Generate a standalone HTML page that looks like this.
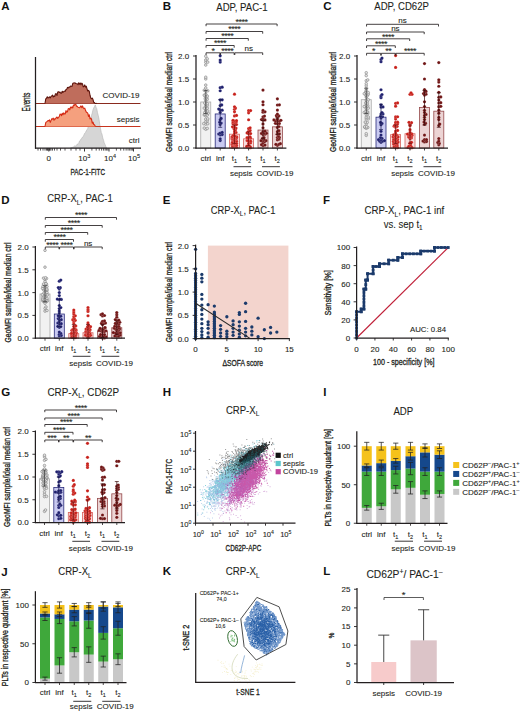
<!DOCTYPE html>
<html><head><meta charset="utf-8"><title>Figure</title>
<style>html,body{margin:0;padding:0;background:#fff;width:520px;height:712px;overflow:hidden;font-family:"Liberation Sans",sans-serif}svg{display:block}svg text:not([font-weight]){stroke:#231f20;stroke-width:0.1px;paint-order:stroke}svg text.c{stroke-width:0.32px}</style>
</head><body>
<svg width="520" height="712" viewBox="0 0 520 712" font-family='"Liberation Sans", sans-serif'>
<rect width="520" height="712" fill="#fff"/>
<text x="1.2" y="10.2" font-size="11.5" text-anchor="start" font-weight="bold" fill="#111" >A</text>
<text x="162.8" y="10.2" font-size="11.5" text-anchor="start" font-weight="bold" fill="#111" >B</text>
<text x="323.2" y="10.3" font-size="11.5" text-anchor="start" font-weight="bold" fill="#111" >C</text>
<text x="1.2" y="204" font-size="11.5" text-anchor="start" font-weight="bold" fill="#111" >D</text>
<text x="162.8" y="204" font-size="11.5" text-anchor="start" font-weight="bold" fill="#111" >E</text>
<text x="323" y="203.8" font-size="11.5" text-anchor="start" font-weight="bold" fill="#111" >F</text>
<text x="1.2" y="396" font-size="11.5" text-anchor="start" font-weight="bold" fill="#111" >G</text>
<text x="162.8" y="396" font-size="11.5" text-anchor="start" font-weight="bold" fill="#111" >H</text>
<text x="323.2" y="395.8" font-size="11.5" text-anchor="start" font-weight="bold" fill="#111" >I</text>
<text x="1.2" y="575.5" font-size="11.5" text-anchor="start" font-weight="bold" fill="#111" >J</text>
<text x="162.8" y="575.3" font-size="11.5" text-anchor="start" font-weight="bold" fill="#111" >K</text>
<text x="323.2" y="575" font-size="11.5" text-anchor="start" font-weight="bold" fill="#111" >L</text>
<text x="241.95" y="10.5" font-size="10" text-anchor="middle" fill="#231f20" textLength="51.3" lengthAdjust="spacingAndGlyphs">ADP, PAC-1</text>
<text x="401.6" y="10.1" font-size="10" text-anchor="middle" fill="#231f20" textLength="54.6" lengthAdjust="spacingAndGlyphs">ADP, CD62P</text>
<text x="80" y="202.3" font-size="10" text-anchor="middle" fill="#231f20" textLength="65.4" lengthAdjust="spacingAndGlyphs">CRP-X<tspan font-size="6.8" dy="2.5">L</tspan><tspan dy="-2.5">, PAC-1</tspan></text>
<text x="243.1" y="213.8" font-size="10" text-anchor="middle" fill="#231f20" textLength="64.6" lengthAdjust="spacingAndGlyphs">CRP-X<tspan font-size="6.8" dy="2.5">L</tspan><tspan dy="-2.5">, PAC-1</tspan></text>
<text x="404.35" y="214.2" font-size="10" text-anchor="middle" fill="#231f20" textLength="79.9" lengthAdjust="spacingAndGlyphs">CRP-X<tspan font-size="6.8" dy="2.5">L</tspan><tspan dy="-2.5">, PAC-1 inf</tspan></text>
<text x="403.25" y="227.7" font-size="10" text-anchor="middle" fill="#231f20" textLength="38.9" lengthAdjust="spacingAndGlyphs">vs. sep t<tspan font-size="6.8" dy="2.3">1</tspan></text>
<text x="83.3" y="395.9" font-size="10" text-anchor="middle" fill="#231f20" textLength="71.8" lengthAdjust="spacingAndGlyphs">CRP-X<tspan font-size="6.8" dy="2.5">L</tspan><tspan dy="-2.5">, CD62P</tspan></text>
<text x="242.6" y="413.5" font-size="10" text-anchor="middle" fill="#231f20" textLength="33.4" lengthAdjust="spacingAndGlyphs">CRP-X<tspan font-size="6.8" dy="2.5">L</tspan><tspan dy="-2.5"></tspan></text>
<text x="403.3" y="414.8" font-size="10" text-anchor="middle" fill="#231f20" textLength="19.8" lengthAdjust="spacingAndGlyphs">ADP</text>
<text x="75" y="575.2" font-size="10" text-anchor="middle" fill="#231f20" textLength="33.4" lengthAdjust="spacingAndGlyphs">CRP-X<tspan font-size="6.8" dy="2.5">L</tspan><tspan dy="-2.5"></tspan></text>
<text x="242.8" y="575" font-size="10" text-anchor="middle" fill="#231f20" textLength="33.9" lengthAdjust="spacingAndGlyphs">CRP-X<tspan font-size="6.8" dy="2.5">L</tspan><tspan dy="-2.5"></tspan></text>
<text x="404.5" y="577.6" font-size="10" text-anchor="middle" fill="#231f20" textLength="76.1" lengthAdjust="spacingAndGlyphs">CD62P<tspan font-size="6.8" dy="-3.6">+</tspan><tspan dy="3.6">/ PAC-1</tspan><tspan font-size="6.8" dy="-3.6">&#8211;</tspan></text>
<path d="M70.5 148 L70.5 148 L71.25 147.68 L72 147.78 L72.75 146.96 L73.5 146.92 L74.25 146.18 L75 145.67 L75.75 146.1 L76.5 145.72 L77.25 143.93 L78 144.39 L78.75 143.3 L79.5 140.96 L80.25 140.67 L81 138.96 L81.75 138.41 L82.5 137.03 L83.25 136.68 L84 134.78 L84.75 133.16 L85.5 132.46 L86.25 130.86 L87 129.73 L87.75 128.45 L88.5 125.09 L89.25 123.1 L90 121.32 L90.75 119.5 L91.5 115.42 L92.25 113.04 L93 109.65 L93.75 107.86 L94.5 106.59 L95.25 104.92 L96 107.21 L96.75 108.69 L97.5 112.76 L98.25 115.47 L99 119.06 L99.75 124.14 L100.5 128.58 L101.25 132.45 L102 134.26 L102.75 137.94 L103.5 140.13 L104.25 142.92 L105 144.39 L105.75 146.38 L106.5 148 Z" fill="#d6d6d6" stroke="#b4b4b4" stroke-width="0.6" />
<line x1="35.5" y1="126.5" x2="140.5" y2="126.5" stroke="#c8341e" stroke-width="1" />
<path d="M45 126.5 L45 126.5 L45.75 122.64 L46.5 121.9 L47.25 121.37 L48 120.54 L48.75 120.83 L49.5 119.89 L50.25 122.38 L51 120.61 L51.75 118.71 L52.5 119.27 L53.25 118.09 L54 120.24 L54.75 118.72 L55.5 119.01 L56.25 117.61 L57 117.06 L57.75 118.41 L58.5 117.31 L59.25 116.66 L60 114.17 L60.75 114.2 L61.5 115.69 L62.25 113.2 L63 114.86 L63.75 112.87 L64.5 113.99 L65.25 113.92 L66 110.61 L66.75 112.2 L67.5 111.66 L68.25 108.68 L69 108.51 L69.75 109.85 L70.5 107.15 L71.25 107.94 L72 106.93 L72.75 107.88 L73.5 104.96 L74.25 105.33 L75 104.26 L75.75 104.3 L76.5 106.31 L77.25 106.36 L78 107.24 L78.75 107.55 L79.5 107.81 L80.25 106.93 L81 105.84 L81.75 107.63 L82.5 105.93 L83.25 107.77 L84 108.61 L84.75 108.11 L85.5 110.31 L86.25 111.96 L87 112.56 L87.75 113.1 L88.5 116.42 L89.25 114.73 L90 119.03 L90.75 118.08 L91.5 119.15 L92.25 123.17 L93 122.08 L93.75 124.48 L94.5 124.85 L95.25 126.15 L95.25 126.5 Z" fill="#f5a07e" stroke="none" stroke-width="1" />
<path d="M45 126.5 L45 126.5 L45.75 122.64 L46.5 121.9 L47.25 121.37 L48 120.54 L48.75 120.83 L49.5 119.89 L50.25 122.38 L51 120.61 L51.75 118.71 L52.5 119.27 L53.25 118.09 L54 120.24 L54.75 118.72 L55.5 119.01 L56.25 117.61 L57 117.06 L57.75 118.41 L58.5 117.31 L59.25 116.66 L60 114.17 L60.75 114.2 L61.5 115.69 L62.25 113.2 L63 114.86 L63.75 112.87 L64.5 113.99 L65.25 113.92 L66 110.61 L66.75 112.2 L67.5 111.66 L68.25 108.68 L69 108.51 L69.75 109.85 L70.5 107.15 L71.25 107.94 L72 106.93 L72.75 107.88 L73.5 104.96 L74.25 105.33 L75 104.26 L75.75 104.3 L76.5 106.31 L77.25 106.36 L78 107.24 L78.75 107.55 L79.5 107.81 L80.25 106.93 L81 105.84 L81.75 107.63 L82.5 105.93 L83.25 107.77 L84 108.61 L84.75 108.11 L85.5 110.31 L86.25 111.96 L87 112.56 L87.75 113.1 L88.5 116.42 L89.25 114.73 L90 119.03 L90.75 118.08 L91.5 119.15 L92.25 123.17 L93 122.08 L93.75 124.48 L94.5 124.85 L95.25 126.15" fill="none" stroke="#d42a14" stroke-width="1.1" stroke-linejoin="round"/>
<line x1="35.5" y1="103.5" x2="140.5" y2="103.5" stroke="#8a2a1e" stroke-width="1" />
<path d="M45 103.5 L45 103.5 L45.75 98.92 L46.5 98.27 L47.25 96.79 L48 97.94 L48.75 97.5 L49.5 96.93 L50.25 97.91 L51 96.56 L51.75 95.88 L52.5 95.06 L53.25 97 L54 96.03 L54.75 96.41 L55.5 93.76 L56.25 93.76 L57 95.47 L57.75 92.08 L58.5 91.76 L59.25 92.38 L60 92.13 L60.75 93.22 L61.5 93.3 L62.25 91.28 L63 92.41 L63.75 91.62 L64.5 91.08 L65.25 91.35 L66 89.52 L66.75 89.14 L67.5 87.4 L68.25 87.99 L69 87.15 L69.75 87.15 L70.5 86.15 L71.25 86.3 L72 86.38 L72.75 83.57 L73.5 83.03 L74.25 82.95 L75 82.8 L75.75 83.48 L76.5 83.73 L77.25 83.78 L78 84.73 L78.75 82.74 L79.5 84.16 L80.25 82.98 L81 84.74 L81.75 83.19 L82.5 83.83 L83.25 86.82 L84 86.43 L84.75 84.94 L85.5 87.1 L86.25 86.21 L87 88.83 L87.75 90.99 L88.5 90.34 L89.25 91.36 L90 95.24 L90.75 97.87 L91.5 98.74 L92.25 98.09 L93 99.57 L93.75 102.45 L94.5 102.64 L95.25 103.5 L96 103.5 L96.75 103.33 L96.75 103.5 Z" fill="#bf6d5c" stroke="none" stroke-width="1" />
<path d="M45 103.5 L45 103.5 L45.75 98.92 L46.5 98.27 L47.25 96.79 L48 97.94 L48.75 97.5 L49.5 96.93 L50.25 97.91 L51 96.56 L51.75 95.88 L52.5 95.06 L53.25 97 L54 96.03 L54.75 96.41 L55.5 93.76 L56.25 93.76 L57 95.47 L57.75 92.08 L58.5 91.76 L59.25 92.38 L60 92.13 L60.75 93.22 L61.5 93.3 L62.25 91.28 L63 92.41 L63.75 91.62 L64.5 91.08 L65.25 91.35 L66 89.52 L66.75 89.14 L67.5 87.4 L68.25 87.99 L69 87.15 L69.75 87.15 L70.5 86.15 L71.25 86.3 L72 86.38 L72.75 83.57 L73.5 83.03 L74.25 82.95 L75 82.8 L75.75 83.48 L76.5 83.73 L77.25 83.78 L78 84.73 L78.75 82.74 L79.5 84.16 L80.25 82.98 L81 84.74 L81.75 83.19 L82.5 83.83 L83.25 86.82 L84 86.43 L84.75 84.94 L85.5 87.1 L86.25 86.21 L87 88.83 L87.75 90.99 L88.5 90.34 L89.25 91.36 L90 95.24 L90.75 97.87 L91.5 98.74 L92.25 98.09 L93 99.57 L93.75 102.45 L94.5 102.64 L95.25 103.5 L96 103.5 L96.75 103.33" fill="none" stroke="#5e140c" stroke-width="1.1" stroke-linejoin="round"/>
<line x1="35.5" y1="57" x2="35.5" y2="148.8" stroke="#231f20" stroke-width="1.25" />
<line x1="35" y1="148.2" x2="141" y2="148.2" stroke="#231f20" stroke-width="1.25" />
<line x1="48.8" y1="148.2" x2="48.8" y2="151.5" stroke="#231f20" stroke-width="0.9" />
<line x1="84.5" y1="148.2" x2="84.5" y2="151.5" stroke="#231f20" stroke-width="0.9" />
<line x1="109" y1="148.2" x2="109" y2="151.5" stroke="#231f20" stroke-width="0.9" />
<line x1="133.5" y1="148.2" x2="133.5" y2="151.5" stroke="#231f20" stroke-width="0.9" />
<line x1="91.88" y1="148.2" x2="91.88" y2="150.6" stroke="#231f20" stroke-width="0.75" />
<line x1="96.19" y1="148.2" x2="96.19" y2="150.6" stroke="#231f20" stroke-width="0.75" />
<line x1="99.25" y1="148.2" x2="99.25" y2="150.6" stroke="#231f20" stroke-width="0.75" />
<line x1="101.62" y1="148.2" x2="101.62" y2="150.6" stroke="#231f20" stroke-width="0.75" />
<line x1="103.56" y1="148.2" x2="103.56" y2="150.6" stroke="#231f20" stroke-width="0.75" />
<line x1="105.2" y1="148.2" x2="105.2" y2="150.6" stroke="#231f20" stroke-width="0.75" />
<line x1="106.63" y1="148.2" x2="106.63" y2="150.6" stroke="#231f20" stroke-width="0.75" />
<line x1="107.88" y1="148.2" x2="107.88" y2="150.6" stroke="#231f20" stroke-width="0.75" />
<line x1="116.38" y1="148.2" x2="116.38" y2="150.6" stroke="#231f20" stroke-width="0.75" />
<line x1="120.69" y1="148.2" x2="120.69" y2="150.6" stroke="#231f20" stroke-width="0.75" />
<line x1="123.75" y1="148.2" x2="123.75" y2="150.6" stroke="#231f20" stroke-width="0.75" />
<line x1="126.12" y1="148.2" x2="126.12" y2="150.6" stroke="#231f20" stroke-width="0.75" />
<line x1="128.06" y1="148.2" x2="128.06" y2="150.6" stroke="#231f20" stroke-width="0.75" />
<line x1="129.7" y1="148.2" x2="129.7" y2="150.6" stroke="#231f20" stroke-width="0.75" />
<line x1="131.13" y1="148.2" x2="131.13" y2="150.6" stroke="#231f20" stroke-width="0.75" />
<line x1="132.38" y1="148.2" x2="132.38" y2="150.6" stroke="#231f20" stroke-width="0.75" />
<line x1="38" y1="148.2" x2="38" y2="150.6" stroke="#231f20" stroke-width="0.75" />
<line x1="40.5" y1="148.2" x2="40.5" y2="150.6" stroke="#231f20" stroke-width="0.75" />
<line x1="43" y1="148.2" x2="43" y2="150.6" stroke="#231f20" stroke-width="0.75" />
<line x1="45" y1="148.2" x2="45" y2="150.6" stroke="#231f20" stroke-width="0.75" />
<line x1="46.5" y1="148.2" x2="46.5" y2="150.6" stroke="#231f20" stroke-width="0.75" />
<line x1="47.5" y1="148.2" x2="47.5" y2="150.6" stroke="#231f20" stroke-width="0.75" />
<line x1="48" y1="148.2" x2="48" y2="150.6" stroke="#231f20" stroke-width="0.75" />
<line x1="49.5" y1="148.2" x2="49.5" y2="150.6" stroke="#231f20" stroke-width="0.75" />
<line x1="50" y1="148.2" x2="50" y2="150.6" stroke="#231f20" stroke-width="0.75" />
<line x1="51" y1="148.2" x2="51" y2="150.6" stroke="#231f20" stroke-width="0.75" />
<line x1="52.5" y1="148.2" x2="52.5" y2="150.6" stroke="#231f20" stroke-width="0.75" />
<line x1="54.5" y1="148.2" x2="54.5" y2="150.6" stroke="#231f20" stroke-width="0.75" />
<line x1="57" y1="148.2" x2="57" y2="150.6" stroke="#231f20" stroke-width="0.75" />
<line x1="60.5" y1="148.2" x2="60.5" y2="150.6" stroke="#231f20" stroke-width="0.75" />
<line x1="65" y1="148.2" x2="65" y2="150.6" stroke="#231f20" stroke-width="0.75" />
<line x1="71" y1="148.2" x2="71" y2="150.6" stroke="#231f20" stroke-width="0.75" />
<line x1="76" y1="148.2" x2="76" y2="150.6" stroke="#231f20" stroke-width="0.75" />
<line x1="80" y1="148.2" x2="80" y2="150.6" stroke="#231f20" stroke-width="0.75" />
<text x="48.8" y="161" font-size="8" text-anchor="middle" fill="#231f20" >0</text>
<text x="84.3" y="161" font-size="8" text-anchor="middle" fill="#231f20">10<tspan font-size="5.5" dy="-3">3</tspan></text>
<text x="110" y="161" font-size="8" text-anchor="middle" fill="#231f20">10<tspan font-size="5.5" dy="-3">4</tspan></text>
<text x="134" y="161" font-size="8" text-anchor="middle" fill="#231f20">10<tspan font-size="5.5" dy="-3">5</tspan></text>
<text class="c" x="87.8" y="174.8" font-size="9.6" text-anchor="middle" textLength="34.4" lengthAdjust="spacingAndGlyphs" fill="#231f20">PAC-1-FITC</text>
<text class="c" x="29.9" y="102.1" font-size="10" text-anchor="middle" textLength="19" lengthAdjust="spacingAndGlyphs" fill="#231f20" transform="rotate(-90 29.9 102.1)">Events</text>
<text x="139.5" y="97.5" font-size="8" text-anchor="end" fill="#231f20" >COVID-19</text>
<text x="139.5" y="121.5" font-size="8" text-anchor="end" fill="#231f20" >sepsis</text>
<text x="139.5" y="142.5" font-size="8" text-anchor="end" fill="#231f20" >ctrl</text>
<rect x="200.75" y="102" width="10" height="46" fill="#f1f1f1" stroke="#a9a9a9" stroke-width="0.8" />
<rect x="215.2" y="113.96" width="10" height="34.04" fill="#c9caf1" stroke="#2a2b7a" stroke-width="0.8" />
<rect x="229.5" y="134.2" width="10" height="13.8" fill="#f8dede" stroke="#d8625c" stroke-width="0.8" />
<rect x="243.6" y="138.8" width="10" height="9.2" fill="#f8dede" stroke="#d8625c" stroke-width="0.8" />
<rect x="258" y="130.06" width="10" height="17.94" fill="#ecd4d4" stroke="#94494a" stroke-width="0.8" />
<rect x="272.4" y="126.84" width="10" height="21.16" fill="#ecd4d4" stroke="#94494a" stroke-width="0.8" />
<g fill="#e2e2e2" stroke="#808080" stroke-width="0.6"><circle cx="205.75" cy="129.24" r="1.3"/><circle cx="207.25" cy="128.42" r="1.3"/><circle cx="204.25" cy="128.1" r="1.3"/><circle cx="205.75" cy="124.19" r="1.3"/><circle cx="207.75" cy="123.77" r="1.3"/><circle cx="203.75" cy="123.65" r="1.3"/><circle cx="205.75" cy="121.68" r="1.3"/><circle cx="207.25" cy="120.79" r="1.3"/><circle cx="205.75" cy="119.14" r="1.3"/><circle cx="207.75" cy="118.89" r="1.3"/><circle cx="205.75" cy="115.73" r="1.3"/><circle cx="207.25" cy="115.09" r="1.3"/><circle cx="204.25" cy="114.92" r="1.3"/><circle cx="204.86" cy="114.37" r="1.3"/><circle cx="206.25" cy="113.4" r="1.3"/><circle cx="208.25" cy="113.22" r="1.3"/><circle cx="204.75" cy="112.6" r="1.3"/><circle cx="205.75" cy="110.99" r="1.3"/><circle cx="207.75" cy="110.98" r="1.3"/><circle cx="205.75" cy="108.99" r="1.3"/><circle cx="207.25" cy="108.17" r="1.3"/><circle cx="204.25" cy="108.12" r="1.3"/><circle cx="205.75" cy="106.42" r="1.3"/><circle cx="207.25" cy="105.5" r="1.3"/><circle cx="205.75" cy="104.37" r="1.3"/><circle cx="207.25" cy="103.68" r="1.3"/><circle cx="204.75" cy="103.05" r="1.3"/><circle cx="205.75" cy="100.51" r="1.3"/><circle cx="207.25" cy="99.37" r="1.3"/><circle cx="205.25" cy="98.88" r="1.3"/><circle cx="206.75" cy="97.69" r="1.3"/><circle cx="205.25" cy="96.59" r="1.3"/><circle cx="207.25" cy="96.09" r="1.3"/><circle cx="204.25" cy="95.15" r="1.3"/><circle cx="205.75" cy="94.33" r="1.3"/><circle cx="205.75" cy="91.23" r="1.3"/><circle cx="207.75" cy="90.78" r="1.3"/><circle cx="204.25" cy="90.24" r="1.3"/><circle cx="205.75" cy="88" r="1.3"/><circle cx="205.75" cy="85.07" r="1.3"/><circle cx="205.75" cy="78.95" r="1.3"/><circle cx="205.75" cy="77.18" r="1.3"/><circle cx="205.75" cy="65.05" r="1.3"/><circle cx="205.75" cy="62.25" r="1.3"/><circle cx="207.75" cy="62.12" r="1.3"/><circle cx="205.75" cy="60.01" r="1.3"/><circle cx="207.25" cy="58.8" r="1.3"/><circle cx="205.75" cy="56.25" r="1.3"/></g>
<g fill="#1e1f6e" stroke="#fff" stroke-width="0.15"><circle cx="220.2" cy="140.58" r="1.6"/><circle cx="220.2" cy="138.78" r="1.6"/><circle cx="220.2" cy="135" r="1.6"/><circle cx="222.2" cy="134.53" r="1.6"/><circle cx="218.7" cy="133.98" r="1.6"/><circle cx="220.2" cy="133.02" r="1.6"/><circle cx="222.2" cy="132.44" r="1.6"/><circle cx="220.2" cy="124.38" r="1.6"/><circle cx="221.2" cy="122.99" r="1.6"/><circle cx="219.7" cy="122.17" r="1.6"/><circle cx="220.2" cy="119.84" r="1.6"/><circle cx="221.2" cy="118.47" r="1.6"/><circle cx="220.2" cy="112.4" r="1.6"/><circle cx="220.2" cy="110.23" r="1.6"/><circle cx="222.2" cy="110.13" r="1.6"/><circle cx="218.7" cy="109.01" r="1.6"/><circle cx="220.2" cy="105.54" r="1.6"/><circle cx="221.7" cy="104.91" r="1.6"/><circle cx="220.2" cy="99.85" r="1.6"/><circle cx="222.2" cy="99.81" r="1.6"/><circle cx="220.2" cy="90.76" r="1.6"/><circle cx="220.2" cy="87.68" r="1.6"/><circle cx="222.2" cy="87.2" r="1.6"/><circle cx="220.2" cy="62.07" r="1.6"/><circle cx="220.2" cy="60.04" r="1.6"/><circle cx="220.2" cy="55.84" r="1.6"/></g>
<g fill="#c8201a" stroke="#fff" stroke-width="0.15"><circle cx="234.5" cy="147.4" r="1.6"/><circle cx="236.5" cy="147.25" r="1.6"/><circle cx="232.5" cy="147.2" r="1.6"/><circle cx="232.87" cy="146.81" r="1.6"/><circle cx="235.21" cy="146.13" r="1.6"/><circle cx="232.5" cy="146.04" r="1.6"/><circle cx="236.5" cy="145.16" r="1.6"/><circle cx="234" cy="145.03" r="1.6"/><circle cx="234.67" cy="144.67" r="1.6"/><circle cx="232" cy="144.47" r="1.6"/><circle cx="233.87" cy="144.01" r="1.6"/><circle cx="232.43" cy="144" r="1.6"/><circle cx="234.53" cy="143.69" r="1.6"/><circle cx="232.34" cy="143.68" r="1.6"/><circle cx="236.5" cy="143.32" r="1.6"/><circle cx="234.19" cy="143.18" r="1.6"/><circle cx="232.49" cy="142.44" r="1.6"/><circle cx="232.58" cy="142.35" r="1.6"/><circle cx="234.5" cy="141.21" r="1.6"/><circle cx="236.5" cy="141.13" r="1.6"/><circle cx="233" cy="140.23" r="1.6"/><circle cx="234.15" cy="140.14" r="1.6"/><circle cx="235.5" cy="139.1" r="1.6"/><circle cx="236.03" cy="139.06" r="1.6"/><circle cx="232" cy="138.74" r="1.6"/><circle cx="232.74" cy="138.64" r="1.6"/><circle cx="233.2" cy="138.37" r="1.6"/><circle cx="235.1" cy="137.92" r="1.6"/><circle cx="236.6" cy="137.84" r="1.6"/><circle cx="234.86" cy="137.66" r="1.6"/><circle cx="234.02" cy="137.34" r="1.6"/><circle cx="232" cy="136.98" r="1.6"/><circle cx="236.73" cy="136.94" r="1.6"/><circle cx="232.38" cy="136.63" r="1.6"/><circle cx="235" cy="136.04" r="1.6"/><circle cx="233.5" cy="135.38" r="1.6"/><circle cx="234.5" cy="133.09" r="1.6"/><circle cx="236" cy="132.44" r="1.6"/><circle cx="234.5" cy="131.06" r="1.6"/><circle cx="235.5" cy="129.64" r="1.6"/><circle cx="234" cy="128.79" r="1.6"/><circle cx="236" cy="128.04" r="1.6"/><circle cx="234.5" cy="127.14" r="1.6"/><circle cx="232.5" cy="126.82" r="1.6"/><circle cx="234.5" cy="124.77" r="1.6"/><circle cx="236.5" cy="124.49" r="1.6"/><circle cx="233" cy="123.7" r="1.6"/><circle cx="234.5" cy="123" r="1.6"/><circle cx="236" cy="122.31" r="1.6"/><circle cx="233" cy="122.02" r="1.6"/><circle cx="234.5" cy="121.06" r="1.6"/><circle cx="236.5" cy="120.67" r="1.6"/><circle cx="233" cy="120.24" r="1.6"/><circle cx="234.5" cy="115.96" r="1.6"/><circle cx="236.5" cy="115.44" r="1.6"/><circle cx="234.5" cy="111.8" r="1.6"/><circle cx="234.5" cy="109.37" r="1.6"/><circle cx="235.5" cy="108.03" r="1.6"/><circle cx="234.5" cy="106.73" r="1.6"/><circle cx="234.5" cy="94.22" r="1.6"/></g>
<g fill="#c8201a" stroke="#fff" stroke-width="0.15"><circle cx="248.6" cy="147.73" r="1.6"/><circle cx="250.6" cy="147.71" r="1.6"/><circle cx="247.1" cy="146.92" r="1.6"/><circle cx="250.28" cy="146.91" r="1.6"/><circle cx="247.62" cy="146.54" r="1.6"/><circle cx="246.94" cy="146.46" r="1.6"/><circle cx="246.81" cy="146.38" r="1.6"/><circle cx="248.6" cy="145.04" r="1.6"/><circle cx="248.6" cy="143.34" r="1.6"/><circle cx="250.6" cy="142.86" r="1.6"/><circle cx="248.6" cy="141.28" r="1.6"/><circle cx="250.6" cy="141.17" r="1.6"/><circle cx="247.1" cy="140.6" r="1.6"/><circle cx="247.7" cy="140.46" r="1.6"/><circle cx="248.6" cy="138.21" r="1.6"/><circle cx="250.6" cy="138.03" r="1.6"/><circle cx="247.1" cy="137.59" r="1.6"/><circle cx="250.08" cy="136.97" r="1.6"/><circle cx="248.6" cy="133.83" r="1.6"/><circle cx="250.6" cy="133.54" r="1.6"/><circle cx="247.1" cy="132.96" r="1.6"/><circle cx="248.6" cy="131.28" r="1.6"/><circle cx="250.1" cy="130.42" r="1.6"/><circle cx="248.6" cy="128.55" r="1.6"/><circle cx="250.1" cy="127.83" r="1.6"/><circle cx="248.6" cy="119.76" r="1.6"/><circle cx="248.6" cy="112.81" r="1.6"/><circle cx="248.6" cy="110.6" r="1.6"/><circle cx="250.6" cy="110.59" r="1.6"/></g>
<g fill="#701515" stroke="#fff" stroke-width="0.15"><circle cx="263" cy="145.57" r="1.6"/><circle cx="265" cy="145.03" r="1.6"/><circle cx="261.5" cy="144.68" r="1.6"/><circle cx="263" cy="142.88" r="1.6"/><circle cx="264.5" cy="141.63" r="1.6"/><circle cx="263" cy="140.95" r="1.6"/><circle cx="261" cy="140.72" r="1.6"/><circle cx="266" cy="140.65" r="1.6"/><circle cx="264" cy="139.44" r="1.6"/><circle cx="262.5" cy="138.23" r="1.6"/><circle cx="264" cy="137.6" r="1.6"/><circle cx="263" cy="134.48" r="1.6"/><circle cx="265" cy="134.25" r="1.6"/><circle cx="261.5" cy="133.4" r="1.6"/><circle cx="266.5" cy="133.23" r="1.6"/><circle cx="264" cy="132.97" r="1.6"/><circle cx="263" cy="131.63" r="1.6"/><circle cx="265" cy="131.2" r="1.6"/><circle cx="263" cy="127.79" r="1.6"/><circle cx="263" cy="123.89" r="1.6"/><circle cx="263" cy="120.25" r="1.6"/><circle cx="265" cy="119.93" r="1.6"/><circle cx="261.5" cy="119.49" r="1.6"/><circle cx="263" cy="118.54" r="1.6"/><circle cx="263" cy="116.73" r="1.6"/><circle cx="264.5" cy="116.08" r="1.6"/><circle cx="263" cy="112.15" r="1.6"/><circle cx="265" cy="111.81" r="1.6"/><circle cx="263" cy="110.47" r="1.6"/><circle cx="263" cy="104.75" r="1.6"/><circle cx="263" cy="101.83" r="1.6"/><circle cx="263" cy="90.06" r="1.6"/></g>
<g fill="#701515" stroke="#fff" stroke-width="0.15"><circle cx="277.4" cy="145.34" r="1.6"/><circle cx="278.9" cy="144.35" r="1.6"/><circle cx="275.9" cy="144.3" r="1.6"/><circle cx="280.4" cy="143.72" r="1.6"/><circle cx="277.4" cy="139.85" r="1.6"/><circle cx="278.9" cy="139.16" r="1.6"/><circle cx="277.4" cy="137.56" r="1.6"/><circle cx="279.4" cy="137.46" r="1.6"/><circle cx="278.4" cy="136.18" r="1.6"/><circle cx="277.4" cy="134.27" r="1.6"/><circle cx="279.4" cy="133.84" r="1.6"/><circle cx="277.4" cy="131.72" r="1.6"/><circle cx="278.9" cy="130.72" r="1.6"/><circle cx="277.4" cy="127.42" r="1.6"/><circle cx="278.9" cy="126.51" r="1.6"/><circle cx="277.4" cy="123.67" r="1.6"/><circle cx="279.4" cy="123.49" r="1.6"/><circle cx="275.4" cy="123.32" r="1.6"/><circle cx="277.4" cy="121.09" r="1.6"/><circle cx="279.4" cy="121.03" r="1.6"/><circle cx="275.4" cy="120.84" r="1.6"/><circle cx="280.9" cy="120.31" r="1.6"/><circle cx="273.9" cy="119.96" r="1.6"/><circle cx="277.4" cy="119.46" r="1.6"/><circle cx="277.4" cy="117.13" r="1.6"/><circle cx="278.9" cy="115.96" r="1.6"/><circle cx="276.4" cy="115.65" r="1.6"/><circle cx="277.4" cy="114.14" r="1.6"/><circle cx="277.4" cy="110.1" r="1.6"/><circle cx="277.4" cy="105.02" r="1.6"/><circle cx="279.4" cy="104.86" r="1.6"/><circle cx="277.4" cy="98.79" r="1.6"/></g>
<line x1="205.75" y1="113.5" x2="205.75" y2="90.5" stroke="#3a3a3a" stroke-width="0.7" />
<line x1="203.75" y1="113.5" x2="207.75" y2="113.5" stroke="#3a3a3a" stroke-width="0.7" />
<line x1="203.75" y1="90.5" x2="207.75" y2="90.5" stroke="#3a3a3a" stroke-width="0.7" />
<line x1="220.2" y1="127.3" x2="220.2" y2="99.7" stroke="#15154a" stroke-width="0.7" />
<line x1="218.2" y1="127.3" x2="222.2" y2="127.3" stroke="#15154a" stroke-width="0.7" />
<line x1="218.2" y1="99.7" x2="222.2" y2="99.7" stroke="#15154a" stroke-width="0.7" />
<line x1="234.5" y1="143.4" x2="234.5" y2="125" stroke="#6a0c0c" stroke-width="0.7" />
<line x1="232.5" y1="143.4" x2="236.5" y2="143.4" stroke="#6a0c0c" stroke-width="0.7" />
<line x1="232.5" y1="125" x2="236.5" y2="125" stroke="#6a0c0c" stroke-width="0.7" />
<line x1="248.6" y1="145.7" x2="248.6" y2="131.9" stroke="#6a0c0c" stroke-width="0.7" />
<line x1="246.6" y1="145.7" x2="250.6" y2="145.7" stroke="#6a0c0c" stroke-width="0.7" />
<line x1="246.6" y1="131.9" x2="250.6" y2="131.9" stroke="#6a0c0c" stroke-width="0.7" />
<line x1="263" y1="138.8" x2="263" y2="120.4" stroke="#3a0808" stroke-width="0.7" />
<line x1="261" y1="138.8" x2="265" y2="138.8" stroke="#3a0808" stroke-width="0.7" />
<line x1="261" y1="120.4" x2="265" y2="120.4" stroke="#3a0808" stroke-width="0.7" />
<line x1="277.4" y1="134.2" x2="277.4" y2="118.1" stroke="#3a0808" stroke-width="0.7" />
<line x1="275.4" y1="134.2" x2="279.4" y2="134.2" stroke="#3a0808" stroke-width="0.7" />
<line x1="275.4" y1="118.1" x2="279.4" y2="118.1" stroke="#3a0808" stroke-width="0.7" />
<line x1="196" y1="55" x2="196" y2="148.6" stroke="#231f20" stroke-width="1.25" />
<line x1="195.4" y1="148" x2="286.4" y2="148" stroke="#231f20" stroke-width="1.25" />
<line x1="193" y1="148" x2="196" y2="148" stroke="#231f20" stroke-width="0.9" />
<text x="189.2" y="150.9" font-size="8" text-anchor="end" fill="#231f20" >0.0</text>
<line x1="193" y1="125" x2="196" y2="125" stroke="#231f20" stroke-width="0.9" />
<text x="189.2" y="127.9" font-size="8" text-anchor="end" fill="#231f20" >0.5</text>
<line x1="193" y1="102" x2="196" y2="102" stroke="#231f20" stroke-width="0.9" />
<text x="189.2" y="104.9" font-size="8" text-anchor="end" fill="#231f20" >1.0</text>
<line x1="193" y1="79" x2="196" y2="79" stroke="#231f20" stroke-width="0.9" />
<text x="189.2" y="81.9" font-size="8" text-anchor="end" fill="#231f20" >1.5</text>
<line x1="193" y1="56" x2="196" y2="56" stroke="#231f20" stroke-width="0.9" />
<text x="189.2" y="58.9" font-size="8" text-anchor="end" fill="#231f20" >2.0</text>
<line x1="205.75" y1="148" x2="205.75" y2="150.5" stroke="#231f20" stroke-width="0.8" />
<line x1="220.2" y1="148" x2="220.2" y2="150.5" stroke="#231f20" stroke-width="0.8" />
<line x1="234.5" y1="148" x2="234.5" y2="150.5" stroke="#231f20" stroke-width="0.8" />
<line x1="248.6" y1="148" x2="248.6" y2="150.5" stroke="#231f20" stroke-width="0.8" />
<line x1="263" y1="148" x2="263" y2="150.5" stroke="#231f20" stroke-width="0.8" />
<line x1="277.4" y1="148" x2="277.4" y2="150.5" stroke="#231f20" stroke-width="0.8" />
<text x="205.75" y="161.3" font-size="8" text-anchor="middle" fill="#231f20" >ctrl</text>
<text x="220.2" y="161.3" font-size="8" text-anchor="middle" fill="#231f20" >inf</text>
<text x="234.3" y="161.3" font-size="8" text-anchor="middle" fill="#231f20">t<tspan font-size="5.5" dy="2">1</tspan></text>
<text x="248.4" y="161.3" font-size="8" text-anchor="middle" fill="#231f20">t<tspan font-size="5.5" dy="2">2</tspan></text>
<text x="262.8" y="161.3" font-size="8" text-anchor="middle" fill="#231f20">t<tspan font-size="5.5" dy="2">1</tspan></text>
<text x="277.2" y="161.3" font-size="8" text-anchor="middle" fill="#231f20">t<tspan font-size="5.5" dy="2">2</tspan></text>
<line x1="233.5" y1="166.7" x2="251.1" y2="166.7" stroke="#231f20" stroke-width="0.9" />
<line x1="262" y1="166.7" x2="279.9" y2="166.7" stroke="#231f20" stroke-width="0.9" />
<text x="241.25" y="175.6" font-size="8" text-anchor="middle" fill="#231f20" >sepsis</text>
<text x="256.6" y="175.6" font-size="8" text-anchor="start" fill="#231f20" >COVID-19</text>
<text class="c" x="172.3" y="102" font-size="9.6" text-anchor="middle" textLength="100" lengthAdjust="spacingAndGlyphs" fill="#231f20" transform="rotate(-90 172.3 102)">GeoMFI sample/ideal median ctrl</text>
<path d="M206.05 26.2 V24 H277.1 V26.2" fill="none" stroke="#231f20" stroke-width="0.85" />
<text x="241.57" y="24.9" font-size="9" text-anchor="middle" fill="#231f20" letter-spacing="-0.5">****</text>
<path d="M206.05 33.7 V31.5 H262.7 V33.7" fill="none" stroke="#231f20" stroke-width="0.85" />
<text x="234.38" y="32.4" font-size="9" text-anchor="middle" fill="#231f20" letter-spacing="-0.5">****</text>
<path d="M206.05 40.7 V38.5 H248.3 V40.7" fill="none" stroke="#231f20" stroke-width="0.85" />
<text x="227.18" y="39.4" font-size="9" text-anchor="middle" fill="#231f20" letter-spacing="-0.5">****</text>
<path d="M206.05 47.7 V45.5 H234.2 V47.7" fill="none" stroke="#231f20" stroke-width="0.85" />
<text x="220.12" y="46.4" font-size="9" text-anchor="middle" fill="#231f20" letter-spacing="-0.5">****</text>
<path d="M206.05 55 V52.8 H219.9 V55" fill="none" stroke="#231f20" stroke-width="0.85" />
<text x="212.97" y="53.7" font-size="9" text-anchor="middle" fill="#231f20" letter-spacing="-0.5">*</text>
<path d="M220.5 55 V52.8 H234.2 V55" fill="none" stroke="#231f20" stroke-width="0.85" />
<text x="227.35" y="53.7" font-size="9" text-anchor="middle" fill="#231f20" letter-spacing="-0.5">****</text>
<path d="M234.8 55 V52.8 H262.7 V55" fill="none" stroke="#231f20" stroke-width="0.85" />
<text x="248.75" y="51.4" font-size="8" text-anchor="middle" fill="#231f20" >ns</text>
<rect x="361.25" y="99.7" width="10" height="48.3" fill="#f1f1f1" stroke="#a9a9a9" stroke-width="0.8" />
<rect x="376" y="117.18" width="10" height="30.82" fill="#c9caf1" stroke="#2a2b7a" stroke-width="0.8" />
<rect x="390.6" y="134.66" width="10" height="13.34" fill="#f8dede" stroke="#d8625c" stroke-width="0.8" />
<rect x="405" y="133.74" width="10" height="14.26" fill="#f8dede" stroke="#d8625c" stroke-width="0.8" />
<rect x="419.5" y="107.52" width="10" height="40.48" fill="#ecd4d4" stroke="#94494a" stroke-width="0.8" />
<rect x="433.8" y="111.2" width="10" height="36.8" fill="#ecd4d4" stroke="#94494a" stroke-width="0.8" />
<g fill="#e2e2e2" stroke="#808080" stroke-width="0.6"><circle cx="366.25" cy="135.37" r="1.3"/><circle cx="366.25" cy="133.7" r="1.3"/><circle cx="366.25" cy="128.31" r="1.3"/><circle cx="367.75" cy="127.45" r="1.3"/><circle cx="364.75" cy="127.17" r="1.3"/><circle cx="364.64" cy="126.81" r="1.3"/><circle cx="366.66" cy="126.81" r="1.3"/><circle cx="366.25" cy="123.77" r="1.3"/><circle cx="367.25" cy="122.41" r="1.3"/><circle cx="365.25" cy="122.08" r="1.3"/><circle cx="366.25" cy="118.95" r="1.3"/><circle cx="368.25" cy="118.85" r="1.3"/><circle cx="366.25" cy="117.16" r="1.3"/><circle cx="368.25" cy="117" r="1.3"/><circle cx="366.25" cy="114.51" r="1.3"/><circle cx="367.75" cy="113.7" r="1.3"/><circle cx="366.25" cy="112.87" r="1.3"/><circle cx="364.25" cy="112.55" r="1.3"/><circle cx="367.75" cy="112.08" r="1.3"/><circle cx="366.95" cy="111.86" r="1.3"/><circle cx="365.61" cy="111.52" r="1.3"/><circle cx="366.25" cy="108.64" r="1.3"/><circle cx="368.25" cy="108.11" r="1.3"/><circle cx="366.25" cy="106.71" r="1.3"/><circle cx="364.25" cy="106.51" r="1.3"/><circle cx="367.75" cy="105.82" r="1.3"/><circle cx="366.25" cy="105.07" r="1.3"/><circle cx="367.25" cy="103.63" r="1.3"/><circle cx="365.75" cy="102.86" r="1.3"/><circle cx="367.25" cy="101.59" r="1.3"/><circle cx="366.25" cy="100.09" r="1.3"/><circle cx="368.25" cy="99.7" r="1.3"/><circle cx="366.25" cy="97.03" r="1.3"/><circle cx="367.25" cy="95.65" r="1.3"/><circle cx="365.75" cy="94.79" r="1.3"/><circle cx="368.25" cy="94.36" r="1.3"/><circle cx="364.25" cy="93.73" r="1.3"/><circle cx="366.75" cy="93.35" r="1.3"/><circle cx="368.25" cy="92.65" r="1.3"/><circle cx="365.75" cy="92.04" r="1.3"/><circle cx="366.25" cy="90.27" r="1.3"/><circle cx="366.25" cy="88.53" r="1.3"/><circle cx="366.25" cy="85.8" r="1.3"/><circle cx="366.25" cy="83.73" r="1.3"/><circle cx="366.25" cy="80.73" r="1.3"/><circle cx="367.75" cy="79.93" r="1.3"/><circle cx="366.25" cy="75.61" r="1.3"/><circle cx="366.25" cy="72.73" r="1.3"/></g>
<g fill="#1e1f6e" stroke="#fff" stroke-width="0.15"><circle cx="381" cy="142.34" r="1.6"/><circle cx="382.5" cy="141.2" r="1.6"/><circle cx="379.5" cy="141.12" r="1.6"/><circle cx="384.5" cy="140.66" r="1.6"/><circle cx="381" cy="139.85" r="1.6"/><circle cx="378.5" cy="139.67" r="1.6"/><circle cx="382" cy="138.33" r="1.6"/><circle cx="380.5" cy="137.58" r="1.6"/><circle cx="381" cy="134.98" r="1.6"/><circle cx="381" cy="131.37" r="1.6"/><circle cx="381" cy="124.66" r="1.6"/><circle cx="382" cy="123.38" r="1.6"/><circle cx="380.5" cy="122.45" r="1.6"/><circle cx="381" cy="117.92" r="1.6"/><circle cx="382.5" cy="116.76" r="1.6"/><circle cx="380.5" cy="116.28" r="1.6"/><circle cx="381" cy="114.11" r="1.6"/><circle cx="383" cy="113.93" r="1.6"/><circle cx="382" cy="112.6" r="1.6"/><circle cx="381" cy="107.05" r="1.6"/><circle cx="383" cy="106.94" r="1.6"/><circle cx="381" cy="104.93" r="1.6"/><circle cx="381" cy="97.65" r="1.6"/><circle cx="381" cy="95.88" r="1.6"/><circle cx="382" cy="94.52" r="1.6"/><circle cx="381" cy="89.73" r="1.6"/><circle cx="381" cy="61.77" r="1.6"/><circle cx="381" cy="59.48" r="1.6"/><circle cx="382" cy="58.06" r="1.6"/></g>
<g fill="#c8201a" stroke="#fff" stroke-width="0.15"><circle cx="395.6" cy="147.72" r="1.6"/><circle cx="397.6" cy="147.54" r="1.6"/><circle cx="394.1" cy="146.79" r="1.6"/><circle cx="395.82" cy="146.54" r="1.6"/><circle cx="397.1" cy="145.44" r="1.6"/><circle cx="395.6" cy="144.4" r="1.6"/><circle cx="393.6" cy="144.05" r="1.6"/><circle cx="397.1" cy="143.52" r="1.6"/><circle cx="395.6" cy="142.52" r="1.6"/><circle cx="393.6" cy="142.18" r="1.6"/><circle cx="398.1" cy="142.01" r="1.6"/><circle cx="393.55" cy="141.61" r="1.6"/><circle cx="393.54" cy="141.35" r="1.6"/><circle cx="396.6" cy="141" r="1.6"/><circle cx="395.6" cy="139.7" r="1.6"/><circle cx="397.6" cy="139.55" r="1.6"/><circle cx="393.6" cy="139.42" r="1.6"/><circle cx="394.22" cy="139.39" r="1.6"/><circle cx="396.6" cy="138.18" r="1.6"/><circle cx="396.44" cy="137.93" r="1.6"/><circle cx="394.6" cy="137.5" r="1.6"/><circle cx="398.1" cy="136.92" r="1.6"/><circle cx="393.1" cy="136.83" r="1.6"/><circle cx="395.26" cy="136.53" r="1.6"/><circle cx="394.73" cy="135.9" r="1.6"/><circle cx="396.6" cy="135.23" r="1.6"/><circle cx="393.6" cy="134.73" r="1.6"/><circle cx="396" cy="134.67" r="1.6"/><circle cx="395.6" cy="132.93" r="1.6"/><circle cx="395.6" cy="131.05" r="1.6"/><circle cx="397.6" cy="130.47" r="1.6"/><circle cx="395.6" cy="127.14" r="1.6"/><circle cx="397.1" cy="126.29" r="1.6"/><circle cx="394.1" cy="126.15" r="1.6"/><circle cx="395.38" cy="126.1" r="1.6"/><circle cx="394.66" cy="125.57" r="1.6"/><circle cx="395.6" cy="124.25" r="1.6"/><circle cx="397.6" cy="123.84" r="1.6"/><circle cx="395.6" cy="122.47" r="1.6"/><circle cx="397.6" cy="122.21" r="1.6"/><circle cx="395.6" cy="119.08" r="1.6"/><circle cx="395.6" cy="116.93" r="1.6"/><circle cx="397.6" cy="116.75" r="1.6"/><circle cx="395.6" cy="106.19" r="1.6"/><circle cx="395.6" cy="103.35" r="1.6"/><circle cx="397.6" cy="102.92" r="1.6"/><circle cx="395.6" cy="67.43" r="1.6"/><circle cx="395.6" cy="55.54" r="1.6"/></g>
<g fill="#c8201a" stroke="#fff" stroke-width="0.15"><circle cx="410" cy="147.91" r="1.6"/><circle cx="412" cy="147.71" r="1.6"/><circle cx="408" cy="147.45" r="1.6"/><circle cx="411" cy="146.44" r="1.6"/><circle cx="409" cy="146.09" r="1.6"/><circle cx="410.5" cy="144.85" r="1.6"/><circle cx="410" cy="142.94" r="1.6"/><circle cx="411.5" cy="142.29" r="1.6"/><circle cx="410" cy="138.62" r="1.6"/><circle cx="411.5" cy="137.78" r="1.6"/><circle cx="409" cy="137.23" r="1.6"/><circle cx="411.38" cy="137.08" r="1.6"/><circle cx="410.93" cy="136.97" r="1.6"/><circle cx="408.8" cy="136.77" r="1.6"/><circle cx="410.35" cy="136.03" r="1.6"/><circle cx="412" cy="135.35" r="1.6"/><circle cx="409" cy="135.04" r="1.6"/><circle cx="410.12" cy="134.64" r="1.6"/><circle cx="407.5" cy="134.11" r="1.6"/><circle cx="411.76" cy="133.97" r="1.6"/><circle cx="410" cy="132.43" r="1.6"/><circle cx="410" cy="129.69" r="1.6"/><circle cx="410" cy="125.66" r="1.6"/><circle cx="410" cy="123.79" r="1.6"/><circle cx="411.5" cy="122.67" r="1.6"/><circle cx="409" cy="122.3" r="1.6"/><circle cx="410" cy="94.34" r="1.6"/><circle cx="412" cy="94.28" r="1.6"/><circle cx="411" cy="92.84" r="1.6"/></g>
<g fill="#701515" stroke="#fff" stroke-width="0.15"><circle cx="424.5" cy="141.89" r="1.6"/><circle cx="426.5" cy="141.56" r="1.6"/><circle cx="423" cy="141.04" r="1.6"/><circle cx="424.5" cy="139.68" r="1.6"/><circle cx="426.5" cy="139.66" r="1.6"/><circle cx="424.5" cy="135.12" r="1.6"/><circle cx="424.5" cy="124.46" r="1.6"/><circle cx="425.5" cy="123.19" r="1.6"/><circle cx="424" cy="122.01" r="1.6"/><circle cx="424.5" cy="119.6" r="1.6"/><circle cx="424.5" cy="117.24" r="1.6"/><circle cx="424.5" cy="115.47" r="1.6"/><circle cx="426" cy="114.42" r="1.6"/><circle cx="424.5" cy="112.47" r="1.6"/><circle cx="424.5" cy="110.3" r="1.6"/><circle cx="424.5" cy="106.6" r="1.6"/><circle cx="424.5" cy="101.76" r="1.6"/><circle cx="424.5" cy="95.03" r="1.6"/><circle cx="426" cy="94.22" r="1.6"/><circle cx="423.5" cy="93.54" r="1.6"/><circle cx="424.5" cy="92.03" r="1.6"/><circle cx="426" cy="91.43" r="1.6"/><circle cx="424.5" cy="89.61" r="1.6"/><circle cx="424.5" cy="78.99" r="1.6"/><circle cx="424.5" cy="63.53" r="1.6"/></g>
<g fill="#701515" stroke="#fff" stroke-width="0.15"><circle cx="438.8" cy="144.82" r="1.6"/><circle cx="439.3" cy="143.28" r="1.6"/><circle cx="437.8" cy="142.4" r="1.6"/><circle cx="438.8" cy="141.05" r="1.6"/><circle cx="438.8" cy="138.54" r="1.6"/><circle cx="438.8" cy="125.45" r="1.6"/><circle cx="439.8" cy="124.05" r="1.6"/><circle cx="438.8" cy="119.54" r="1.6"/><circle cx="438.8" cy="117.38" r="1.6"/><circle cx="438.8" cy="113.13" r="1.6"/><circle cx="438.8" cy="110.16" r="1.6"/><circle cx="438.8" cy="106.72" r="1.6"/><circle cx="440.8" cy="106.37" r="1.6"/><circle cx="438.8" cy="103" r="1.6"/><circle cx="440.8" cy="102.67" r="1.6"/><circle cx="438.8" cy="100.04" r="1.6"/><circle cx="438.8" cy="97.23" r="1.6"/><circle cx="440.8" cy="96.95" r="1.6"/><circle cx="438.8" cy="92.24" r="1.6"/><circle cx="438.8" cy="86.23" r="1.6"/><circle cx="438.8" cy="82.03" r="1.6"/><circle cx="438.8" cy="79.83" r="1.6"/><circle cx="438.8" cy="62.55" r="1.6"/></g>
<line x1="366.25" y1="113.5" x2="366.25" y2="88.2" stroke="#3a3a3a" stroke-width="0.7" />
<line x1="364.25" y1="113.5" x2="368.25" y2="113.5" stroke="#3a3a3a" stroke-width="0.7" />
<line x1="364.25" y1="88.2" x2="368.25" y2="88.2" stroke="#3a3a3a" stroke-width="0.7" />
<line x1="381" y1="129.6" x2="381" y2="104.3" stroke="#15154a" stroke-width="0.7" />
<line x1="379" y1="129.6" x2="383" y2="129.6" stroke="#15154a" stroke-width="0.7" />
<line x1="379" y1="104.3" x2="383" y2="104.3" stroke="#15154a" stroke-width="0.7" />
<line x1="395.6" y1="143.4" x2="395.6" y2="125" stroke="#6a0c0c" stroke-width="0.7" />
<line x1="393.6" y1="143.4" x2="397.6" y2="143.4" stroke="#6a0c0c" stroke-width="0.7" />
<line x1="393.6" y1="125" x2="397.6" y2="125" stroke="#6a0c0c" stroke-width="0.7" />
<line x1="410" y1="143.4" x2="410" y2="125" stroke="#6a0c0c" stroke-width="0.7" />
<line x1="408" y1="143.4" x2="412" y2="143.4" stroke="#6a0c0c" stroke-width="0.7" />
<line x1="408" y1="125" x2="412" y2="125" stroke="#6a0c0c" stroke-width="0.7" />
<line x1="424.5" y1="125" x2="424.5" y2="90.5" stroke="#3a0808" stroke-width="0.7" />
<line x1="422.5" y1="125" x2="426.5" y2="125" stroke="#3a0808" stroke-width="0.7" />
<line x1="422.5" y1="90.5" x2="426.5" y2="90.5" stroke="#3a0808" stroke-width="0.7" />
<line x1="438.8" y1="127.3" x2="438.8" y2="92.8" stroke="#3a0808" stroke-width="0.7" />
<line x1="436.8" y1="127.3" x2="440.8" y2="127.3" stroke="#3a0808" stroke-width="0.7" />
<line x1="436.8" y1="92.8" x2="440.8" y2="92.8" stroke="#3a0808" stroke-width="0.7" />
<line x1="357" y1="55" x2="357" y2="148.6" stroke="#231f20" stroke-width="1.25" />
<line x1="356.4" y1="148" x2="448" y2="148" stroke="#231f20" stroke-width="1.25" />
<line x1="354" y1="148" x2="357" y2="148" stroke="#231f20" stroke-width="0.9" />
<text x="350.2" y="150.9" font-size="8" text-anchor="end" fill="#231f20" >0.0</text>
<line x1="354" y1="125" x2="357" y2="125" stroke="#231f20" stroke-width="0.9" />
<text x="350.2" y="127.9" font-size="8" text-anchor="end" fill="#231f20" >0.5</text>
<line x1="354" y1="102" x2="357" y2="102" stroke="#231f20" stroke-width="0.9" />
<text x="350.2" y="104.9" font-size="8" text-anchor="end" fill="#231f20" >1.0</text>
<line x1="354" y1="79" x2="357" y2="79" stroke="#231f20" stroke-width="0.9" />
<text x="350.2" y="81.9" font-size="8" text-anchor="end" fill="#231f20" >1.5</text>
<line x1="354" y1="56" x2="357" y2="56" stroke="#231f20" stroke-width="0.9" />
<text x="350.2" y="58.9" font-size="8" text-anchor="end" fill="#231f20" >2.0</text>
<line x1="366.25" y1="148" x2="366.25" y2="150.5" stroke="#231f20" stroke-width="0.8" />
<line x1="381" y1="148" x2="381" y2="150.5" stroke="#231f20" stroke-width="0.8" />
<line x1="395.6" y1="148" x2="395.6" y2="150.5" stroke="#231f20" stroke-width="0.8" />
<line x1="410" y1="148" x2="410" y2="150.5" stroke="#231f20" stroke-width="0.8" />
<line x1="424.5" y1="148" x2="424.5" y2="150.5" stroke="#231f20" stroke-width="0.8" />
<line x1="438.8" y1="148" x2="438.8" y2="150.5" stroke="#231f20" stroke-width="0.8" />
<text x="366.25" y="161.3" font-size="8" text-anchor="middle" fill="#231f20" >ctrl</text>
<text x="381" y="161.3" font-size="8" text-anchor="middle" fill="#231f20" >inf</text>
<text x="395.4" y="161.3" font-size="8" text-anchor="middle" fill="#231f20">t<tspan font-size="5.5" dy="2">1</tspan></text>
<text x="409.8" y="161.3" font-size="8" text-anchor="middle" fill="#231f20">t<tspan font-size="5.5" dy="2">2</tspan></text>
<text x="424.3" y="161.3" font-size="8" text-anchor="middle" fill="#231f20">t<tspan font-size="5.5" dy="2">1</tspan></text>
<text x="438.6" y="161.3" font-size="8" text-anchor="middle" fill="#231f20">t<tspan font-size="5.5" dy="2">2</tspan></text>
<line x1="394.6" y1="166.7" x2="412.5" y2="166.7" stroke="#231f20" stroke-width="0.9" />
<line x1="423.5" y1="166.7" x2="441.3" y2="166.7" stroke="#231f20" stroke-width="0.9" />
<text x="402.5" y="175.6" font-size="8" text-anchor="middle" fill="#231f20" >sepsis</text>
<text x="418.1" y="175.6" font-size="8" text-anchor="start" fill="#231f20" >COVID-19</text>
<text class="c" x="336.2" y="102" font-size="9.6" text-anchor="middle" textLength="100" lengthAdjust="spacingAndGlyphs" fill="#231f20" transform="rotate(-90 336.2 102)">GeoMFI sample/ideal median ctrl</text>
<path d="M366.55 26.5 V24.3 H438.5 V26.5" fill="none" stroke="#231f20" stroke-width="0.85" />
<text x="402.52" y="22.9" font-size="8" text-anchor="middle" fill="#231f20" >ns</text>
<path d="M366.55 34.2 V32 H424.2 V34.2" fill="none" stroke="#231f20" stroke-width="0.85" />
<text x="395.38" y="30.6" font-size="8" text-anchor="middle" fill="#231f20" >ns</text>
<path d="M366.55 41 V38.8 H409.7 V41" fill="none" stroke="#231f20" stroke-width="0.85" />
<text x="388.12" y="39.7" font-size="9" text-anchor="middle" fill="#231f20" letter-spacing="-0.5">****</text>
<path d="M366.55 48 V45.8 H395.3 V48" fill="none" stroke="#231f20" stroke-width="0.85" />
<text x="380.93" y="46.7" font-size="9" text-anchor="middle" fill="#231f20" letter-spacing="-0.5">****</text>
<path d="M366.55 55.5 V53.3 H380.7 V55.5" fill="none" stroke="#231f20" stroke-width="0.85" />
<text x="373.62" y="54.2" font-size="9" text-anchor="middle" fill="#231f20" letter-spacing="-0.5">*</text>
<path d="M381.3 55.5 V53.3 H395.3 V55.5" fill="none" stroke="#231f20" stroke-width="0.85" />
<text x="388.3" y="54.2" font-size="9" text-anchor="middle" fill="#231f20" letter-spacing="-0.5">**</text>
<path d="M395.9 55.5 V53.3 H424.2 V55.5" fill="none" stroke="#231f20" stroke-width="0.85" />
<text x="410.05" y="54.2" font-size="9" text-anchor="middle" fill="#231f20" letter-spacing="-0.5">****</text>
<rect x="40" y="293.97" width="10" height="44.23" fill="#f1f1f1" stroke="#a9a9a9" stroke-width="0.8" />
<rect x="54.3" y="314.03" width="10" height="24.17" fill="#c9caf1" stroke="#2a2b7a" stroke-width="0.8" />
<rect x="68.8" y="333.64" width="10" height="4.56" fill="#f8dede" stroke="#d8625c" stroke-width="0.8" />
<rect x="83" y="332.73" width="10" height="5.47" fill="#f8dede" stroke="#d8625c" stroke-width="0.8" />
<rect x="97.5" y="331.36" width="10" height="6.84" fill="#ecd4d4" stroke="#94494a" stroke-width="0.8" />
<rect x="111.8" y="327.71" width="10" height="10.49" fill="#ecd4d4" stroke="#94494a" stroke-width="0.8" />
<g fill="#e2e2e2" stroke="#808080" stroke-width="0.6"><circle cx="45" cy="311.11" r="1.3"/><circle cx="47" cy="310.55" r="1.3"/><circle cx="45" cy="308.46" r="1.3"/><circle cx="46" cy="306.94" r="1.3"/><circle cx="45" cy="303.29" r="1.3"/><circle cx="45" cy="301.56" r="1.3"/><circle cx="47" cy="301.19" r="1.3"/><circle cx="43" cy="301.08" r="1.3"/><circle cx="46.16" cy="301.03" r="1.3"/><circle cx="43.93" cy="300.82" r="1.3"/><circle cx="47.42" cy="300.44" r="1.3"/><circle cx="43.08" cy="300.38" r="1.3"/><circle cx="44.59" cy="299.99" r="1.3"/><circle cx="46.3" cy="299.76" r="1.3"/><circle cx="43.25" cy="299.68" r="1.3"/><circle cx="44.94" cy="299.59" r="1.3"/><circle cx="42.68" cy="298.86" r="1.3"/><circle cx="47" cy="298.28" r="1.3"/><circle cx="45" cy="297.2" r="1.3"/><circle cx="43" cy="297.01" r="1.3"/><circle cx="46" cy="295.77" r="1.3"/><circle cx="44" cy="295.73" r="1.3"/><circle cx="47.5" cy="294.82" r="1.3"/><circle cx="42.5" cy="294.68" r="1.3"/><circle cx="45" cy="294.33" r="1.3"/><circle cx="45.85" cy="293.76" r="1.3"/><circle cx="44" cy="293.01" r="1.3"/><circle cx="47" cy="292.35" r="1.3"/><circle cx="45" cy="290.46" r="1.3"/><circle cx="47" cy="290.31" r="1.3"/><circle cx="43.5" cy="289.8" r="1.3"/><circle cx="46.33" cy="289.43" r="1.3"/><circle cx="45.37" cy="289.11" r="1.3"/><circle cx="46.89" cy="289.07" r="1.3"/><circle cx="44.06" cy="288.7" r="1.3"/><circle cx="42.5" cy="288.28" r="1.3"/><circle cx="45" cy="286.82" r="1.3"/><circle cx="47" cy="286.57" r="1.3"/><circle cx="43" cy="286.37" r="1.3"/><circle cx="45" cy="285" r="1.3"/><circle cx="46.5" cy="284.23" r="1.3"/><circle cx="43.5" cy="284.04" r="1.3"/><circle cx="45.98" cy="283.67" r="1.3"/><circle cx="45" cy="281.35" r="1.3"/><circle cx="45" cy="279.33" r="1.3"/><circle cx="46.5" cy="278.55" r="1.3"/><circle cx="43.5" cy="278.1" r="1.3"/><circle cx="45.48" cy="277.73" r="1.3"/><circle cx="45" cy="267.16" r="1.3"/><circle cx="45" cy="250.34" r="1.3"/></g>
<g fill="#1e1f6e" stroke="#fff" stroke-width="0.15"><circle cx="59.3" cy="335.75" r="1.6"/><circle cx="61.3" cy="335.42" r="1.6"/><circle cx="59.3" cy="334.13" r="1.6"/><circle cx="60.8" cy="333.38" r="1.6"/><circle cx="59.3" cy="331.98" r="1.6"/><circle cx="59.3" cy="327.33" r="1.6"/><circle cx="60.8" cy="326.58" r="1.6"/><circle cx="57.8" cy="326.35" r="1.6"/><circle cx="59.3" cy="323.86" r="1.6"/><circle cx="61.3" cy="323.71" r="1.6"/><circle cx="57.8" cy="322.99" r="1.6"/><circle cx="59.3" cy="321.8" r="1.6"/><circle cx="59.3" cy="319.87" r="1.6"/><circle cx="61.3" cy="319.64" r="1.6"/><circle cx="58.3" cy="318.59" r="1.6"/><circle cx="59.3" cy="317.09" r="1.6"/><circle cx="60.8" cy="316.22" r="1.6"/><circle cx="58.3" cy="315.67" r="1.6"/><circle cx="59.3" cy="313.06" r="1.6"/><circle cx="59.3" cy="310.91" r="1.6"/><circle cx="59.3" cy="308.61" r="1.6"/><circle cx="60.8" cy="307.57" r="1.6"/><circle cx="59.3" cy="305.48" r="1.6"/><circle cx="59.3" cy="299.54" r="1.6"/><circle cx="61.3" cy="299.47" r="1.6"/><circle cx="57.3" cy="299.12" r="1.6"/><circle cx="59.82" cy="299.07" r="1.6"/><circle cx="59.3" cy="295.6" r="1.6"/><circle cx="59.3" cy="292.48" r="1.6"/><circle cx="59.3" cy="289.09" r="1.6"/><circle cx="60.3" cy="287.64" r="1.6"/><circle cx="58.3" cy="287.6" r="1.6"/><circle cx="59.3" cy="281.17" r="1.6"/><circle cx="60.8" cy="280.05" r="1.6"/></g>
<g fill="#c8201a" stroke="#fff" stroke-width="0.15"><circle cx="73.8" cy="337.61" r="1.6"/><circle cx="75.8" cy="337.54" r="1.6"/><circle cx="71.8" cy="337.52" r="1.6"/><circle cx="73.8" cy="335.9" r="1.6"/><circle cx="75.8" cy="335.81" r="1.6"/><circle cx="71.8" cy="335.65" r="1.6"/><circle cx="73.6" cy="335.61" r="1.6"/><circle cx="75.39" cy="335.47" r="1.6"/><circle cx="75.88" cy="334.52" r="1.6"/><circle cx="72.8" cy="334.17" r="1.6"/><circle cx="73.68" cy="333.75" r="1.6"/><circle cx="71.3" cy="333.53" r="1.6"/><circle cx="74.57" cy="333.22" r="1.6"/><circle cx="71.74" cy="333.21" r="1.6"/><circle cx="76.3" cy="332.73" r="1.6"/><circle cx="74.74" cy="332.26" r="1.6"/><circle cx="74.49" cy="332.21" r="1.6"/><circle cx="73.8" cy="330.62" r="1.6"/><circle cx="75.8" cy="330.53" r="1.6"/><circle cx="71.8" cy="330.31" r="1.6"/><circle cx="76.11" cy="329.88" r="1.6"/><circle cx="75.31" cy="329.6" r="1.6"/><circle cx="72.79" cy="329.6" r="1.6"/><circle cx="73.27" cy="329.44" r="1.6"/><circle cx="74.3" cy="328.12" r="1.6"/><circle cx="73.8" cy="326.31" r="1.6"/><circle cx="75.8" cy="325.9" r="1.6"/><circle cx="73.8" cy="323" r="1.6"/><circle cx="73.8" cy="321.08" r="1.6"/><circle cx="75.3" cy="320.29" r="1.6"/><circle cx="72.8" cy="319.67" r="1.6"/><circle cx="74.3" cy="318.79" r="1.6"/><circle cx="73.8" cy="316.68" r="1.6"/><circle cx="75.3" cy="315.77" r="1.6"/><circle cx="73.8" cy="313.96" r="1.6"/><circle cx="73.8" cy="312.04" r="1.6"/><circle cx="73.8" cy="310.02" r="1.6"/></g>
<g fill="#c8201a" stroke="#fff" stroke-width="0.15"><circle cx="88" cy="337.48" r="1.6"/><circle cx="89" cy="336.19" r="1.6"/><circle cx="87" cy="336.09" r="1.6"/><circle cx="88.79" cy="335.92" r="1.6"/><circle cx="90.5" cy="335.29" r="1.6"/><circle cx="85.5" cy="335.23" r="1.6"/><circle cx="85.77" cy="334.72" r="1.6"/><circle cx="88" cy="334.11" r="1.6"/><circle cx="90" cy="333.67" r="1.6"/><circle cx="87.82" cy="333.39" r="1.6"/><circle cx="86" cy="332.75" r="1.6"/><circle cx="89" cy="331.97" r="1.6"/><circle cx="86.45" cy="331.94" r="1.6"/><circle cx="86.21" cy="331.89" r="1.6"/><circle cx="85.94" cy="331.49" r="1.6"/><circle cx="89.26" cy="331.43" r="1.6"/><circle cx="86.27" cy="330.88" r="1.6"/><circle cx="88" cy="329.91" r="1.6"/><circle cx="90" cy="329.88" r="1.6"/><circle cx="86.82" cy="329.65" r="1.6"/><circle cx="87.49" cy="329.59" r="1.6"/><circle cx="89.74" cy="329.42" r="1.6"/><circle cx="86.04" cy="329.02" r="1.6"/><circle cx="87.76" cy="328.9" r="1.6"/><circle cx="89" cy="327.61" r="1.6"/><circle cx="87.5" cy="326.94" r="1.6"/><circle cx="90.5" cy="326.66" r="1.6"/><circle cx="88.5" cy="325.53" r="1.6"/><circle cx="88" cy="322.97" r="1.6"/><circle cx="88" cy="315.75" r="1.6"/><circle cx="88" cy="311.43" r="1.6"/><circle cx="88" cy="309.68" r="1.6"/><circle cx="88" cy="307.49" r="1.6"/></g>
<g fill="#701515" stroke="#fff" stroke-width="0.15"><circle cx="102.5" cy="338.02" r="1.6"/><circle cx="104.5" cy="338.01" r="1.6"/><circle cx="101" cy="337.34" r="1.6"/><circle cx="106" cy="336.86" r="1.6"/><circle cx="103.5" cy="336.74" r="1.6"/><circle cx="99.5" cy="336.4" r="1.6"/><circle cx="102.5" cy="334.69" r="1.6"/><circle cx="104.5" cy="334.57" r="1.6"/><circle cx="100.5" cy="334.53" r="1.6"/><circle cx="102.5" cy="331.79" r="1.6"/><circle cx="104.5" cy="331.43" r="1.6"/><circle cx="101" cy="331" r="1.6"/><circle cx="106" cy="330.76" r="1.6"/><circle cx="99" cy="330.46" r="1.6"/><circle cx="102.82" cy="330.34" r="1.6"/><circle cx="101.5" cy="329.13" r="1.6"/><circle cx="103.5" cy="328.88" r="1.6"/><circle cx="100" cy="328.42" r="1.6"/><circle cx="105" cy="327.71" r="1.6"/><circle cx="104.98" cy="327.65" r="1.6"/><circle cx="102.5" cy="324.76" r="1.6"/><circle cx="103.5" cy="323.4" r="1.6"/><circle cx="101.5" cy="323.2" r="1.6"/><circle cx="105.5" cy="323.04" r="1.6"/><circle cx="102.5" cy="321.27" r="1.6"/><circle cx="104.5" cy="320.93" r="1.6"/><circle cx="102.5" cy="315.9" r="1.6"/><circle cx="104.5" cy="315.5" r="1.6"/><circle cx="101" cy="314.66" r="1.6"/><circle cx="102.5" cy="313.91" r="1.6"/></g>
<g fill="#701515" stroke="#fff" stroke-width="0.15"><circle cx="116.8" cy="336.24" r="1.6"/><circle cx="118.8" cy="336.16" r="1.6"/><circle cx="114.8" cy="336" r="1.6"/><circle cx="120.3" cy="335.02" r="1.6"/><circle cx="116.8" cy="333.89" r="1.6"/><circle cx="118.3" cy="333.06" r="1.6"/><circle cx="115.3" cy="332.98" r="1.6"/><circle cx="120.3" cy="332.82" r="1.6"/><circle cx="113.3" cy="332.54" r="1.6"/><circle cx="116.8" cy="330.68" r="1.6"/><circle cx="118.8" cy="330.35" r="1.6"/><circle cx="115.8" cy="329.21" r="1.6"/><circle cx="117.8" cy="329.06" r="1.6"/><circle cx="119.8" cy="328.66" r="1.6"/><circle cx="114.3" cy="328.19" r="1.6"/><circle cx="118.87" cy="328.05" r="1.6"/><circle cx="116.8" cy="326.73" r="1.6"/><circle cx="118.8" cy="326.3" r="1.6"/><circle cx="114.8" cy="326.18" r="1.6"/><circle cx="116.8" cy="324.2" r="1.6"/><circle cx="118.8" cy="324.18" r="1.6"/><circle cx="115.3" cy="323.41" r="1.6"/><circle cx="117.8" cy="322.69" r="1.6"/><circle cx="119.8" cy="322.26" r="1.6"/><circle cx="116.8" cy="320.34" r="1.6"/><circle cx="118.8" cy="320.22" r="1.6"/><circle cx="115.3" cy="319.57" r="1.6"/><circle cx="116.8" cy="317.15" r="1.6"/><circle cx="116.8" cy="314.72" r="1.6"/><circle cx="116.8" cy="312.61" r="1.6"/></g>
<line x1="45" y1="301.72" x2="45" y2="285.76" stroke="#3a3a3a" stroke-width="0.7" />
<line x1="43" y1="301.72" x2="47" y2="301.72" stroke="#3a3a3a" stroke-width="0.7" />
<line x1="43" y1="285.76" x2="47" y2="285.76" stroke="#3a3a3a" stroke-width="0.7" />
<line x1="59.3" y1="326.8" x2="59.3" y2="299.44" stroke="#15154a" stroke-width="0.7" />
<line x1="57.3" y1="326.8" x2="61.3" y2="326.8" stroke="#15154a" stroke-width="0.7" />
<line x1="57.3" y1="299.44" x2="61.3" y2="299.44" stroke="#15154a" stroke-width="0.7" />
<line x1="73.8" y1="338.2" x2="73.8" y2="324.52" stroke="#6a0c0c" stroke-width="0.7" />
<line x1="71.8" y1="338.2" x2="75.8" y2="338.2" stroke="#6a0c0c" stroke-width="0.7" />
<line x1="71.8" y1="324.52" x2="75.8" y2="324.52" stroke="#6a0c0c" stroke-width="0.7" />
<line x1="88" y1="338.2" x2="88" y2="324.52" stroke="#6a0c0c" stroke-width="0.7" />
<line x1="86" y1="338.2" x2="90" y2="338.2" stroke="#6a0c0c" stroke-width="0.7" />
<line x1="86" y1="324.52" x2="90" y2="324.52" stroke="#6a0c0c" stroke-width="0.7" />
<line x1="102.5" y1="337.29" x2="102.5" y2="324.52" stroke="#3a0808" stroke-width="0.7" />
<line x1="100.5" y1="337.29" x2="104.5" y2="337.29" stroke="#3a0808" stroke-width="0.7" />
<line x1="100.5" y1="324.52" x2="104.5" y2="324.52" stroke="#3a0808" stroke-width="0.7" />
<line x1="116.8" y1="334.55" x2="116.8" y2="320.87" stroke="#3a0808" stroke-width="0.7" />
<line x1="114.8" y1="334.55" x2="118.8" y2="334.55" stroke="#3a0808" stroke-width="0.7" />
<line x1="114.8" y1="320.87" x2="118.8" y2="320.87" stroke="#3a0808" stroke-width="0.7" />
<line x1="35.4" y1="246" x2="35.4" y2="338.8" stroke="#231f20" stroke-width="1.25" />
<line x1="34.8" y1="338.2" x2="125" y2="338.2" stroke="#231f20" stroke-width="1.25" />
<line x1="32.4" y1="338.2" x2="35.4" y2="338.2" stroke="#231f20" stroke-width="0.9" />
<text x="28.6" y="341.1" font-size="8" text-anchor="end" fill="#231f20" >0.0</text>
<line x1="32.4" y1="315.4" x2="35.4" y2="315.4" stroke="#231f20" stroke-width="0.9" />
<text x="28.6" y="318.3" font-size="8" text-anchor="end" fill="#231f20" >0.5</text>
<line x1="32.4" y1="292.6" x2="35.4" y2="292.6" stroke="#231f20" stroke-width="0.9" />
<text x="28.6" y="295.5" font-size="8" text-anchor="end" fill="#231f20" >1.0</text>
<line x1="32.4" y1="269.8" x2="35.4" y2="269.8" stroke="#231f20" stroke-width="0.9" />
<text x="28.6" y="272.7" font-size="8" text-anchor="end" fill="#231f20" >1.5</text>
<line x1="32.4" y1="247" x2="35.4" y2="247" stroke="#231f20" stroke-width="0.9" />
<text x="28.6" y="249.9" font-size="8" text-anchor="end" fill="#231f20" >2.0</text>
<line x1="45" y1="338.2" x2="45" y2="340.7" stroke="#231f20" stroke-width="0.8" />
<line x1="59.3" y1="338.2" x2="59.3" y2="340.7" stroke="#231f20" stroke-width="0.8" />
<line x1="73.8" y1="338.2" x2="73.8" y2="340.7" stroke="#231f20" stroke-width="0.8" />
<line x1="88" y1="338.2" x2="88" y2="340.7" stroke="#231f20" stroke-width="0.8" />
<line x1="102.5" y1="338.2" x2="102.5" y2="340.7" stroke="#231f20" stroke-width="0.8" />
<line x1="116.8" y1="338.2" x2="116.8" y2="340.7" stroke="#231f20" stroke-width="0.8" />
<text x="45" y="351.4" font-size="8" text-anchor="middle" fill="#231f20" >ctrl</text>
<text x="59.3" y="351.4" font-size="8" text-anchor="middle" fill="#231f20" >inf</text>
<text x="73.6" y="351.4" font-size="8" text-anchor="middle" fill="#231f20">t<tspan font-size="5.5" dy="2">1</tspan></text>
<text x="87.8" y="351.4" font-size="8" text-anchor="middle" fill="#231f20">t<tspan font-size="5.5" dy="2">2</tspan></text>
<text x="102.3" y="351.4" font-size="8" text-anchor="middle" fill="#231f20">t<tspan font-size="5.5" dy="2">1</tspan></text>
<text x="116.6" y="351.4" font-size="8" text-anchor="middle" fill="#231f20">t<tspan font-size="5.5" dy="2">2</tspan></text>
<line x1="72.8" y1="356.3" x2="90.5" y2="356.3" stroke="#231f20" stroke-width="0.9" />
<line x1="101.5" y1="356.3" x2="119.3" y2="356.3" stroke="#231f20" stroke-width="0.9" />
<text x="80.6" y="365.8" font-size="8" text-anchor="middle" fill="#231f20" >sepsis</text>
<text x="96.1" y="365.8" font-size="8" text-anchor="start" fill="#231f20" >COVID-19</text>
<text class="c" x="11.2" y="292.6" font-size="9.6" text-anchor="middle" textLength="100" lengthAdjust="spacingAndGlyphs" fill="#231f20" transform="rotate(-90 11.2 292.6)">GeoMFI sample/ideal median ctrl</text>
<path d="M45.3 219.7 V217.5 H116.5 V219.7" fill="none" stroke="#231f20" stroke-width="0.85" />
<text x="80.9" y="218.4" font-size="9" text-anchor="middle" fill="#231f20" letter-spacing="-0.5">****</text>
<path d="M45.3 227.7 V225.5 H102.2 V227.7" fill="none" stroke="#231f20" stroke-width="0.85" />
<text x="73.75" y="226.4" font-size="9" text-anchor="middle" fill="#231f20" letter-spacing="-0.5">****</text>
<path d="M45.3 234.7 V232.5 H87.7 V234.7" fill="none" stroke="#231f20" stroke-width="0.85" />
<text x="66.5" y="233.4" font-size="9" text-anchor="middle" fill="#231f20" letter-spacing="-0.5">****</text>
<path d="M45.3 241.7 V239.5 H73.5 V241.7" fill="none" stroke="#231f20" stroke-width="0.85" />
<text x="59.4" y="240.4" font-size="9" text-anchor="middle" fill="#231f20" letter-spacing="-0.5">****</text>
<path d="M45.3 249.2 V247 H59 V249.2" fill="none" stroke="#231f20" stroke-width="0.85" />
<text x="52.15" y="247.9" font-size="9" text-anchor="middle" fill="#231f20" letter-spacing="-0.5">****</text>
<path d="M59.6 249.2 V247 H73.5 V249.2" fill="none" stroke="#231f20" stroke-width="0.85" />
<text x="66.55" y="247.9" font-size="9" text-anchor="middle" fill="#231f20" letter-spacing="-0.5">****</text>
<path d="M74.1 249.2 V247 H102.2 V249.2" fill="none" stroke="#231f20" stroke-width="0.85" />
<text x="88.15" y="245.6" font-size="8" text-anchor="middle" fill="#231f20" >ns</text>
<rect x="39.5" y="478.82" width="10" height="43.68" fill="#f1f1f1" stroke="#a9a9a9" stroke-width="0.8" />
<rect x="53.8" y="487.46" width="10" height="35.04" fill="#c9caf1" stroke="#2a2b7a" stroke-width="0.8" />
<rect x="68.3" y="512.49" width="10" height="10.01" fill="#f8dede" stroke="#d8625c" stroke-width="0.8" />
<rect x="82.5" y="512.49" width="10" height="10.01" fill="#f8dede" stroke="#d8625c" stroke-width="0.8" />
<rect x="97.5" y="498.38" width="10" height="24.12" fill="#ecd4d4" stroke="#94494a" stroke-width="0.8" />
<rect x="111.8" y="493.83" width="10" height="28.67" fill="#ecd4d4" stroke="#94494a" stroke-width="0.8" />
<g fill="#e2e2e2" stroke="#808080" stroke-width="0.6"><circle cx="44.5" cy="511.34" r="1.3"/><circle cx="45.5" cy="509.99" r="1.3"/><circle cx="44.5" cy="496.58" r="1.3"/><circle cx="46.5" cy="496.4" r="1.3"/><circle cx="44.5" cy="494.26" r="1.3"/><circle cx="44.5" cy="491.77" r="1.3"/><circle cx="44.5" cy="488.59" r="1.3"/><circle cx="46.5" cy="488.25" r="1.3"/><circle cx="44.5" cy="486.96" r="1.3"/><circle cx="46" cy="486.13" r="1.3"/><circle cx="43" cy="485.72" r="1.3"/><circle cx="44.5" cy="484.06" r="1.3"/><circle cx="46" cy="483.17" r="1.3"/><circle cx="43" cy="482.99" r="1.3"/><circle cx="44.5" cy="482.12" r="1.3"/><circle cx="45.5" cy="480.72" r="1.3"/><circle cx="43.5" cy="480.59" r="1.3"/><circle cx="46.33" cy="480.3" r="1.3"/><circle cx="43.38" cy="480.15" r="1.3"/><circle cx="44.07" cy="480.13" r="1.3"/><circle cx="42" cy="479.02" r="1.3"/><circle cx="43.79" cy="478.96" r="1.3"/><circle cx="45.5" cy="478.88" r="1.3"/><circle cx="47" cy="478.06" r="1.3"/><circle cx="46.44" cy="477.65" r="1.3"/><circle cx="44.5" cy="477.36" r="1.3"/><circle cx="42.5" cy="477.29" r="1.3"/><circle cx="46.81" cy="476.99" r="1.3"/><circle cx="42.74" cy="476.81" r="1.3"/><circle cx="42.87" cy="476.37" r="1.3"/><circle cx="45.5" cy="475.83" r="1.3"/><circle cx="43.15" cy="475.32" r="1.3"/><circle cx="47" cy="475" r="1.3"/><circle cx="43.16" cy="474.74" r="1.3"/><circle cx="44.5" cy="473.78" r="1.3"/><circle cx="44.42" cy="473.75" r="1.3"/><circle cx="46" cy="472.59" r="1.3"/><circle cx="43.5" cy="472.37" r="1.3"/><circle cx="44.95" cy="471.93" r="1.3"/><circle cx="42" cy="471.65" r="1.3"/><circle cx="44" cy="470.62" r="1.3"/><circle cx="46" cy="470.48" r="1.3"/><circle cx="43.3" cy="470.41" r="1.3"/><circle cx="44.5" cy="468.95" r="1.3"/><circle cx="44.5" cy="465.53" r="1.3"/><circle cx="44.5" cy="460.34" r="1.3"/><circle cx="46" cy="459.35" r="1.3"/><circle cx="44.5" cy="456.93" r="1.3"/><circle cx="44.5" cy="455.2" r="1.3"/></g>
<g fill="#1e1f6e" stroke="#fff" stroke-width="0.15"><circle cx="58.8" cy="518.7" r="1.6"/><circle cx="60.8" cy="518.28" r="1.6"/><circle cx="58.8" cy="515.6" r="1.6"/><circle cx="60.8" cy="515.31" r="1.6"/><circle cx="57.3" cy="514.8" r="1.6"/><circle cx="58.8" cy="512.69" r="1.6"/><circle cx="58.8" cy="507.51" r="1.6"/><circle cx="58.8" cy="505.37" r="1.6"/><circle cx="60.8" cy="505.34" r="1.6"/><circle cx="59.8" cy="504.01" r="1.6"/><circle cx="58.8" cy="499.47" r="1.6"/><circle cx="60.3" cy="498.45" r="1.6"/><circle cx="58.8" cy="497.43" r="1.6"/><circle cx="60.3" cy="496.36" r="1.6"/><circle cx="58.8" cy="492.79" r="1.6"/><circle cx="60.8" cy="492.35" r="1.6"/><circle cx="57.3" cy="492.17" r="1.6"/><circle cx="55.3" cy="492.06" r="1.6"/><circle cx="58.8" cy="490.79" r="1.6"/><circle cx="60.8" cy="490.58" r="1.6"/><circle cx="58.8" cy="485.67" r="1.6"/><circle cx="58.8" cy="481.98" r="1.6"/><circle cx="60.3" cy="481.06" r="1.6"/><circle cx="58.8" cy="476.7" r="1.6"/><circle cx="60.3" cy="475.84" r="1.6"/><circle cx="58.8" cy="473.88" r="1.6"/><circle cx="60.3" cy="472.81" r="1.6"/><circle cx="58.8" cy="471.93" r="1.6"/><circle cx="56.8" cy="471.82" r="1.6"/><circle cx="61.8" cy="471.63" r="1.6"/></g>
<g fill="#c8201a" stroke="#fff" stroke-width="0.15"><circle cx="73.3" cy="522.36" r="1.6"/><circle cx="74.3" cy="520.84" r="1.6"/><circle cx="72.8" cy="519.82" r="1.6"/><circle cx="75.8" cy="519.77" r="1.6"/><circle cx="70.8" cy="519.69" r="1.6"/><circle cx="70.98" cy="519.65" r="1.6"/><circle cx="74.3" cy="519.12" r="1.6"/><circle cx="72.92" cy="519.03" r="1.6"/><circle cx="71.3" cy="518.03" r="1.6"/><circle cx="73.3" cy="516.96" r="1.6"/><circle cx="75.3" cy="516.87" r="1.6"/><circle cx="70.8" cy="516.42" r="1.6"/><circle cx="72.69" cy="515.95" r="1.6"/><circle cx="74.3" cy="515.48" r="1.6"/><circle cx="73.61" cy="515.25" r="1.6"/><circle cx="75.42" cy="515.12" r="1.6"/><circle cx="71.3" cy="514.88" r="1.6"/><circle cx="74.19" cy="514.38" r="1.6"/><circle cx="73.37" cy="513.73" r="1.6"/><circle cx="73.85" cy="513.68" r="1.6"/><circle cx="74.12" cy="513.67" r="1.6"/><circle cx="71.8" cy="513.21" r="1.6"/><circle cx="75.8" cy="512.96" r="1.6"/><circle cx="71.21" cy="512.79" r="1.6"/><circle cx="73.3" cy="510.57" r="1.6"/><circle cx="74.8" cy="509.68" r="1.6"/><circle cx="71.8" cy="509.54" r="1.6"/><circle cx="75.17" cy="509.05" r="1.6"/><circle cx="73.3" cy="505.12" r="1.6"/><circle cx="75.3" cy="504.82" r="1.6"/><circle cx="71.8" cy="503.88" r="1.6"/><circle cx="73.3" cy="502.25" r="1.6"/><circle cx="75.3" cy="501.67" r="1.6"/><circle cx="71.8" cy="501.11" r="1.6"/><circle cx="74.61" cy="501.09" r="1.6"/><circle cx="75.05" cy="501.08" r="1.6"/><circle cx="74.69" cy="500.19" r="1.6"/><circle cx="73.3" cy="494.15" r="1.6"/><circle cx="74.8" cy="493.05" r="1.6"/><circle cx="73.3" cy="491.61" r="1.6"/><circle cx="73.3" cy="489.88" r="1.6"/><circle cx="73.3" cy="486.21" r="1.6"/><circle cx="74.3" cy="484.72" r="1.6"/><circle cx="73.3" cy="480.41" r="1.6"/></g>
<g fill="#c8201a" stroke="#fff" stroke-width="0.15"><circle cx="87.5" cy="522.31" r="1.6"/><circle cx="89.5" cy="522.16" r="1.6"/><circle cx="86" cy="521.39" r="1.6"/><circle cx="87.5" cy="520.65" r="1.6"/><circle cx="87.5" cy="518.95" r="1.6"/><circle cx="89.5" cy="518.82" r="1.6"/><circle cx="85.5" cy="518.59" r="1.6"/><circle cx="87" cy="517.64" r="1.6"/><circle cx="87.03" cy="517.53" r="1.6"/><circle cx="89" cy="516.92" r="1.6"/><circle cx="85.5" cy="516.74" r="1.6"/><circle cx="87.5" cy="515.6" r="1.6"/><circle cx="90" cy="515.46" r="1.6"/><circle cx="86" cy="514.93" r="1.6"/><circle cx="85.64" cy="514.7" r="1.6"/><circle cx="88.5" cy="514.1" r="1.6"/><circle cx="88.13" cy="513.56" r="1.6"/><circle cx="86.5" cy="513.21" r="1.6"/><circle cx="90" cy="512.74" r="1.6"/><circle cx="85.45" cy="512.68" r="1.6"/><circle cx="85.48" cy="512.59" r="1.6"/><circle cx="86.14" cy="512.47" r="1.6"/><circle cx="85.92" cy="512.2" r="1.6"/><circle cx="87.5" cy="511.31" r="1.6"/><circle cx="89.5" cy="511.03" r="1.6"/><circle cx="85" cy="510.77" r="1.6"/><circle cx="86.5" cy="509.99" r="1.6"/><circle cx="88" cy="508.87" r="1.6"/><circle cx="86" cy="508.44" r="1.6"/><circle cx="89.5" cy="507.71" r="1.6"/><circle cx="87.5" cy="500.22" r="1.6"/><circle cx="89" cy="498.98" r="1.6"/><circle cx="87.5" cy="497.02" r="1.6"/><circle cx="87.5" cy="490.8" r="1.6"/><circle cx="87.5" cy="467.51" r="1.6"/><circle cx="87.5" cy="465.6" r="1.6"/><circle cx="87.5" cy="463.79" r="1.6"/><circle cx="87.5" cy="457.35" r="1.6"/><circle cx="87.5" cy="443.29" r="1.6"/></g>
<g fill="#701515" stroke="#fff" stroke-width="0.15"><circle cx="102.5" cy="518.75" r="1.6"/><circle cx="104.5" cy="518.6" r="1.6"/><circle cx="100.5" cy="518.33" r="1.6"/><circle cx="102.5" cy="515.02" r="1.6"/><circle cx="102.5" cy="506.37" r="1.6"/><circle cx="104.5" cy="505.92" r="1.6"/><circle cx="102.5" cy="504.27" r="1.6"/><circle cx="104" cy="503.41" r="1.6"/><circle cx="102.5" cy="502.49" r="1.6"/><circle cx="104" cy="501.5" r="1.6"/><circle cx="101" cy="501.48" r="1.6"/><circle cx="102.5" cy="499.95" r="1.6"/><circle cx="103.5" cy="498.62" r="1.6"/><circle cx="101.5" cy="498.61" r="1.6"/><circle cx="105" cy="497.67" r="1.6"/><circle cx="102.5" cy="493.7" r="1.6"/><circle cx="104" cy="492.53" r="1.6"/><circle cx="102" cy="492.16" r="1.6"/><circle cx="102.5" cy="489.78" r="1.6"/><circle cx="104.5" cy="489.48" r="1.6"/><circle cx="102.5" cy="485.09" r="1.6"/><circle cx="104.5" cy="484.85" r="1.6"/><circle cx="102.5" cy="480.03" r="1.6"/><circle cx="102.5" cy="477.3" r="1.6"/><circle cx="104.5" cy="477.14" r="1.6"/><circle cx="102.5" cy="470.37" r="1.6"/><circle cx="104" cy="469.65" r="1.6"/><circle cx="101.5" cy="469.04" r="1.6"/><circle cx="103" cy="467.85" r="1.6"/><circle cx="101.5" cy="467.11" r="1.6"/></g>
<g fill="#701515" stroke="#fff" stroke-width="0.15"><circle cx="116.8" cy="517.34" r="1.6"/><circle cx="116.8" cy="513.33" r="1.6"/><circle cx="116.8" cy="510.44" r="1.6"/><circle cx="116.8" cy="507.44" r="1.6"/><circle cx="116.8" cy="505.4" r="1.6"/><circle cx="118.8" cy="505.31" r="1.6"/><circle cx="114.8" cy="505.2" r="1.6"/><circle cx="120.3" cy="504.47" r="1.6"/><circle cx="116.8" cy="502.67" r="1.6"/><circle cx="116.8" cy="500.27" r="1.6"/><circle cx="117.8" cy="498.99" r="1.6"/><circle cx="116.3" cy="498.18" r="1.6"/><circle cx="116.8" cy="495.5" r="1.6"/><circle cx="116.8" cy="492.48" r="1.6"/><circle cx="116.8" cy="490.36" r="1.6"/><circle cx="118.3" cy="489.26" r="1.6"/><circle cx="116.8" cy="488.23" r="1.6"/><circle cx="118.3" cy="487.14" r="1.6"/><circle cx="116.8" cy="486.17" r="1.6"/><circle cx="118.3" cy="484.99" r="1.6"/><circle cx="116.8" cy="465.77" r="1.6"/><circle cx="116.8" cy="461.33" r="1.6"/><circle cx="118.8" cy="461.3" r="1.6"/></g>
<line x1="44.5" y1="486.1" x2="44.5" y2="470.18" stroke="#3a3a3a" stroke-width="0.7" />
<line x1="42.5" y1="486.1" x2="46.5" y2="486.1" stroke="#3a3a3a" stroke-width="0.7" />
<line x1="42.5" y1="470.18" x2="46.5" y2="470.18" stroke="#3a3a3a" stroke-width="0.7" />
<line x1="58.8" y1="502.02" x2="58.8" y2="477" stroke="#15154a" stroke-width="0.7" />
<line x1="56.8" y1="502.02" x2="60.8" y2="502.02" stroke="#15154a" stroke-width="0.7" />
<line x1="56.8" y1="477" x2="60.8" y2="477" stroke="#15154a" stroke-width="0.7" />
<line x1="73.3" y1="520.23" x2="73.3" y2="502.02" stroke="#6a0c0c" stroke-width="0.7" />
<line x1="71.3" y1="520.23" x2="75.3" y2="520.23" stroke="#6a0c0c" stroke-width="0.7" />
<line x1="71.3" y1="502.02" x2="75.3" y2="502.02" stroke="#6a0c0c" stroke-width="0.7" />
<line x1="87.5" y1="520.23" x2="87.5" y2="499.75" stroke="#6a0c0c" stroke-width="0.7" />
<line x1="85.5" y1="520.23" x2="89.5" y2="520.23" stroke="#6a0c0c" stroke-width="0.7" />
<line x1="85.5" y1="499.75" x2="89.5" y2="499.75" stroke="#6a0c0c" stroke-width="0.7" />
<line x1="102.5" y1="508.85" x2="102.5" y2="483.82" stroke="#3a0808" stroke-width="0.7" />
<line x1="100.5" y1="508.85" x2="104.5" y2="508.85" stroke="#3a0808" stroke-width="0.7" />
<line x1="100.5" y1="483.82" x2="104.5" y2="483.82" stroke="#3a0808" stroke-width="0.7" />
<line x1="116.8" y1="508.85" x2="116.8" y2="481.55" stroke="#3a0808" stroke-width="0.7" />
<line x1="114.8" y1="508.85" x2="118.8" y2="508.85" stroke="#3a0808" stroke-width="0.7" />
<line x1="114.8" y1="481.55" x2="118.8" y2="481.55" stroke="#3a0808" stroke-width="0.7" />
<line x1="35.4" y1="430.5" x2="35.4" y2="523.1" stroke="#231f20" stroke-width="1.25" />
<line x1="34.8" y1="522.5" x2="125" y2="522.5" stroke="#231f20" stroke-width="1.25" />
<line x1="32.4" y1="522.5" x2="35.4" y2="522.5" stroke="#231f20" stroke-width="0.9" />
<text x="28.6" y="525.4" font-size="8" text-anchor="end" fill="#231f20" >0.0</text>
<line x1="32.4" y1="499.75" x2="35.4" y2="499.75" stroke="#231f20" stroke-width="0.9" />
<text x="28.6" y="502.65" font-size="8" text-anchor="end" fill="#231f20" >0.5</text>
<line x1="32.4" y1="477" x2="35.4" y2="477" stroke="#231f20" stroke-width="0.9" />
<text x="28.6" y="479.9" font-size="8" text-anchor="end" fill="#231f20" >1.0</text>
<line x1="32.4" y1="454.25" x2="35.4" y2="454.25" stroke="#231f20" stroke-width="0.9" />
<text x="28.6" y="457.15" font-size="8" text-anchor="end" fill="#231f20" >1.5</text>
<line x1="32.4" y1="431.5" x2="35.4" y2="431.5" stroke="#231f20" stroke-width="0.9" />
<text x="28.6" y="434.4" font-size="8" text-anchor="end" fill="#231f20" >2.0</text>
<line x1="44.5" y1="522.5" x2="44.5" y2="525" stroke="#231f20" stroke-width="0.8" />
<line x1="58.8" y1="522.5" x2="58.8" y2="525" stroke="#231f20" stroke-width="0.8" />
<line x1="73.3" y1="522.5" x2="73.3" y2="525" stroke="#231f20" stroke-width="0.8" />
<line x1="87.5" y1="522.5" x2="87.5" y2="525" stroke="#231f20" stroke-width="0.8" />
<line x1="102.5" y1="522.5" x2="102.5" y2="525" stroke="#231f20" stroke-width="0.8" />
<line x1="116.8" y1="522.5" x2="116.8" y2="525" stroke="#231f20" stroke-width="0.8" />
<text x="44.5" y="536" font-size="8" text-anchor="middle" fill="#231f20" >ctrl</text>
<text x="58.8" y="536" font-size="8" text-anchor="middle" fill="#231f20" >inf</text>
<text x="73.1" y="536" font-size="8" text-anchor="middle" fill="#231f20">t<tspan font-size="5.5" dy="2">1</tspan></text>
<text x="87.3" y="536" font-size="8" text-anchor="middle" fill="#231f20">t<tspan font-size="5.5" dy="2">2</tspan></text>
<text x="102.3" y="536" font-size="8" text-anchor="middle" fill="#231f20">t<tspan font-size="5.5" dy="2">1</tspan></text>
<text x="116.6" y="536" font-size="8" text-anchor="middle" fill="#231f20">t<tspan font-size="5.5" dy="2">2</tspan></text>
<line x1="72.3" y1="541.3" x2="90" y2="541.3" stroke="#231f20" stroke-width="0.9" />
<line x1="101.5" y1="541.3" x2="119.3" y2="541.3" stroke="#231f20" stroke-width="0.9" />
<text x="80.1" y="550.6" font-size="8" text-anchor="middle" fill="#231f20" >sepsis</text>
<text x="96.1" y="550.6" font-size="8" text-anchor="start" fill="#231f20" >COVID-19</text>
<text class="c" x="10.3" y="477" font-size="9.6" text-anchor="middle" textLength="100" lengthAdjust="spacingAndGlyphs" fill="#231f20" transform="rotate(-90 10.3 477)">GeoMFI sample/ideal median ctrl</text>
<path d="M44.8 412.2 V410 H116.5 V412.2" fill="none" stroke="#231f20" stroke-width="0.85" />
<text x="80.65" y="410.9" font-size="9" text-anchor="middle" fill="#231f20" letter-spacing="-0.5">****</text>
<path d="M44.8 420.2 V418 H102.2 V420.2" fill="none" stroke="#231f20" stroke-width="0.85" />
<text x="73.5" y="418.9" font-size="9" text-anchor="middle" fill="#231f20" letter-spacing="-0.5">****</text>
<path d="M44.8 426.7 V424.5 H87.2 V426.7" fill="none" stroke="#231f20" stroke-width="0.85" />
<text x="66" y="425.4" font-size="9" text-anchor="middle" fill="#231f20" letter-spacing="-0.5">****</text>
<path d="M44.8 434.5 V432.3 H73 V434.5" fill="none" stroke="#231f20" stroke-width="0.85" />
<text x="58.9" y="433.2" font-size="9" text-anchor="middle" fill="#231f20" letter-spacing="-0.5">****</text>
<path d="M44.8 442.2 V440 H58.5 V442.2" fill="none" stroke="#231f20" stroke-width="0.85" />
<text x="51.65" y="440.9" font-size="9" text-anchor="middle" fill="#231f20" letter-spacing="-0.5">***</text>
<path d="M59.1 442.2 V440 H73 V442.2" fill="none" stroke="#231f20" stroke-width="0.85" />
<text x="66.05" y="440.9" font-size="9" text-anchor="middle" fill="#231f20" letter-spacing="-0.5">**</text>
<path d="M73.6 442.2 V440 H102.2 V442.2" fill="none" stroke="#231f20" stroke-width="0.85" />
<text x="87.9" y="440.9" font-size="9" text-anchor="middle" fill="#231f20" letter-spacing="-0.5">**</text>
<rect x="207.9" y="245.6" width="80.5" height="93" fill="#f3d4cd" stroke="none" stroke-width="0.8" />
<g fill="#1b3a6b"><circle cx="195.6" cy="249.32" r="1.65"/><circle cx="195.6" cy="268.85" r="1.65"/><circle cx="195.6" cy="273.5" r="1.65"/><circle cx="195.6" cy="275.82" r="1.65"/><circle cx="195.6" cy="278.15" r="1.65"/><circle cx="195.6" cy="280.48" r="1.65"/><circle cx="195.6" cy="282.8" r="1.65"/><circle cx="195.6" cy="285.12" r="1.65"/><circle cx="195.6" cy="287.45" r="1.65"/><circle cx="195.6" cy="289.77" r="1.65"/><circle cx="195.6" cy="292.1" r="1.65"/><circle cx="195.6" cy="294.43" r="1.65"/><circle cx="195.6" cy="296.75" r="1.65"/><circle cx="195.6" cy="299.07" r="1.65"/><circle cx="195.6" cy="301.4" r="1.65"/><circle cx="195.6" cy="303.73" r="1.65"/><circle cx="195.6" cy="306.05" r="1.65"/><circle cx="195.6" cy="308.38" r="1.65"/><circle cx="195.6" cy="310.7" r="1.65"/><circle cx="195.6" cy="313.03" r="1.65"/><circle cx="195.6" cy="315.35" r="1.65"/><circle cx="195.6" cy="317.68" r="1.65"/><circle cx="195.6" cy="320" r="1.65"/><circle cx="195.6" cy="322.33" r="1.65"/><circle cx="195.6" cy="324.65" r="1.65"/><circle cx="195.6" cy="326.98" r="1.65"/><circle cx="195.6" cy="329.3" r="1.65"/><circle cx="195.6" cy="331.62" r="1.65"/><circle cx="195.6" cy="333.95" r="1.65"/><circle cx="195.6" cy="336.28" r="1.65"/><circle cx="195.6" cy="338.6" r="1.65"/><circle cx="201.85" cy="274.43" r="1.65"/><circle cx="201.85" cy="278.15" r="1.65"/><circle cx="201.85" cy="281.87" r="1.65"/><circle cx="201.85" cy="294.43" r="1.65"/><circle cx="201.85" cy="299.07" r="1.65"/><circle cx="201.85" cy="305.12" r="1.65"/><circle cx="201.85" cy="309.77" r="1.65"/><circle cx="201.85" cy="314.42" r="1.65"/><circle cx="201.85" cy="319.07" r="1.65"/><circle cx="201.85" cy="323.72" r="1.65"/><circle cx="201.85" cy="328.37" r="1.65"/><circle cx="201.85" cy="331.62" r="1.65"/><circle cx="201.85" cy="334.88" r="1.65"/><circle cx="201.85" cy="337.67" r="1.65"/><circle cx="208.1" cy="304.66" r="1.65"/><circle cx="208.1" cy="321.86" r="1.65"/><circle cx="208.1" cy="324.65" r="1.65"/><circle cx="208.1" cy="328.37" r="1.65"/><circle cx="208.1" cy="333.02" r="1.65"/><circle cx="208.1" cy="337.21" r="1.65"/><circle cx="214.35" cy="306.05" r="1.65"/><circle cx="214.35" cy="312.1" r="1.65"/><circle cx="214.35" cy="314.42" r="1.65"/><circle cx="214.35" cy="316.75" r="1.65"/><circle cx="214.35" cy="319.07" r="1.65"/><circle cx="214.35" cy="321.4" r="1.65"/><circle cx="214.35" cy="323.72" r="1.65"/><circle cx="214.35" cy="326.05" r="1.65"/><circle cx="214.35" cy="328.37" r="1.65"/><circle cx="214.35" cy="330.69" r="1.65"/><circle cx="214.35" cy="333.02" r="1.65"/><circle cx="214.35" cy="335.35" r="1.65"/><circle cx="214.35" cy="337.67" r="1.65"/><circle cx="220.6" cy="325.58" r="1.65"/><circle cx="220.6" cy="329.3" r="1.65"/><circle cx="220.6" cy="333.02" r="1.65"/><circle cx="220.6" cy="336.28" r="1.65"/><circle cx="226.85" cy="316.75" r="1.65"/><circle cx="226.85" cy="331.16" r="1.65"/><circle cx="226.85" cy="333.95" r="1.65"/><circle cx="226.85" cy="336.74" r="1.65"/><circle cx="233.1" cy="320.93" r="1.65"/><circle cx="233.1" cy="324.65" r="1.65"/><circle cx="233.1" cy="328.37" r="1.65"/><circle cx="233.1" cy="332.09" r="1.65"/><circle cx="233.1" cy="335.35" r="1.65"/><circle cx="239.35" cy="312.56" r="1.65"/><circle cx="239.35" cy="314.42" r="1.65"/><circle cx="239.35" cy="321.86" r="1.65"/><circle cx="239.35" cy="326.05" r="1.65"/><circle cx="239.35" cy="330.23" r="1.65"/><circle cx="239.35" cy="333.95" r="1.65"/><circle cx="239.35" cy="337.21" r="1.65"/><circle cx="245.6" cy="303.26" r="1.65"/><circle cx="245.6" cy="311.63" r="1.65"/><circle cx="245.6" cy="321.4" r="1.65"/><circle cx="245.6" cy="328.37" r="1.65"/><circle cx="245.6" cy="332.09" r="1.65"/><circle cx="245.6" cy="335.81" r="1.65"/><circle cx="251.85" cy="326.98" r="1.65"/><circle cx="251.85" cy="331.16" r="1.65"/><circle cx="251.85" cy="334.88" r="1.65"/><circle cx="258.1" cy="318.14" r="1.65"/><circle cx="258.1" cy="336.74" r="1.65"/><circle cx="264.35" cy="329.77" r="1.65"/><circle cx="264.35" cy="338.6" r="1.65"/><circle cx="270.6" cy="327.44" r="1.65"/><circle cx="270.6" cy="333.02" r="1.65"/><circle cx="276.85" cy="332.09" r="1.65"/></g>
<line x1="195.6" y1="338.6" x2="195.6" y2="273.5" stroke="#1b3a6b" stroke-width="2.8" />
<line x1="214.35" y1="338.6" x2="214.35" y2="312.1" stroke="#1b3a6b" stroke-width="2.8" />
<line x1="195.6" y1="303.26" x2="250.29" y2="338.6" stroke="#2a2a2a" stroke-width="1.05" />
<line x1="195.6" y1="244.6" x2="195.6" y2="339.1" stroke="#231f20" stroke-width="1.25" />
<line x1="195.1" y1="338.6" x2="289.85" y2="338.6" stroke="#231f20" stroke-width="1.25" />
<line x1="192.6" y1="338.6" x2="195.6" y2="338.6" stroke="#231f20" stroke-width="0.9" />
<text x="188.8" y="341.5" font-size="8" text-anchor="end" fill="#231f20" >0.0</text>
<line x1="192.6" y1="315.35" x2="195.6" y2="315.35" stroke="#231f20" stroke-width="0.9" />
<text x="188.8" y="318.25" font-size="8" text-anchor="end" fill="#231f20" >0.5</text>
<line x1="192.6" y1="292.1" x2="195.6" y2="292.1" stroke="#231f20" stroke-width="0.9" />
<text x="188.8" y="295" font-size="8" text-anchor="end" fill="#231f20" >1.0</text>
<line x1="192.6" y1="268.85" x2="195.6" y2="268.85" stroke="#231f20" stroke-width="0.9" />
<text x="188.8" y="271.75" font-size="8" text-anchor="end" fill="#231f20" >1.5</text>
<line x1="192.6" y1="245.6" x2="195.6" y2="245.6" stroke="#231f20" stroke-width="0.9" />
<text x="188.8" y="248.5" font-size="8" text-anchor="end" fill="#231f20" >2.0</text>
<line x1="195.6" y1="338.6" x2="195.6" y2="341.1" stroke="#231f20" stroke-width="0.9" />
<text x="195.6" y="351.5" font-size="8" text-anchor="middle" fill="#231f20" >0</text>
<line x1="226.85" y1="338.6" x2="226.85" y2="341.1" stroke="#231f20" stroke-width="0.9" />
<text x="226.85" y="351.5" font-size="8" text-anchor="middle" fill="#231f20" >5</text>
<line x1="258.1" y1="338.6" x2="258.1" y2="341.1" stroke="#231f20" stroke-width="0.9" />
<text x="258.1" y="351.5" font-size="8" text-anchor="middle" fill="#231f20" >10</text>
<line x1="289.35" y1="338.6" x2="289.35" y2="341.1" stroke="#231f20" stroke-width="0.9" />
<text x="289.35" y="351.5" font-size="8" text-anchor="middle" fill="#231f20" >15</text>
<text class="c" x="171.6" y="292.1" font-size="9.6" text-anchor="middle" textLength="100.5" lengthAdjust="spacingAndGlyphs" fill="#231f20" transform="rotate(-90 171.6 292.1)">GeoMFI sample/ideal median ctrl</text>
<text class="c" x="242.8" y="366" font-size="9.6" text-anchor="middle" textLength="40.5" lengthAdjust="spacingAndGlyphs" fill="#231f20">&#916;SOFA score</text>
<line x1="356.6" y1="338" x2="448.25" y2="247.5" stroke="#c01f38" stroke-width="1.1" />
<path d="M356.6 338 L356.6 311.75 L361.18 311.75 L361.18 309.04 L363.93 309.04 L363.93 289.13 L365.77 289.13 L365.77 280.08 L367.6 280.08 L367.6 273.75 L373.1 273.75 L373.1 266.5 L379.51 266.5 L379.51 263.79 L388.68 263.79 L388.68 260.17 L397.84 260.17 L397.84 257.45 L402.43 257.45 L402.43 253.83 L420.75 253.83 L420.75 251.12 L434.5 251.12 L434.5 247.5 L448.25 247.5" fill="none" stroke="#1b3a6b" stroke-width="2" stroke-linejoin="miter"/>
<g fill="#1b3a6b"><rect x="355.2" y="336.6" width="2.8" height="2.8"/><rect x="355.2" y="333.32" width="2.8" height="2.8"/><rect x="355.2" y="330.04" width="2.8" height="2.8"/><rect x="355.2" y="326.76" width="2.8" height="2.8"/><rect x="355.2" y="323.48" width="2.8" height="2.8"/><rect x="355.2" y="320.2" width="2.8" height="2.8"/><rect x="355.2" y="316.92" width="2.8" height="2.8"/><rect x="355.2" y="313.64" width="2.8" height="2.8"/><rect x="355.2" y="310.36" width="2.8" height="2.8"/><rect x="355.2" y="310.36" width="2.8" height="2.8"/><rect x="359.78" y="310.36" width="2.8" height="2.8"/><rect x="359.78" y="310.36" width="2.8" height="2.8"/><rect x="359.78" y="307.64" width="2.8" height="2.8"/><rect x="359.78" y="307.64" width="2.8" height="2.8"/><rect x="362.53" y="307.64" width="2.8" height="2.8"/><rect x="362.53" y="307.64" width="2.8" height="2.8"/><rect x="362.53" y="304.32" width="2.8" height="2.8"/><rect x="362.53" y="301" width="2.8" height="2.8"/><rect x="362.53" y="297.69" width="2.8" height="2.8"/><rect x="362.53" y="294.37" width="2.8" height="2.8"/><rect x="362.53" y="291.05" width="2.8" height="2.8"/><rect x="362.53" y="287.73" width="2.8" height="2.8"/><rect x="362.53" y="287.73" width="2.8" height="2.8"/><rect x="364.37" y="287.73" width="2.8" height="2.8"/><rect x="364.37" y="287.73" width="2.8" height="2.8"/><rect x="364.37" y="283.21" width="2.8" height="2.8"/><rect x="364.37" y="278.68" width="2.8" height="2.8"/><rect x="364.37" y="278.68" width="2.8" height="2.8"/><rect x="366.2" y="278.68" width="2.8" height="2.8"/><rect x="366.2" y="278.68" width="2.8" height="2.8"/><rect x="366.2" y="272.35" width="2.8" height="2.8"/><rect x="366.2" y="272.35" width="2.8" height="2.8"/><rect x="371.7" y="272.35" width="2.8" height="2.8"/><rect x="371.7" y="272.35" width="2.8" height="2.8"/><rect x="371.7" y="268.73" width="2.8" height="2.8"/><rect x="371.7" y="265.11" width="2.8" height="2.8"/><rect x="371.7" y="265.11" width="2.8" height="2.8"/><rect x="374.9" y="265.11" width="2.8" height="2.8"/><rect x="378.11" y="265.11" width="2.8" height="2.8"/><rect x="378.11" y="265.11" width="2.8" height="2.8"/><rect x="378.11" y="262.39" width="2.8" height="2.8"/><rect x="378.11" y="262.39" width="2.8" height="2.8"/><rect x="382.7" y="262.39" width="2.8" height="2.8"/><rect x="387.28" y="262.39" width="2.8" height="2.8"/><rect x="387.28" y="262.39" width="2.8" height="2.8"/><rect x="387.28" y="258.77" width="2.8" height="2.8"/><rect x="387.28" y="258.77" width="2.8" height="2.8"/><rect x="391.86" y="258.77" width="2.8" height="2.8"/><rect x="396.44" y="258.77" width="2.8" height="2.8"/><rect x="396.44" y="258.77" width="2.8" height="2.8"/><rect x="396.44" y="256.06" width="2.8" height="2.8"/><rect x="396.44" y="256.06" width="2.8" height="2.8"/><rect x="401.03" y="256.06" width="2.8" height="2.8"/><rect x="401.03" y="256.06" width="2.8" height="2.8"/><rect x="401.03" y="252.43" width="2.8" height="2.8"/><rect x="401.03" y="252.43" width="2.8" height="2.8"/><rect x="404.69" y="252.43" width="2.8" height="2.8"/><rect x="408.36" y="252.43" width="2.8" height="2.8"/><rect x="412.02" y="252.43" width="2.8" height="2.8"/><rect x="415.69" y="252.43" width="2.8" height="2.8"/><rect x="419.36" y="252.43" width="2.8" height="2.8"/><rect x="419.36" y="252.43" width="2.8" height="2.8"/><rect x="419.36" y="249.72" width="2.8" height="2.8"/><rect x="419.36" y="249.72" width="2.8" height="2.8"/><rect x="422.79" y="249.72" width="2.8" height="2.8"/><rect x="426.23" y="249.72" width="2.8" height="2.8"/><rect x="429.67" y="249.72" width="2.8" height="2.8"/><rect x="433.1" y="249.72" width="2.8" height="2.8"/><rect x="433.1" y="249.72" width="2.8" height="2.8"/><rect x="433.1" y="246.1" width="2.8" height="2.8"/><rect x="433.1" y="246.1" width="2.8" height="2.8"/><rect x="436.54" y="246.1" width="2.8" height="2.8"/><rect x="439.98" y="246.1" width="2.8" height="2.8"/><rect x="443.41" y="246.1" width="2.8" height="2.8"/><rect x="446.85" y="246.1" width="2.8" height="2.8"/></g>
<line x1="356.6" y1="246.5" x2="356.6" y2="338.5" stroke="#231f20" stroke-width="1.25" />
<line x1="356.1" y1="338" x2="448.75" y2="338" stroke="#231f20" stroke-width="1.25" />
<line x1="353.6" y1="338" x2="356.6" y2="338" stroke="#231f20" stroke-width="0.9" />
<text x="350.1" y="340.9" font-size="8" text-anchor="end" fill="#231f20" >0</text>
<line x1="356.6" y1="338" x2="356.6" y2="340.5" stroke="#231f20" stroke-width="0.9" />
<text x="356.6" y="351.5" font-size="8" text-anchor="middle" fill="#231f20" >0</text>
<line x1="353.6" y1="319.9" x2="356.6" y2="319.9" stroke="#231f20" stroke-width="0.9" />
<text x="350.1" y="322.8" font-size="8" text-anchor="end" fill="#231f20" >20</text>
<line x1="374.93" y1="338" x2="374.93" y2="340.5" stroke="#231f20" stroke-width="0.9" />
<text x="374.93" y="351.5" font-size="8" text-anchor="middle" fill="#231f20" >20</text>
<line x1="353.6" y1="301.8" x2="356.6" y2="301.8" stroke="#231f20" stroke-width="0.9" />
<text x="350.1" y="304.7" font-size="8" text-anchor="end" fill="#231f20" >40</text>
<line x1="393.26" y1="338" x2="393.26" y2="340.5" stroke="#231f20" stroke-width="0.9" />
<text x="393.26" y="351.5" font-size="8" text-anchor="middle" fill="#231f20" >40</text>
<line x1="353.6" y1="283.7" x2="356.6" y2="283.7" stroke="#231f20" stroke-width="0.9" />
<text x="350.1" y="286.6" font-size="8" text-anchor="end" fill="#231f20" >60</text>
<line x1="411.59" y1="338" x2="411.59" y2="340.5" stroke="#231f20" stroke-width="0.9" />
<text x="411.59" y="351.5" font-size="8" text-anchor="middle" fill="#231f20" >60</text>
<line x1="353.6" y1="265.6" x2="356.6" y2="265.6" stroke="#231f20" stroke-width="0.9" />
<text x="350.1" y="268.5" font-size="8" text-anchor="end" fill="#231f20" >80</text>
<line x1="429.92" y1="338" x2="429.92" y2="340.5" stroke="#231f20" stroke-width="0.9" />
<text x="429.92" y="351.5" font-size="8" text-anchor="middle" fill="#231f20" >80</text>
<line x1="353.6" y1="247.5" x2="356.6" y2="247.5" stroke="#231f20" stroke-width="0.9" />
<text x="350.1" y="250.4" font-size="8" text-anchor="end" fill="#231f20" >100</text>
<line x1="448.25" y1="338" x2="448.25" y2="340.5" stroke="#231f20" stroke-width="0.9" />
<text x="448.25" y="351.5" font-size="8" text-anchor="middle" fill="#231f20" >100</text>
<text x="446" y="331.5" font-size="7.8" text-anchor="end" fill="#231f20" >AUC: 0.84</text>
<text class="c" x="403.75" y="365.3" font-size="9.6" text-anchor="middle" textLength="61.5" lengthAdjust="spacingAndGlyphs" fill="#231f20">100 - specificity [%]</text>
<text class="c" x="330.8" y="292.9" font-size="9.6" text-anchor="middle" textLength="45.3" lengthAdjust="spacingAndGlyphs" fill="#231f20" transform="rotate(-90 330.8 292.9)">Sensitivity [%]</text>
<path d="M226.3 476.7h1v1h-1zM235.8 466.6h1v1h-1zM232.8 477.7h1v1h-1zM220.0 478.4h1v1h-1zM207.4 498.8h1v1h-1zM220.9 483.2h1v1h-1zM226.5 481.4h1v1h-1zM240.8 469.5h1v1h-1zM219.7 478.9h1v1h-1zM241.4 458.6h1v1h-1zM238.0 473.0h1v1h-1zM244.8 465.1h1v1h-1zM234.1 478.6h1v1h-1zM225.2 477.2h1v1h-1zM239.6 467.1h1v1h-1zM245.6 462.5h1v1h-1zM209.6 490.5h1v1h-1zM208.8 504.1h1v1h-1zM227.5 474.6h1v1h-1zM237.9 470.4h1v1h-1zM236.0 478.0h1v1h-1zM258.1 452.6h1v1h-1zM230.7 476.5h1v1h-1zM244.4 462.1h1v1h-1zM234.1 474.2h1v1h-1zM228.1 476.2h1v1h-1zM231.8 473.5h1v1h-1zM225.9 473.0h1v1h-1zM238.1 458.8h1v1h-1zM239.3 466.2h1v1h-1zM231.7 468.2h1v1h-1zM233.1 478.4h1v1h-1zM223.9 493.5h1v1h-1zM247.0 452.2h1v1h-1zM217.7 492.2h1v1h-1zM223.6 485.0h1v1h-1zM237.2 467.5h1v1h-1zM235.4 467.7h1v1h-1zM236.8 466.6h1v1h-1zM215.0 492.6h1v1h-1zM238.5 479.1h1v1h-1zM247.2 453.3h1v1h-1zM233.9 470.2h1v1h-1zM228.9 469.1h1v1h-1zM239.5 466.2h1v1h-1zM216.0 481.4h1v1h-1zM223.2 478.0h1v1h-1zM229.0 474.7h1v1h-1zM250.1 467.2h1v1h-1zM230.3 481.2h1v1h-1zM223.5 479.6h1v1h-1zM223.3 488.6h1v1h-1zM224.0 469.8h1v1h-1zM230.9 479.0h1v1h-1zM238.2 476.7h1v1h-1zM232.3 468.8h1v1h-1zM232.3 476.1h1v1h-1zM206.4 490.5h1v1h-1zM231.7 467.2h1v1h-1zM250.7 464.2h1v1h-1zM235.4 478.0h1v1h-1zM239.8 469.0h1v1h-1zM240.4 470.6h1v1h-1zM224.1 487.6h1v1h-1zM229.0 467.9h1v1h-1zM206.8 506.5h1v1h-1zM226.4 484.3h1v1h-1zM215.7 479.7h1v1h-1zM223.2 474.4h1v1h-1zM222.6 496.4h1v1h-1zM237.8 460.7h1v1h-1zM239.6 459.9h1v1h-1zM222.4 490.4h1v1h-1zM237.5 472.3h1v1h-1zM238.6 472.3h1v1h-1zM228.0 475.8h1v1h-1zM231.7 474.2h1v1h-1zM226.2 470.8h1v1h-1zM232.1 477.3h1v1h-1zM234.8 477.7h1v1h-1zM237.2 459.9h1v1h-1zM231.4 481.0h1v1h-1zM217.4 488.2h1v1h-1zM219.8 492.0h1v1h-1zM233.1 476.8h1v1h-1zM237.3 468.9h1v1h-1zM227.2 470.9h1v1h-1zM243.2 465.6h1v1h-1zM222.8 476.5h1v1h-1zM245.9 464.2h1v1h-1zM227.1 468.7h1v1h-1zM251.5 457.4h1v1h-1zM226.9 476.2h1v1h-1zM226.7 477.8h1v1h-1zM240.3 462.0h1v1h-1zM242.2 472.4h1v1h-1zM208.8 487.0h1v1h-1zM235.8 466.6h1v1h-1zM230.2 467.9h1v1h-1zM240.5 470.2h1v1h-1zM244.1 475.6h1v1h-1zM209.5 492.0h1v1h-1zM241.7 469.7h1v1h-1zM234.3 469.9h1v1h-1zM233.0 466.5h1v1h-1zM241.9 464.7h1v1h-1zM222.4 482.1h1v1h-1zM230.8 482.6h1v1h-1zM217.2 488.6h1v1h-1zM222.5 485.2h1v1h-1zM239.5 460.6h1v1h-1zM235.1 470.8h1v1h-1zM227.9 473.9h1v1h-1zM232.5 477.0h1v1h-1zM216.7 483.9h1v1h-1zM215.2 483.4h1v1h-1zM237.2 467.0h1v1h-1zM230.6 469.6h1v1h-1zM225.5 481.0h1v1h-1zM216.5 490.8h1v1h-1zM220.8 492.6h1v1h-1zM246.5 456.9h1v1h-1zM229.0 487.3h1v1h-1zM235.0 469.3h1v1h-1zM233.2 481.4h1v1h-1zM243.2 453.8h1v1h-1zM229.2 484.4h1v1h-1zM233.2 480.9h1v1h-1zM230.3 473.7h1v1h-1zM223.9 474.1h1v1h-1zM234.8 468.0h1v1h-1zM242.0 460.8h1v1h-1zM249.4 460.7h1v1h-1zM242.8 464.1h1v1h-1zM230.2 477.9h1v1h-1zM234.5 475.9h1v1h-1zM214.2 485.9h1v1h-1zM235.4 472.7h1v1h-1zM241.3 476.7h1v1h-1zM242.1 473.7h1v1h-1zM225.7 475.8h1v1h-1zM242.7 462.9h1v1h-1zM230.3 472.2h1v1h-1zM253.2 459.5h1v1h-1zM235.6 475.4h1v1h-1zM240.4 462.2h1v1h-1zM241.4 463.3h1v1h-1zM224.8 483.4h1v1h-1zM227.4 473.5h1v1h-1zM233.6 473.9h1v1h-1zM238.1 476.0h1v1h-1zM216.3 490.3h1v1h-1zM253.7 453.5h1v1h-1zM229.6 470.2h1v1h-1zM209.0 495.0h1v1h-1zM234.1 465.0h1v1h-1zM239.7 467.4h1v1h-1zM228.4 479.9h1v1h-1zM221.7 485.5h1v1h-1zM229.8 476.4h1v1h-1zM239.2 455.6h1v1h-1zM236.2 465.8h1v1h-1zM240.5 466.8h1v1h-1zM222.2 485.5h1v1h-1zM247.8 459.9h1v1h-1zM206.7 496.3h1v1h-1zM236.5 470.4h1v1h-1zM223.8 483.9h1v1h-1zM248.6 449.7h1v1h-1zM243.0 460.5h1v1h-1zM233.8 464.7h1v1h-1zM237.8 457.7h1v1h-1zM225.5 478.0h1v1h-1zM234.1 475.1h1v1h-1zM231.6 478.7h1v1h-1zM236.8 473.6h1v1h-1zM222.8 489.1h1v1h-1zM210.3 493.2h1v1h-1zM224.6 481.5h1v1h-1zM215.9 489.4h1v1h-1zM220.6 480.5h1v1h-1zM239.6 465.3h1v1h-1zM233.3 478.1h1v1h-1zM239.4 457.7h1v1h-1zM235.2 470.8h1v1h-1zM238.8 466.6h1v1h-1zM240.8 464.7h1v1h-1zM229.4 462.9h1v1h-1zM231.8 466.4h1v1h-1zM227.3 468.9h1v1h-1zM239.8 463.6h1v1h-1zM238.0 464.7h1v1h-1zM231.5 467.9h1v1h-1zM234.6 472.1h1v1h-1zM234.0 464.2h1v1h-1zM237.6 473.9h1v1h-1zM226.3 475.0h1v1h-1zM222.7 476.9h1v1h-1zM232.7 474.5h1v1h-1zM235.7 467.0h1v1h-1zM218.9 492.2h1v1h-1zM232.6 473.3h1v1h-1zM241.0 461.9h1v1h-1zM221.9 497.5h1v1h-1zM224.5 476.0h1v1h-1zM245.4 469.2h1v1h-1zM239.2 470.2h1v1h-1zM227.6 488.2h1v1h-1zM231.1 470.4h1v1h-1zM239.2 469.4h1v1h-1zM229.9 473.3h1v1h-1zM243.0 470.0h1v1h-1zM232.8 466.9h1v1h-1zM230.4 475.0h1v1h-1zM232.1 476.2h1v1h-1zM219.1 478.8h1v1h-1zM228.5 467.2h1v1h-1zM246.1 466.9h1v1h-1zM209.9 487.1h1v1h-1zM216.6 469.6h1v1h-1zM221.6 487.4h1v1h-1zM235.8 472.6h1v1h-1zM228.0 467.5h1v1h-1zM254.7 448.5h1v1h-1zM220.2 482.3h1v1h-1zM236.8 469.8h1v1h-1zM246.1 460.6h1v1h-1zM217.9 495.0h1v1h-1zM240.2 455.3h1v1h-1zM224.4 487.0h1v1h-1zM251.5 455.5h1v1h-1zM235.5 462.3h1v1h-1zM234.0 472.2h1v1h-1zM209.1 488.0h1v1h-1zM227.5 466.9h1v1h-1zM239.2 475.8h1v1h-1zM249.2 459.0h1v1h-1zM248.7 452.4h1v1h-1zM232.4 479.4h1v1h-1zM239.3 464.9h1v1h-1zM224.1 481.5h1v1h-1zM238.6 468.4h1v1h-1zM231.4 471.5h1v1h-1zM232.1 484.9h1v1h-1zM232.2 467.9h1v1h-1zM243.4 469.0h1v1h-1zM239.7 447.7h1v1h-1zM233.4 477.7h1v1h-1zM220.2 482.0h1v1h-1zM224.3 485.6h1v1h-1zM238.0 464.4h1v1h-1zM241.1 460.9h1v1h-1zM221.1 488.7h1v1h-1zM244.7 459.6h1v1h-1zM235.0 478.8h1v1h-1zM222.3 473.6h1v1h-1zM216.7 481.1h1v1h-1zM236.9 469.5h1v1h-1zM227.9 476.9h1v1h-1zM240.8 453.4h1v1h-1zM233.8 477.2h1v1h-1zM245.5 455.9h1v1h-1zM230.5 478.7h1v1h-1zM217.6 489.3h1v1h-1zM236.7 468.3h1v1h-1zM252.7 454.1h1v1h-1zM229.4 471.2h1v1h-1zM247.4 458.2h1v1h-1zM232.2 466.4h1v1h-1zM226.4 474.4h1v1h-1zM241.5 464.2h1v1h-1zM254.4 461.7h1v1h-1zM250.4 463.7h1v1h-1zM238.0 476.4h1v1h-1zM218.6 491.4h1v1h-1zM246.6 463.2h1v1h-1zM215.9 491.4h1v1h-1zM239.8 473.1h1v1h-1zM246.9 459.8h1v1h-1zM229.1 473.9h1v1h-1zM245.1 460.4h1v1h-1zM245.6 464.2h1v1h-1zM235.6 473.9h1v1h-1zM219.4 472.1h1v1h-1zM225.7 488.2h1v1h-1zM227.7 469.3h1v1h-1zM228.3 473.9h1v1h-1zM235.9 467.4h1v1h-1zM241.3 462.6h1v1h-1zM241.4 471.1h1v1h-1zM221.4 477.1h1v1h-1zM239.7 469.4h1v1h-1zM259.0 458.5h1v1h-1zM229.9 474.0h1v1h-1zM222.0 494.6h1v1h-1zM225.9 475.5h1v1h-1zM232.7 470.3h1v1h-1zM227.6 481.9h1v1h-1zM242.4 467.3h1v1h-1zM243.3 457.7h1v1h-1zM237.9 469.1h1v1h-1zM247.9 461.6h1v1h-1zM235.2 485.2h1v1h-1zM219.4 487.1h1v1h-1zM239.2 462.9h1v1h-1zM224.2 482.2h1v1h-1zM222.5 479.9h1v1h-1zM237.5 473.7h1v1h-1zM238.5 470.8h1v1h-1zM224.8 485.8h1v1h-1zM226.2 469.3h1v1h-1zM237.9 469.0h1v1h-1zM233.8 474.4h1v1h-1zM215.6 476.6h1v1h-1zM256.5 455.4h1v1h-1zM221.3 475.7h1v1h-1zM236.2 470.6h1v1h-1zM240.5 474.8h1v1h-1zM243.1 466.9h1v1h-1zM220.8 491.5h1v1h-1zM215.0 488.6h1v1h-1zM232.9 471.4h1v1h-1zM238.1 451.8h1v1h-1zM211.6 486.6h1v1h-1zM256.0 455.3h1v1h-1zM223.7 482.6h1v1h-1zM217.8 492.7h1v1h-1zM231.8 475.6h1v1h-1zM234.9 470.9h1v1h-1zM232.3 467.8h1v1h-1zM219.6 477.6h1v1h-1zM233.0 477.8h1v1h-1zM219.0 475.2h1v1h-1zM231.3 476.0h1v1h-1zM222.6 472.6h1v1h-1zM225.2 480.8h1v1h-1zM218.2 481.5h1v1h-1zM235.9 466.5h1v1h-1zM238.1 473.5h1v1h-1zM204.3 488.9h1v1h-1zM241.2 467.2h1v1h-1zM238.9 467.9h1v1h-1zM248.9 460.5h1v1h-1zM234.9 458.7h1v1h-1zM244.5 469.5h1v1h-1zM245.5 461.3h1v1h-1zM233.7 468.0h1v1h-1zM223.6 477.5h1v1h-1zM240.1 470.6h1v1h-1zM235.4 468.0h1v1h-1zM223.7 480.1h1v1h-1zM240.4 473.6h1v1h-1zM231.5 478.0h1v1h-1zM217.1 490.6h1v1h-1zM242.7 462.8h1v1h-1zM229.2 479.3h1v1h-1zM239.5 468.5h1v1h-1zM244.5 457.0h1v1h-1zM250.9 458.4h1v1h-1zM222.8 483.0h1v1h-1zM233.1 470.9h1v1h-1zM234.7 463.4h1v1h-1zM232.8 455.7h1v1h-1zM236.7 466.1h1v1h-1zM209.8 485.4h1v1h-1zM228.5 473.8h1v1h-1zM231.5 476.8h1v1h-1zM224.8 479.4h1v1h-1zM243.8 464.6h1v1h-1zM205.1 497.9h1v1h-1zM212.7 505.8h1v1h-1zM212.4 485.9h1v1h-1zM224.2 478.8h1v1h-1zM246.9 462.9h1v1h-1zM241.0 460.1h1v1h-1zM230.1 478.5h1v1h-1zM220.6 483.3h1v1h-1zM239.0 459.6h1v1h-1zM217.7 485.8h1v1h-1zM217.6 488.3h1v1h-1zM234.5 478.4h1v1h-1zM255.1 456.5h1v1h-1zM227.0 477.5h1v1h-1zM221.6 482.6h1v1h-1zM239.5 470.7h1v1h-1zM238.9 466.5h1v1h-1zM236.2 472.3h1v1h-1zM241.9 468.6h1v1h-1zM214.7 491.6h1v1h-1zM235.8 472.7h1v1h-1zM226.3 480.9h1v1h-1zM250.1 460.9h1v1h-1zM232.0 468.5h1v1h-1zM259.3 452.3h1v1h-1zM232.6 475.1h1v1h-1zM235.0 463.4h1v1h-1zM235.8 463.8h1v1h-1zM244.3 462.9h1v1h-1zM212.1 489.7h1v1h-1zM218.9 475.0h1v1h-1zM232.3 472.5h1v1h-1zM226.0 478.1h1v1h-1zM251.6 459.8h1v1h-1zM239.2 469.2h1v1h-1zM249.2 468.1h1v1h-1zM228.2 466.6h1v1h-1zM227.5 475.1h1v1h-1zM227.9 482.3h1v1h-1zM227.3 470.0h1v1h-1zM231.1 475.5h1v1h-1zM245.5 460.8h1v1h-1zM236.6 468.4h1v1h-1zM256.8 458.1h1v1h-1zM226.4 491.8h1v1h-1zM223.1 494.2h1v1h-1zM242.7 464.4h1v1h-1zM225.7 475.4h1v1h-1zM231.1 469.6h1v1h-1zM231.2 489.0h1v1h-1zM241.8 468.1h1v1h-1zM226.0 481.7h1v1h-1zM223.6 469.2h1v1h-1zM227.7 478.3h1v1h-1zM213.2 489.1h1v1h-1zM230.0 478.2h1v1h-1zM224.9 476.8h1v1h-1zM233.7 468.1h1v1h-1zM239.5 473.7h1v1h-1zM235.8 476.2h1v1h-1zM233.0 473.7h1v1h-1zM228.4 473.8h1v1h-1zM230.2 466.0h1v1h-1zM241.9 454.4h1v1h-1zM212.8 496.5h1v1h-1zM236.1 470.0h1v1h-1zM263.6 442.8h1v1h-1zM228.5 476.6h1v1h-1zM229.9 470.4h1v1h-1zM231.7 469.1h1v1h-1zM232.8 468.8h1v1h-1zM227.4 476.7h1v1h-1zM216.2 493.9h1v1h-1zM239.2 460.2h1v1h-1zM228.5 481.7h1v1h-1zM227.8 475.5h1v1h-1zM209.9 504.1h1v1h-1zM233.5 476.6h1v1h-1zM220.6 480.8h1v1h-1zM226.9 463.6h1v1h-1zM240.8 470.7h1v1h-1zM234.9 461.7h1v1h-1zM215.2 489.7h1v1h-1zM252.7 467.0h1v1h-1zM233.8 476.2h1v1h-1zM216.0 491.0h1v1h-1zM247.1 445.0h1v1h-1zM229.3 464.9h1v1h-1zM236.9 469.4h1v1h-1zM236.9 469.4h1v1h-1zM236.2 469.2h1v1h-1zM228.2 490.3h1v1h-1zM238.1 479.0h1v1h-1zM233.5 476.2h1v1h-1zM229.7 474.7h1v1h-1zM235.3 467.5h1v1h-1zM208.3 491.6h1v1h-1zM222.1 475.4h1v1h-1zM227.2 482.3h1v1h-1zM239.6 466.2h1v1h-1zM236.2 463.5h1v1h-1zM225.9 471.5h1v1h-1zM228.2 479.0h1v1h-1zM239.4 472.1h1v1h-1zM232.9 471.6h1v1h-1zM226.8 478.1h1v1h-1zM232.4 477.5h1v1h-1zM237.7 463.5h1v1h-1zM253.3 449.3h1v1h-1zM235.0 473.2h1v1h-1zM233.3 461.7h1v1h-1zM233.8 479.6h1v1h-1zM227.1 483.9h1v1h-1zM220.5 489.1h1v1h-1zM231.2 490.3h1v1h-1zM226.6 479.0h1v1h-1zM236.0 486.2h1v1h-1zM207.7 498.4h1v1h-1zM232.5 483.3h1v1h-1zM236.2 478.0h1v1h-1zM236.8 467.7h1v1h-1zM242.8 470.7h1v1h-1zM236.0 466.6h1v1h-1zM236.2 472.4h1v1h-1zM216.5 492.6h1v1h-1zM231.7 473.1h1v1h-1zM220.1 478.5h1v1h-1zM242.8 470.0h1v1h-1zM238.7 466.3h1v1h-1zM224.0 481.2h1v1h-1zM236.5 467.5h1v1h-1zM234.2 477.4h1v1h-1zM248.5 471.4h1v1h-1zM223.3 474.2h1v1h-1zM234.4 467.2h1v1h-1zM234.5 464.8h1v1h-1zM248.0 453.5h1v1h-1zM230.5 478.1h1v1h-1zM230.8 470.5h1v1h-1zM254.1 458.9h1v1h-1zM235.5 462.8h1v1h-1zM232.4 480.7h1v1h-1zM228.2 466.0h1v1h-1zM257.6 450.3h1v1h-1zM232.6 481.6h1v1h-1zM231.6 471.7h1v1h-1zM222.3 477.9h1v1h-1zM226.1 480.7h1v1h-1zM227.9 475.1h1v1h-1zM245.1 461.4h1v1h-1zM217.5 485.7h1v1h-1zM217.6 483.0h1v1h-1zM242.5 466.8h1v1h-1zM220.9 487.2h1v1h-1zM231.4 474.4h1v1h-1zM244.6 459.0h1v1h-1zM223.4 484.4h1v1h-1zM229.4 473.9h1v1h-1zM225.4 487.3h1v1h-1zM237.0 467.2h1v1h-1zM232.6 468.6h1v1h-1zM214.4 493.4h1v1h-1zM214.7 493.2h1v1h-1zM228.4 471.7h1v1h-1zM222.2 492.3h1v1h-1zM247.1 465.5h1v1h-1zM238.7 461.0h1v1h-1zM238.2 466.6h1v1h-1zM218.3 482.8h1v1h-1zM235.1 465.2h1v1h-1zM230.7 472.4h1v1h-1zM248.0 467.0h1v1h-1zM233.6 475.8h1v1h-1zM243.9 475.5h1v1h-1zM239.7 465.4h1v1h-1zM230.3 471.6h1v1h-1zM215.9 491.5h1v1h-1zM212.5 497.5h1v1h-1zM218.3 491.7h1v1h-1zM215.3 485.5h1v1h-1zM239.9 461.9h1v1h-1zM232.1 468.2h1v1h-1zM229.1 474.8h1v1h-1zM224.8 480.6h1v1h-1zM218.9 486.2h1v1h-1zM211.5 487.6h1v1h-1zM216.3 489.4h1v1h-1zM243.0 466.8h1v1h-1zM239.5 471.9h1v1h-1zM239.9 466.5h1v1h-1zM232.4 465.0h1v1h-1zM239.7 459.7h1v1h-1zM226.2 471.2h1v1h-1zM245.5 466.9h1v1h-1zM227.5 485.2h1v1h-1zM221.1 486.4h1v1h-1zM232.6 479.5h1v1h-1zM216.0 481.8h1v1h-1zM232.2 474.6h1v1h-1zM228.4 472.3h1v1h-1zM231.6 471.3h1v1h-1zM220.4 483.0h1v1h-1zM224.6 484.5h1v1h-1zM236.3 479.6h1v1h-1zM234.6 472.2h1v1h-1zM245.0 476.4h1v1h-1zM219.1 485.8h1v1h-1zM240.2 469.6h1v1h-1zM237.4 475.1h1v1h-1zM242.9 472.0h1v1h-1zM226.0 478.6h1v1h-1zM228.6 468.8h1v1h-1zM228.9 473.3h1v1h-1zM230.8 468.3h1v1h-1zM216.9 491.7h1v1h-1zM246.6 459.5h1v1h-1zM243.6 460.0h1v1h-1zM235.8 461.5h1v1h-1zM226.9 477.9h1v1h-1zM220.4 484.1h1v1h-1zM226.8 490.7h1v1h-1zM260.9 448.7h1v1h-1zM244.7 460.3h1v1h-1zM216.7 480.5h1v1h-1zM231.6 461.1h1v1h-1zM236.2 467.8h1v1h-1zM231.8 468.7h1v1h-1zM236.1 475.8h1v1h-1zM212.8 495.4h1v1h-1zM242.8 460.6h1v1h-1zM221.0 490.7h1v1h-1zM242.1 463.2h1v1h-1zM228.8 479.2h1v1h-1zM251.5 456.2h1v1h-1zM241.0 460.8h1v1h-1zM225.9 474.0h1v1h-1zM242.8 473.0h1v1h-1zM228.2 488.4h1v1h-1zM244.9 469.9h1v1h-1zM245.2 459.2h1v1h-1zM244.3 452.3h1v1h-1zM233.8 483.0h1v1h-1zM221.7 484.6h1v1h-1zM220.4 471.8h1v1h-1zM236.9 471.8h1v1h-1zM246.2 457.4h1v1h-1zM229.2 469.3h1v1h-1zM223.5 485.5h1v1h-1zM242.4 460.5h1v1h-1zM242.2 468.8h1v1h-1zM235.5 468.2h1v1h-1zM248.4 461.5h1v1h-1zM226.3 472.7h1v1h-1zM240.8 470.4h1v1h-1zM237.0 458.8h1v1h-1zM221.6 486.7h1v1h-1zM238.3 460.7h1v1h-1zM224.0 482.2h1v1h-1zM244.8 462.8h1v1h-1zM222.1 488.3h1v1h-1zM233.9 470.9h1v1h-1zM239.3 471.3h1v1h-1zM225.1 478.6h1v1h-1zM217.1 492.2h1v1h-1zM223.5 477.1h1v1h-1zM237.0 462.0h1v1h-1zM225.4 470.1h1v1h-1zM232.6 473.6h1v1h-1zM223.9 483.9h1v1h-1zM232.1 469.5h1v1h-1zM230.7 472.7h1v1h-1zM234.7 470.2h1v1h-1zM220.8 471.8h1v1h-1zM221.1 473.8h1v1h-1zM239.4 459.0h1v1h-1zM239.4 468.6h1v1h-1zM217.2 491.7h1v1h-1zM234.9 471.3h1v1h-1zM224.6 478.5h1v1h-1zM223.0 476.5h1v1h-1zM233.7 476.8h1v1h-1zM236.9 473.6h1v1h-1zM220.9 494.3h1v1h-1zM253.0 446.6h1v1h-1zM236.7 469.7h1v1h-1zM220.8 488.8h1v1h-1zM246.1 465.9h1v1h-1zM237.8 462.1h1v1h-1zM252.0 458.7h1v1h-1zM230.4 479.6h1v1h-1zM218.9 482.6h1v1h-1zM240.0 462.7h1v1h-1zM222.1 480.7h1v1h-1zM233.5 477.2h1v1h-1zM206.1 495.7h1v1h-1zM221.7 487.2h1v1h-1zM230.3 484.5h1v1h-1zM222.3 484.2h1v1h-1zM210.5 499.1h1v1h-1zM218.3 481.6h1v1h-1zM231.1 467.6h1v1h-1zM229.4 471.5h1v1h-1zM234.2 468.5h1v1h-1zM235.1 470.1h1v1h-1zM247.9 462.5h1v1h-1zM236.4 464.1h1v1h-1zM235.3 473.6h1v1h-1zM234.4 469.4h1v1h-1zM220.5 482.4h1v1h-1zM245.4 459.7h1v1h-1zM218.0 490.6h1v1h-1zM230.0 476.6h1v1h-1zM244.0 460.9h1v1h-1zM233.3 467.8h1v1h-1zM225.6 487.9h1v1h-1zM222.3 472.9h1v1h-1zM236.3 468.2h1v1h-1zM242.9 453.5h1v1h-1zM217.3 489.7h1v1h-1zM246.0 461.4h1v1h-1zM240.6 471.8h1v1h-1zM229.9 481.0h1v1h-1zM226.5 468.2h1v1h-1zM232.5 474.8h1v1h-1zM229.4 473.7h1v1h-1zM235.8 465.3h1v1h-1zM225.7 466.9h1v1h-1zM243.9 468.8h1v1h-1zM227.4 472.7h1v1h-1zM235.7 472.3h1v1h-1zM228.3 475.7h1v1h-1zM222.8 486.6h1v1h-1zM227.5 478.9h1v1h-1zM228.0 474.4h1v1h-1zM243.5 466.4h1v1h-1zM238.6 466.6h1v1h-1zM222.8 481.0h1v1h-1zM213.0 499.1h1v1h-1zM218.9 482.3h1v1h-1zM230.8 463.4h1v1h-1zM204.1 507.2h1v1h-1zM208.0 494.3h1v1h-1zM243.5 452.9h1v1h-1zM227.0 479.0h1v1h-1zM224.6 483.3h1v1h-1zM236.3 470.2h1v1h-1zM243.7 463.5h1v1h-1zM239.0 474.8h1v1h-1zM229.2 478.9h1v1h-1zM224.4 485.2h1v1h-1zM240.7 461.8h1v1h-1zM240.6 473.9h1v1h-1zM232.4 473.8h1v1h-1zM229.7 454.5h1v1h-1zM238.7 467.0h1v1h-1zM229.0 475.2h1v1h-1zM236.8 457.4h1v1h-1zM222.2 489.2h1v1h-1zM231.9 485.9h1v1h-1zM238.3 465.3h1v1h-1zM242.0 464.6h1v1h-1zM227.3 482.9h1v1h-1zM202.2 512.6h1v1h-1zM218.6 483.1h1v1h-1zM220.8 485.6h1v1h-1zM240.5 462.7h1v1h-1zM238.3 477.5h1v1h-1zM248.8 467.9h1v1h-1zM238.6 472.9h1v1h-1zM242.3 465.5h1v1h-1zM229.2 473.2h1v1h-1zM232.4 464.5h1v1h-1zM233.0 475.0h1v1h-1zM238.8 481.0h1v1h-1zM227.2 479.1h1v1h-1zM223.0 482.7h1v1h-1zM231.0 475.3h1v1h-1zM242.4 463.4h1v1h-1zM228.1 467.6h1v1h-1zM237.5 467.7h1v1h-1zM222.9 489.6h1v1h-1zM247.8 463.0h1v1h-1zM235.1 466.7h1v1h-1zM231.6 481.2h1v1h-1zM246.1 461.0h1v1h-1zM217.7 481.7h1v1h-1zM245.9 460.5h1v1h-1zM243.9 467.2h1v1h-1zM226.7 476.2h1v1h-1zM240.0 462.3h1v1h-1zM220.2 480.2h1v1h-1zM240.6 463.3h1v1h-1zM235.0 473.7h1v1h-1zM235.1 460.1h1v1h-1zM233.0 467.1h1v1h-1zM213.3 498.8h1v1h-1zM241.7 468.9h1v1h-1zM219.0 485.5h1v1h-1zM226.3 470.3h1v1h-1zM247.5 458.2h1v1h-1zM241.5 464.5h1v1h-1zM224.7 471.2h1v1h-1zM235.3 465.3h1v1h-1zM228.7 476.2h1v1h-1zM228.1 480.3h1v1h-1zM255.5 444.9h1v1h-1zM243.5 466.9h1v1h-1zM232.7 467.1h1v1h-1zM213.0 490.6h1v1h-1zM232.7 469.9h1v1h-1zM250.5 464.4h1v1h-1zM236.5 478.7h1v1h-1zM213.4 489.5h1v1h-1zM247.9 468.3h1v1h-1zM238.9 465.4h1v1h-1zM231.0 466.3h1v1h-1zM252.2 454.8h1v1h-1zM237.9 471.8h1v1h-1zM232.7 462.5h1v1h-1zM225.2 478.8h1v1h-1zM227.1 477.6h1v1h-1zM229.2 483.4h1v1h-1zM209.3 488.9h1v1h-1zM236.4 473.4h1v1h-1zM224.0 476.3h1v1h-1zM237.9 466.9h1v1h-1zM224.3 472.0h1v1h-1zM224.8 478.8h1v1h-1zM223.8 491.8h1v1h-1zM222.3 480.2h1v1h-1zM230.1 468.4h1v1h-1zM234.9 469.7h1v1h-1zM229.4 479.1h1v1h-1zM227.8 485.3h1v1h-1zM232.7 478.7h1v1h-1zM235.7 471.6h1v1h-1zM243.9 460.3h1v1h-1zM232.5 471.8h1v1h-1zM209.6 492.0h1v1h-1zM222.6 478.9h1v1h-1zM240.1 477.8h1v1h-1zM238.4 459.9h1v1h-1zM227.5 482.0h1v1h-1zM249.9 453.5h1v1h-1zM235.0 465.1h1v1h-1zM215.7 485.0h1v1h-1zM216.6 491.7h1v1h-1zM247.4 462.7h1v1h-1zM263.3 444.8h1v1h-1zM224.2 476.9h1v1h-1zM225.4 468.8h1v1h-1zM230.0 474.4h1v1h-1zM225.5 477.8h1v1h-1zM230.6 474.7h1v1h-1zM239.8 479.0h1v1h-1zM224.2 484.8h1v1h-1zM237.0 466.6h1v1h-1zM229.6 477.6h1v1h-1zM211.1 487.2h1v1h-1zM252.7 456.9h1v1h-1zM222.5 483.5h1v1h-1zM215.2 486.8h1v1h-1zM246.8 450.4h1v1h-1zM232.1 479.1h1v1h-1zM237.3 472.6h1v1h-1zM239.5 464.1h1v1h-1zM229.8 474.0h1v1h-1zM244.5 473.6h1v1h-1zM240.8 466.2h1v1h-1zM223.8 485.7h1v1h-1zM218.1 483.5h1v1h-1zM233.2 476.9h1v1h-1zM211.0 495.4h1v1h-1zM223.9 494.7h1v1h-1zM241.8 463.7h1v1h-1zM236.5 466.2h1v1h-1zM219.3 484.2h1v1h-1zM208.8 502.1h1v1h-1zM223.7 486.9h1v1h-1zM253.4 451.2h1v1h-1zM226.8 471.6h1v1h-1zM240.6 458.3h1v1h-1zM235.6 462.0h1v1h-1zM235.3 478.7h1v1h-1zM230.6 464.1h1v1h-1zM234.8 472.0h1v1h-1zM238.7 477.7h1v1h-1zM236.5 476.8h1v1h-1zM238.4 463.9h1v1h-1zM226.1 487.2h1v1h-1zM234.4 471.0h1v1h-1zM246.4 454.5h1v1h-1zM236.7 469.4h1v1h-1zM235.1 470.2h1v1h-1zM247.8 453.6h1v1h-1zM252.0 457.6h1v1h-1zM234.1 466.8h1v1h-1zM245.2 452.2h1v1h-1zM230.1 471.6h1v1h-1zM239.8 458.9h1v1h-1zM213.6 501.6h1v1h-1zM239.8 472.3h1v1h-1zM230.9 476.0h1v1h-1zM234.4 474.5h1v1h-1zM238.1 475.4h1v1h-1zM246.4 467.6h1v1h-1zM225.7 474.2h1v1h-1zM230.7 478.8h1v1h-1zM259.3 449.7h1v1h-1zM249.3 452.9h1v1h-1zM238.0 462.2h1v1h-1zM226.7 483.3h1v1h-1zM227.8 470.2h1v1h-1zM231.7 474.8h1v1h-1zM235.1 462.8h1v1h-1zM218.6 490.4h1v1h-1zM234.6 458.0h1v1h-1zM228.2 478.8h1v1h-1zM239.6 456.2h1v1h-1zM219.5 483.8h1v1h-1zM225.9 473.3h1v1h-1zM230.4 457.6h1v1h-1zM216.6 489.9h1v1h-1zM232.0 469.8h1v1h-1zM238.1 471.7h1v1h-1zM223.4 485.4h1v1h-1zM221.3 482.9h1v1h-1zM233.6 472.6h1v1h-1zM237.8 465.8h1v1h-1zM216.8 490.2h1v1h-1zM223.9 481.2h1v1h-1zM249.6 466.3h1v1h-1zM256.1 456.5h1v1h-1zM243.6 470.8h1v1h-1zM239.0 469.0h1v1h-1zM244.7 454.1h1v1h-1zM245.0 464.9h1v1h-1zM217.8 488.8h1v1h-1zM227.9 483.5h1v1h-1zM237.2 466.9h1v1h-1zM227.4 477.0h1v1h-1zM245.9 458.8h1v1h-1zM242.7 466.6h1v1h-1zM236.0 477.6h1v1h-1zM219.2 482.2h1v1h-1zM237.7 469.0h1v1h-1zM224.3 482.5h1v1h-1zM217.0 492.4h1v1h-1zM228.4 473.1h1v1h-1zM230.9 473.8h1v1h-1zM227.9 480.8h1v1h-1zM237.2 465.8h1v1h-1zM212.3 496.9h1v1h-1zM239.5 471.2h1v1h-1zM220.7 470.4h1v1h-1zM237.6 471.5h1v1h-1zM240.2 462.5h1v1h-1zM235.2 476.9h1v1h-1zM232.1 473.5h1v1h-1zM230.4 473.5h1v1h-1zM231.4 473.4h1v1h-1zM237.8 462.6h1v1h-1zM216.4 478.4h1v1h-1zM225.4 479.7h1v1h-1zM236.7 464.5h1v1h-1zM235.0 474.7h1v1h-1zM243.8 466.3h1v1h-1zM240.1 461.1h1v1h-1zM229.9 460.8h1v1h-1zM227.8 466.0h1v1h-1zM212.5 493.2h1v1h-1zM243.5 465.2h1v1h-1zM239.0 469.2h1v1h-1zM243.3 456.2h1v1h-1zM227.4 479.1h1v1h-1zM224.3 480.9h1v1h-1zM224.3 466.8h1v1h-1zM249.3 460.5h1v1h-1zM236.0 466.7h1v1h-1zM232.3 480.8h1v1h-1zM222.9 480.8h1v1h-1zM239.8 468.7h1v1h-1zM228.1 475.8h1v1h-1zM246.0 466.3h1v1h-1zM242.4 456.1h1v1h-1zM243.7 465.8h1v1h-1zM227.1 485.1h1v1h-1zM239.2 480.2h1v1h-1zM239.5 466.5h1v1h-1zM237.3 467.5h1v1h-1zM243.1 458.9h1v1h-1zM250.4 447.6h1v1h-1zM227.3 470.3h1v1h-1zM245.4 459.8h1v1h-1zM218.9 471.8h1v1h-1zM223.2 488.6h1v1h-1zM236.3 467.2h1v1h-1zM235.8 477.9h1v1h-1zM232.5 476.0h1v1h-1zM224.6 487.6h1v1h-1zM236.1 478.9h1v1h-1zM233.0 468.2h1v1h-1zM207.6 497.3h1v1h-1zM224.6 481.8h1v1h-1zM235.4 471.6h1v1h-1zM225.7 488.8h1v1h-1zM240.3 465.8h1v1h-1zM242.2 474.7h1v1h-1zM237.8 474.5h1v1h-1zM238.8 456.7h1v1h-1zM203.2 493.6h1v1h-1zM237.0 468.5h1v1h-1zM212.8 486.9h1v1h-1zM223.9 482.2h1v1h-1zM223.0 481.4h1v1h-1zM242.5 466.7h1v1h-1zM231.8 466.0h1v1h-1zM212.2 487.2h1v1h-1zM253.9 450.1h1v1h-1zM229.9 469.9h1v1h-1zM234.8 473.7h1v1h-1zM218.2 484.5h1v1h-1zM226.6 479.5h1v1h-1zM229.1 483.6h1v1h-1zM230.8 477.1h1v1h-1zM248.8 460.8h1v1h-1zM218.5 487.2h1v1h-1zM227.4 473.1h1v1h-1zM214.3 487.9h1v1h-1zM233.3 472.2h1v1h-1zM241.0 475.8h1v1h-1zM245.5 458.5h1v1h-1zM224.7 476.3h1v1h-1zM228.7 483.8h1v1h-1zM223.7 461.5h1v1h-1zM228.6 480.3h1v1h-1zM230.7 476.6h1v1h-1zM226.6 476.4h1v1h-1zM246.1 458.0h1v1h-1zM235.7 473.9h1v1h-1zM232.5 479.6h1v1h-1zM229.2 478.1h1v1h-1zM218.7 480.0h1v1h-1zM238.5 465.6h1v1h-1zM229.0 487.1h1v1h-1zM226.8 487.1h1v1h-1zM217.0 479.8h1v1h-1zM225.8 475.1h1v1h-1zM236.3 463.5h1v1h-1zM226.1 474.6h1v1h-1zM227.9 489.3h1v1h-1zM230.3 471.9h1v1h-1zM238.6 468.5h1v1h-1zM228.1 479.6h1v1h-1zM200.6 494.0h1v1h-1zM222.8 490.4h1v1h-1zM229.7 485.2h1v1h-1zM218.5 495.2h1v1h-1zM233.3 474.4h1v1h-1zM228.4 473.4h1v1h-1zM232.2 471.9h1v1h-1zM241.3 461.5h1v1h-1zM243.8 464.0h1v1h-1zM253.2 452.7h1v1h-1zM219.6 487.8h1v1h-1zM231.2 474.4h1v1h-1zM241.8 463.2h1v1h-1zM233.7 472.8h1v1h-1zM229.7 474.9h1v1h-1zM229.6 479.4h1v1h-1zM232.8 470.6h1v1h-1zM242.6 464.4h1v1h-1zM228.5 479.4h1v1h-1zM255.5 456.1h1v1h-1zM241.4 469.3h1v1h-1zM225.8 471.3h1v1h-1zM238.1 458.7h1v1h-1zM237.8 470.9h1v1h-1zM215.7 486.7h1v1h-1zM230.4 477.1h1v1h-1zM241.1 464.7h1v1h-1zM245.2 448.7h1v1h-1zM203.8 505.9h1v1h-1zM231.6 468.4h1v1h-1zM241.9 471.8h1v1h-1zM225.3 481.3h1v1h-1zM256.4 439.9h1v1h-1zM233.8 463.4h1v1h-1zM226.8 484.1h1v1h-1zM220.1 494.8h1v1h-1zM248.3 455.3h1v1h-1zM225.4 482.6h1v1h-1zM214.6 486.1h1v1h-1zM256.7 454.2h1v1h-1zM230.4 470.7h1v1h-1zM247.5 459.3h1v1h-1zM213.9 491.2h1v1h-1zM233.0 476.4h1v1h-1zM221.1 481.6h1v1h-1zM227.6 470.4h1v1h-1zM239.8 458.2h1v1h-1zM260.7 443.6h1v1h-1zM222.8 489.8h1v1h-1zM233.3 478.9h1v1h-1zM215.7 488.4h1v1h-1zM250.9 464.2h1v1h-1zM220.3 482.1h1v1h-1zM239.3 458.3h1v1h-1zM222.2 480.4h1v1h-1zM235.8 462.2h1v1h-1zM226.7 477.9h1v1h-1zM232.7 467.7h1v1h-1zM203.2 509.3h1v1h-1zM219.8 481.7h1v1h-1zM236.0 470.4h1v1h-1zM240.7 467.1h1v1h-1zM202.6 504.6h1v1h-1zM227.9 480.3h1v1h-1zM243.9 466.4h1v1h-1zM251.9 464.8h1v1h-1zM211.2 494.8h1v1h-1zM231.1 477.3h1v1h-1zM240.2 464.3h1v1h-1zM234.8 473.6h1v1h-1zM239.4 470.8h1v1h-1zM224.9 488.7h1v1h-1zM221.7 474.5h1v1h-1zM220.5 484.7h1v1h-1zM242.1 472.9h1v1h-1zM236.7 474.1h1v1h-1zM242.3 462.5h1v1h-1zM227.1 484.8h1v1h-1zM247.7 451.6h1v1h-1zM240.5 479.3h1v1h-1zM228.7 477.7h1v1h-1zM245.5 460.7h1v1h-1zM214.6 480.8h1v1h-1zM246.0 458.6h1v1h-1zM208.4 489.0h1v1h-1zM226.6 482.7h1v1h-1zM248.0 460.2h1v1h-1zM263.3 453.0h1v1h-1zM233.7 473.2h1v1h-1zM217.8 481.0h1v1h-1zM232.6 471.0h1v1h-1zM258.5 460.7h1v1h-1zM233.5 471.6h1v1h-1zM238.8 473.9h1v1h-1zM237.4 480.5h1v1h-1zM238.7 471.0h1v1h-1zM249.6 463.4h1v1h-1zM226.0 480.4h1v1h-1zM242.4 473.8h1v1h-1zM248.0 462.4h1v1h-1zM222.8 482.3h1v1h-1zM221.5 485.6h1v1h-1zM240.1 469.9h1v1h-1zM214.9 490.5h1v1h-1zM243.3 466.6h1v1h-1zM256.3 441.6h1v1h-1zM229.1 476.8h1v1h-1zM215.2 488.3h1v1h-1zM227.9 483.0h1v1h-1zM246.0 459.7h1v1h-1zM238.2 465.4h1v1h-1zM247.7 468.2h1v1h-1zM239.5 471.1h1v1h-1zM238.3 473.3h1v1h-1zM217.3 488.6h1v1h-1zM229.3 472.2h1v1h-1zM238.3 478.2h1v1h-1zM228.6 472.5h1v1h-1zM244.0 463.9h1v1h-1zM237.0 474.6h1v1h-1zM228.9 473.5h1v1h-1zM249.6 462.3h1v1h-1zM221.4 478.0h1v1h-1zM242.6 463.1h1v1h-1zM224.1 478.1h1v1h-1zM245.4 468.6h1v1h-1zM224.7 482.6h1v1h-1zM229.3 478.8h1v1h-1zM238.3 465.4h1v1h-1zM234.8 479.2h1v1h-1zM216.8 481.8h1v1h-1zM221.3 480.7h1v1h-1zM223.2 476.6h1v1h-1zM224.3 480.4h1v1h-1zM225.3 492.2h1v1h-1zM264.8 445.2h1v1h-1zM247.0 474.4h1v1h-1zM226.6 476.6h1v1h-1zM208.1 495.5h1v1h-1zM238.4 457.6h1v1h-1zM233.9 479.8h1v1h-1zM217.8 499.5h1v1h-1zM212.9 496.1h1v1h-1zM245.8 466.6h1v1h-1zM210.1 498.5h1v1h-1zM237.2 460.8h1v1h-1zM214.8 485.0h1v1h-1zM234.5 467.5h1v1h-1zM228.0 476.2h1v1h-1zM236.4 470.6h1v1h-1zM226.0 486.7h1v1h-1zM205.4 490.1h1v1h-1zM246.0 464.6h1v1h-1zM226.0 475.9h1v1h-1zM229.9 465.1h1v1h-1zM242.6 472.1h1v1h-1zM223.1 473.8h1v1h-1zM225.6 480.6h1v1h-1zM228.6 466.8h1v1h-1zM217.1 481.6h1v1h-1zM214.0 498.7h1v1h-1zM219.7 487.6h1v1h-1zM218.7 491.8h1v1h-1zM240.5 452.9h1v1h-1zM221.5 487.2h1v1h-1zM233.0 468.2h1v1h-1zM231.2 475.6h1v1h-1zM220.8 482.4h1v1h-1zM242.6 464.8h1v1h-1zM242.9 464.8h1v1h-1zM238.8 461.0h1v1h-1zM232.9 467.9h1v1h-1zM224.1 488.7h1v1h-1zM225.6 482.8h1v1h-1zM235.2 468.1h1v1h-1zM253.5 445.9h1v1h-1zM226.3 474.0h1v1h-1zM244.8 453.3h1v1h-1zM243.1 458.6h1v1h-1zM244.6 455.4h1v1h-1zM247.2 462.6h1v1h-1zM238.1 464.9h1v1h-1zM240.3 468.3h1v1h-1zM245.2 457.7h1v1h-1zM231.7 460.2h1v1h-1zM220.0 496.8h1v1h-1zM206.3 491.6h1v1h-1zM229.5 471.6h1v1h-1zM207.6 496.1h1v1h-1zM239.4 470.2h1v1h-1zM237.4 471.0h1v1h-1zM224.9 474.0h1v1h-1zM252.3 455.0h1v1h-1zM234.9 481.4h1v1h-1zM236.8 479.8h1v1h-1zM206.6 502.4h1v1h-1zM236.5 474.2h1v1h-1zM230.0 473.5h1v1h-1zM235.9 472.8h1v1h-1zM242.5 458.7h1v1h-1zM224.1 486.2h1v1h-1zM228.6 473.9h1v1h-1zM239.4 460.5h1v1h-1zM222.6 485.5h1v1h-1zM242.7 460.2h1v1h-1zM220.3 488.5h1v1h-1zM243.1 469.3h1v1h-1zM222.2 477.1h1v1h-1zM230.0 481.4h1v1h-1zM240.4 474.9h1v1h-1zM232.9 475.2h1v1h-1zM225.8 483.7h1v1h-1zM229.5 477.1h1v1h-1zM220.9 480.1h1v1h-1zM224.3 483.4h1v1h-1zM234.9 471.1h1v1h-1zM230.5 486.2h1v1h-1zM236.7 475.6h1v1h-1zM218.9 476.2h1v1h-1zM218.5 481.2h1v1h-1zM216.7 496.8h1v1h-1zM248.2 466.8h1v1h-1zM222.0 483.6h1v1h-1zM226.9 476.7h1v1h-1zM234.9 473.9h1v1h-1zM230.0 476.6h1v1h-1zM243.3 466.4h1v1h-1zM226.4 470.1h1v1h-1zM229.9 474.4h1v1h-1zM233.3 468.4h1v1h-1zM260.3 446.1h1v1h-1zM239.2 479.4h1v1h-1zM240.2 471.3h1v1h-1zM225.2 478.4h1v1h-1zM237.7 474.3h1v1h-1zM231.4 467.8h1v1h-1zM234.7 475.5h1v1h-1zM243.2 465.1h1v1h-1zM213.1 491.9h1v1h-1zM245.3 457.4h1v1h-1zM223.1 479.5h1v1h-1zM231.8 470.1h1v1h-1zM222.4 490.1h1v1h-1zM234.3 462.8h1v1h-1zM230.0 474.9h1v1h-1zM229.7 475.0h1v1h-1zM234.6 467.6h1v1h-1zM218.9 478.7h1v1h-1zM214.2 484.9h1v1h-1zM250.3 465.0h1v1h-1zM237.0 475.8h1v1h-1zM216.9 480.8h1v1h-1zM249.4 455.9h1v1h-1zM234.0 473.3h1v1h-1zM252.5 443.6h1v1h-1zM215.1 493.1h1v1h-1zM221.5 472.2h1v1h-1zM242.4 462.9h1v1h-1zM237.7 455.8h1v1h-1zM213.3 495.0h1v1h-1zM240.8 464.5h1v1h-1zM232.4 470.8h1v1h-1zM239.0 463.5h1v1h-1zM231.9 467.1h1v1h-1zM231.7 471.7h1v1h-1zM226.1 485.3h1v1h-1zM237.6 469.2h1v1h-1zM232.3 474.8h1v1h-1zM228.7 482.3h1v1h-1zM234.0 469.3h1v1h-1zM244.0 460.2h1v1h-1zM229.5 477.9h1v1h-1zM224.4 482.6h1v1h-1zM236.5 473.9h1v1h-1zM220.9 487.4h1v1h-1zM220.0 488.0h1v1h-1zM232.9 473.8h1v1h-1zM230.7 473.3h1v1h-1zM244.2 461.6h1v1h-1zM225.7 483.5h1v1h-1zM235.5 481.0h1v1h-1zM243.9 458.2h1v1h-1zM220.1 487.4h1v1h-1zM229.8 469.0h1v1h-1zM243.1 461.7h1v1h-1zM226.9 480.7h1v1h-1zM241.0 458.8h1v1h-1zM226.8 485.2h1v1h-1zM223.3 475.8h1v1h-1zM237.0 466.0h1v1h-1zM241.3 461.9h1v1h-1zM220.0 480.6h1v1h-1zM227.3 483.0h1v1h-1zM248.0 456.4h1v1h-1zM227.2 492.5h1v1h-1zM243.3 465.2h1v1h-1zM208.4 493.9h1v1h-1zM234.1 469.0h1v1h-1zM217.7 486.1h1v1h-1zM231.7 470.4h1v1h-1zM229.5 463.7h1v1h-1zM234.8 473.4h1v1h-1zM219.9 479.5h1v1h-1zM227.1 485.2h1v1h-1zM242.7 459.6h1v1h-1zM233.4 466.8h1v1h-1zM249.0 461.5h1v1h-1zM234.1 470.4h1v1h-1zM226.1 475.2h1v1h-1zM231.4 479.1h1v1h-1zM241.6 471.9h1v1h-1zM240.9 466.2h1v1h-1zM225.2 476.2h1v1h-1zM223.3 484.9h1v1h-1zM237.0 469.5h1v1h-1zM239.2 468.2h1v1h-1zM232.1 475.8h1v1h-1zM219.7 486.7h1v1h-1zM229.7 488.3h1v1h-1zM231.8 460.6h1v1h-1zM227.7 474.3h1v1h-1zM234.0 476.6h1v1h-1zM224.7 484.2h1v1h-1zM225.1 481.7h1v1h-1zM231.8 469.0h1v1h-1zM246.1 471.8h1v1h-1zM218.7 474.7h1v1h-1zM224.6 480.1h1v1h-1zM227.9 471.8h1v1h-1zM227.2 482.1h1v1h-1zM242.8 461.2h1v1h-1zM221.2 480.5h1v1h-1zM225.0 475.1h1v1h-1zM224.1 478.5h1v1h-1zM218.1 485.2h1v1h-1zM236.5 463.7h1v1h-1zM238.7 474.2h1v1h-1zM230.3 473.8h1v1h-1zM220.8 478.4h1v1h-1zM212.4 479.4h1v1h-1zM237.2 471.2h1v1h-1zM229.4 479.4h1v1h-1zM257.7 449.7h1v1h-1zM215.8 486.9h1v1h-1zM246.9 454.1h1v1h-1zM216.7 484.6h1v1h-1zM220.5 484.6h1v1h-1zM227.5 465.4h1v1h-1zM247.1 462.7h1v1h-1zM245.4 466.0h1v1h-1zM244.7 456.7h1v1h-1zM228.2 482.6h1v1h-1zM231.3 467.3h1v1h-1zM222.0 480.5h1v1h-1zM209.4 490.3h1v1h-1zM230.4 474.4h1v1h-1zM242.6 464.4h1v1h-1zM240.8 456.9h1v1h-1zM241.8 468.8h1v1h-1zM243.1 469.0h1v1h-1zM244.0 465.6h1v1h-1zM247.2 470.1h1v1h-1zM241.9 460.3h1v1h-1zM238.6 458.2h1v1h-1zM226.5 482.5h1v1h-1zM216.7 500.6h1v1h-1zM230.7 461.6h1v1h-1zM234.3 475.4h1v1h-1zM235.0 474.3h1v1h-1zM231.3 475.4h1v1h-1zM221.7 487.6h1v1h-1zM222.8 472.9h1v1h-1zM231.0 479.7h1v1h-1zM230.8 467.8h1v1h-1zM237.9 467.2h1v1h-1zM205.0 485.0h1v1h-1zM235.4 471.4h1v1h-1zM230.5 483.8h1v1h-1zM211.6 501.6h1v1h-1zM245.5 463.2h1v1h-1zM221.4 493.0h1v1h-1zM240.1 461.6h1v1h-1zM232.7 473.5h1v1h-1zM226.2 475.0h1v1h-1zM237.7 463.5h1v1h-1zM226.5 475.8h1v1h-1zM254.4 458.0h1v1h-1zM236.5 461.6h1v1h-1zM231.5 479.6h1v1h-1zM222.5 482.3h1v1h-1zM238.6 476.5h1v1h-1zM242.7 468.3h1v1h-1zM223.1 480.6h1v1h-1zM227.4 466.1h1v1h-1zM216.3 478.6h1v1h-1zM246.0 472.8h1v1h-1zM215.6 492.3h1v1h-1zM244.1 463.7h1v1h-1zM203.6 496.8h1v1h-1zM239.2 462.5h1v1h-1zM233.5 487.9h1v1h-1zM238.1 464.5h1v1h-1zM228.9 475.6h1v1h-1zM239.8 466.5h1v1h-1zM224.7 484.4h1v1h-1zM229.0 468.8h1v1h-1zM220.1 482.9h1v1h-1zM237.8 477.0h1v1h-1zM226.7 493.7h1v1h-1zM245.6 461.1h1v1h-1zM218.0 480.7h1v1h-1zM242.9 457.5h1v1h-1zM223.7 483.7h1v1h-1zM243.8 469.8h1v1h-1zM243.0 469.9h1v1h-1zM239.9 461.3h1v1h-1zM231.4 463.9h1v1h-1zM235.4 475.6h1v1h-1zM237.1 471.1h1v1h-1zM216.4 490.6h1v1h-1zM233.4 473.4h1v1h-1zM252.4 461.1h1v1h-1zM217.8 481.5h1v1h-1zM241.7 464.6h1v1h-1zM228.0 491.6h1v1h-1zM230.0 472.0h1v1h-1zM218.3 491.0h1v1h-1zM219.8 483.4h1v1h-1zM226.9 466.1h1v1h-1zM224.3 475.3h1v1h-1zM235.9 469.4h1v1h-1zM231.1 474.5h1v1h-1zM217.3 493.5h1v1h-1zM242.0 467.9h1v1h-1zM232.5 469.7h1v1h-1zM244.5 463.0h1v1h-1zM232.6 475.8h1v1h-1zM228.0 477.5h1v1h-1zM217.0 482.6h1v1h-1zM246.9 465.0h1v1h-1zM239.8 470.9h1v1h-1zM228.4 469.9h1v1h-1zM223.2 483.8h1v1h-1zM222.2 478.7h1v1h-1zM254.1 451.8h1v1h-1zM228.8 484.8h1v1h-1zM239.5 463.4h1v1h-1zM222.7 476.8h1v1h-1zM211.2 495.0h1v1h-1zM225.3 479.1h1v1h-1zM228.2 490.2h1v1h-1zM247.8 462.8h1v1h-1zM234.1 470.7h1v1h-1zM230.8 465.9h1v1h-1zM229.9 477.4h1v1h-1zM223.5 479.6h1v1h-1zM217.3 481.0h1v1h-1zM215.9 492.3h1v1h-1zM212.1 494.1h1v1h-1zM246.7 461.2h1v1h-1zM230.8 474.1h1v1h-1zM246.9 456.4h1v1h-1zM236.3 476.7h1v1h-1zM220.2 482.9h1v1h-1zM238.7 453.6h1v1h-1zM241.3 472.7h1v1h-1zM240.8 458.5h1v1h-1zM225.1 487.1h1v1h-1zM230.5 472.3h1v1h-1zM220.0 491.8h1v1h-1zM197.3 514.5h1v1h-1zM240.1 470.9h1v1h-1zM214.1 491.5h1v1h-1zM232.3 472.9h1v1h-1zM230.3 463.8h1v1h-1zM231.8 478.4h1v1h-1zM238.9 463.3h1v1h-1zM244.8 474.0h1v1h-1zM218.9 477.4h1v1h-1zM219.3 483.2h1v1h-1zM239.2 464.9h1v1h-1zM233.4 471.8h1v1h-1zM230.2 475.0h1v1h-1zM244.0 467.2h1v1h-1zM226.7 475.3h1v1h-1zM234.3 465.7h1v1h-1zM233.8 470.6h1v1h-1zM247.5 449.2h1v1h-1zM214.2 496.3h1v1h-1zM238.8 466.0h1v1h-1zM231.1 478.2h1v1h-1zM238.7 463.9h1v1h-1zM235.8 463.9h1v1h-1zM222.3 481.2h1v1h-1zM224.4 481.4h1v1h-1zM225.3 491.6h1v1h-1zM221.2 487.2h1v1h-1zM226.4 466.7h1v1h-1zM242.8 469.1h1v1h-1zM233.9 468.0h1v1h-1zM223.1 474.5h1v1h-1zM245.3 464.7h1v1h-1zM227.6 469.5h1v1h-1zM228.5 470.4h1v1h-1zM219.3 479.5h1v1h-1zM216.4 481.5h1v1h-1zM201.9 496.9h1v1h-1zM223.2 486.2h1v1h-1zM225.1 488.2h1v1h-1zM226.9 477.0h1v1h-1zM231.1 471.3h1v1h-1zM231.2 483.1h1v1h-1zM240.4 468.3h1v1h-1zM229.4 469.5h1v1h-1zM221.8 488.6h1v1h-1zM220.0 483.7h1v1h-1zM262.3 449.8h1v1h-1zM242.3 460.5h1v1h-1zM233.8 468.7h1v1h-1zM224.5 480.6h1v1h-1zM208.4 492.9h1v1h-1zM224.0 486.1h1v1h-1zM218.4 496.4h1v1h-1zM225.2 483.9h1v1h-1zM232.1 465.8h1v1h-1zM231.5 461.8h1v1h-1zM217.5 481.6h1v1h-1zM225.8 468.1h1v1h-1zM236.6 470.8h1v1h-1zM243.9 465.2h1v1h-1zM242.3 467.4h1v1h-1zM259.5 446.9h1v1h-1zM236.4 463.8h1v1h-1zM214.3 496.9h1v1h-1zM225.0 475.3h1v1h-1zM240.7 452.1h1v1h-1zM247.4 463.8h1v1h-1zM244.5 462.1h1v1h-1zM231.9 483.5h1v1h-1zM246.9 458.4h1v1h-1zM236.5 465.6h1v1h-1zM226.1 473.7h1v1h-1zM223.6 482.9h1v1h-1zM236.0 472.1h1v1h-1zM239.8 476.4h1v1h-1zM242.7 471.0h1v1h-1zM228.8 481.6h1v1h-1zM221.0 481.5h1v1h-1zM243.3 461.7h1v1h-1zM223.7 481.1h1v1h-1zM240.6 470.9h1v1h-1zM219.8 484.2h1v1h-1zM258.5 451.2h1v1h-1zM222.5 490.1h1v1h-1zM236.6 473.5h1v1h-1zM243.9 465.4h1v1h-1zM229.4 472.1h1v1h-1zM245.6 464.8h1v1h-1zM230.5 470.6h1v1h-1zM242.7 464.3h1v1h-1zM239.2 464.8h1v1h-1zM236.4 462.6h1v1h-1zM224.4 480.8h1v1h-1zM232.5 488.0h1v1h-1zM232.8 470.9h1v1h-1zM219.4 478.4h1v1h-1zM223.1 475.5h1v1h-1zM214.4 491.3h1v1h-1zM238.5 470.1h1v1h-1zM224.3 477.0h1v1h-1zM236.5 465.6h1v1h-1zM231.6 468.0h1v1h-1zM246.2 463.0h1v1h-1zM220.6 483.6h1v1h-1zM240.1 459.1h1v1h-1zM247.8 462.1h1v1h-1zM213.1 486.3h1v1h-1zM234.2 466.6h1v1h-1zM229.0 464.6h1v1h-1zM232.1 469.5h1v1h-1zM216.0 493.4h1v1h-1zM233.9 478.1h1v1h-1zM246.0 448.4h1v1h-1zM230.6 475.7h1v1h-1zM231.1 469.3h1v1h-1zM232.3 464.0h1v1h-1zM216.7 499.7h1v1h-1zM235.4 466.1h1v1h-1zM244.5 456.0h1v1h-1zM233.2 479.1h1v1h-1zM220.3 475.5h1v1h-1zM232.5 472.6h1v1h-1zM235.8 464.9h1v1h-1zM240.0 459.1h1v1h-1zM226.8 481.0h1v1h-1zM230.4 470.6h1v1h-1zM240.6 472.3h1v1h-1zM221.7 476.4h1v1h-1zM248.2 463.0h1v1h-1zM235.1 466.3h1v1h-1zM222.5 478.9h1v1h-1zM231.9 476.3h1v1h-1zM215.7 479.6h1v1h-1zM253.3 458.8h1v1h-1zM238.8 476.2h1v1h-1zM228.2 480.0h1v1h-1zM239.3 474.2h1v1h-1zM227.6 482.5h1v1h-1zM241.1 463.0h1v1h-1zM231.8 470.0h1v1h-1zM242.4 466.1h1v1h-1zM249.3 465.6h1v1h-1zM248.3 449.3h1v1h-1zM249.1 447.3h1v1h-1zM236.1 456.0h1v1h-1zM235.6 475.2h1v1h-1zM227.1 481.0h1v1h-1zM226.6 481.3h1v1h-1zM237.0 465.8h1v1h-1zM237.6 477.0h1v1h-1zM224.2 482.5h1v1h-1zM225.7 495.1h1v1h-1zM220.9 481.7h1v1h-1zM217.8 491.6h1v1h-1zM226.0 487.9h1v1h-1zM235.5 472.8h1v1h-1zM237.8 469.7h1v1h-1zM248.6 452.9h1v1h-1zM221.8 482.7h1v1h-1zM244.9 454.6h1v1h-1zM226.0 479.7h1v1h-1zM234.9 469.6h1v1h-1zM239.3 457.9h1v1h-1zM238.4 465.3h1v1h-1zM236.2 465.4h1v1h-1zM232.8 470.4h1v1h-1zM222.6 467.0h1v1h-1zM237.8 468.5h1v1h-1zM224.7 484.9h1v1h-1zM231.2 469.0h1v1h-1zM229.9 474.0h1v1h-1zM231.0 473.1h1v1h-1zM245.6 450.5h1v1h-1zM229.4 475.2h1v1h-1zM233.6 469.5h1v1h-1zM224.3 480.5h1v1h-1zM241.5 467.3h1v1h-1zM233.6 465.0h1v1h-1zM238.8 474.2h1v1h-1zM226.0 471.4h1v1h-1zM245.9 462.4h1v1h-1zM237.9 476.4h1v1h-1zM224.1 482.8h1v1h-1zM221.8 485.9h1v1h-1zM223.4 476.1h1v1h-1zM230.0 481.5h1v1h-1zM232.5 473.9h1v1h-1zM241.7 470.9h1v1h-1zM222.8 477.9h1v1h-1zM242.4 476.7h1v1h-1zM233.6 472.2h1v1h-1zM239.1 462.0h1v1h-1zM231.3 477.4h1v1h-1zM234.3 470.8h1v1h-1zM224.2 476.0h1v1h-1zM231.0 482.0h1v1h-1zM235.5 478.0h1v1h-1zM232.5 468.7h1v1h-1zM226.1 480.6h1v1h-1zM222.9 487.3h1v1h-1zM231.7 480.5h1v1h-1zM256.2 457.8h1v1h-1zM230.4 478.8h1v1h-1zM246.5 462.4h1v1h-1zM238.1 465.1h1v1h-1zM234.5 475.4h1v1h-1zM240.4 465.0h1v1h-1zM221.3 485.7h1v1h-1zM236.2 474.7h1v1h-1zM232.8 483.9h1v1h-1zM229.5 478.6h1v1h-1zM226.2 487.4h1v1h-1zM245.8 459.2h1v1h-1zM229.7 480.9h1v1h-1zM239.7 475.5h1v1h-1zM232.4 472.3h1v1h-1zM233.4 479.0h1v1h-1zM225.3 481.1h1v1h-1zM227.8 478.3h1v1h-1zM220.2 478.5h1v1h-1zM241.1 478.0h1v1h-1zM257.2 454.8h1v1h-1zM249.6 453.8h1v1h-1zM231.2 471.9h1v1h-1zM219.6 490.9h1v1h-1zM241.7 462.7h1v1h-1zM226.7 476.8h1v1h-1zM249.0 462.7h1v1h-1zM263.9 453.7h1v1h-1zM232.3 477.2h1v1h-1zM226.5 483.5h1v1h-1zM215.8 495.2h1v1h-1zM246.3 461.9h1v1h-1zM228.2 484.5h1v1h-1zM215.8 480.9h1v1h-1zM232.1 471.7h1v1h-1zM226.8 466.7h1v1h-1zM223.3 484.2h1v1h-1zM231.3 470.6h1v1h-1zM225.4 480.7h1v1h-1zM248.9 465.9h1v1h-1zM235.5 476.7h1v1h-1zM230.9 475.9h1v1h-1zM236.4 475.2h1v1h-1zM228.4 475.2h1v1h-1zM247.8 464.8h1v1h-1zM257.0 449.4h1v1h-1zM225.0 464.5h1v1h-1zM228.2 480.5h1v1h-1zM241.5 465.6h1v1h-1zM232.9 483.7h1v1h-1zM238.6 473.4h1v1h-1zM235.1 475.8h1v1h-1zM215.2 491.0h1v1h-1zM240.9 465.7h1v1h-1zM215.3 482.0h1v1h-1zM236.9 466.7h1v1h-1zM229.7 470.3h1v1h-1zM263.0 450.8h1v1h-1zM235.5 464.8h1v1h-1zM219.5 482.4h1v1h-1zM231.8 476.3h1v1h-1zM230.0 471.0h1v1h-1zM210.2 494.6h1v1h-1zM209.8 497.2h1v1h-1zM250.7 462.0h1v1h-1zM230.4 474.2h1v1h-1zM240.5 474.0h1v1h-1zM229.2 473.4h1v1h-1zM237.4 468.4h1v1h-1zM239.8 480.7h1v1h-1zM239.8 480.2h1v1h-1zM240.3 480.8h1v1h-1zM238.1 457.7h1v1h-1zM227.0 495.2h1v1h-1zM232.4 480.3h1v1h-1zM234.8 472.6h1v1h-1zM215.7 489.6h1v1h-1zM239.4 465.1h1v1h-1zM199.7 489.3h1v1h-1zM239.8 467.9h1v1h-1zM237.8 467.0h1v1h-1zM227.7 471.9h1v1h-1zM230.5 470.1h1v1h-1zM239.6 462.3h1v1h-1zM253.2 459.7h1v1h-1zM225.2 481.0h1v1h-1zM244.1 463.9h1v1h-1zM234.2 486.1h1v1h-1zM230.8 485.6h1v1h-1zM226.7 482.6h1v1h-1zM220.1 487.3h1v1h-1zM235.8 462.1h1v1h-1zM230.7 474.7h1v1h-1zM226.6 475.5h1v1h-1zM219.1 491.9h1v1h-1zM212.3 496.4h1v1h-1zM229.3 472.4h1v1h-1zM229.0 479.8h1v1h-1zM224.4 478.5h1v1h-1zM244.5 461.7h1v1h-1zM249.4 458.8h1v1h-1zM236.0 457.5h1v1h-1zM222.0 490.1h1v1h-1zM227.2 478.5h1v1h-1zM234.3 477.2h1v1h-1zM243.3 466.7h1v1h-1zM241.4 461.9h1v1h-1zM230.4 474.6h1v1h-1zM229.7 459.2h1v1h-1zM241.7 464.3h1v1h-1zM246.9 450.9h1v1h-1zM229.4 468.2h1v1h-1zM220.8 476.5h1v1h-1zM233.8 471.7h1v1h-1zM241.1 463.0h1v1h-1zM227.9 472.7h1v1h-1zM249.1 455.9h1v1h-1zM237.3 463.1h1v1h-1zM220.2 491.0h1v1h-1zM223.7 485.7h1v1h-1zM232.2 481.0h1v1h-1zM234.7 475.3h1v1h-1zM229.4 472.5h1v1h-1zM226.3 476.3h1v1h-1zM239.2 467.2h1v1h-1zM232.4 473.9h1v1h-1zM231.9 466.4h1v1h-1zM257.2 453.1h1v1h-1zM224.9 470.2h1v1h-1zM223.4 483.0h1v1h-1zM219.2 485.4h1v1h-1zM244.0 458.2h1v1h-1zM232.1 481.4h1v1h-1zM227.6 474.1h1v1h-1zM214.3 481.7h1v1h-1zM219.5 489.1h1v1h-1zM212.5 492.7h1v1h-1zM228.2 484.9h1v1h-1zM224.1 475.7h1v1h-1zM220.8 485.4h1v1h-1zM236.2 478.2h1v1h-1zM231.9 479.8h1v1h-1zM232.3 476.0h1v1h-1zM229.4 480.5h1v1h-1zM241.3 452.7h1v1h-1zM237.3 458.3h1v1h-1zM225.1 486.0h1v1h-1zM236.7 461.6h1v1h-1zM253.0 454.4h1v1h-1zM230.4 469.9h1v1h-1zM234.6 461.9h1v1h-1zM235.2 473.4h1v1h-1zM218.7 486.3h1v1h-1zM219.1 474.6h1v1h-1zM243.9 467.8h1v1h-1zM231.1 468.4h1v1h-1zM220.1 487.3h1v1h-1zM230.8 469.7h1v1h-1zM239.4 459.4h1v1h-1zM233.4 477.7h1v1h-1zM237.1 471.3h1v1h-1zM238.3 474.1h1v1h-1zM235.3 467.4h1v1h-1zM233.4 464.0h1v1h-1zM249.6 463.0h1v1h-1zM221.7 480.2h1v1h-1zM236.4 468.5h1v1h-1zM239.6 465.8h1v1h-1zM224.3 478.5h1v1h-1zM229.2 471.8h1v1h-1zM220.0 479.2h1v1h-1zM233.0 470.1h1v1h-1zM229.6 474.1h1v1h-1zM229.4 478.6h1v1h-1zM241.4 463.2h1v1h-1zM225.7 479.5h1v1h-1zM236.0 472.2h1v1h-1zM213.9 499.8h1v1h-1zM246.3 455.9h1v1h-1zM239.3 467.8h1v1h-1zM230.2 482.3h1v1h-1zM222.6 478.3h1v1h-1zM240.4 474.6h1v1h-1zM223.4 484.9h1v1h-1zM238.6 470.4h1v1h-1zM236.8 470.9h1v1h-1zM228.5 472.2h1v1h-1zM235.1 464.7h1v1h-1zM232.7 467.2h1v1h-1zM243.9 459.7h1v1h-1zM251.4 462.7h1v1h-1zM240.5 468.4h1v1h-1zM239.6 472.1h1v1h-1zM239.0 471.3h1v1h-1zM228.8 474.1h1v1h-1zM223.9 479.8h1v1h-1zM223.4 489.3h1v1h-1zM238.8 462.4h1v1h-1zM216.8 499.8h1v1h-1zM240.4 471.3h1v1h-1zM234.1 472.7h1v1h-1zM250.7 448.9h1v1h-1zM232.6 477.7h1v1h-1zM224.0 487.5h1v1h-1zM228.9 469.2h1v1h-1zM213.0 495.1h1v1h-1zM235.3 465.1h1v1h-1zM251.6 463.1h1v1h-1zM226.3 482.8h1v1h-1zM215.4 498.6h1v1h-1zM227.5 477.2h1v1h-1zM235.8 471.5h1v1h-1zM223.8 475.8h1v1h-1zM205.3 490.8h1v1h-1zM239.1 464.8h1v1h-1zM228.0 472.9h1v1h-1zM224.1 481.3h1v1h-1zM245.5 459.9h1v1h-1zM227.0 482.1h1v1h-1zM237.7 479.0h1v1h-1zM243.7 447.0h1v1h-1zM243.5 470.7h1v1h-1zM223.2 489.7h1v1h-1zM240.6 459.9h1v1h-1zM209.3 499.0h1v1h-1zM230.2 468.5h1v1h-1zM234.9 481.4h1v1h-1zM241.6 464.0h1v1h-1zM248.9 458.2h1v1h-1zM220.1 475.3h1v1h-1zM220.7 474.6h1v1h-1zM216.1 498.3h1v1h-1zM230.3 472.5h1v1h-1zM234.3 470.5h1v1h-1zM240.8 468.5h1v1h-1zM218.0 495.2h1v1h-1zM241.1 465.2h1v1h-1zM228.1 481.5h1v1h-1zM239.3 475.0h1v1h-1zM228.8 483.1h1v1h-1zM222.6 481.2h1v1h-1zM240.7 453.6h1v1h-1zM228.9 460.0h1v1h-1zM208.2 508.3h1v1h-1zM203.4 491.9h1v1h-1zM222.2 477.2h1v1h-1zM231.9 472.8h1v1h-1zM235.2 473.2h1v1h-1zM216.7 482.5h1v1h-1zM240.6 464.8h1v1h-1zM226.7 469.8h1v1h-1zM247.5 455.3h1v1h-1zM236.7 464.1h1v1h-1zM226.0 474.6h1v1h-1zM228.8 481.1h1v1h-1zM226.6 483.8h1v1h-1zM231.1 476.8h1v1h-1zM217.5 484.1h1v1h-1zM222.9 476.9h1v1h-1zM251.6 450.7h1v1h-1zM242.9 476.7h1v1h-1zM237.7 472.4h1v1h-1zM232.1 471.1h1v1h-1zM247.8 455.8h1v1h-1zM231.8 475.5h1v1h-1zM238.2 462.4h1v1h-1zM216.1 487.5h1v1h-1zM231.4 462.0h1v1h-1zM233.4 467.3h1v1h-1zM244.8 464.7h1v1h-1zM247.5 459.6h1v1h-1zM240.3 462.1h1v1h-1zM224.9 478.2h1v1h-1zM235.0 466.4h1v1h-1zM235.9 475.2h1v1h-1zM235.5 473.3h1v1h-1zM233.5 476.8h1v1h-1zM244.7 454.2h1v1h-1zM236.3 478.7h1v1h-1zM231.7 472.6h1v1h-1zM235.1 475.6h1v1h-1zM228.4 471.3h1v1h-1zM237.4 464.4h1v1h-1zM220.5 491.1h1v1h-1zM254.4 451.2h1v1h-1zM226.9 484.3h1v1h-1zM220.6 488.6h1v1h-1zM228.2 479.8h1v1h-1zM249.7 453.5h1v1h-1zM237.0 477.1h1v1h-1zM247.4 460.3h1v1h-1zM212.0 487.3h1v1h-1zM225.2 484.0h1v1h-1zM233.4 468.6h1v1h-1zM227.5 479.9h1v1h-1zM236.0 460.3h1v1h-1zM217.1 482.9h1v1h-1zM218.5 491.7h1v1h-1zM227.0 483.1h1v1h-1zM230.8 477.9h1v1h-1zM241.5 458.8h1v1h-1zM236.2 467.1h1v1h-1zM230.8 467.1h1v1h-1zM237.4 458.9h1v1h-1zM221.6 482.1h1v1h-1zM236.3 479.4h1v1h-1zM254.7 451.3h1v1h-1zM242.8 457.2h1v1h-1zM238.5 480.2h1v1h-1zM229.5 473.1h1v1h-1zM236.4 463.7h1v1h-1zM232.1 471.8h1v1h-1zM244.1 466.1h1v1h-1zM237.4 472.3h1v1h-1zM240.1 465.6h1v1h-1zM258.7 440.1h1v1h-1zM246.0 459.0h1v1h-1zM230.1 469.0h1v1h-1zM229.9 482.1h1v1h-1zM228.1 470.5h1v1h-1zM214.3 487.2h1v1h-1zM228.9 470.6h1v1h-1zM226.6 482.5h1v1h-1zM229.7 480.4h1v1h-1zM242.5 460.4h1v1h-1zM224.7 472.9h1v1h-1zM237.7 473.2h1v1h-1zM239.0 467.1h1v1h-1zM239.0 464.8h1v1h-1zM237.9 465.6h1v1h-1zM217.1 485.8h1v1h-1zM231.1 478.1h1v1h-1zM237.4 474.3h1v1h-1zM261.1 446.5h1v1h-1zM242.8 464.5h1v1h-1zM234.8 472.7h1v1h-1zM218.7 468.8h1v1h-1zM223.8 485.4h1v1h-1zM242.6 475.7h1v1h-1zM245.7 457.3h1v1h-1zM233.6 472.7h1v1h-1zM225.0 477.0h1v1h-1zM222.1 479.6h1v1h-1zM200.0 499.9h1v1h-1zM242.3 469.4h1v1h-1zM241.8 478.7h1v1h-1zM250.2 457.5h1v1h-1zM245.5 461.3h1v1h-1zM226.6 475.2h1v1h-1zM220.0 490.5h1v1h-1zM228.5 483.2h1v1h-1zM235.3 485.0h1v1h-1zM239.2 479.2h1v1h-1zM235.3 481.0h1v1h-1zM236.5 468.9h1v1h-1zM216.3 480.0h1v1h-1zM241.6 457.7h1v1h-1zM234.1 463.5h1v1h-1zM241.9 463.1h1v1h-1zM225.8 471.8h1v1h-1zM245.6 457.8h1v1h-1zM236.3 465.3h1v1h-1zM218.8 482.8h1v1h-1zM240.0 457.4h1v1h-1zM226.8 476.4h1v1h-1zM242.6 467.9h1v1h-1zM208.8 496.6h1v1h-1zM212.5 491.5h1v1h-1zM235.4 461.2h1v1h-1zM241.7 469.2h1v1h-1zM220.7 480.3h1v1h-1zM234.7 472.5h1v1h-1zM243.5 469.9h1v1h-1zM227.9 475.9h1v1h-1zM243.3 470.7h1v1h-1zM212.7 495.9h1v1h-1zM226.7 481.1h1v1h-1zM248.9 461.8h1v1h-1zM247.0 452.8h1v1h-1zM229.2 483.3h1v1h-1zM239.1 472.4h1v1h-1zM233.5 468.1h1v1h-1zM232.0 474.8h1v1h-1zM231.7 472.9h1v1h-1zM248.5 460.2h1v1h-1zM231.6 479.1h1v1h-1zM227.0 477.3h1v1h-1zM245.3 461.3h1v1h-1zM235.3 473.3h1v1h-1zM220.4 495.3h1v1h-1zM222.9 487.8h1v1h-1zM233.3 476.5h1v1h-1zM239.6 475.3h1v1h-1zM218.0 479.7h1v1h-1zM220.8 479.0h1v1h-1zM222.7 484.5h1v1h-1zM231.2 471.5h1v1h-1zM246.2 454.9h1v1h-1zM241.6 464.8h1v1h-1zM216.3 489.5h1v1h-1zM224.1 475.8h1v1h-1zM252.4 462.3h1v1h-1zM219.1 491.5h1v1h-1zM234.6 482.0h1v1h-1zM217.4 488.7h1v1h-1zM239.9 470.2h1v1h-1zM248.0 466.8h1v1h-1zM246.5 467.1h1v1h-1zM228.5 480.2h1v1h-1zM244.1 465.2h1v1h-1zM230.3 476.1h1v1h-1zM251.1 452.8h1v1h-1zM227.7 467.7h1v1h-1zM228.4 469.2h1v1h-1zM241.1 468.0h1v1h-1zM230.1 473.0h1v1h-1zM233.5 480.6h1v1h-1zM225.9 486.6h1v1h-1zM211.2 491.0h1v1h-1zM234.2 460.5h1v1h-1zM229.9 465.2h1v1h-1zM249.5 468.5h1v1h-1zM246.6 465.0h1v1h-1zM225.1 486.9h1v1h-1zM245.7 453.1h1v1h-1zM237.0 469.3h1v1h-1zM243.3 455.2h1v1h-1zM234.6 472.8h1v1h-1zM216.7 494.3h1v1h-1zM242.7 454.8h1v1h-1zM213.5 487.0h1v1h-1zM225.3 477.0h1v1h-1zM221.8 483.0h1v1h-1zM234.4 465.7h1v1h-1zM234.8 466.5h1v1h-1zM261.2 455.7h1v1h-1zM232.3 476.1h1v1h-1zM216.3 478.0h1v1h-1zM241.0 462.9h1v1h-1zM217.7 479.7h1v1h-1zM220.7 495.8h1v1h-1zM226.0 477.8h1v1h-1zM241.4 461.1h1v1h-1zM215.3 488.3h1v1h-1zM223.0 468.1h1v1h-1zM241.5 465.5h1v1h-1zM224.7 486.9h1v1h-1zM230.0 472.6h1v1h-1zM242.9 458.2h1v1h-1zM241.5 462.1h1v1h-1zM235.4 474.8h1v1h-1zM222.2 476.8h1v1h-1zM229.2 472.2h1v1h-1zM230.0 470.2h1v1h-1zM227.1 474.8h1v1h-1zM235.1 472.5h1v1h-1zM236.7 465.9h1v1h-1zM222.6 483.8h1v1h-1zM236.5 472.6h1v1h-1zM221.6 484.2h1v1h-1zM224.8 483.6h1v1h-1zM218.6 491.8h1v1h-1zM242.3 465.3h1v1h-1zM242.1 471.5h1v1h-1zM223.9 478.3h1v1h-1zM225.9 475.3h1v1h-1zM220.7 490.3h1v1h-1zM217.1 495.6h1v1h-1zM236.0 476.0h1v1h-1zM233.7 481.5h1v1h-1zM237.4 472.6h1v1h-1zM232.4 474.9h1v1h-1zM230.1 468.5h1v1h-1zM210.4 498.1h1v1h-1zM241.3 473.7h1v1h-1zM230.9 469.8h1v1h-1zM232.9 467.7h1v1h-1zM240.1 462.2h1v1h-1zM243.9 454.5h1v1h-1zM209.1 503.1h1v1h-1zM233.1 461.5h1v1h-1zM215.8 482.9h1v1h-1zM263.4 444.3h1v1h-1zM232.0 470.8h1v1h-1zM216.1 480.1h1v1h-1zM234.4 471.0h1v1h-1zM243.4 468.3h1v1h-1zM220.0 490.3h1v1h-1zM226.9 476.4h1v1h-1zM222.7 482.0h1v1h-1zM233.8 472.0h1v1h-1zM250.0 451.9h1v1h-1zM221.1 481.7h1v1h-1zM224.6 480.1h1v1h-1zM219.4 475.2h1v1h-1zM216.2 489.2h1v1h-1zM224.6 475.3h1v1h-1zM238.2 469.1h1v1h-1zM238.7 455.0h1v1h-1zM262.7 445.8h1v1h-1zM229.0 481.0h1v1h-1zM237.9 473.3h1v1h-1zM252.6 454.3h1v1h-1zM228.7 474.0h1v1h-1zM238.5 467.8h1v1h-1zM235.4 474.4h1v1h-1zM222.2 480.1h1v1h-1zM230.4 468.7h1v1h-1zM223.0 486.4h1v1h-1zM220.7 481.9h1v1h-1zM230.3 464.5h1v1h-1zM226.0 483.9h1v1h-1zM224.2 487.8h1v1h-1zM229.3 472.6h1v1h-1zM228.9 480.4h1v1h-1zM229.9 473.0h1v1h-1zM228.1 479.5h1v1h-1zM235.3 469.9h1v1h-1zM228.5 464.2h1v1h-1zM217.6 487.3h1v1h-1zM231.7 471.6h1v1h-1zM223.1 490.3h1v1h-1zM223.8 479.8h1v1h-1zM220.2 488.4h1v1h-1zM242.4 465.5h1v1h-1zM230.5 484.0h1v1h-1zM234.4 476.6h1v1h-1zM236.4 479.3h1v1h-1zM232.1 474.3h1v1h-1zM231.6 471.8h1v1h-1zM231.8 468.8h1v1h-1zM218.2 485.9h1v1h-1zM239.9 467.6h1v1h-1zM222.0 490.8h1v1h-1zM213.6 488.8h1v1h-1zM240.1 464.9h1v1h-1zM214.3 491.3h1v1h-1zM237.3 457.8h1v1h-1zM247.0 456.7h1v1h-1zM213.5 502.8h1v1h-1zM244.1 464.0h1v1h-1zM218.1 483.8h1v1h-1zM215.0 483.0h1v1h-1zM220.6 486.0h1v1h-1zM247.9 461.9h1v1h-1zM230.0 467.2h1v1h-1zM229.0 462.6h1v1h-1zM230.6 479.8h1v1h-1zM239.4 465.7h1v1h-1zM243.4 465.8h1v1h-1zM225.9 486.9h1v1h-1zM227.5 475.9h1v1h-1zM216.8 489.8h1v1h-1zM230.2 478.7h1v1h-1zM228.3 476.7h1v1h-1zM211.0 487.9h1v1h-1zM225.4 488.1h1v1h-1zM236.5 471.0h1v1h-1zM234.9 469.8h1v1h-1zM229.8 468.4h1v1h-1zM235.7 471.7h1v1h-1zM225.7 481.3h1v1h-1zM224.0 480.4h1v1h-1zM219.3 484.9h1v1h-1zM232.2 485.0h1v1h-1zM220.8 477.4h1v1h-1zM249.8 457.9h1v1h-1zM221.6 480.7h1v1h-1zM220.0 485.2h1v1h-1zM236.0 472.2h1v1h-1zM241.7 451.8h1v1h-1zM234.8 463.2h1v1h-1zM227.5 481.0h1v1h-1zM240.1 459.0h1v1h-1zM236.4 473.8h1v1h-1zM239.0 478.5h1v1h-1zM230.5 483.3h1v1h-1zM231.6 476.9h1v1h-1zM219.1 491.6h1v1h-1zM229.2 478.3h1v1h-1zM240.8 471.6h1v1h-1zM248.3 463.0h1v1h-1zM239.0 464.7h1v1h-1zM237.7 460.8h1v1h-1zM239.7 466.8h1v1h-1zM224.2 486.5h1v1h-1zM238.6 477.6h1v1h-1zM237.2 471.3h1v1h-1zM254.7 463.3h1v1h-1zM235.2 481.3h1v1h-1zM222.7 482.8h1v1h-1zM241.1 471.1h1v1h-1zM236.8 463.7h1v1h-1zM240.1 470.1h1v1h-1zM235.6 472.9h1v1h-1zM246.5 464.8h1v1h-1zM229.1 477.2h1v1h-1zM232.1 470.5h1v1h-1zM231.5 474.5h1v1h-1zM222.5 483.6h1v1h-1zM202.7 498.5h1v1h-1zM219.2 490.1h1v1h-1zM235.6 474.0h1v1h-1zM226.8 487.3h1v1h-1z" fill="#3cb4c4" stroke="none" stroke-width="1" fill-opacity="0.6"/>
<path d="M221.8 475.0h1v1h-1zM240.0 487.0h1v1h-1zM218.2 496.8h1v1h-1zM222.8 484.8h1v1h-1zM232.6 469.2h1v1h-1zM215.0 491.2h1v1h-1zM215.7 482.7h1v1h-1zM226.6 464.3h1v1h-1zM217.5 503.2h1v1h-1zM215.7 500.6h1v1h-1zM208.9 499.0h1v1h-1zM236.6 481.3h1v1h-1zM215.6 484.4h1v1h-1zM209.9 490.0h1v1h-1zM206.6 486.7h1v1h-1zM237.0 490.8h1v1h-1zM212.2 497.5h1v1h-1zM225.6 493.3h1v1h-1zM212.5 496.7h1v1h-1zM218.5 496.5h1v1h-1zM218.1 493.0h1v1h-1zM232.0 483.2h1v1h-1zM214.7 503.0h1v1h-1zM227.0 485.8h1v1h-1zM225.7 484.3h1v1h-1zM210.7 493.3h1v1h-1zM237.0 486.9h1v1h-1zM215.7 498.2h1v1h-1zM219.4 480.6h1v1h-1zM243.8 476.8h1v1h-1zM217.9 486.5h1v1h-1zM226.4 484.0h1v1h-1zM229.8 482.0h1v1h-1zM226.4 472.1h1v1h-1zM202.3 495.2h1v1h-1zM225.4 487.6h1v1h-1zM229.1 492.8h1v1h-1zM214.9 486.2h1v1h-1zM230.6 461.3h1v1h-1zM224.5 488.2h1v1h-1zM217.7 502.6h1v1h-1zM222.8 492.2h1v1h-1zM228.2 494.9h1v1h-1zM215.8 501.8h1v1h-1zM227.0 483.6h1v1h-1zM220.2 489.0h1v1h-1zM218.6 487.7h1v1h-1zM222.8 473.3h1v1h-1zM215.3 497.8h1v1h-1zM234.9 476.2h1v1h-1zM233.5 486.5h1v1h-1zM217.0 497.8h1v1h-1zM212.0 487.8h1v1h-1zM238.1 483.9h1v1h-1zM204.9 505.0h1v1h-1zM214.1 499.5h1v1h-1zM237.1 475.6h1v1h-1zM216.7 489.7h1v1h-1zM238.3 467.9h1v1h-1zM232.6 489.8h1v1h-1zM227.8 496.4h1v1h-1zM212.2 490.6h1v1h-1zM217.5 476.3h1v1h-1zM220.2 485.6h1v1h-1zM212.0 493.0h1v1h-1zM227.1 486.7h1v1h-1zM215.4 505.7h1v1h-1zM227.2 493.2h1v1h-1zM217.8 483.7h1v1h-1zM220.9 486.6h1v1h-1zM218.4 483.5h1v1h-1zM231.2 487.1h1v1h-1zM214.6 480.6h1v1h-1zM222.0 474.1h1v1h-1zM217.7 488.7h1v1h-1zM213.5 491.6h1v1h-1zM234.4 475.1h1v1h-1zM227.5 485.3h1v1h-1zM221.8 487.1h1v1h-1zM218.3 502.4h1v1h-1zM215.5 488.7h1v1h-1zM215.9 480.6h1v1h-1zM221.3 479.1h1v1h-1zM230.2 470.9h1v1h-1zM210.3 496.8h1v1h-1zM216.0 490.5h1v1h-1zM228.9 473.1h1v1h-1zM220.6 498.8h1v1h-1zM230.9 500.1h1v1h-1zM223.7 470.6h1v1h-1zM209.5 498.1h1v1h-1zM224.9 490.4h1v1h-1zM212.7 496.5h1v1h-1zM233.0 471.2h1v1h-1zM227.6 494.3h1v1h-1zM241.8 455.2h1v1h-1zM240.2 487.2h1v1h-1zM209.6 497.4h1v1h-1zM214.6 491.0h1v1h-1zM225.9 487.6h1v1h-1zM232.9 494.4h1v1h-1zM206.4 511.8h1v1h-1zM215.3 507.9h1v1h-1zM215.0 497.7h1v1h-1zM214.0 495.1h1v1h-1zM221.8 488.0h1v1h-1zM223.0 483.8h1v1h-1zM217.9 476.6h1v1h-1zM204.1 500.7h1v1h-1zM201.6 512.8h1v1h-1zM230.1 480.6h1v1h-1zM224.0 498.2h1v1h-1zM218.5 485.7h1v1h-1zM208.9 495.6h1v1h-1zM220.1 489.4h1v1h-1zM218.0 491.6h1v1h-1zM224.1 490.3h1v1h-1zM219.8 485.1h1v1h-1zM217.2 480.9h1v1h-1zM221.7 499.9h1v1h-1zM225.2 475.8h1v1h-1zM200.6 500.1h1v1h-1zM229.3 483.1h1v1h-1zM211.4 478.8h1v1h-1zM223.6 491.1h1v1h-1zM208.3 492.1h1v1h-1zM215.8 486.1h1v1h-1zM218.6 485.1h1v1h-1zM207.5 493.0h1v1h-1zM207.4 486.2h1v1h-1zM217.4 503.7h1v1h-1zM210.4 501.0h1v1h-1zM234.0 490.0h1v1h-1zM229.8 486.0h1v1h-1zM237.4 481.1h1v1h-1zM210.8 489.5h1v1h-1zM233.5 475.0h1v1h-1zM242.5 482.0h1v1h-1zM225.2 488.0h1v1h-1zM223.5 489.1h1v1h-1zM224.5 490.3h1v1h-1zM209.8 503.8h1v1h-1zM222.3 458.8h1v1h-1zM230.8 492.4h1v1h-1zM234.6 472.5h1v1h-1zM219.2 496.4h1v1h-1zM221.0 484.3h1v1h-1zM205.0 491.2h1v1h-1zM225.7 477.1h1v1h-1zM197.2 512.4h1v1h-1zM208.5 494.3h1v1h-1zM230.8 490.6h1v1h-1zM219.4 487.8h1v1h-1zM259.4 476.0h1v1h-1zM221.8 494.0h1v1h-1zM219.5 483.0h1v1h-1zM206.0 476.4h1v1h-1zM213.4 513.2h1v1h-1zM227.0 490.3h1v1h-1zM240.2 469.0h1v1h-1zM214.4 506.3h1v1h-1zM218.3 505.1h1v1h-1zM235.1 481.0h1v1h-1zM214.9 497.0h1v1h-1zM206.5 496.9h1v1h-1zM223.1 464.4h1v1h-1zM209.6 483.6h1v1h-1zM221.1 499.4h1v1h-1zM219.5 487.4h1v1h-1zM237.6 473.5h1v1h-1zM227.1 494.4h1v1h-1zM211.1 506.7h1v1h-1zM224.4 477.2h1v1h-1zM207.4 517.7h1v1h-1zM225.1 488.2h1v1h-1zM217.3 500.0h1v1h-1zM229.9 489.5h1v1h-1zM209.4 491.8h1v1h-1zM220.3 487.1h1v1h-1zM224.7 489.0h1v1h-1zM215.3 504.6h1v1h-1zM232.8 476.9h1v1h-1zM230.3 477.9h1v1h-1zM213.5 494.3h1v1h-1zM209.0 483.1h1v1h-1zM215.6 503.8h1v1h-1zM219.0 485.3h1v1h-1zM226.9 501.8h1v1h-1zM213.7 485.9h1v1h-1zM228.9 494.2h1v1h-1zM214.0 489.5h1v1h-1zM220.7 472.4h1v1h-1zM229.3 495.8h1v1h-1zM219.1 481.9h1v1h-1zM234.8 471.6h1v1h-1zM223.7 494.5h1v1h-1zM209.6 498.6h1v1h-1zM242.6 470.2h1v1h-1zM219.9 496.2h1v1h-1zM221.5 488.5h1v1h-1zM226.1 476.7h1v1h-1zM201.6 508.4h1v1h-1zM217.8 491.0h1v1h-1zM228.6 491.6h1v1h-1zM235.5 472.7h1v1h-1zM217.6 492.9h1v1h-1zM224.4 497.9h1v1h-1zM216.1 494.4h1v1h-1zM222.3 487.2h1v1h-1zM229.5 502.2h1v1h-1zM227.6 485.2h1v1h-1zM219.3 485.2h1v1h-1zM212.6 502.0h1v1h-1zM241.1 488.3h1v1h-1zM214.5 509.4h1v1h-1zM208.1 487.5h1v1h-1zM223.7 478.9h1v1h-1zM220.8 498.9h1v1h-1zM227.1 509.4h1v1h-1zM215.3 483.9h1v1h-1zM227.2 478.7h1v1h-1zM213.5 488.8h1v1h-1zM230.1 478.5h1v1h-1zM230.5 485.9h1v1h-1zM220.5 490.5h1v1h-1zM210.4 489.9h1v1h-1zM209.6 498.0h1v1h-1zM230.0 493.6h1v1h-1zM200.6 491.7h1v1h-1zM208.4 487.7h1v1h-1zM210.6 480.2h1v1h-1zM234.5 472.8h1v1h-1zM228.7 499.8h1v1h-1zM219.6 477.8h1v1h-1zM214.4 490.0h1v1h-1zM231.4 479.2h1v1h-1zM219.0 471.4h1v1h-1zM219.8 494.9h1v1h-1zM221.3 503.1h1v1h-1zM219.5 493.6h1v1h-1zM214.3 493.2h1v1h-1zM220.9 490.9h1v1h-1zM220.2 496.5h1v1h-1zM214.1 501.8h1v1h-1zM217.0 481.2h1v1h-1zM209.8 483.2h1v1h-1zM222.3 497.3h1v1h-1zM207.4 491.3h1v1h-1zM220.0 490.7h1v1h-1zM226.5 482.3h1v1h-1zM226.0 486.9h1v1h-1zM213.1 492.9h1v1h-1zM214.6 493.9h1v1h-1zM232.2 478.0h1v1h-1zM202.1 489.4h1v1h-1zM211.7 488.1h1v1h-1zM238.4 484.2h1v1h-1zM225.4 483.5h1v1h-1zM223.1 490.6h1v1h-1zM224.8 484.2h1v1h-1zM219.4 486.1h1v1h-1zM211.6 466.6h1v1h-1zM224.1 470.0h1v1h-1zM221.1 495.0h1v1h-1zM222.8 470.7h1v1h-1zM217.7 501.3h1v1h-1zM222.5 477.7h1v1h-1zM236.7 492.1h1v1h-1zM215.6 492.8h1v1h-1zM216.6 477.8h1v1h-1zM209.6 504.6h1v1h-1zM222.7 485.2h1v1h-1zM212.9 483.8h1v1h-1zM242.9 478.0h1v1h-1zM222.2 478.2h1v1h-1zM217.0 485.6h1v1h-1zM221.9 490.5h1v1h-1zM225.0 489.7h1v1h-1zM237.5 477.6h1v1h-1zM219.8 487.2h1v1h-1zM228.1 469.3h1v1h-1zM215.3 493.5h1v1h-1zM207.5 501.7h1v1h-1zM211.9 511.1h1v1h-1zM222.4 510.9h1v1h-1zM226.2 484.9h1v1h-1zM229.6 480.7h1v1h-1zM223.5 495.7h1v1h-1zM224.8 487.5h1v1h-1zM209.2 480.1h1v1h-1zM238.9 471.6h1v1h-1zM221.8 488.5h1v1h-1zM216.7 493.3h1v1h-1zM236.5 475.6h1v1h-1zM214.4 481.3h1v1h-1zM225.2 493.2h1v1h-1zM216.5 495.9h1v1h-1zM220.0 497.3h1v1h-1zM214.9 493.3h1v1h-1zM218.9 478.4h1v1h-1zM232.1 490.5h1v1h-1zM222.1 488.4h1v1h-1zM210.7 500.3h1v1h-1zM214.6 479.7h1v1h-1zM246.8 463.8h1v1h-1zM222.3 480.5h1v1h-1zM213.9 508.6h1v1h-1zM229.6 488.3h1v1h-1zM225.2 482.9h1v1h-1zM225.9 478.2h1v1h-1zM210.9 505.2h1v1h-1zM222.0 488.5h1v1h-1zM231.9 469.3h1v1h-1zM220.7 472.4h1v1h-1zM200.9 513.9h1v1h-1zM223.5 490.3h1v1h-1zM228.6 488.8h1v1h-1zM218.6 499.0h1v1h-1zM234.1 480.7h1v1h-1zM206.2 497.3h1v1h-1zM224.6 459.0h1v1h-1zM216.1 480.1h1v1h-1zM224.9 490.1h1v1h-1zM230.7 498.7h1v1h-1zM207.2 505.7h1v1h-1zM238.4 486.6h1v1h-1zM231.5 476.0h1v1h-1zM231.3 475.0h1v1h-1zM209.8 488.6h1v1h-1zM209.5 504.6h1v1h-1zM217.9 491.5h1v1h-1zM227.7 484.1h1v1h-1zM218.4 481.0h1v1h-1zM217.8 497.7h1v1h-1zM222.4 483.9h1v1h-1zM221.5 487.1h1v1h-1zM234.0 480.6h1v1h-1zM213.8 494.6h1v1h-1zM225.0 488.3h1v1h-1zM215.8 499.3h1v1h-1zM229.3 485.8h1v1h-1zM210.6 482.2h1v1h-1zM238.3 479.0h1v1h-1zM209.7 502.2h1v1h-1zM242.4 487.7h1v1h-1zM232.3 477.5h1v1h-1zM226.4 477.0h1v1h-1zM233.9 499.7h1v1h-1zM219.0 484.3h1v1h-1zM243.1 471.4h1v1h-1zM221.8 493.8h1v1h-1zM220.5 475.6h1v1h-1zM216.5 503.1h1v1h-1zM216.3 489.0h1v1h-1zM217.1 490.2h1v1h-1zM197.1 501.0h1v1h-1zM222.3 471.7h1v1h-1zM230.3 490.0h1v1h-1zM228.1 470.7h1v1h-1zM218.3 483.6h1v1h-1zM233.6 492.3h1v1h-1zM231.3 475.7h1v1h-1zM216.0 499.0h1v1h-1zM229.1 468.1h1v1h-1zM217.2 492.2h1v1h-1zM228.1 504.3h1v1h-1zM220.7 492.5h1v1h-1zM218.9 479.4h1v1h-1zM223.7 480.7h1v1h-1zM218.6 486.2h1v1h-1zM221.5 492.0h1v1h-1zM215.1 487.4h1v1h-1zM216.3 476.1h1v1h-1zM230.6 486.6h1v1h-1zM226.7 476.3h1v1h-1zM220.2 493.1h1v1h-1zM214.9 491.4h1v1h-1zM201.1 502.9h1v1h-1zM217.9 488.9h1v1h-1zM221.1 500.1h1v1h-1zM223.2 481.6h1v1h-1zM223.9 498.2h1v1h-1zM242.9 475.9h1v1h-1zM217.9 493.9h1v1h-1zM223.4 492.1h1v1h-1zM226.0 478.6h1v1h-1zM221.9 483.2h1v1h-1zM222.5 496.1h1v1h-1zM212.6 499.7h1v1h-1zM242.3 476.8h1v1h-1zM224.1 485.4h1v1h-1zM226.0 485.0h1v1h-1zM229.3 478.3h1v1h-1zM218.6 486.2h1v1h-1zM228.2 479.8h1v1h-1zM233.7 474.2h1v1h-1zM216.5 498.5h1v1h-1zM225.6 482.5h1v1h-1zM217.4 499.4h1v1h-1zM216.5 490.5h1v1h-1zM226.3 491.7h1v1h-1zM223.8 476.6h1v1h-1zM212.2 495.4h1v1h-1zM222.5 500.0h1v1h-1zM218.6 487.9h1v1h-1zM219.1 493.9h1v1h-1zM221.2 487.4h1v1h-1zM209.8 500.1h1v1h-1zM228.6 500.7h1v1h-1zM231.3 457.3h1v1h-1zM239.3 494.1h1v1h-1zM216.8 480.2h1v1h-1zM226.8 481.1h1v1h-1zM215.3 501.5h1v1h-1zM228.3 484.7h1v1h-1zM221.8 483.3h1v1h-1zM216.8 493.1h1v1h-1zM209.1 493.5h1v1h-1zM235.5 497.5h1v1h-1zM218.3 490.0h1v1h-1zM234.1 473.7h1v1h-1zM209.4 504.0h1v1h-1zM219.1 492.6h1v1h-1zM214.8 495.1h1v1h-1zM212.2 481.0h1v1h-1zM240.2 464.6h1v1h-1zM220.2 492.5h1v1h-1zM201.9 493.6h1v1h-1zM228.4 480.9h1v1h-1zM207.9 498.4h1v1h-1zM218.9 480.7h1v1h-1zM225.6 486.1h1v1h-1zM214.6 502.0h1v1h-1zM230.6 488.9h1v1h-1zM240.4 490.6h1v1h-1zM226.2 492.3h1v1h-1zM209.9 520.0h1v1h-1zM205.6 493.3h1v1h-1zM216.0 486.5h1v1h-1zM231.8 477.6h1v1h-1zM210.5 489.6h1v1h-1zM216.5 484.8h1v1h-1zM213.6 504.7h1v1h-1zM227.1 480.5h1v1h-1zM220.6 498.0h1v1h-1zM221.9 493.0h1v1h-1zM224.1 492.8h1v1h-1zM217.5 490.7h1v1h-1zM220.8 492.6h1v1h-1zM241.1 468.6h1v1h-1zM217.1 469.3h1v1h-1zM203.1 486.2h1v1h-1zM224.3 492.2h1v1h-1zM209.1 518.6h1v1h-1zM220.9 492.1h1v1h-1zM215.3 496.0h1v1h-1zM236.7 484.0h1v1h-1zM224.3 504.7h1v1h-1zM228.3 466.3h1v1h-1zM222.3 479.9h1v1h-1zM216.2 503.0h1v1h-1zM221.6 504.6h1v1h-1zM226.4 483.1h1v1h-1zM217.1 507.6h1v1h-1zM221.9 483.9h1v1h-1zM210.5 500.0h1v1h-1zM230.5 500.9h1v1h-1zM220.8 501.0h1v1h-1zM221.2 482.4h1v1h-1zM227.0 491.7h1v1h-1zM220.8 475.8h1v1h-1zM217.3 492.1h1v1h-1zM226.2 484.6h1v1h-1zM212.4 482.6h1v1h-1zM230.2 484.9h1v1h-1zM221.8 485.4h1v1h-1zM226.5 465.2h1v1h-1zM203.8 516.1h1v1h-1zM223.2 488.3h1v1h-1zM227.3 510.6h1v1h-1zM222.7 499.9h1v1h-1zM221.2 491.2h1v1h-1zM213.9 486.9h1v1h-1zM215.3 486.1h1v1h-1zM234.1 464.1h1v1h-1zM211.1 498.3h1v1h-1zM227.7 493.2h1v1h-1zM225.6 493.4h1v1h-1zM228.8 502.0h1v1h-1zM206.2 477.2h1v1h-1zM228.9 499.8h1v1h-1zM207.9 491.3h1v1h-1zM223.1 488.8h1v1h-1zM226.4 488.4h1v1h-1zM237.0 466.3h1v1h-1zM219.6 477.9h1v1h-1zM220.3 479.1h1v1h-1zM210.0 507.9h1v1h-1zM229.3 476.3h1v1h-1zM229.3 488.3h1v1h-1zM230.8 473.6h1v1h-1zM214.9 485.7h1v1h-1zM222.9 491.9h1v1h-1zM214.7 509.8h1v1h-1zM224.5 463.0h1v1h-1zM233.8 482.1h1v1h-1zM211.9 503.2h1v1h-1zM221.5 485.6h1v1h-1zM233.1 486.5h1v1h-1zM255.2 467.2h1v1h-1zM216.8 484.8h1v1h-1zM224.6 501.7h1v1h-1zM235.3 477.0h1v1h-1zM209.6 493.8h1v1h-1zM232.5 496.0h1v1h-1zM221.0 483.2h1v1h-1zM226.6 478.0h1v1h-1zM239.5 500.1h1v1h-1zM213.0 494.1h1v1h-1zM213.5 502.6h1v1h-1zM212.8 493.6h1v1h-1zM218.4 495.5h1v1h-1zM230.3 469.7h1v1h-1zM225.0 495.7h1v1h-1zM210.6 487.7h1v1h-1zM221.9 469.5h1v1h-1zM205.3 494.5h1v1h-1zM224.7 482.7h1v1h-1zM219.2 497.1h1v1h-1zM223.2 495.8h1v1h-1zM228.2 486.9h1v1h-1zM213.9 499.8h1v1h-1zM220.1 503.4h1v1h-1zM236.7 496.2h1v1h-1zM234.5 499.2h1v1h-1zM208.5 495.9h1v1h-1zM214.2 490.2h1v1h-1zM222.4 483.1h1v1h-1zM210.2 483.7h1v1h-1zM232.5 496.0h1v1h-1zM213.2 480.6h1v1h-1zM211.5 491.5h1v1h-1zM222.2 495.7h1v1h-1zM241.0 494.1h1v1h-1zM220.6 495.1h1v1h-1zM211.4 494.1h1v1h-1zM221.0 509.6h1v1h-1zM228.4 491.8h1v1h-1zM219.1 490.1h1v1h-1zM206.9 500.7h1v1h-1zM228.3 479.3h1v1h-1zM216.1 459.9h1v1h-1zM226.5 479.5h1v1h-1zM232.6 473.5h1v1h-1zM240.8 470.5h1v1h-1zM216.0 490.2h1v1h-1zM209.4 493.0h1v1h-1zM235.0 485.2h1v1h-1zM209.5 491.0h1v1h-1zM210.1 490.8h1v1h-1zM221.9 486.9h1v1h-1zM247.2 467.3h1v1h-1zM231.7 491.9h1v1h-1zM219.8 494.1h1v1h-1zM212.8 502.2h1v1h-1zM213.6 485.5h1v1h-1zM234.6 484.4h1v1h-1zM234.7 476.6h1v1h-1zM241.0 477.0h1v1h-1zM210.9 509.7h1v1h-1zM218.0 505.7h1v1h-1zM213.0 502.6h1v1h-1zM220.5 486.3h1v1h-1zM215.3 487.5h1v1h-1zM206.6 501.6h1v1h-1zM230.3 486.2h1v1h-1zM230.5 492.2h1v1h-1zM227.4 491.1h1v1h-1zM223.6 498.8h1v1h-1zM222.7 496.2h1v1h-1zM229.4 473.3h1v1h-1zM222.7 494.2h1v1h-1zM229.7 479.3h1v1h-1zM215.2 480.3h1v1h-1zM222.2 486.2h1v1h-1zM221.3 500.7h1v1h-1zM233.1 487.3h1v1h-1zM214.5 493.8h1v1h-1zM228.7 492.2h1v1h-1zM239.5 481.8h1v1h-1zM223.5 475.1h1v1h-1zM222.6 484.7h1v1h-1zM225.1 474.0h1v1h-1zM225.8 473.4h1v1h-1zM219.8 464.5h1v1h-1zM211.1 492.8h1v1h-1zM225.4 499.0h1v1h-1zM211.2 505.8h1v1h-1zM210.4 494.8h1v1h-1zM221.4 470.3h1v1h-1zM201.5 492.3h1v1h-1zM204.2 504.2h1v1h-1zM235.2 462.7h1v1h-1zM218.4 467.8h1v1h-1zM214.4 508.3h1v1h-1zM201.3 493.7h1v1h-1zM224.7 473.6h1v1h-1zM231.9 487.3h1v1h-1zM227.5 485.4h1v1h-1zM219.7 507.6h1v1h-1zM218.2 488.2h1v1h-1zM213.0 498.5h1v1h-1zM230.0 496.9h1v1h-1zM214.1 474.7h1v1h-1zM223.3 502.5h1v1h-1zM232.5 473.9h1v1h-1zM221.9 500.7h1v1h-1zM212.0 507.9h1v1h-1zM231.3 461.0h1v1h-1zM223.0 512.7h1v1h-1zM231.5 474.5h1v1h-1zM239.2 459.9h1v1h-1zM227.7 494.1h1v1h-1zM228.8 478.5h1v1h-1zM220.7 491.0h1v1h-1zM238.7 476.2h1v1h-1zM228.2 474.0h1v1h-1zM204.2 506.2h1v1h-1zM228.4 474.5h1v1h-1zM236.0 485.1h1v1h-1zM225.2 493.1h1v1h-1zM214.8 492.0h1v1h-1zM230.7 477.3h1v1h-1zM218.9 502.2h1v1h-1zM208.6 485.3h1v1h-1zM215.6 480.4h1v1h-1zM229.0 471.9h1v1h-1zM225.3 489.6h1v1h-1zM228.3 486.2h1v1h-1zM216.4 489.2h1v1h-1zM228.8 459.9h1v1h-1zM219.8 491.1h1v1h-1zM210.1 493.8h1v1h-1zM210.9 484.3h1v1h-1zM208.9 492.5h1v1h-1zM224.1 482.4h1v1h-1zM221.2 504.8h1v1h-1zM214.2 482.8h1v1h-1zM219.6 476.5h1v1h-1zM234.3 458.0h1v1h-1zM221.1 502.2h1v1h-1zM225.5 471.2h1v1h-1zM217.4 479.8h1v1h-1zM210.5 499.8h1v1h-1zM218.0 491.9h1v1h-1zM229.2 477.0h1v1h-1zM223.4 496.5h1v1h-1zM227.0 484.9h1v1h-1zM228.2 495.9h1v1h-1zM211.2 485.4h1v1h-1zM223.0 483.1h1v1h-1zM215.1 486.6h1v1h-1zM221.9 482.7h1v1h-1zM230.3 482.7h1v1h-1zM221.2 485.4h1v1h-1zM226.0 480.8h1v1h-1zM212.0 517.5h1v1h-1zM229.5 490.8h1v1h-1zM206.7 497.9h1v1h-1zM227.4 488.1h1v1h-1zM219.6 485.3h1v1h-1zM246.4 476.1h1v1h-1zM215.3 491.5h1v1h-1zM223.8 484.5h1v1h-1zM224.0 482.5h1v1h-1zM216.3 486.2h1v1h-1zM211.7 502.8h1v1h-1zM241.1 484.7h1v1h-1zM219.4 494.7h1v1h-1zM226.4 478.2h1v1h-1zM234.1 475.5h1v1h-1zM216.2 480.6h1v1h-1zM223.7 490.7h1v1h-1zM243.7 448.9h1v1h-1zM220.1 483.9h1v1h-1zM221.0 489.9h1v1h-1zM221.3 487.3h1v1h-1zM219.8 479.8h1v1h-1zM225.3 483.8h1v1h-1zM218.6 485.5h1v1h-1zM205.9 502.8h1v1h-1zM237.1 485.9h1v1h-1zM231.8 474.7h1v1h-1zM210.1 496.2h1v1h-1zM235.0 487.6h1v1h-1zM234.6 484.5h1v1h-1zM242.6 486.0h1v1h-1zM228.9 485.4h1v1h-1z" fill="#86aae0" stroke="none" stroke-width="1" fill-opacity="0.5"/>
<path d="M248.6 483.1h1v1h-1zM242.8 478.5h1v1h-1zM244.1 474.5h1v1h-1zM235.3 487.4h1v1h-1zM243.5 488.4h1v1h-1zM247.3 473.0h1v1h-1zM247.3 470.5h1v1h-1zM243.2 485.0h1v1h-1zM246.4 489.2h1v1h-1zM252.8 475.3h1v1h-1zM245.7 482.9h1v1h-1zM260.1 459.8h1v1h-1zM244.0 473.4h1v1h-1zM244.8 487.0h1v1h-1zM238.8 481.2h1v1h-1zM252.4 477.6h1v1h-1zM237.8 482.9h1v1h-1zM250.1 473.9h1v1h-1zM245.2 472.4h1v1h-1zM247.3 486.0h1v1h-1zM248.1 470.9h1v1h-1zM237.4 491.5h1v1h-1zM256.4 473.1h1v1h-1zM272.1 454.4h1v1h-1zM255.9 463.5h1v1h-1zM242.8 480.4h1v1h-1zM248.2 480.7h1v1h-1zM254.9 472.2h1v1h-1zM252.2 468.4h1v1h-1zM245.7 473.5h1v1h-1zM247.6 488.9h1v1h-1zM266.8 462.9h1v1h-1zM254.9 467.8h1v1h-1zM254.6 472.7h1v1h-1zM259.0 454.5h1v1h-1zM243.6 490.6h1v1h-1zM254.4 476.2h1v1h-1zM255.0 484.5h1v1h-1zM246.2 476.4h1v1h-1zM250.2 474.5h1v1h-1zM227.4 488.4h1v1h-1zM249.8 473.9h1v1h-1zM241.4 475.6h1v1h-1zM245.0 482.9h1v1h-1zM253.5 486.3h1v1h-1zM235.8 493.1h1v1h-1zM256.1 465.2h1v1h-1zM248.2 470.3h1v1h-1zM251.6 481.2h1v1h-1zM248.2 481.6h1v1h-1zM253.8 458.6h1v1h-1zM238.0 485.7h1v1h-1zM253.1 477.9h1v1h-1zM244.1 482.4h1v1h-1zM245.3 467.7h1v1h-1zM230.4 487.0h1v1h-1zM239.7 491.8h1v1h-1zM265.9 467.0h1v1h-1zM246.8 493.2h1v1h-1zM254.7 476.4h1v1h-1zM248.6 472.8h1v1h-1zM252.5 471.6h1v1h-1zM248.8 464.3h1v1h-1zM262.5 474.7h1v1h-1zM235.3 491.5h1v1h-1zM246.7 470.4h1v1h-1zM253.4 480.3h1v1h-1zM238.3 498.2h1v1h-1zM256.8 471.6h1v1h-1zM258.0 469.5h1v1h-1zM248.5 479.5h1v1h-1zM250.7 478.2h1v1h-1zM263.8 473.1h1v1h-1zM251.8 474.8h1v1h-1zM249.6 484.7h1v1h-1zM251.2 477.1h1v1h-1zM250.4 471.4h1v1h-1zM264.2 461.4h1v1h-1zM249.0 483.1h1v1h-1zM239.4 494.0h1v1h-1zM242.1 484.8h1v1h-1zM260.0 465.5h1v1h-1zM248.9 480.8h1v1h-1zM251.2 479.4h1v1h-1zM241.4 480.9h1v1h-1zM236.1 500.5h1v1h-1zM244.4 480.0h1v1h-1zM237.7 490.4h1v1h-1zM248.8 484.1h1v1h-1zM263.4 474.4h1v1h-1zM261.5 467.6h1v1h-1zM252.8 477.2h1v1h-1zM260.5 469.9h1v1h-1zM261.0 469.2h1v1h-1zM258.6 467.1h1v1h-1zM252.1 480.6h1v1h-1zM256.7 464.6h1v1h-1zM248.3 469.2h1v1h-1zM253.4 467.1h1v1h-1zM252.1 485.7h1v1h-1zM261.6 467.1h1v1h-1zM234.9 494.1h1v1h-1zM242.9 490.8h1v1h-1zM253.8 481.5h1v1h-1zM254.6 470.7h1v1h-1zM263.9 476.8h1v1h-1zM232.2 496.4h1v1h-1zM250.5 476.4h1v1h-1zM259.6 466.5h1v1h-1zM255.3 467.6h1v1h-1zM241.4 484.6h1v1h-1zM252.8 475.2h1v1h-1zM263.8 478.2h1v1h-1zM243.0 468.4h1v1h-1zM249.2 474.1h1v1h-1zM247.3 479.5h1v1h-1zM246.8 484.6h1v1h-1zM258.6 469.1h1v1h-1zM250.3 461.4h1v1h-1zM247.7 482.1h1v1h-1zM241.5 495.0h1v1h-1zM237.8 490.6h1v1h-1zM256.6 470.9h1v1h-1zM252.8 482.6h1v1h-1zM255.3 460.8h1v1h-1zM244.9 477.7h1v1h-1zM264.6 471.7h1v1h-1zM244.9 479.6h1v1h-1zM251.8 478.2h1v1h-1zM254.8 482.1h1v1h-1zM236.6 495.4h1v1h-1zM246.6 475.6h1v1h-1zM236.3 481.3h1v1h-1zM255.6 479.8h1v1h-1zM244.1 484.5h1v1h-1zM254.9 481.6h1v1h-1zM245.2 475.1h1v1h-1zM234.6 476.0h1v1h-1zM247.5 482.9h1v1h-1zM248.5 472.1h1v1h-1zM242.7 476.4h1v1h-1zM257.1 473.1h1v1h-1zM244.9 473.4h1v1h-1zM244.7 489.9h1v1h-1zM257.1 468.2h1v1h-1zM246.1 477.0h1v1h-1zM240.2 480.9h1v1h-1zM251.9 475.4h1v1h-1zM244.8 489.1h1v1h-1zM254.4 475.9h1v1h-1zM233.8 492.7h1v1h-1zM253.4 468.4h1v1h-1zM243.2 481.3h1v1h-1zM236.8 485.2h1v1h-1zM249.3 477.7h1v1h-1zM262.0 460.5h1v1h-1zM243.9 481.7h1v1h-1zM249.8 468.5h1v1h-1zM245.9 478.9h1v1h-1zM252.8 475.1h1v1h-1zM254.9 462.5h1v1h-1zM262.0 456.6h1v1h-1zM250.6 464.6h1v1h-1zM258.1 460.0h1v1h-1zM252.8 477.5h1v1h-1zM245.6 482.5h1v1h-1zM258.7 463.1h1v1h-1zM243.3 472.6h1v1h-1zM254.7 473.3h1v1h-1zM238.4 491.2h1v1h-1zM262.3 459.7h1v1h-1zM239.2 478.7h1v1h-1zM243.6 485.6h1v1h-1zM252.7 478.6h1v1h-1zM258.0 473.3h1v1h-1zM259.5 456.8h1v1h-1zM253.3 472.0h1v1h-1zM252.9 468.4h1v1h-1zM251.5 483.7h1v1h-1zM234.0 503.5h1v1h-1zM250.0 472.9h1v1h-1zM240.8 472.7h1v1h-1zM225.7 512.2h1v1h-1zM244.3 484.2h1v1h-1zM237.7 486.4h1v1h-1zM266.8 482.8h1v1h-1zM259.7 469.0h1v1h-1zM258.6 473.8h1v1h-1zM238.6 477.3h1v1h-1zM248.0 484.7h1v1h-1zM255.0 472.8h1v1h-1zM260.6 457.6h1v1h-1zM263.6 475.0h1v1h-1zM239.0 492.1h1v1h-1zM248.5 480.5h1v1h-1zM249.2 474.0h1v1h-1zM242.0 487.1h1v1h-1zM246.8 484.5h1v1h-1zM247.1 477.4h1v1h-1zM248.9 476.0h1v1h-1zM246.1 492.0h1v1h-1zM243.9 481.9h1v1h-1zM244.7 483.4h1v1h-1zM255.3 476.8h1v1h-1zM244.5 475.5h1v1h-1zM257.7 462.7h1v1h-1zM245.7 488.0h1v1h-1zM254.3 467.0h1v1h-1zM263.1 469.4h1v1h-1zM256.4 458.5h1v1h-1zM239.9 481.2h1v1h-1zM246.2 466.6h1v1h-1zM265.1 446.9h1v1h-1zM247.9 476.5h1v1h-1zM259.6 480.3h1v1h-1zM246.4 480.7h1v1h-1zM249.0 483.6h1v1h-1zM254.5 482.6h1v1h-1zM248.3 477.6h1v1h-1zM252.2 483.2h1v1h-1zM242.9 479.1h1v1h-1zM244.4 488.6h1v1h-1zM236.6 492.4h1v1h-1zM242.7 498.6h1v1h-1zM231.5 490.6h1v1h-1zM251.1 473.4h1v1h-1zM250.1 485.9h1v1h-1zM253.1 483.8h1v1h-1zM247.0 484.5h1v1h-1zM238.4 480.9h1v1h-1zM241.5 489.3h1v1h-1zM249.9 483.3h1v1h-1zM247.0 481.0h1v1h-1zM255.7 479.2h1v1h-1zM246.8 479.9h1v1h-1zM246.5 484.0h1v1h-1zM255.6 477.3h1v1h-1zM260.6 460.7h1v1h-1zM238.1 499.2h1v1h-1zM236.3 486.1h1v1h-1zM256.2 473.6h1v1h-1zM244.5 500.9h1v1h-1zM252.9 472.7h1v1h-1zM259.0 457.8h1v1h-1zM241.4 496.1h1v1h-1zM242.5 473.1h1v1h-1zM246.3 477.0h1v1h-1zM261.3 468.8h1v1h-1zM257.2 469.5h1v1h-1zM256.2 474.7h1v1h-1zM251.7 466.2h1v1h-1zM259.9 474.0h1v1h-1zM245.5 481.0h1v1h-1zM252.0 472.5h1v1h-1zM247.3 484.7h1v1h-1zM259.8 459.5h1v1h-1zM252.4 469.8h1v1h-1zM256.5 472.7h1v1h-1zM237.5 488.4h1v1h-1zM259.1 471.1h1v1h-1zM257.6 479.1h1v1h-1zM258.8 465.7h1v1h-1zM248.3 475.7h1v1h-1zM249.0 473.2h1v1h-1zM252.6 484.3h1v1h-1zM237.9 485.2h1v1h-1zM245.0 482.3h1v1h-1zM240.1 490.5h1v1h-1zM253.0 471.3h1v1h-1zM243.4 479.6h1v1h-1zM246.6 474.8h1v1h-1zM248.3 479.9h1v1h-1zM245.3 466.1h1v1h-1zM248.3 479.5h1v1h-1zM260.0 463.9h1v1h-1zM259.8 465.0h1v1h-1zM252.7 473.8h1v1h-1zM245.2 496.1h1v1h-1zM251.4 476.5h1v1h-1zM244.8 494.8h1v1h-1zM247.3 475.9h1v1h-1zM245.1 477.7h1v1h-1zM247.2 476.1h1v1h-1zM249.5 480.3h1v1h-1zM252.6 468.5h1v1h-1zM256.5 465.4h1v1h-1zM245.6 468.3h1v1h-1zM245.9 488.7h1v1h-1zM245.1 477.3h1v1h-1zM256.3 468.3h1v1h-1zM250.8 478.2h1v1h-1zM254.5 469.2h1v1h-1zM246.6 486.6h1v1h-1zM225.7 503.0h1v1h-1zM248.2 491.8h1v1h-1zM243.9 485.1h1v1h-1zM244.1 470.8h1v1h-1zM250.1 481.3h1v1h-1zM250.1 480.0h1v1h-1zM243.6 484.8h1v1h-1zM244.1 483.5h1v1h-1zM245.2 470.1h1v1h-1zM259.9 469.6h1v1h-1zM245.6 467.3h1v1h-1zM255.7 485.7h1v1h-1zM250.5 481.9h1v1h-1zM243.2 496.5h1v1h-1zM246.4 482.0h1v1h-1zM251.0 464.9h1v1h-1zM251.8 468.4h1v1h-1zM262.1 467.5h1v1h-1zM262.9 465.0h1v1h-1zM257.7 469.2h1v1h-1zM247.8 478.7h1v1h-1zM259.5 467.1h1v1h-1zM239.8 491.9h1v1h-1zM247.7 480.8h1v1h-1zM259.2 463.6h1v1h-1zM249.3 469.1h1v1h-1zM251.6 464.4h1v1h-1zM248.2 465.3h1v1h-1zM243.2 480.5h1v1h-1zM236.5 491.1h1v1h-1zM258.2 472.4h1v1h-1zM253.8 484.0h1v1h-1zM255.3 472.2h1v1h-1zM258.3 469.4h1v1h-1zM248.9 470.5h1v1h-1zM232.8 502.3h1v1h-1zM256.4 465.0h1v1h-1zM273.0 452.6h1v1h-1zM240.3 476.7h1v1h-1zM235.0 486.9h1v1h-1zM243.1 490.3h1v1h-1zM249.7 484.5h1v1h-1zM252.6 476.6h1v1h-1zM242.9 474.0h1v1h-1zM251.2 477.8h1v1h-1zM241.6 479.0h1v1h-1zM241.5 491.7h1v1h-1zM247.7 478.3h1v1h-1zM240.1 483.7h1v1h-1zM251.9 465.6h1v1h-1zM252.7 472.5h1v1h-1zM240.8 487.1h1v1h-1zM258.1 462.1h1v1h-1zM254.9 463.9h1v1h-1zM246.4 487.6h1v1h-1zM247.1 485.8h1v1h-1zM252.1 467.7h1v1h-1zM261.3 474.4h1v1h-1zM250.5 477.4h1v1h-1zM239.6 489.1h1v1h-1zM236.7 473.2h1v1h-1zM258.5 453.9h1v1h-1zM240.9 478.2h1v1h-1zM251.7 482.8h1v1h-1zM252.9 484.1h1v1h-1zM229.0 496.2h1v1h-1zM251.2 473.4h1v1h-1zM240.8 502.5h1v1h-1zM246.9 475.9h1v1h-1zM259.0 481.0h1v1h-1zM260.6 473.9h1v1h-1zM257.6 468.7h1v1h-1zM250.4 477.3h1v1h-1zM249.5 481.9h1v1h-1zM254.4 469.8h1v1h-1zM242.4 475.4h1v1h-1zM238.1 488.0h1v1h-1zM259.7 469.5h1v1h-1zM255.2 473.6h1v1h-1zM239.0 481.6h1v1h-1zM250.3 483.6h1v1h-1zM256.0 487.3h1v1h-1zM240.4 460.6h1v1h-1zM236.2 486.8h1v1h-1zM258.7 463.2h1v1h-1zM239.7 491.8h1v1h-1zM255.9 474.5h1v1h-1zM253.7 474.3h1v1h-1zM239.6 471.0h1v1h-1zM256.4 469.5h1v1h-1zM236.7 484.4h1v1h-1zM242.0 496.3h1v1h-1zM241.4 495.0h1v1h-1zM234.5 481.2h1v1h-1zM241.8 492.1h1v1h-1zM239.8 478.6h1v1h-1zM243.3 477.3h1v1h-1zM247.6 473.9h1v1h-1zM257.4 475.5h1v1h-1zM263.6 468.9h1v1h-1zM253.9 466.7h1v1h-1zM246.7 496.4h1v1h-1zM241.3 490.8h1v1h-1zM258.4 474.2h1v1h-1zM241.0 481.7h1v1h-1zM250.3 464.5h1v1h-1zM248.4 489.3h1v1h-1zM246.4 473.4h1v1h-1zM246.3 483.0h1v1h-1zM251.6 481.8h1v1h-1zM250.9 464.3h1v1h-1zM241.0 482.6h1v1h-1zM258.1 468.2h1v1h-1zM251.1 478.2h1v1h-1zM248.4 470.6h1v1h-1zM245.3 483.5h1v1h-1zM254.8 459.3h1v1h-1zM246.8 481.0h1v1h-1zM250.6 474.7h1v1h-1zM254.4 471.2h1v1h-1zM249.8 471.8h1v1h-1zM245.0 486.3h1v1h-1zM249.1 479.3h1v1h-1zM250.3 472.9h1v1h-1zM249.1 477.4h1v1h-1zM249.7 480.9h1v1h-1zM246.8 465.7h1v1h-1zM265.7 467.2h1v1h-1zM246.5 489.0h1v1h-1zM250.2 474.2h1v1h-1zM254.9 470.6h1v1h-1zM252.3 467.4h1v1h-1zM242.5 476.0h1v1h-1zM252.5 485.0h1v1h-1zM254.0 472.5h1v1h-1zM254.6 464.9h1v1h-1zM242.8 485.0h1v1h-1zM247.9 485.6h1v1h-1zM244.0 482.3h1v1h-1zM231.5 492.1h1v1h-1zM256.5 474.2h1v1h-1zM239.4 502.4h1v1h-1zM259.9 462.5h1v1h-1zM241.9 491.4h1v1h-1zM241.7 483.5h1v1h-1zM258.6 464.0h1v1h-1zM241.0 483.5h1v1h-1zM248.6 478.0h1v1h-1zM252.6 482.7h1v1h-1zM236.1 494.9h1v1h-1zM251.5 478.1h1v1h-1zM245.4 477.5h1v1h-1zM251.5 465.8h1v1h-1zM254.0 469.2h1v1h-1zM234.8 485.7h1v1h-1zM233.3 493.7h1v1h-1zM256.3 463.6h1v1h-1zM244.4 485.2h1v1h-1zM231.3 490.8h1v1h-1zM244.6 474.2h1v1h-1zM252.7 481.0h1v1h-1zM248.9 470.4h1v1h-1zM249.1 484.3h1v1h-1zM250.9 485.3h1v1h-1zM249.7 480.0h1v1h-1zM248.8 484.3h1v1h-1zM237.4 485.3h1v1h-1zM238.5 474.7h1v1h-1zM239.6 477.8h1v1h-1zM249.1 479.9h1v1h-1zM244.0 475.1h1v1h-1zM242.3 491.8h1v1h-1zM250.1 489.9h1v1h-1zM248.3 471.7h1v1h-1zM250.6 466.7h1v1h-1zM253.9 467.7h1v1h-1zM249.2 485.6h1v1h-1zM251.3 471.7h1v1h-1zM256.6 473.2h1v1h-1zM252.2 474.8h1v1h-1zM244.0 484.4h1v1h-1zM259.4 471.7h1v1h-1zM251.4 477.0h1v1h-1zM259.2 476.1h1v1h-1zM262.6 458.9h1v1h-1zM259.8 464.9h1v1h-1zM238.9 487.3h1v1h-1zM238.6 492.8h1v1h-1zM249.1 457.6h1v1h-1zM251.1 465.9h1v1h-1zM239.8 490.6h1v1h-1zM240.2 485.6h1v1h-1zM252.5 466.9h1v1h-1zM244.6 473.4h1v1h-1zM247.9 482.2h1v1h-1zM231.4 509.7h1v1h-1zM252.4 474.4h1v1h-1zM257.9 460.6h1v1h-1zM242.7 478.6h1v1h-1zM255.5 467.6h1v1h-1zM245.9 475.0h1v1h-1zM250.6 484.4h1v1h-1zM253.8 475.6h1v1h-1zM248.3 483.1h1v1h-1zM244.6 482.0h1v1h-1zM247.0 480.0h1v1h-1zM241.4 491.6h1v1h-1zM246.9 484.0h1v1h-1zM254.1 468.8h1v1h-1zM240.8 475.9h1v1h-1zM257.9 468.0h1v1h-1zM259.6 476.5h1v1h-1zM242.7 480.0h1v1h-1zM234.5 483.5h1v1h-1zM253.6 461.1h1v1h-1zM250.0 465.8h1v1h-1zM244.0 491.6h1v1h-1zM257.5 458.3h1v1h-1zM255.3 483.2h1v1h-1zM240.3 485.4h1v1h-1zM241.1 487.8h1v1h-1zM245.2 500.4h1v1h-1zM253.1 472.7h1v1h-1zM255.3 471.8h1v1h-1zM257.2 465.7h1v1h-1zM251.4 473.8h1v1h-1zM253.1 472.8h1v1h-1zM259.1 473.5h1v1h-1zM243.5 480.6h1v1h-1zM254.0 471.4h1v1h-1zM235.6 495.8h1v1h-1zM238.5 492.1h1v1h-1zM245.9 478.5h1v1h-1zM256.4 475.0h1v1h-1zM251.1 479.0h1v1h-1zM252.0 485.4h1v1h-1zM253.9 474.9h1v1h-1zM239.9 493.3h1v1h-1zM255.5 466.9h1v1h-1zM248.6 471.4h1v1h-1zM234.1 483.6h1v1h-1zM229.7 500.3h1v1h-1zM252.0 480.4h1v1h-1zM265.2 460.4h1v1h-1zM255.8 465.8h1v1h-1zM260.8 477.0h1v1h-1zM265.3 462.5h1v1h-1zM259.9 471.6h1v1h-1zM259.1 458.7h1v1h-1zM239.3 474.5h1v1h-1zM239.5 495.2h1v1h-1zM248.4 485.4h1v1h-1zM251.6 470.1h1v1h-1zM239.0 478.2h1v1h-1zM248.3 480.1h1v1h-1zM254.4 460.5h1v1h-1zM229.8 499.0h1v1h-1zM256.4 482.8h1v1h-1zM238.7 494.0h1v1h-1zM234.6 492.1h1v1h-1zM254.7 468.2h1v1h-1zM247.8 476.4h1v1h-1zM261.8 476.4h1v1h-1zM249.6 472.1h1v1h-1zM249.7 474.7h1v1h-1zM254.2 473.2h1v1h-1zM237.3 485.9h1v1h-1zM252.3 471.3h1v1h-1zM248.1 478.3h1v1h-1zM245.1 484.4h1v1h-1zM243.5 480.4h1v1h-1zM256.1 466.2h1v1h-1zM253.0 487.9h1v1h-1zM261.2 483.7h1v1h-1zM248.2 480.7h1v1h-1zM236.2 489.5h1v1h-1zM255.8 470.1h1v1h-1zM246.3 471.7h1v1h-1zM253.8 475.9h1v1h-1zM245.4 477.0h1v1h-1zM248.5 470.2h1v1h-1zM241.4 493.1h1v1h-1zM246.2 478.6h1v1h-1zM251.4 474.7h1v1h-1zM251.3 470.3h1v1h-1zM258.9 471.6h1v1h-1zM266.6 460.3h1v1h-1zM226.7 509.4h1v1h-1zM248.3 473.6h1v1h-1zM239.5 497.6h1v1h-1zM244.7 482.2h1v1h-1zM244.6 483.8h1v1h-1zM246.6 468.2h1v1h-1zM252.7 468.3h1v1h-1zM255.2 462.4h1v1h-1zM242.3 468.9h1v1h-1zM269.1 454.8h1v1h-1zM235.6 498.7h1v1h-1zM234.5 489.8h1v1h-1zM241.9 485.4h1v1h-1zM246.1 479.8h1v1h-1zM244.7 472.1h1v1h-1zM253.5 477.7h1v1h-1zM248.1 484.1h1v1h-1zM238.3 492.6h1v1h-1zM252.7 463.2h1v1h-1zM253.9 461.3h1v1h-1zM229.3 503.2h1v1h-1zM241.3 487.6h1v1h-1zM254.9 474.6h1v1h-1zM256.7 468.9h1v1h-1zM245.5 490.9h1v1h-1zM246.2 476.6h1v1h-1zM254.7 462.9h1v1h-1zM255.3 470.6h1v1h-1zM244.5 485.0h1v1h-1zM240.0 491.4h1v1h-1zM268.9 468.1h1v1h-1zM245.8 479.7h1v1h-1zM236.2 477.0h1v1h-1zM255.0 480.6h1v1h-1zM241.0 487.8h1v1h-1zM255.2 475.4h1v1h-1zM251.8 462.9h1v1h-1zM244.6 480.0h1v1h-1zM241.5 491.4h1v1h-1zM245.9 481.8h1v1h-1zM247.4 484.9h1v1h-1zM245.2 466.9h1v1h-1zM250.1 474.4h1v1h-1zM253.0 483.6h1v1h-1zM249.9 467.0h1v1h-1zM251.7 471.5h1v1h-1zM246.2 480.4h1v1h-1zM270.2 455.6h1v1h-1zM249.7 479.2h1v1h-1zM234.6 477.2h1v1h-1zM255.8 469.4h1v1h-1zM237.4 484.7h1v1h-1zM254.6 478.1h1v1h-1zM232.8 492.0h1v1h-1zM244.5 482.1h1v1h-1zM236.5 479.0h1v1h-1zM221.2 504.5h1v1h-1zM249.9 471.6h1v1h-1zM251.1 475.0h1v1h-1zM260.6 459.5h1v1h-1zM241.2 483.6h1v1h-1zM227.7 497.3h1v1h-1zM240.9 487.8h1v1h-1zM236.5 485.2h1v1h-1zM252.7 473.0h1v1h-1zM253.2 476.6h1v1h-1zM254.6 464.7h1v1h-1zM248.6 477.5h1v1h-1zM248.6 479.9h1v1h-1zM246.7 471.5h1v1h-1zM241.0 485.5h1v1h-1zM249.2 477.6h1v1h-1zM243.0 483.0h1v1h-1zM248.7 485.1h1v1h-1zM257.2 459.5h1v1h-1zM259.0 460.6h1v1h-1zM251.9 468.7h1v1h-1zM249.7 470.8h1v1h-1zM249.7 475.7h1v1h-1zM265.0 459.9h1v1h-1zM247.2 477.0h1v1h-1zM238.9 479.7h1v1h-1zM245.8 471.5h1v1h-1zM268.9 458.5h1v1h-1zM259.3 465.5h1v1h-1zM232.2 488.8h1v1h-1zM254.2 470.0h1v1h-1zM246.2 482.3h1v1h-1zM250.0 472.5h1v1h-1zM241.1 502.3h1v1h-1zM252.6 473.3h1v1h-1zM243.3 488.1h1v1h-1zM238.4 495.1h1v1h-1zM241.7 495.7h1v1h-1zM244.0 488.4h1v1h-1zM255.3 471.3h1v1h-1zM241.2 487.2h1v1h-1zM260.1 464.0h1v1h-1zM256.3 480.8h1v1h-1zM253.5 476.9h1v1h-1zM263.9 469.3h1v1h-1zM261.5 463.9h1v1h-1zM247.8 471.6h1v1h-1zM254.5 474.8h1v1h-1zM265.2 474.4h1v1h-1zM244.9 474.7h1v1h-1zM244.7 467.2h1v1h-1zM262.6 450.5h1v1h-1zM254.2 474.1h1v1h-1zM242.5 488.7h1v1h-1zM248.9 485.7h1v1h-1zM228.2 500.5h1v1h-1zM244.8 488.8h1v1h-1zM247.7 472.4h1v1h-1zM261.3 469.4h1v1h-1zM259.0 476.2h1v1h-1zM248.6 484.1h1v1h-1zM250.3 479.7h1v1h-1zM248.7 471.7h1v1h-1zM264.0 466.9h1v1h-1zM250.3 487.6h1v1h-1zM246.9 483.1h1v1h-1zM257.7 461.6h1v1h-1zM242.7 483.7h1v1h-1zM254.1 469.9h1v1h-1zM243.5 491.1h1v1h-1zM256.3 481.8h1v1h-1zM258.8 471.1h1v1h-1zM236.1 492.2h1v1h-1zM252.9 472.6h1v1h-1zM253.5 472.9h1v1h-1zM247.0 487.0h1v1h-1zM234.7 497.9h1v1h-1zM254.2 476.1h1v1h-1zM251.6 475.6h1v1h-1zM246.7 484.8h1v1h-1zM241.3 479.4h1v1h-1zM243.2 483.2h1v1h-1zM241.5 482.0h1v1h-1zM257.1 464.7h1v1h-1zM256.7 457.5h1v1h-1zM251.4 467.0h1v1h-1zM230.5 492.7h1v1h-1zM255.7 485.8h1v1h-1zM245.2 475.9h1v1h-1zM244.0 485.0h1v1h-1zM248.0 479.0h1v1h-1zM245.1 475.9h1v1h-1zM238.6 479.4h1v1h-1zM248.4 470.9h1v1h-1zM239.9 495.3h1v1h-1zM247.9 481.5h1v1h-1zM251.8 467.1h1v1h-1zM245.5 498.5h1v1h-1zM249.8 471.2h1v1h-1zM258.3 468.2h1v1h-1zM253.1 478.2h1v1h-1zM247.8 491.4h1v1h-1zM244.5 482.6h1v1h-1zM252.3 486.9h1v1h-1zM239.7 477.5h1v1h-1zM254.9 474.9h1v1h-1zM254.4 473.6h1v1h-1zM246.1 477.4h1v1h-1zM248.1 472.5h1v1h-1zM252.4 480.9h1v1h-1zM244.8 483.4h1v1h-1zM253.8 468.4h1v1h-1zM240.4 485.1h1v1h-1zM240.4 486.0h1v1h-1zM238.6 497.2h1v1h-1zM242.3 487.8h1v1h-1zM255.4 476.8h1v1h-1zM262.9 461.9h1v1h-1zM254.1 474.0h1v1h-1zM231.6 493.8h1v1h-1zM252.1 484.5h1v1h-1zM241.7 478.8h1v1h-1zM243.8 476.6h1v1h-1zM251.1 466.6h1v1h-1zM247.1 477.2h1v1h-1zM245.8 476.4h1v1h-1zM245.1 475.4h1v1h-1zM245.9 485.8h1v1h-1zM240.1 484.0h1v1h-1zM248.2 477.5h1v1h-1zM247.7 473.2h1v1h-1zM253.7 488.0h1v1h-1zM254.7 465.0h1v1h-1zM247.6 482.4h1v1h-1zM238.5 482.7h1v1h-1zM259.0 474.9h1v1h-1zM251.8 474.3h1v1h-1zM243.3 486.4h1v1h-1zM247.0 470.5h1v1h-1zM245.5 487.5h1v1h-1zM252.8 472.1h1v1h-1zM249.2 482.5h1v1h-1zM258.4 468.5h1v1h-1zM242.7 479.7h1v1h-1zM244.8 489.9h1v1h-1zM237.6 478.5h1v1h-1zM248.3 472.1h1v1h-1zM243.0 495.7h1v1h-1zM251.8 471.1h1v1h-1zM241.5 473.9h1v1h-1zM249.6 457.3h1v1h-1zM253.6 480.2h1v1h-1zM246.2 483.3h1v1h-1zM245.7 480.7h1v1h-1zM243.1 484.1h1v1h-1zM253.3 477.2h1v1h-1zM254.2 472.2h1v1h-1zM243.4 480.6h1v1h-1zM255.3 469.0h1v1h-1zM251.9 477.1h1v1h-1zM260.4 466.7h1v1h-1zM261.1 454.6h1v1h-1zM247.7 481.0h1v1h-1zM247.0 481.2h1v1h-1zM238.2 493.8h1v1h-1zM241.7 476.7h1v1h-1zM245.6 484.1h1v1h-1zM241.3 475.1h1v1h-1zM228.9 498.5h1v1h-1zM245.9 469.4h1v1h-1zM243.5 486.6h1v1h-1zM240.5 489.9h1v1h-1zM247.6 490.3h1v1h-1zM240.1 479.3h1v1h-1zM247.3 481.0h1v1h-1zM246.4 470.6h1v1h-1zM255.1 461.1h1v1h-1zM256.0 469.0h1v1h-1zM253.0 469.7h1v1h-1zM249.4 468.4h1v1h-1zM256.5 475.3h1v1h-1zM233.1 494.9h1v1h-1zM241.6 491.9h1v1h-1zM248.4 484.8h1v1h-1zM242.6 485.4h1v1h-1zM246.1 484.3h1v1h-1zM245.2 482.9h1v1h-1zM246.3 480.1h1v1h-1zM242.1 481.4h1v1h-1zM249.7 474.7h1v1h-1zM247.3 486.6h1v1h-1zM247.7 475.7h1v1h-1zM239.2 487.8h1v1h-1zM256.1 465.8h1v1h-1zM259.5 470.4h1v1h-1zM254.9 477.9h1v1h-1zM238.7 485.7h1v1h-1zM240.7 479.2h1v1h-1zM249.0 478.0h1v1h-1zM235.8 496.2h1v1h-1zM246.2 467.8h1v1h-1zM248.6 479.7h1v1h-1zM245.7 470.9h1v1h-1zM239.3 488.9h1v1h-1zM240.6 472.2h1v1h-1zM239.6 481.4h1v1h-1zM244.3 468.4h1v1h-1zM248.9 479.5h1v1h-1zM258.5 472.9h1v1h-1zM255.0 474.7h1v1h-1zM256.1 477.0h1v1h-1zM238.9 478.9h1v1h-1zM252.5 471.8h1v1h-1zM243.2 491.9h1v1h-1zM246.7 477.4h1v1h-1zM245.4 484.4h1v1h-1zM236.5 482.9h1v1h-1zM238.1 497.7h1v1h-1zM239.5 483.7h1v1h-1zM259.5 463.4h1v1h-1zM233.2 489.5h1v1h-1zM247.7 477.8h1v1h-1zM246.9 478.7h1v1h-1zM240.3 479.6h1v1h-1zM241.4 475.1h1v1h-1zM253.2 475.1h1v1h-1zM236.6 487.9h1v1h-1zM249.1 486.9h1v1h-1zM249.0 477.6h1v1h-1zM228.5 491.9h1v1h-1zM230.2 497.0h1v1h-1zM244.9 493.7h1v1h-1zM242.3 482.7h1v1h-1zM236.5 492.0h1v1h-1zM238.4 479.4h1v1h-1zM242.0 486.1h1v1h-1zM254.6 485.5h1v1h-1zM241.0 488.1h1v1h-1zM250.1 468.9h1v1h-1zM257.5 472.4h1v1h-1zM254.6 471.9h1v1h-1zM250.7 480.3h1v1h-1zM250.5 482.6h1v1h-1zM234.7 488.6h1v1h-1zM246.1 479.4h1v1h-1zM236.3 496.4h1v1h-1zM245.9 468.1h1v1h-1zM255.7 462.0h1v1h-1zM257.2 464.6h1v1h-1zM248.1 480.7h1v1h-1zM247.9 483.3h1v1h-1zM246.4 472.9h1v1h-1zM257.8 466.1h1v1h-1zM240.0 479.6h1v1h-1zM241.5 482.0h1v1h-1zM256.7 472.4h1v1h-1zM249.8 502.3h1v1h-1zM256.1 475.1h1v1h-1zM258.2 469.1h1v1h-1zM239.3 486.3h1v1h-1zM246.0 476.6h1v1h-1zM244.3 479.4h1v1h-1zM246.9 494.6h1v1h-1zM248.0 479.3h1v1h-1zM253.5 481.0h1v1h-1zM248.0 475.2h1v1h-1zM237.4 498.1h1v1h-1zM246.0 478.3h1v1h-1zM250.3 471.2h1v1h-1zM232.1 483.4h1v1h-1zM261.9 462.2h1v1h-1zM266.2 462.4h1v1h-1zM249.5 476.9h1v1h-1zM238.1 494.4h1v1h-1zM241.1 485.0h1v1h-1zM254.9 462.7h1v1h-1zM232.0 494.8h1v1h-1zM245.1 468.8h1v1h-1zM252.6 475.3h1v1h-1zM254.8 477.2h1v1h-1zM253.2 482.0h1v1h-1zM237.7 489.8h1v1h-1zM250.0 474.8h1v1h-1zM247.3 466.0h1v1h-1zM253.8 475.0h1v1h-1zM260.7 471.1h1v1h-1zM246.2 484.5h1v1h-1zM252.1 466.4h1v1h-1zM248.5 467.3h1v1h-1zM236.5 495.0h1v1h-1zM253.8 483.6h1v1h-1zM245.6 482.9h1v1h-1zM236.7 498.0h1v1h-1zM255.8 456.1h1v1h-1zM246.9 483.3h1v1h-1zM244.3 488.0h1v1h-1zM235.1 495.1h1v1h-1zM247.0 477.6h1v1h-1zM244.6 486.3h1v1h-1zM266.6 456.8h1v1h-1zM247.3 477.6h1v1h-1zM258.6 469.1h1v1h-1zM241.5 486.5h1v1h-1zM234.3 505.4h1v1h-1zM247.0 490.1h1v1h-1zM246.3 478.7h1v1h-1zM253.2 463.4h1v1h-1zM239.6 486.8h1v1h-1zM237.7 482.8h1v1h-1zM243.3 490.0h1v1h-1zM241.5 483.9h1v1h-1zM241.9 484.0h1v1h-1zM254.4 476.0h1v1h-1zM241.2 485.2h1v1h-1zM239.7 486.7h1v1h-1zM236.5 489.8h1v1h-1zM258.0 475.1h1v1h-1zM234.5 481.5h1v1h-1zM244.9 455.2h1v1h-1zM257.0 454.2h1v1h-1zM254.8 469.3h1v1h-1zM256.8 474.2h1v1h-1zM255.4 469.9h1v1h-1zM242.8 484.0h1v1h-1zM246.2 481.3h1v1h-1zM234.5 475.6h1v1h-1zM240.1 488.2h1v1h-1zM250.3 458.9h1v1h-1zM239.5 476.7h1v1h-1zM246.0 466.4h1v1h-1zM263.5 461.4h1v1h-1zM252.9 466.8h1v1h-1zM251.7 482.6h1v1h-1zM231.6 490.4h1v1h-1zM238.1 484.3h1v1h-1zM252.2 463.8h1v1h-1zM257.6 459.1h1v1h-1zM254.9 482.7h1v1h-1zM239.8 479.2h1v1h-1zM256.3 465.3h1v1h-1zM251.6 476.1h1v1h-1zM248.6 476.1h1v1h-1zM262.8 471.3h1v1h-1zM251.9 476.9h1v1h-1zM254.6 472.4h1v1h-1zM247.5 483.6h1v1h-1zM249.9 465.9h1v1h-1zM253.5 475.7h1v1h-1zM237.6 495.1h1v1h-1zM241.3 477.6h1v1h-1zM243.4 489.0h1v1h-1zM244.7 473.7h1v1h-1zM240.0 483.4h1v1h-1zM245.7 482.8h1v1h-1zM253.4 472.5h1v1h-1zM253.8 476.2h1v1h-1zM251.1 479.1h1v1h-1zM248.4 476.3h1v1h-1zM235.9 478.8h1v1h-1zM255.2 465.5h1v1h-1zM255.7 476.0h1v1h-1zM249.9 468.4h1v1h-1zM240.1 490.7h1v1h-1zM233.9 488.1h1v1h-1zM249.8 484.7h1v1h-1zM239.9 479.7h1v1h-1zM242.4 494.9h1v1h-1zM258.5 453.8h1v1h-1zM254.2 463.5h1v1h-1zM244.8 482.1h1v1h-1zM244.5 482.8h1v1h-1zM247.3 476.6h1v1h-1zM240.9 491.1h1v1h-1zM246.6 474.2h1v1h-1zM246.4 480.8h1v1h-1zM256.4 473.2h1v1h-1zM246.8 486.8h1v1h-1zM248.4 475.7h1v1h-1zM252.6 479.6h1v1h-1zM247.6 466.2h1v1h-1zM243.6 481.0h1v1h-1zM254.5 474.1h1v1h-1zM242.9 471.4h1v1h-1zM258.8 477.3h1v1h-1zM246.4 491.1h1v1h-1zM242.5 478.7h1v1h-1zM245.1 485.8h1v1h-1zM250.0 471.9h1v1h-1zM253.5 466.8h1v1h-1zM252.7 469.2h1v1h-1zM251.0 477.8h1v1h-1zM246.1 482.8h1v1h-1zM240.6 489.7h1v1h-1zM242.6 479.6h1v1h-1zM251.3 472.3h1v1h-1zM236.2 489.7h1v1h-1zM249.6 467.9h1v1h-1zM241.2 482.2h1v1h-1zM236.2 494.9h1v1h-1zM255.1 479.6h1v1h-1zM249.2 473.8h1v1h-1zM256.4 470.2h1v1h-1zM254.3 481.4h1v1h-1zM245.3 484.3h1v1h-1zM240.7 481.9h1v1h-1zM241.9 472.5h1v1h-1zM245.8 471.7h1v1h-1zM252.3 477.7h1v1h-1zM229.3 497.0h1v1h-1zM250.2 476.8h1v1h-1zM255.7 465.9h1v1h-1zM251.3 469.7h1v1h-1zM265.4 456.2h1v1h-1zM253.2 458.5h1v1h-1zM246.5 471.4h1v1h-1zM250.1 475.3h1v1h-1zM256.2 466.0h1v1h-1zM242.6 476.8h1v1h-1zM239.1 494.2h1v1h-1zM253.6 469.8h1v1h-1zM234.0 484.9h1v1h-1zM243.4 478.4h1v1h-1zM245.0 487.0h1v1h-1zM241.3 490.2h1v1h-1zM242.0 494.0h1v1h-1zM236.7 484.3h1v1h-1zM250.6 469.1h1v1h-1zM244.5 490.6h1v1h-1zM253.1 467.5h1v1h-1zM237.8 486.5h1v1h-1zM238.2 485.8h1v1h-1zM244.6 486.4h1v1h-1zM233.9 490.9h1v1h-1zM258.1 466.9h1v1h-1zM245.4 483.9h1v1h-1zM249.6 467.8h1v1h-1zM251.9 477.9h1v1h-1zM249.1 471.0h1v1h-1zM235.6 469.8h1v1h-1zM246.2 487.4h1v1h-1zM247.3 482.1h1v1h-1zM240.9 480.3h1v1h-1zM249.8 476.9h1v1h-1zM242.2 478.2h1v1h-1zM245.6 481.0h1v1h-1zM239.2 489.4h1v1h-1zM245.2 473.4h1v1h-1zM249.9 476.7h1v1h-1zM249.8 475.4h1v1h-1zM237.6 491.7h1v1h-1zM247.4 480.1h1v1h-1zM244.5 485.7h1v1h-1zM247.9 468.9h1v1h-1zM249.3 467.8h1v1h-1zM247.1 469.6h1v1h-1zM253.1 460.3h1v1h-1zM238.9 486.0h1v1h-1zM256.2 478.3h1v1h-1zM265.0 462.9h1v1h-1zM243.0 487.3h1v1h-1zM249.7 479.3h1v1h-1zM243.2 492.5h1v1h-1zM234.2 487.9h1v1h-1zM248.7 480.3h1v1h-1zM242.6 472.7h1v1h-1zM245.0 484.1h1v1h-1zM233.6 476.5h1v1h-1zM242.1 482.6h1v1h-1zM233.0 487.7h1v1h-1zM243.3 474.2h1v1h-1zM252.0 476.9h1v1h-1zM237.1 483.4h1v1h-1zM251.5 476.8h1v1h-1zM242.9 487.4h1v1h-1zM241.4 479.7h1v1h-1zM248.2 466.5h1v1h-1zM247.7 474.9h1v1h-1zM244.8 473.5h1v1h-1zM243.7 477.2h1v1h-1zM254.8 472.4h1v1h-1zM238.5 494.4h1v1h-1zM243.5 477.9h1v1h-1zM252.4 482.6h1v1h-1zM253.4 471.0h1v1h-1zM255.6 466.9h1v1h-1zM258.7 466.5h1v1h-1zM235.7 494.5h1v1h-1zM244.5 490.2h1v1h-1zM241.9 484.7h1v1h-1zM244.2 482.4h1v1h-1zM256.5 464.6h1v1h-1zM255.5 474.4h1v1h-1zM252.9 473.9h1v1h-1zM246.1 480.6h1v1h-1zM254.7 468.4h1v1h-1zM261.5 465.9h1v1h-1zM254.4 476.5h1v1h-1zM246.1 490.7h1v1h-1zM252.9 472.7h1v1h-1zM259.5 461.5h1v1h-1zM246.1 473.9h1v1h-1zM242.7 479.2h1v1h-1zM233.7 494.5h1v1h-1zM238.4 487.4h1v1h-1zM250.1 468.9h1v1h-1zM245.7 487.2h1v1h-1zM243.1 481.2h1v1h-1zM236.1 488.1h1v1h-1zM262.3 458.3h1v1h-1zM234.2 495.1h1v1h-1zM258.0 467.3h1v1h-1zM241.0 490.0h1v1h-1zM256.0 478.2h1v1h-1zM254.2 469.5h1v1h-1zM240.5 490.9h1v1h-1zM255.4 487.7h1v1h-1zM248.8 477.3h1v1h-1zM241.5 477.8h1v1h-1zM242.0 480.3h1v1h-1zM237.3 493.9h1v1h-1zM242.6 485.3h1v1h-1zM235.2 489.4h1v1h-1zM244.5 485.8h1v1h-1zM257.8 467.1h1v1h-1zM254.1 473.9h1v1h-1zM253.2 465.4h1v1h-1zM261.7 464.2h1v1h-1zM253.8 462.2h1v1h-1zM237.9 476.6h1v1h-1zM252.7 456.4h1v1h-1zM245.9 469.6h1v1h-1zM222.3 502.5h1v1h-1zM245.4 485.8h1v1h-1zM254.7 454.9h1v1h-1zM249.9 471.7h1v1h-1zM258.8 466.4h1v1h-1zM238.1 500.2h1v1h-1zM259.7 479.8h1v1h-1zM250.0 471.0h1v1h-1zM259.1 482.5h1v1h-1zM246.1 478.6h1v1h-1zM244.6 482.3h1v1h-1zM246.2 475.6h1v1h-1zM239.8 484.5h1v1h-1zM247.8 483.9h1v1h-1zM245.3 477.7h1v1h-1zM246.9 481.4h1v1h-1zM246.6 477.1h1v1h-1zM248.2 473.8h1v1h-1zM256.9 476.9h1v1h-1zM242.1 490.6h1v1h-1zM241.7 483.9h1v1h-1zM241.6 479.8h1v1h-1zM250.3 480.9h1v1h-1zM252.8 474.1h1v1h-1zM266.3 468.8h1v1h-1zM247.3 473.9h1v1h-1zM245.7 469.6h1v1h-1zM242.9 477.0h1v1h-1zM251.6 470.8h1v1h-1zM247.5 485.1h1v1h-1zM254.3 463.4h1v1h-1zM256.2 476.5h1v1h-1zM240.3 483.8h1v1h-1zM252.2 473.9h1v1h-1zM238.7 494.4h1v1h-1zM256.6 482.1h1v1h-1zM242.0 471.3h1v1h-1zM249.8 468.7h1v1h-1zM236.2 480.8h1v1h-1zM246.1 491.6h1v1h-1zM255.0 485.3h1v1h-1zM229.6 482.8h1v1h-1zM246.3 480.2h1v1h-1zM251.8 472.8h1v1h-1zM259.3 461.5h1v1h-1zM254.5 491.9h1v1h-1zM243.2 505.8h1v1h-1zM261.3 472.7h1v1h-1zM257.6 470.5h1v1h-1zM235.8 490.4h1v1h-1zM256.9 480.8h1v1h-1zM258.7 473.9h1v1h-1zM241.2 490.9h1v1h-1zM245.7 479.6h1v1h-1zM253.5 476.2h1v1h-1zM251.3 471.7h1v1h-1zM251.9 480.4h1v1h-1zM245.2 475.1h1v1h-1zM243.2 486.0h1v1h-1zM246.9 479.7h1v1h-1zM241.2 476.1h1v1h-1zM247.9 474.3h1v1h-1zM250.7 482.5h1v1h-1zM242.1 476.7h1v1h-1zM246.4 481.8h1v1h-1zM256.3 474.7h1v1h-1zM246.1 478.9h1v1h-1zM246.8 482.0h1v1h-1zM261.9 459.2h1v1h-1zM255.4 475.9h1v1h-1zM262.3 469.9h1v1h-1zM242.9 475.8h1v1h-1zM236.0 493.2h1v1h-1zM245.6 474.2h1v1h-1zM246.7 487.1h1v1h-1zM253.7 466.7h1v1h-1zM246.8 472.9h1v1h-1zM242.7 471.1h1v1h-1zM236.5 494.1h1v1h-1zM249.4 471.8h1v1h-1zM246.7 484.8h1v1h-1zM247.1 484.1h1v1h-1zM257.5 457.9h1v1h-1zM245.0 474.6h1v1h-1zM257.3 468.6h1v1h-1zM245.4 483.3h1v1h-1zM243.3 483.7h1v1h-1zM251.5 467.4h1v1h-1zM248.0 480.4h1v1h-1zM251.7 479.5h1v1h-1zM248.9 485.4h1v1h-1zM256.0 470.9h1v1h-1zM248.0 475.4h1v1h-1zM252.6 466.7h1v1h-1zM249.9 487.9h1v1h-1zM233.4 472.6h1v1h-1zM253.2 481.5h1v1h-1zM234.1 481.2h1v1h-1zM244.9 475.9h1v1h-1zM247.4 475.3h1v1h-1zM248.7 480.8h1v1h-1zM239.9 481.2h1v1h-1zM264.8 463.1h1v1h-1zM235.6 485.0h1v1h-1zM251.3 469.2h1v1h-1zM252.2 470.3h1v1h-1zM239.9 478.8h1v1h-1zM242.4 481.1h1v1h-1zM237.7 478.6h1v1h-1zM262.5 467.2h1v1h-1zM243.6 476.6h1v1h-1zM240.4 487.8h1v1h-1zM235.7 503.2h1v1h-1zM234.6 492.1h1v1h-1zM243.5 481.6h1v1h-1zM246.4 476.6h1v1h-1zM256.0 475.8h1v1h-1zM247.4 473.8h1v1h-1zM249.9 465.5h1v1h-1zM253.6 471.4h1v1h-1zM250.7 468.7h1v1h-1zM235.6 507.6h1v1h-1zM238.5 479.9h1v1h-1zM229.5 483.1h1v1h-1zM251.1 481.8h1v1h-1zM263.2 461.2h1v1h-1zM257.2 469.9h1v1h-1zM257.6 466.5h1v1h-1zM249.6 479.2h1v1h-1zM244.9 482.2h1v1h-1zM255.8 464.1h1v1h-1zM252.7 464.4h1v1h-1zM273.1 454.7h1v1h-1zM239.5 494.0h1v1h-1zM249.7 490.9h1v1h-1zM247.3 477.5h1v1h-1zM244.5 479.6h1v1h-1zM249.7 462.9h1v1h-1zM246.1 477.3h1v1h-1zM258.6 483.0h1v1h-1zM243.4 470.1h1v1h-1zM244.8 477.8h1v1h-1zM263.4 459.8h1v1h-1zM248.2 472.9h1v1h-1zM245.9 463.6h1v1h-1zM259.7 472.1h1v1h-1zM246.7 478.3h1v1h-1zM235.2 491.6h1v1h-1zM242.9 492.4h1v1h-1zM235.5 484.5h1v1h-1zM240.5 478.5h1v1h-1zM244.6 486.9h1v1h-1zM238.8 488.2h1v1h-1zM249.0 475.8h1v1h-1zM243.1 469.7h1v1h-1zM248.5 483.4h1v1h-1zM231.2 500.2h1v1h-1zM248.0 475.9h1v1h-1zM256.8 473.6h1v1h-1zM258.5 479.8h1v1h-1zM260.0 475.6h1v1h-1zM230.2 500.6h1v1h-1zM252.9 483.2h1v1h-1zM236.5 473.7h1v1h-1zM236.9 506.2h1v1h-1zM263.7 462.5h1v1h-1zM245.7 483.1h1v1h-1zM242.2 482.3h1v1h-1zM261.6 462.9h1v1h-1zM248.3 478.3h1v1h-1zM250.5 465.8h1v1h-1zM239.0 500.1h1v1h-1zM250.0 483.4h1v1h-1zM243.6 489.0h1v1h-1zM247.2 482.8h1v1h-1zM236.0 485.9h1v1h-1zM237.7 488.2h1v1h-1zM250.3 477.9h1v1h-1zM245.2 477.1h1v1h-1zM252.0 476.7h1v1h-1zM242.1 486.1h1v1h-1zM246.6 468.7h1v1h-1zM246.2 488.8h1v1h-1zM255.0 481.2h1v1h-1zM248.6 478.8h1v1h-1zM260.0 473.4h1v1h-1zM240.2 484.2h1v1h-1zM239.8 467.4h1v1h-1zM251.2 469.0h1v1h-1zM246.1 483.2h1v1h-1zM247.2 483.7h1v1h-1zM248.4 485.5h1v1h-1zM242.7 481.6h1v1h-1zM244.7 486.3h1v1h-1zM243.3 480.8h1v1h-1zM243.3 495.1h1v1h-1zM237.4 500.3h1v1h-1zM256.7 473.9h1v1h-1zM247.7 469.6h1v1h-1zM243.1 483.3h1v1h-1zM246.9 482.2h1v1h-1zM251.0 465.8h1v1h-1zM243.1 490.1h1v1h-1zM246.7 489.1h1v1h-1zM253.7 475.9h1v1h-1zM238.2 485.5h1v1h-1zM250.0 469.9h1v1h-1zM256.6 467.9h1v1h-1zM239.3 480.5h1v1h-1zM250.5 465.5h1v1h-1zM244.3 482.0h1v1h-1zM245.8 494.1h1v1h-1zM254.0 475.2h1v1h-1zM248.8 474.6h1v1h-1zM236.3 485.8h1v1h-1zM252.6 475.8h1v1h-1zM237.0 493.3h1v1h-1zM231.5 487.2h1v1h-1zM244.6 482.2h1v1h-1zM235.3 492.1h1v1h-1zM250.7 486.2h1v1h-1zM250.2 476.0h1v1h-1zM253.5 481.4h1v1h-1zM251.5 478.9h1v1h-1zM263.7 478.4h1v1h-1zM246.0 483.9h1v1h-1zM256.5 476.7h1v1h-1zM235.5 493.3h1v1h-1zM237.6 470.0h1v1h-1zM240.5 488.5h1v1h-1zM245.6 476.3h1v1h-1zM232.0 499.2h1v1h-1zM237.2 481.8h1v1h-1zM242.5 484.5h1v1h-1zM243.0 469.0h1v1h-1zM261.2 468.3h1v1h-1zM233.6 488.9h1v1h-1zM242.0 494.4h1v1h-1zM249.6 482.3h1v1h-1zM243.1 495.9h1v1h-1zM257.3 454.2h1v1h-1zM244.8 483.0h1v1h-1zM238.9 485.6h1v1h-1zM249.4 462.6h1v1h-1zM260.7 471.4h1v1h-1zM240.1 489.3h1v1h-1zM237.0 497.0h1v1h-1zM238.2 493.0h1v1h-1zM249.1 475.9h1v1h-1zM254.9 470.1h1v1h-1zM262.4 461.7h1v1h-1zM236.9 495.9h1v1h-1zM248.7 491.0h1v1h-1zM255.6 461.5h1v1h-1zM254.3 466.7h1v1h-1zM252.3 476.3h1v1h-1zM263.5 478.2h1v1h-1zM248.8 470.4h1v1h-1zM255.1 462.0h1v1h-1zM250.0 485.3h1v1h-1zM251.6 481.3h1v1h-1zM229.1 502.8h1v1h-1zM257.0 469.8h1v1h-1zM243.0 491.4h1v1h-1zM247.6 469.1h1v1h-1zM246.0 479.8h1v1h-1zM246.2 464.2h1v1h-1zM241.1 486.7h1v1h-1zM242.5 479.4h1v1h-1zM258.9 476.9h1v1h-1zM222.5 494.1h1v1h-1zM245.9 476.2h1v1h-1zM251.1 477.0h1v1h-1zM257.2 475.5h1v1h-1zM255.7 476.3h1v1h-1zM251.4 468.7h1v1h-1zM262.6 472.2h1v1h-1zM246.7 472.1h1v1h-1zM252.6 472.1h1v1h-1zM270.7 460.6h1v1h-1zM250.3 481.1h1v1h-1zM245.6 480.2h1v1h-1zM234.9 495.2h1v1h-1zM231.3 491.4h1v1h-1zM257.2 477.1h1v1h-1zM246.1 492.3h1v1h-1zM255.8 463.1h1v1h-1zM247.5 478.7h1v1h-1zM252.5 486.4h1v1h-1zM247.7 492.0h1v1h-1zM250.4 482.0h1v1h-1zM244.3 484.5h1v1h-1zM247.5 481.7h1v1h-1zM246.3 475.4h1v1h-1zM258.0 461.7h1v1h-1zM247.2 477.5h1v1h-1zM251.9 471.7h1v1h-1zM247.8 475.0h1v1h-1zM259.6 473.6h1v1h-1zM244.4 487.4h1v1h-1zM253.5 474.3h1v1h-1zM235.5 495.2h1v1h-1zM244.1 484.4h1v1h-1zM240.7 486.7h1v1h-1zM246.9 479.1h1v1h-1zM231.3 502.3h1v1h-1zM258.0 478.0h1v1h-1zM240.7 501.1h1v1h-1zM242.5 485.4h1v1h-1zM246.8 482.4h1v1h-1zM255.0 466.5h1v1h-1zM259.9 468.0h1v1h-1zM243.8 482.1h1v1h-1zM247.8 487.0h1v1h-1zM244.5 488.9h1v1h-1zM237.6 482.7h1v1h-1zM242.8 488.9h1v1h-1zM245.5 489.6h1v1h-1zM251.9 470.9h1v1h-1zM255.3 464.1h1v1h-1zM250.8 477.1h1v1h-1zM244.2 480.6h1v1h-1zM232.8 485.0h1v1h-1zM248.2 480.0h1v1h-1zM246.9 472.1h1v1h-1zM240.6 479.6h1v1h-1zM241.5 475.4h1v1h-1zM241.5 470.9h1v1h-1zM261.4 470.6h1v1h-1zM250.5 474.5h1v1h-1zM250.5 470.3h1v1h-1zM252.8 477.4h1v1h-1zM250.0 474.9h1v1h-1zM255.3 471.7h1v1h-1zM233.7 492.7h1v1h-1zM260.6 456.0h1v1h-1zM253.2 465.2h1v1h-1zM252.1 472.9h1v1h-1zM240.8 477.2h1v1h-1zM248.6 481.3h1v1h-1zM241.3 477.7h1v1h-1zM247.3 496.8h1v1h-1zM245.2 485.4h1v1h-1zM238.2 476.1h1v1h-1zM245.3 474.9h1v1h-1zM265.5 473.9h1v1h-1zM262.7 466.6h1v1h-1zM266.1 450.1h1v1h-1zM245.7 499.4h1v1h-1zM259.0 464.0h1v1h-1zM251.4 479.8h1v1h-1zM237.3 492.7h1v1h-1zM249.9 476.6h1v1h-1zM244.3 486.1h1v1h-1zM236.0 493.6h1v1h-1zM248.5 467.0h1v1h-1zM244.7 482.7h1v1h-1zM249.1 482.5h1v1h-1zM254.7 469.0h1v1h-1zM250.4 474.7h1v1h-1zM246.1 477.2h1v1h-1zM254.0 476.0h1v1h-1zM239.0 484.0h1v1h-1zM241.5 492.9h1v1h-1zM250.9 482.8h1v1h-1zM256.8 476.3h1v1h-1zM232.7 499.6h1v1h-1zM244.4 481.5h1v1h-1zM244.1 490.1h1v1h-1zM257.9 465.8h1v1h-1zM246.6 485.1h1v1h-1zM246.9 473.9h1v1h-1zM251.4 478.3h1v1h-1zM247.3 481.4h1v1h-1zM245.0 477.5h1v1h-1zM253.0 465.7h1v1h-1zM260.4 459.5h1v1h-1zM248.9 475.1h1v1h-1zM247.8 480.4h1v1h-1zM246.2 477.1h1v1h-1zM250.2 476.6h1v1h-1zM241.7 475.6h1v1h-1zM241.0 481.6h1v1h-1zM242.9 479.7h1v1h-1zM247.3 482.6h1v1h-1zM238.6 467.4h1v1h-1zM239.3 489.9h1v1h-1zM250.7 472.2h1v1h-1zM241.3 494.3h1v1h-1zM249.4 462.6h1v1h-1zM262.8 467.2h1v1h-1zM252.5 480.8h1v1h-1zM248.4 478.6h1v1h-1zM244.8 478.7h1v1h-1zM245.3 483.6h1v1h-1zM259.7 458.9h1v1h-1zM260.1 458.8h1v1h-1zM243.4 477.2h1v1h-1zM241.7 464.2h1v1h-1zM240.5 480.9h1v1h-1zM253.6 466.6h1v1h-1zM258.9 481.3h1v1h-1zM242.3 480.2h1v1h-1zM254.3 458.1h1v1h-1zM242.7 475.5h1v1h-1zM259.2 460.9h1v1h-1zM249.6 478.8h1v1h-1zM238.3 485.1h1v1h-1zM259.1 452.7h1v1h-1zM246.8 482.7h1v1h-1zM237.4 488.0h1v1h-1zM242.2 496.5h1v1h-1zM257.1 470.4h1v1h-1zM250.7 476.1h1v1h-1zM240.1 493.3h1v1h-1zM247.5 469.5h1v1h-1zM248.5 479.4h1v1h-1zM259.2 456.3h1v1h-1zM261.8 454.5h1v1h-1zM240.8 486.9h1v1h-1zM240.7 475.6h1v1h-1zM255.4 463.2h1v1h-1zM250.9 485.3h1v1h-1zM239.2 491.8h1v1h-1zM254.6 479.1h1v1h-1zM261.1 470.0h1v1h-1zM246.1 486.4h1v1h-1zM251.8 472.8h1v1h-1zM265.2 465.4h1v1h-1zM255.5 477.0h1v1h-1zM239.8 492.8h1v1h-1zM241.8 487.0h1v1h-1zM244.9 479.0h1v1h-1zM244.5 493.9h1v1h-1zM243.4 488.7h1v1h-1zM260.8 482.8h1v1h-1zM243.6 490.6h1v1h-1zM252.8 459.7h1v1h-1zM269.8 469.4h1v1h-1zM244.2 491.1h1v1h-1zM230.6 500.9h1v1h-1zM242.2 476.1h1v1h-1zM238.6 490.6h1v1h-1zM251.9 470.4h1v1h-1zM244.6 488.0h1v1h-1zM232.4 499.9h1v1h-1zM250.7 467.7h1v1h-1zM245.4 479.2h1v1h-1zM256.2 473.5h1v1h-1zM240.7 494.7h1v1h-1zM242.8 483.9h1v1h-1zM244.8 495.3h1v1h-1zM246.6 474.3h1v1h-1zM251.9 495.8h1v1h-1zM251.6 471.8h1v1h-1zM247.9 480.8h1v1h-1zM247.0 485.6h1v1h-1zM251.4 491.6h1v1h-1zM242.6 479.0h1v1h-1zM242.1 476.4h1v1h-1zM269.4 458.3h1v1h-1zM251.9 465.0h1v1h-1zM256.0 466.2h1v1h-1zM239.9 492.4h1v1h-1zM258.2 482.0h1v1h-1zM244.0 486.0h1v1h-1zM251.8 462.4h1v1h-1zM245.0 475.6h1v1h-1zM248.8 484.0h1v1h-1zM257.1 470.3h1v1h-1zM260.3 465.8h1v1h-1zM253.9 464.7h1v1h-1zM233.7 483.1h1v1h-1zM257.7 471.6h1v1h-1zM232.0 484.1h1v1h-1zM244.5 487.2h1v1h-1zM246.4 476.8h1v1h-1zM231.7 497.6h1v1h-1zM250.1 482.5h1v1h-1zM257.4 470.2h1v1h-1zM253.6 468.7h1v1h-1zM250.6 476.5h1v1h-1zM233.8 496.9h1v1h-1zM235.6 482.5h1v1h-1zM248.6 473.5h1v1h-1zM252.6 469.2h1v1h-1zM244.7 465.4h1v1h-1zM232.6 496.3h1v1h-1zM251.2 474.0h1v1h-1zM233.8 491.4h1v1h-1zM249.8 465.7h1v1h-1zM229.4 493.2h1v1h-1zM253.3 468.3h1v1h-1zM256.3 487.0h1v1h-1zM244.1 486.3h1v1h-1zM236.2 483.2h1v1h-1zM245.1 476.3h1v1h-1zM250.7 471.9h1v1h-1zM255.6 468.2h1v1h-1zM244.5 470.8h1v1h-1zM248.7 476.2h1v1h-1zM251.4 475.2h1v1h-1zM247.1 479.1h1v1h-1zM244.7 476.7h1v1h-1zM244.9 476.3h1v1h-1zM252.9 475.0h1v1h-1zM255.9 466.2h1v1h-1zM221.6 508.0h1v1h-1zM241.9 474.9h1v1h-1zM253.5 475.3h1v1h-1zM252.9 469.1h1v1h-1zM251.1 468.4h1v1h-1zM262.4 462.4h1v1h-1zM248.1 476.0h1v1h-1zM241.9 481.9h1v1h-1zM243.5 491.7h1v1h-1zM250.9 480.4h1v1h-1zM255.1 486.0h1v1h-1zM245.6 483.0h1v1h-1zM245.9 469.1h1v1h-1zM244.6 481.6h1v1h-1zM242.8 483.2h1v1h-1zM257.3 464.8h1v1h-1zM241.6 488.5h1v1h-1zM256.6 479.1h1v1h-1zM252.8 472.4h1v1h-1zM256.8 470.3h1v1h-1zM255.9 472.9h1v1h-1zM252.1 471.8h1v1h-1zM252.2 478.9h1v1h-1zM244.2 467.0h1v1h-1zM252.2 463.2h1v1h-1zM254.4 477.6h1v1h-1zM230.0 508.2h1v1h-1zM244.2 475.9h1v1h-1zM243.3 479.4h1v1h-1zM254.7 470.6h1v1h-1zM254.5 462.6h1v1h-1zM243.2 483.1h1v1h-1zM252.3 464.1h1v1h-1zM238.4 486.5h1v1h-1zM235.3 476.9h1v1h-1zM244.0 473.9h1v1h-1zM244.2 480.7h1v1h-1zM249.4 480.9h1v1h-1zM263.5 465.5h1v1h-1zM246.6 492.2h1v1h-1zM257.8 468.3h1v1h-1zM251.1 481.8h1v1h-1zM254.1 468.5h1v1h-1zM251.2 478.0h1v1h-1zM248.4 486.1h1v1h-1zM246.2 483.5h1v1h-1zM249.3 482.2h1v1h-1zM240.8 476.3h1v1h-1zM250.2 478.6h1v1h-1zM260.0 460.2h1v1h-1zM255.4 482.7h1v1h-1zM236.4 478.5h1v1h-1zM252.9 474.5h1v1h-1zM249.4 478.5h1v1h-1zM254.9 477.8h1v1h-1zM246.4 480.6h1v1h-1zM243.5 473.0h1v1h-1zM259.8 449.5h1v1h-1zM244.9 478.9h1v1h-1zM246.2 481.8h1v1h-1zM240.3 494.5h1v1h-1zM237.5 490.3h1v1h-1zM246.2 481.9h1v1h-1zM247.3 483.0h1v1h-1zM264.8 463.0h1v1h-1zM238.7 497.1h1v1h-1zM257.7 470.2h1v1h-1zM265.7 460.1h1v1h-1zM256.7 463.4h1v1h-1zM247.6 482.0h1v1h-1zM250.9 465.4h1v1h-1zM242.5 484.4h1v1h-1zM237.0 479.4h1v1h-1zM250.0 479.7h1v1h-1zM240.1 483.6h1v1h-1zM249.7 473.1h1v1h-1zM250.1 478.6h1v1h-1zM258.0 468.5h1v1h-1zM238.3 481.5h1v1h-1zM257.2 470.0h1v1h-1zM239.2 479.9h1v1h-1zM256.0 465.9h1v1h-1zM244.9 475.0h1v1h-1zM261.7 455.2h1v1h-1zM245.9 475.0h1v1h-1zM254.7 466.5h1v1h-1zM258.2 466.8h1v1h-1zM245.3 478.7h1v1h-1zM245.1 487.1h1v1h-1zM243.6 474.3h1v1h-1zM261.8 460.0h1v1h-1zM260.6 462.3h1v1h-1zM237.9 492.3h1v1h-1zM253.0 478.3h1v1h-1zM250.9 474.7h1v1h-1zM253.8 471.8h1v1h-1zM248.6 469.6h1v1h-1zM262.3 473.1h1v1h-1zM247.7 472.7h1v1h-1zM260.2 468.0h1v1h-1zM251.9 480.1h1v1h-1zM253.1 473.6h1v1h-1zM244.3 475.5h1v1h-1zM252.8 469.4h1v1h-1zM253.6 473.0h1v1h-1zM253.3 482.9h1v1h-1zM246.7 472.4h1v1h-1zM248.2 477.2h1v1h-1zM256.7 464.9h1v1h-1zM231.6 498.6h1v1h-1zM237.4 501.7h1v1h-1zM246.2 492.0h1v1h-1zM251.2 477.3h1v1h-1zM253.4 468.1h1v1h-1zM259.7 472.6h1v1h-1zM255.9 469.5h1v1h-1zM258.0 470.1h1v1h-1zM256.8 458.0h1v1h-1zM245.5 472.9h1v1h-1zM246.9 477.0h1v1h-1zM245.4 492.1h1v1h-1zM233.7 497.5h1v1h-1zM246.8 481.1h1v1h-1zM241.7 480.5h1v1h-1zM240.9 480.5h1v1h-1zM240.0 483.8h1v1h-1zM251.6 474.7h1v1h-1zM255.7 491.2h1v1h-1zM251.1 477.6h1v1h-1zM241.2 493.0h1v1h-1zM259.6 480.8h1v1h-1zM257.8 473.4h1v1h-1zM238.2 485.7h1v1h-1zM238.0 496.3h1v1h-1zM256.0 483.0h1v1h-1zM255.2 466.4h1v1h-1zM252.4 471.9h1v1h-1zM265.6 455.9h1v1h-1zM232.5 493.0h1v1h-1zM241.8 491.3h1v1h-1zM255.6 456.7h1v1h-1zM249.5 485.3h1v1h-1zM252.6 477.6h1v1h-1zM240.8 485.1h1v1h-1zM238.6 493.2h1v1h-1zM252.9 469.1h1v1h-1zM252.4 488.9h1v1h-1zM236.2 497.1h1v1h-1zM250.1 478.9h1v1h-1zM237.2 482.4h1v1h-1zM243.9 491.1h1v1h-1zM240.9 462.9h1v1h-1zM246.0 478.3h1v1h-1zM252.9 473.0h1v1h-1zM243.6 476.4h1v1h-1zM242.3 484.5h1v1h-1zM246.5 476.6h1v1h-1zM249.2 463.8h1v1h-1zM247.4 469.4h1v1h-1zM250.6 478.3h1v1h-1zM254.3 477.0h1v1h-1zM234.5 482.4h1v1h-1zM237.7 482.5h1v1h-1zM254.1 461.9h1v1h-1zM239.3 493.1h1v1h-1zM240.2 495.6h1v1h-1zM255.0 460.8h1v1h-1zM244.4 466.8h1v1h-1zM245.1 488.8h1v1h-1zM252.1 475.0h1v1h-1zM247.3 477.1h1v1h-1zM251.4 475.8h1v1h-1zM249.4 475.0h1v1h-1zM250.0 479.0h1v1h-1zM248.9 472.7h1v1h-1zM242.3 482.6h1v1h-1zM227.0 504.6h1v1h-1zM259.3 478.6h1v1h-1zM244.4 487.4h1v1h-1zM264.7 464.5h1v1h-1zM245.6 477.2h1v1h-1zM247.6 478.2h1v1h-1zM229.4 494.4h1v1h-1zM238.7 495.1h1v1h-1zM251.7 481.4h1v1h-1zM246.2 475.6h1v1h-1zM251.0 481.6h1v1h-1zM236.9 500.2h1v1h-1zM263.7 462.2h1v1h-1zM249.5 483.6h1v1h-1zM240.1 490.9h1v1h-1zM239.5 499.2h1v1h-1zM250.2 496.0h1v1h-1zM257.0 472.9h1v1h-1zM254.9 466.5h1v1h-1zM238.1 488.5h1v1h-1zM245.8 484.1h1v1h-1zM262.1 462.0h1v1h-1zM255.8 472.4h1v1h-1zM249.3 488.5h1v1h-1zM246.4 477.0h1v1h-1zM250.0 467.9h1v1h-1zM254.2 476.0h1v1h-1zM256.2 471.0h1v1h-1zM249.0 477.8h1v1h-1zM258.1 457.7h1v1h-1zM258.3 480.2h1v1h-1zM259.6 458.5h1v1h-1zM248.1 471.0h1v1h-1zM246.5 482.2h1v1h-1zM250.1 481.7h1v1h-1zM247.4 463.0h1v1h-1zM249.4 471.0h1v1h-1zM230.2 494.3h1v1h-1zM262.8 471.3h1v1h-1zM227.6 497.3h1v1h-1zM250.1 478.5h1v1h-1zM253.6 467.8h1v1h-1zM239.5 472.2h1v1h-1zM241.2 478.3h1v1h-1zM264.2 463.7h1v1h-1zM243.3 479.7h1v1h-1zM231.1 492.0h1v1h-1zM238.8 496.5h1v1h-1zM246.2 484.7h1v1h-1zM249.9 478.0h1v1h-1zM259.1 456.8h1v1h-1zM254.2 465.8h1v1h-1zM258.9 471.8h1v1h-1zM244.4 480.3h1v1h-1zM238.1 492.3h1v1h-1zM234.9 488.0h1v1h-1zM245.7 478.9h1v1h-1zM241.6 480.9h1v1h-1zM253.4 477.6h1v1h-1zM243.5 484.3h1v1h-1zM243.4 484.6h1v1h-1zM235.7 485.3h1v1h-1zM262.0 469.4h1v1h-1zM254.5 473.7h1v1h-1zM235.3 482.5h1v1h-1zM236.1 480.1h1v1h-1zM248.7 480.2h1v1h-1zM247.3 487.1h1v1h-1zM255.7 479.9h1v1h-1zM249.6 470.7h1v1h-1zM252.1 479.9h1v1h-1zM251.4 474.5h1v1h-1zM247.8 480.2h1v1h-1zM248.5 478.1h1v1h-1zM265.7 467.3h1v1h-1zM250.7 479.7h1v1h-1zM248.8 490.7h1v1h-1zM225.8 497.8h1v1h-1zM244.9 477.1h1v1h-1zM245.4 478.8h1v1h-1zM248.0 464.3h1v1h-1zM236.0 487.8h1v1h-1zM257.7 475.8h1v1h-1zM257.1 472.0h1v1h-1zM254.5 463.3h1v1h-1zM262.1 469.7h1v1h-1zM251.8 483.6h1v1h-1zM254.6 462.9h1v1h-1zM254.3 454.9h1v1h-1zM254.6 476.0h1v1h-1zM241.9 476.4h1v1h-1zM257.3 465.0h1v1h-1zM257.7 469.2h1v1h-1zM231.2 488.6h1v1h-1zM238.6 491.2h1v1h-1zM245.2 475.4h1v1h-1zM253.1 474.1h1v1h-1zM250.7 474.6h1v1h-1zM243.6 490.0h1v1h-1zM250.1 469.3h1v1h-1zM248.4 492.0h1v1h-1zM240.4 488.1h1v1h-1zM255.5 476.0h1v1h-1zM244.4 481.8h1v1h-1zM252.5 481.2h1v1h-1zM254.2 478.4h1v1h-1zM234.4 492.7h1v1h-1zM252.3 470.0h1v1h-1zM240.5 479.0h1v1h-1zM247.0 480.5h1v1h-1zM236.4 483.9h1v1h-1zM259.1 455.0h1v1h-1zM237.6 490.4h1v1h-1zM253.6 466.0h1v1h-1zM267.4 465.4h1v1h-1zM247.3 487.5h1v1h-1zM233.1 500.9h1v1h-1zM253.1 477.8h1v1h-1zM250.4 479.7h1v1h-1zM242.2 481.2h1v1h-1zM250.5 483.2h1v1h-1zM252.3 480.3h1v1h-1zM249.0 478.0h1v1h-1zM245.2 482.0h1v1h-1zM243.5 486.4h1v1h-1zM245.0 467.8h1v1h-1zM233.7 489.2h1v1h-1zM264.1 467.9h1v1h-1zM251.2 481.3h1v1h-1zM241.3 482.7h1v1h-1zM238.4 491.4h1v1h-1zM256.7 474.7h1v1h-1zM246.1 483.2h1v1h-1zM238.8 494.6h1v1h-1zM251.4 476.7h1v1h-1zM235.0 493.9h1v1h-1zM255.2 481.6h1v1h-1zM253.2 481.8h1v1h-1zM252.8 474.3h1v1h-1zM252.6 469.8h1v1h-1zM266.5 466.5h1v1h-1zM246.0 476.9h1v1h-1zM247.6 476.0h1v1h-1zM263.9 464.0h1v1h-1zM247.4 475.2h1v1h-1zM245.3 473.8h1v1h-1zM244.7 479.2h1v1h-1zM242.7 491.2h1v1h-1zM266.5 470.3h1v1h-1zM246.6 470.4h1v1h-1zM246.7 483.4h1v1h-1zM264.7 453.9h1v1h-1zM246.5 477.5h1v1h-1zM243.6 470.8h1v1h-1zM227.1 485.0h1v1h-1zM245.7 488.7h1v1h-1zM243.2 480.3h1v1h-1zM244.6 475.6h1v1h-1zM237.0 494.7h1v1h-1zM250.7 478.2h1v1h-1zM258.0 467.0h1v1h-1zM231.0 480.8h1v1h-1zM243.8 485.9h1v1h-1zM238.5 475.4h1v1h-1zM244.3 484.3h1v1h-1zM242.1 486.0h1v1h-1zM246.3 472.7h1v1h-1zM249.4 495.4h1v1h-1zM238.7 496.0h1v1h-1zM251.8 465.4h1v1h-1zM239.1 487.5h1v1h-1zM247.9 482.7h1v1h-1zM241.2 489.2h1v1h-1zM253.3 473.3h1v1h-1zM253.1 462.3h1v1h-1zM242.3 483.9h1v1h-1zM238.9 489.1h1v1h-1zM244.0 474.1h1v1h-1zM246.2 467.8h1v1h-1zM244.5 486.6h1v1h-1zM245.5 475.7h1v1h-1zM249.3 467.9h1v1h-1zM259.7 467.9h1v1h-1zM242.6 489.6h1v1h-1zM258.7 477.3h1v1h-1zM246.5 476.8h1v1h-1zM251.7 475.4h1v1h-1zM247.0 476.2h1v1h-1zM261.2 475.4h1v1h-1zM240.3 483.1h1v1h-1zM257.9 462.4h1v1h-1zM253.7 478.3h1v1h-1zM244.1 485.0h1v1h-1zM236.6 482.7h1v1h-1zM243.8 483.1h1v1h-1zM237.0 485.8h1v1h-1zM245.3 480.0h1v1h-1zM256.4 469.1h1v1h-1zM245.5 481.9h1v1h-1zM249.4 461.0h1v1h-1zM246.8 487.1h1v1h-1zM261.9 474.4h1v1h-1zM252.3 475.2h1v1h-1zM244.4 467.3h1v1h-1zM238.4 495.7h1v1h-1zM245.1 481.6h1v1h-1zM241.0 489.7h1v1h-1zM243.6 492.1h1v1h-1zM230.6 498.0h1v1h-1zM254.2 477.1h1v1h-1zM250.2 470.4h1v1h-1zM256.3 469.8h1v1h-1zM237.7 501.8h1v1h-1zM254.0 470.1h1v1h-1zM262.8 471.2h1v1h-1zM235.0 483.9h1v1h-1zM247.0 482.8h1v1h-1zM254.1 470.5h1v1h-1zM258.5 474.3h1v1h-1zM245.7 474.2h1v1h-1zM246.9 483.2h1v1h-1zM253.2 467.9h1v1h-1zM255.1 479.5h1v1h-1zM246.9 467.6h1v1h-1zM261.7 465.5h1v1h-1zM249.2 477.8h1v1h-1zM248.6 470.7h1v1h-1zM263.3 462.6h1v1h-1zM263.9 477.3h1v1h-1zM258.7 457.2h1v1h-1zM244.5 480.2h1v1h-1zM254.6 472.0h1v1h-1zM248.4 489.1h1v1h-1zM235.7 482.4h1v1h-1zM244.3 489.2h1v1h-1zM242.5 491.8h1v1h-1zM247.1 498.7h1v1h-1zM237.4 484.6h1v1h-1zM255.7 466.4h1v1h-1zM253.4 483.3h1v1h-1zM245.4 479.6h1v1h-1zM264.2 462.8h1v1h-1zM255.0 472.7h1v1h-1zM232.6 485.3h1v1h-1zM242.4 493.3h1v1h-1zM249.0 487.7h1v1h-1zM234.0 479.9h1v1h-1zM252.0 477.1h1v1h-1zM248.7 472.2h1v1h-1zM255.0 477.7h1v1h-1zM240.5 469.9h1v1h-1zM235.3 483.2h1v1h-1zM243.8 472.7h1v1h-1zM239.7 483.8h1v1h-1zM234.5 490.6h1v1h-1zM253.3 482.4h1v1h-1zM233.3 501.3h1v1h-1zM260.1 468.1h1v1h-1zM258.2 472.8h1v1h-1zM256.0 464.3h1v1h-1zM248.2 470.3h1v1h-1zM245.8 471.4h1v1h-1zM245.6 480.7h1v1h-1zM235.8 489.1h1v1h-1zM248.2 479.7h1v1h-1zM242.9 455.7h1v1h-1zM253.4 476.7h1v1h-1zM241.2 492.5h1v1h-1zM248.8 486.4h1v1h-1zM253.8 476.3h1v1h-1zM266.7 453.6h1v1h-1zM250.6 473.3h1v1h-1zM242.5 483.4h1v1h-1zM251.3 483.7h1v1h-1zM249.6 484.8h1v1h-1zM251.5 471.9h1v1h-1zM251.7 480.7h1v1h-1zM252.3 487.6h1v1h-1zM251.7 474.8h1v1h-1zM237.6 484.6h1v1h-1zM256.2 463.8h1v1h-1zM248.9 491.3h1v1h-1zM245.4 482.4h1v1h-1zM238.5 490.5h1v1h-1zM239.7 487.2h1v1h-1zM243.1 487.9h1v1h-1zM257.4 460.9h1v1h-1zM260.3 468.7h1v1h-1zM247.4 481.0h1v1h-1zM248.3 471.2h1v1h-1zM236.6 483.2h1v1h-1zM255.4 460.4h1v1h-1zM251.4 477.2h1v1h-1zM238.3 499.4h1v1h-1zM252.0 483.6h1v1h-1zM239.9 483.9h1v1h-1zM249.8 482.5h1v1h-1zM249.1 480.6h1v1h-1zM255.6 470.6h1v1h-1zM240.1 477.4h1v1h-1zM241.2 474.6h1v1h-1zM236.2 481.6h1v1h-1zM251.7 469.8h1v1h-1zM254.3 487.7h1v1h-1zM239.3 485.9h1v1h-1zM244.5 476.5h1v1h-1zM261.1 462.3h1v1h-1zM244.8 480.3h1v1h-1zM255.7 466.8h1v1h-1zM236.3 485.7h1v1h-1zM229.4 495.6h1v1h-1zM249.7 465.5h1v1h-1zM248.5 468.8h1v1h-1zM249.9 475.9h1v1h-1zM247.8 483.1h1v1h-1zM242.2 469.2h1v1h-1zM247.4 487.5h1v1h-1zM252.9 470.0h1v1h-1zM248.8 487.9h1v1h-1zM244.6 472.6h1v1h-1zM246.6 476.6h1v1h-1zM248.1 481.6h1v1h-1zM250.6 475.8h1v1h-1zM263.3 453.2h1v1h-1zM255.1 464.3h1v1h-1zM247.3 482.9h1v1h-1zM242.4 475.8h1v1h-1zM240.3 490.3h1v1h-1zM244.0 483.4h1v1h-1zM248.6 488.2h1v1h-1zM239.4 476.6h1v1h-1zM251.4 476.7h1v1h-1zM247.9 473.5h1v1h-1zM238.3 487.6h1v1h-1zM255.8 473.4h1v1h-1zM247.6 471.2h1v1h-1zM245.5 482.3h1v1h-1zM247.2 487.5h1v1h-1zM244.4 485.7h1v1h-1zM248.1 480.7h1v1h-1zM254.6 478.3h1v1h-1zM247.1 492.4h1v1h-1zM249.4 467.2h1v1h-1zM262.1 472.3h1v1h-1zM251.9 483.2h1v1h-1zM242.9 474.2h1v1h-1zM258.7 466.7h1v1h-1zM245.3 477.4h1v1h-1zM251.6 479.9h1v1h-1zM249.4 489.1h1v1h-1zM236.8 488.1h1v1h-1zM231.4 490.3h1v1h-1zM242.7 491.3h1v1h-1zM248.0 479.4h1v1h-1zM240.6 483.6h1v1h-1zM239.6 489.7h1v1h-1zM244.3 480.1h1v1h-1zM245.0 479.3h1v1h-1zM241.8 482.8h1v1h-1zM236.4 497.4h1v1h-1zM245.0 480.4h1v1h-1zM250.5 481.4h1v1h-1zM247.8 483.0h1v1h-1zM247.1 478.2h1v1h-1zM252.0 474.1h1v1h-1zM245.0 478.3h1v1h-1zM236.5 486.6h1v1h-1zM244.0 487.3h1v1h-1zM250.0 468.3h1v1h-1zM257.4 471.6h1v1h-1zM248.9 479.9h1v1h-1zM242.2 491.5h1v1h-1zM243.6 471.5h1v1h-1zM259.3 468.7h1v1h-1zM252.5 466.5h1v1h-1zM250.8 493.7h1v1h-1zM250.6 480.8h1v1h-1zM239.3 487.7h1v1h-1zM237.8 471.8h1v1h-1zM253.9 470.3h1v1h-1zM256.2 480.4h1v1h-1zM256.8 459.3h1v1h-1zM230.6 502.5h1v1h-1zM259.6 462.7h1v1h-1zM253.7 479.8h1v1h-1zM255.2 471.4h1v1h-1zM261.4 459.5h1v1h-1zM242.9 479.8h1v1h-1zM253.6 475.0h1v1h-1zM259.0 466.7h1v1h-1zM245.2 485.6h1v1h-1zM252.6 473.3h1v1h-1zM249.0 482.4h1v1h-1zM242.5 468.4h1v1h-1zM238.7 495.4h1v1h-1zM250.4 481.9h1v1h-1zM253.6 475.4h1v1h-1zM245.1 466.6h1v1h-1zM237.4 481.4h1v1h-1zM249.1 467.2h1v1h-1zM260.6 476.9h1v1h-1zM250.1 479.7h1v1h-1zM257.1 473.9h1v1h-1zM243.1 482.7h1v1h-1zM263.6 460.9h1v1h-1zM260.5 465.7h1v1h-1zM240.9 484.7h1v1h-1zM251.7 477.5h1v1h-1zM241.2 492.0h1v1h-1zM247.9 468.8h1v1h-1zM244.0 486.0h1v1h-1zM238.8 490.9h1v1h-1zM239.9 481.0h1v1h-1zM239.5 479.8h1v1h-1zM250.5 472.6h1v1h-1zM248.5 492.0h1v1h-1zM254.8 479.2h1v1h-1zM243.1 487.3h1v1h-1zM249.9 466.6h1v1h-1zM250.0 471.6h1v1h-1zM250.1 465.8h1v1h-1zM245.7 481.3h1v1h-1zM259.0 467.6h1v1h-1zM246.1 480.9h1v1h-1zM255.2 476.8h1v1h-1zM250.3 481.5h1v1h-1zM252.9 470.9h1v1h-1zM250.0 457.7h1v1h-1zM245.0 470.2h1v1h-1zM256.0 472.5h1v1h-1zM250.3 469.5h1v1h-1zM245.2 478.8h1v1h-1zM249.7 476.4h1v1h-1zM252.2 481.5h1v1h-1zM235.8 487.2h1v1h-1zM246.4 474.8h1v1h-1zM250.3 467.3h1v1h-1zM247.9 480.8h1v1h-1zM242.3 482.6h1v1h-1zM247.7 479.9h1v1h-1zM248.2 474.2h1v1h-1zM249.1 463.9h1v1h-1zM236.4 488.3h1v1h-1zM227.4 502.9h1v1h-1zM239.7 475.6h1v1h-1zM253.3 473.9h1v1h-1zM253.2 477.0h1v1h-1zM255.9 477.6h1v1h-1zM258.7 469.4h1v1h-1zM244.5 479.7h1v1h-1zM252.2 480.0h1v1h-1zM239.5 482.4h1v1h-1zM254.5 457.1h1v1h-1zM236.7 486.1h1v1h-1zM232.2 485.3h1v1h-1zM256.2 469.0h1v1h-1zM246.7 477.4h1v1h-1zM250.3 471.5h1v1h-1zM253.4 474.4h1v1h-1zM247.5 495.4h1v1h-1zM250.4 473.5h1v1h-1zM251.7 475.3h1v1h-1zM246.9 483.8h1v1h-1zM237.4 488.5h1v1h-1zM243.4 480.0h1v1h-1zM249.3 479.5h1v1h-1zM257.8 467.4h1v1h-1zM251.1 475.1h1v1h-1zM251.5 481.8h1v1h-1zM234.0 497.5h1v1h-1zM249.6 465.9h1v1h-1zM253.4 472.0h1v1h-1zM250.8 479.0h1v1h-1zM244.8 479.3h1v1h-1zM249.7 481.1h1v1h-1zM244.2 475.9h1v1h-1zM247.3 482.4h1v1h-1zM248.6 467.7h1v1h-1zM238.1 484.0h1v1h-1zM251.2 474.2h1v1h-1zM247.3 484.5h1v1h-1zM256.5 473.7h1v1h-1zM251.3 469.9h1v1h-1zM244.6 485.8h1v1h-1zM249.0 460.0h1v1h-1zM255.2 469.7h1v1h-1zM254.6 477.5h1v1h-1zM235.9 479.4h1v1h-1zM242.1 476.6h1v1h-1zM242.4 495.8h1v1h-1zM254.8 470.1h1v1h-1zM245.1 487.3h1v1h-1zM252.2 477.1h1v1h-1zM253.0 475.6h1v1h-1zM231.8 492.0h1v1h-1zM244.3 482.5h1v1h-1zM239.5 491.5h1v1h-1zM248.2 470.4h1v1h-1zM238.2 487.0h1v1h-1zM236.6 489.3h1v1h-1zM239.2 484.1h1v1h-1zM240.8 482.1h1v1h-1zM246.9 487.3h1v1h-1zM241.9 484.8h1v1h-1zM249.4 479.3h1v1h-1zM245.3 471.2h1v1h-1zM243.7 490.3h1v1h-1zM227.6 497.1h1v1h-1zM237.2 489.0h1v1h-1zM256.7 464.5h1v1h-1zM258.9 470.2h1v1h-1zM247.4 473.6h1v1h-1zM259.5 464.0h1v1h-1zM245.8 482.0h1v1h-1zM239.6 490.4h1v1h-1zM239.9 475.0h1v1h-1zM251.4 465.5h1v1h-1zM250.1 474.4h1v1h-1zM265.2 466.4h1v1h-1zM247.7 472.9h1v1h-1zM252.0 474.4h1v1h-1zM241.3 474.1h1v1h-1zM256.5 481.3h1v1h-1zM242.0 463.6h1v1h-1zM240.2 493.8h1v1h-1zM242.5 492.9h1v1h-1zM243.9 478.2h1v1h-1zM245.2 473.3h1v1h-1zM241.7 487.4h1v1h-1zM249.1 481.5h1v1h-1zM251.3 491.8h1v1h-1zM246.8 476.5h1v1h-1zM252.3 471.3h1v1h-1zM242.7 468.6h1v1h-1zM260.3 475.0h1v1h-1zM246.8 475.1h1v1h-1zM249.1 480.9h1v1h-1zM238.8 493.4h1v1h-1zM263.2 468.2h1v1h-1zM250.6 467.4h1v1h-1zM251.7 470.3h1v1h-1zM233.3 497.8h1v1h-1zM257.2 477.5h1v1h-1zM258.6 461.7h1v1h-1zM248.0 471.1h1v1h-1zM253.3 471.7h1v1h-1zM244.2 475.3h1v1h-1zM245.4 472.5h1v1h-1zM243.8 476.9h1v1h-1zM231.6 482.5h1v1h-1zM240.3 494.5h1v1h-1zM242.1 480.1h1v1h-1zM237.9 494.8h1v1h-1zM251.7 474.8h1v1h-1zM245.1 489.3h1v1h-1zM256.8 456.1h1v1h-1zM233.9 487.2h1v1h-1zM248.5 484.0h1v1h-1zM249.0 468.6h1v1h-1zM253.5 483.2h1v1h-1zM250.4 470.9h1v1h-1zM232.3 488.8h1v1h-1zM255.8 476.5h1v1h-1zM249.7 486.4h1v1h-1zM247.2 483.0h1v1h-1zM253.8 466.7h1v1h-1zM248.9 468.8h1v1h-1zM252.1 474.0h1v1h-1zM240.6 485.9h1v1h-1zM252.0 486.2h1v1h-1zM237.1 483.9h1v1h-1zM247.9 476.6h1v1h-1zM256.0 461.6h1v1h-1zM262.4 477.9h1v1h-1zM246.9 472.8h1v1h-1zM260.1 465.9h1v1h-1zM239.0 484.0h1v1h-1zM251.0 480.8h1v1h-1zM247.4 488.1h1v1h-1zM245.1 470.2h1v1h-1zM252.6 478.0h1v1h-1zM243.7 470.9h1v1h-1zM248.4 473.5h1v1h-1zM242.7 479.1h1v1h-1zM240.4 495.1h1v1h-1zM241.1 488.7h1v1h-1zM243.2 489.0h1v1h-1zM247.9 475.1h1v1h-1zM254.5 476.4h1v1h-1zM255.8 476.7h1v1h-1zM237.1 492.9h1v1h-1zM246.1 479.7h1v1h-1zM251.8 479.5h1v1h-1zM238.4 481.8h1v1h-1zM259.9 458.1h1v1h-1zM244.4 483.8h1v1h-1zM253.2 467.7h1v1h-1zM250.9 476.2h1v1h-1zM259.1 464.1h1v1h-1zM249.8 484.8h1v1h-1zM254.4 468.6h1v1h-1zM251.4 475.2h1v1h-1zM239.0 478.4h1v1h-1zM241.2 488.5h1v1h-1zM260.2 467.7h1v1h-1zM251.6 469.0h1v1h-1zM242.3 478.6h1v1h-1zM253.8 467.7h1v1h-1zM251.8 482.0h1v1h-1zM249.7 481.9h1v1h-1zM252.6 461.8h1v1h-1zM234.1 496.5h1v1h-1zM248.7 474.9h1v1h-1zM249.5 469.1h1v1h-1zM248.6 480.0h1v1h-1zM245.8 488.3h1v1h-1zM247.1 477.2h1v1h-1zM256.8 474.5h1v1h-1zM243.2 474.4h1v1h-1zM244.8 496.0h1v1h-1zM246.3 464.5h1v1h-1zM254.1 466.4h1v1h-1zM253.7 474.8h1v1h-1zM225.6 498.7h1v1h-1zM236.1 489.6h1v1h-1zM238.2 486.7h1v1h-1zM250.9 471.8h1v1h-1zM247.3 471.2h1v1h-1zM254.1 462.4h1v1h-1zM248.2 488.6h1v1h-1zM246.6 484.4h1v1h-1zM256.9 469.2h1v1h-1zM255.7 487.5h1v1h-1zM245.5 479.5h1v1h-1zM255.8 463.1h1v1h-1zM252.9 472.7h1v1h-1zM241.5 488.1h1v1h-1zM250.0 488.0h1v1h-1zM257.7 464.5h1v1h-1zM245.4 474.0h1v1h-1zM240.4 504.4h1v1h-1zM263.0 460.0h1v1h-1zM255.8 474.1h1v1h-1zM259.9 456.5h1v1h-1zM249.4 482.7h1v1h-1zM239.7 495.0h1v1h-1zM252.8 466.8h1v1h-1zM254.8 469.6h1v1h-1zM247.9 478.9h1v1h-1zM232.8 493.8h1v1h-1zM272.1 450.8h1v1h-1zM263.1 465.6h1v1h-1zM248.8 472.0h1v1h-1zM240.5 480.5h1v1h-1zM257.6 477.4h1v1h-1zM259.7 469.5h1v1h-1zM234.1 499.9h1v1h-1zM266.0 467.1h1v1h-1zM255.9 464.3h1v1h-1zM237.6 481.9h1v1h-1zM236.2 479.2h1v1h-1zM261.1 459.7h1v1h-1zM251.3 479.2h1v1h-1zM245.2 468.8h1v1h-1zM242.2 473.5h1v1h-1zM247.1 477.8h1v1h-1zM252.8 474.1h1v1h-1zM245.1 454.4h1v1h-1zM254.9 465.3h1v1h-1zM256.8 470.1h1v1h-1zM248.0 473.3h1v1h-1zM235.8 495.5h1v1h-1zM255.5 466.9h1v1h-1zM253.0 475.1h1v1h-1zM251.2 479.8h1v1h-1zM249.6 477.9h1v1h-1zM245.6 470.0h1v1h-1zM250.4 476.5h1v1h-1zM239.1 487.2h1v1h-1zM251.3 469.7h1v1h-1zM252.2 474.4h1v1h-1zM247.7 485.1h1v1h-1zM263.5 464.7h1v1h-1zM259.5 472.9h1v1h-1zM244.4 478.2h1v1h-1zM243.7 481.2h1v1h-1zM241.3 474.0h1v1h-1zM250.5 476.9h1v1h-1zM239.9 476.7h1v1h-1zM239.4 473.1h1v1h-1zM247.6 463.0h1v1h-1zM241.5 479.4h1v1h-1zM253.6 468.0h1v1h-1zM257.9 481.9h1v1h-1zM253.2 476.1h1v1h-1zM247.6 478.8h1v1h-1zM256.4 460.1h1v1h-1zM256.0 470.6h1v1h-1zM245.2 468.4h1v1h-1zM238.2 488.1h1v1h-1zM257.3 487.4h1v1h-1zM246.0 479.9h1v1h-1zM241.5 478.9h1v1h-1zM253.6 467.7h1v1h-1zM258.9 477.7h1v1h-1zM233.4 495.3h1v1h-1zM239.7 481.3h1v1h-1zM247.2 479.7h1v1h-1zM245.1 480.0h1v1h-1zM228.4 490.3h1v1h-1zM248.9 470.2h1v1h-1zM252.5 472.8h1v1h-1zM231.0 495.9h1v1h-1zM246.3 478.2h1v1h-1zM265.4 468.9h1v1h-1zM231.2 495.0h1v1h-1zM239.9 491.6h1v1h-1zM248.0 477.2h1v1h-1zM244.7 475.8h1v1h-1zM243.8 480.3h1v1h-1zM250.4 478.4h1v1h-1zM246.3 475.8h1v1h-1zM258.2 463.2h1v1h-1zM253.0 482.8h1v1h-1zM244.7 480.4h1v1h-1zM247.3 486.4h1v1h-1zM245.5 478.9h1v1h-1zM253.1 467.3h1v1h-1zM245.7 471.7h1v1h-1zM241.2 497.0h1v1h-1zM241.5 478.3h1v1h-1zM249.2 478.6h1v1h-1zM249.1 468.5h1v1h-1zM248.3 469.2h1v1h-1zM249.2 480.2h1v1h-1zM265.8 457.3h1v1h-1zM254.8 461.4h1v1h-1zM236.4 493.5h1v1h-1zM254.0 476.7h1v1h-1zM240.1 495.4h1v1h-1zM243.0 489.1h1v1h-1zM254.6 469.5h1v1h-1zM253.7 474.6h1v1h-1zM243.9 478.0h1v1h-1zM260.0 473.9h1v1h-1zM254.4 466.9h1v1h-1zM249.9 482.1h1v1h-1zM239.2 489.6h1v1h-1zM229.4 491.4h1v1h-1z" fill="#bc2e94" stroke="none" stroke-width="1" fill-opacity="0.8"/>
<path d="M228.6 510.3h1v1h-1zM222.8 505.9h1v1h-1zM242.4 480.6h1v1h-1zM226.8 497.4h1v1h-1zM224.9 483.8h1v1h-1zM247.9 482.6h1v1h-1zM223.9 479.0h1v1h-1zM225.9 486.5h1v1h-1zM229.5 490.5h1v1h-1zM240.9 488.2h1v1h-1zM234.5 490.7h1v1h-1zM240.7 485.5h1v1h-1zM254.9 494.0h1v1h-1zM227.2 500.9h1v1h-1zM229.1 499.8h1v1h-1zM238.9 481.8h1v1h-1zM240.7 476.2h1v1h-1zM234.0 480.5h1v1h-1zM232.4 500.4h1v1h-1zM247.0 481.1h1v1h-1zM238.2 492.9h1v1h-1zM238.3 479.2h1v1h-1zM240.5 506.7h1v1h-1zM235.1 474.9h1v1h-1zM246.7 488.8h1v1h-1zM247.8 487.8h1v1h-1zM229.0 504.8h1v1h-1zM251.2 495.8h1v1h-1zM227.1 487.7h1v1h-1zM243.6 494.0h1v1h-1zM244.8 495.5h1v1h-1zM227.7 492.2h1v1h-1zM232.8 496.2h1v1h-1zM252.1 503.6h1v1h-1zM237.4 479.7h1v1h-1zM226.4 508.9h1v1h-1zM244.1 502.8h1v1h-1zM247.4 489.1h1v1h-1zM238.5 471.8h1v1h-1zM224.9 497.7h1v1h-1zM228.6 483.4h1v1h-1zM236.9 482.2h1v1h-1zM221.3 495.3h1v1h-1zM234.1 499.4h1v1h-1zM242.6 498.8h1v1h-1zM240.1 502.2h1v1h-1zM219.9 515.4h1v1h-1zM232.3 496.4h1v1h-1zM220.8 494.0h1v1h-1zM246.8 487.7h1v1h-1zM238.9 492.5h1v1h-1zM233.6 482.9h1v1h-1zM228.5 497.7h1v1h-1zM255.3 468.5h1v1h-1zM240.5 474.3h1v1h-1zM233.8 491.1h1v1h-1zM244.2 497.6h1v1h-1zM239.5 491.8h1v1h-1zM255.4 480.8h1v1h-1zM248.5 484.5h1v1h-1zM231.1 490.0h1v1h-1zM233.8 508.5h1v1h-1zM241.4 487.7h1v1h-1zM216.4 493.7h1v1h-1zM237.3 501.9h1v1h-1zM236.9 481.9h1v1h-1zM232.9 485.1h1v1h-1zM245.1 497.6h1v1h-1zM237.4 516.9h1v1h-1zM227.3 488.8h1v1h-1zM241.5 475.8h1v1h-1zM258.4 476.6h1v1h-1zM224.7 504.7h1v1h-1zM218.5 481.1h1v1h-1zM247.9 478.9h1v1h-1zM245.6 484.9h1v1h-1zM262.7 476.3h1v1h-1zM270.7 470.6h1v1h-1zM242.1 491.3h1v1h-1zM240.0 469.8h1v1h-1zM232.3 499.2h1v1h-1zM238.4 489.0h1v1h-1zM242.1 500.1h1v1h-1zM244.6 498.4h1v1h-1zM234.4 504.8h1v1h-1zM241.1 489.3h1v1h-1zM240.7 489.2h1v1h-1zM234.7 502.5h1v1h-1zM229.5 491.0h1v1h-1zM231.9 504.1h1v1h-1zM221.2 507.6h1v1h-1zM248.6 506.6h1v1h-1zM236.5 479.6h1v1h-1zM237.8 490.3h1v1h-1zM259.1 478.2h1v1h-1zM239.4 485.0h1v1h-1zM240.8 475.8h1v1h-1zM228.8 481.9h1v1h-1zM237.2 477.2h1v1h-1zM236.8 489.9h1v1h-1zM248.3 467.4h1v1h-1zM230.0 498.0h1v1h-1zM245.6 479.7h1v1h-1zM255.2 478.7h1v1h-1zM244.5 489.8h1v1h-1zM255.2 478.0h1v1h-1zM219.0 517.6h1v1h-1zM237.1 482.2h1v1h-1zM233.7 488.1h1v1h-1zM250.0 491.1h1v1h-1zM244.9 493.2h1v1h-1zM235.3 492.3h1v1h-1zM248.3 475.8h1v1h-1zM225.0 485.5h1v1h-1zM233.1 499.9h1v1h-1zM228.4 496.8h1v1h-1zM238.9 482.8h1v1h-1zM228.2 509.4h1v1h-1zM257.9 493.6h1v1h-1zM240.4 474.5h1v1h-1zM241.6 493.0h1v1h-1zM246.1 471.6h1v1h-1zM238.7 491.1h1v1h-1zM235.3 500.5h1v1h-1zM246.9 486.5h1v1h-1zM240.6 479.8h1v1h-1zM247.1 493.7h1v1h-1zM243.3 493.9h1v1h-1zM249.2 482.8h1v1h-1zM245.9 484.9h1v1h-1zM221.4 497.4h1v1h-1zM229.2 519.2h1v1h-1zM231.0 476.0h1v1h-1zM260.1 475.7h1v1h-1zM256.4 484.3h1v1h-1zM256.5 480.5h1v1h-1zM238.1 483.4h1v1h-1zM243.7 479.9h1v1h-1zM228.4 505.3h1v1h-1zM237.2 489.0h1v1h-1zM235.0 487.8h1v1h-1zM242.9 493.7h1v1h-1zM241.3 476.5h1v1h-1zM229.8 489.1h1v1h-1zM242.0 495.1h1v1h-1zM239.7 509.2h1v1h-1zM251.1 479.7h1v1h-1zM237.3 502.2h1v1h-1zM236.4 488.2h1v1h-1zM254.2 470.2h1v1h-1zM235.0 489.4h1v1h-1zM216.9 490.8h1v1h-1zM230.7 494.1h1v1h-1zM222.7 497.3h1v1h-1zM246.0 491.0h1v1h-1zM237.1 498.3h1v1h-1zM242.1 488.7h1v1h-1zM236.8 488.6h1v1h-1zM232.3 491.8h1v1h-1zM236.6 484.5h1v1h-1zM237.4 483.2h1v1h-1zM236.5 498.5h1v1h-1zM229.7 500.1h1v1h-1zM226.2 508.4h1v1h-1zM255.9 479.5h1v1h-1zM248.7 490.6h1v1h-1zM248.6 495.5h1v1h-1zM240.5 499.0h1v1h-1zM231.1 473.9h1v1h-1zM247.5 487.1h1v1h-1zM229.6 490.2h1v1h-1zM244.1 487.6h1v1h-1zM233.9 499.8h1v1h-1zM213.8 505.6h1v1h-1zM230.8 509.2h1v1h-1zM229.2 518.7h1v1h-1zM242.3 498.3h1v1h-1zM245.4 490.2h1v1h-1zM227.2 497.6h1v1h-1zM238.5 491.7h1v1h-1zM234.4 493.7h1v1h-1zM217.3 497.0h1v1h-1zM229.5 502.0h1v1h-1zM239.0 476.7h1v1h-1zM255.7 482.6h1v1h-1zM247.2 494.1h1v1h-1zM239.4 498.4h1v1h-1zM246.3 496.3h1v1h-1zM226.4 486.9h1v1h-1zM231.7 483.4h1v1h-1zM248.0 501.1h1v1h-1zM235.0 493.5h1v1h-1zM251.9 501.4h1v1h-1zM228.4 481.9h1v1h-1zM245.7 497.8h1v1h-1zM264.2 490.8h1v1h-1zM231.8 487.6h1v1h-1zM229.3 512.5h1v1h-1zM238.1 494.1h1v1h-1zM252.0 482.5h1v1h-1zM241.1 497.5h1v1h-1zM242.3 492.4h1v1h-1zM248.0 471.5h1v1h-1zM237.2 500.1h1v1h-1zM247.1 488.8h1v1h-1zM237.2 496.8h1v1h-1zM244.9 474.0h1v1h-1zM241.2 477.7h1v1h-1zM252.3 481.5h1v1h-1zM254.4 461.9h1v1h-1zM234.6 488.7h1v1h-1zM238.3 496.8h1v1h-1zM241.7 491.3h1v1h-1zM210.0 512.3h1v1h-1zM253.0 493.2h1v1h-1zM239.6 481.9h1v1h-1zM239.0 478.9h1v1h-1zM240.8 487.5h1v1h-1zM225.1 503.4h1v1h-1zM257.8 485.5h1v1h-1zM244.5 493.5h1v1h-1zM232.5 485.7h1v1h-1zM233.9 499.6h1v1h-1zM266.2 491.2h1v1h-1zM244.1 521.4h1v1h-1zM235.0 485.0h1v1h-1zM244.6 485.8h1v1h-1zM230.1 502.4h1v1h-1zM239.4 482.2h1v1h-1zM221.3 492.5h1v1h-1zM250.8 467.6h1v1h-1zM252.2 489.3h1v1h-1zM225.5 496.5h1v1h-1zM230.4 481.4h1v1h-1zM233.8 499.9h1v1h-1zM244.4 489.2h1v1h-1zM249.2 486.6h1v1h-1zM249.6 492.9h1v1h-1zM231.9 497.3h1v1h-1zM242.4 494.7h1v1h-1zM259.3 492.1h1v1h-1zM238.0 484.0h1v1h-1zM244.9 476.1h1v1h-1zM230.1 505.9h1v1h-1zM229.2 488.6h1v1h-1zM232.3 498.2h1v1h-1zM246.4 483.4h1v1h-1zM241.5 470.0h1v1h-1zM236.0 484.9h1v1h-1zM263.2 467.0h1v1h-1zM236.5 479.4h1v1h-1zM253.4 472.4h1v1h-1zM226.4 498.7h1v1h-1zM234.7 486.2h1v1h-1zM223.7 507.1h1v1h-1zM242.2 494.1h1v1h-1zM263.2 478.2h1v1h-1zM254.2 488.6h1v1h-1zM232.8 488.3h1v1h-1zM242.8 500.2h1v1h-1zM242.2 493.8h1v1h-1zM245.4 482.2h1v1h-1zM227.8 491.7h1v1h-1zM241.2 489.4h1v1h-1zM240.8 519.1h1v1h-1zM232.9 494.8h1v1h-1zM228.9 517.2h1v1h-1zM227.8 497.1h1v1h-1zM233.1 498.6h1v1h-1zM251.6 486.9h1v1h-1zM243.9 490.6h1v1h-1zM255.9 479.5h1v1h-1zM236.6 477.2h1v1h-1zM256.8 482.2h1v1h-1zM233.3 480.8h1v1h-1zM230.5 490.6h1v1h-1zM230.8 488.0h1v1h-1zM239.0 481.7h1v1h-1zM226.5 483.9h1v1h-1zM235.2 491.1h1v1h-1zM234.7 494.1h1v1h-1zM221.2 481.4h1v1h-1zM226.7 487.0h1v1h-1zM224.4 510.6h1v1h-1zM237.0 489.9h1v1h-1zM230.0 498.3h1v1h-1zM248.6 492.4h1v1h-1zM242.3 479.2h1v1h-1zM254.0 501.9h1v1h-1zM250.6 492.6h1v1h-1zM256.5 491.1h1v1h-1zM240.2 503.7h1v1h-1zM252.7 479.5h1v1h-1zM253.1 483.4h1v1h-1zM242.9 494.2h1v1h-1zM249.8 500.8h1v1h-1zM257.8 483.9h1v1h-1zM240.2 503.3h1v1h-1zM229.0 500.8h1v1h-1zM257.0 467.6h1v1h-1zM217.0 484.6h1v1h-1zM224.7 496.7h1v1h-1zM250.0 483.4h1v1h-1zM242.4 487.0h1v1h-1zM246.1 489.2h1v1h-1zM246.6 491.3h1v1h-1zM231.5 475.3h1v1h-1zM244.1 476.9h1v1h-1zM236.8 498.2h1v1h-1zM249.2 506.1h1v1h-1zM226.5 488.5h1v1h-1zM223.4 502.9h1v1h-1zM221.5 514.4h1v1h-1zM244.5 470.3h1v1h-1zM240.8 505.6h1v1h-1zM237.0 491.6h1v1h-1zM227.5 507.4h1v1h-1zM240.4 495.8h1v1h-1zM238.8 497.9h1v1h-1zM236.6 487.7h1v1h-1zM250.4 487.0h1v1h-1zM228.0 496.3h1v1h-1zM248.6 487.1h1v1h-1zM238.7 493.6h1v1h-1zM238.1 493.4h1v1h-1zM251.8 491.4h1v1h-1zM231.2 475.2h1v1h-1zM236.7 497.5h1v1h-1zM239.7 506.2h1v1h-1zM238.5 488.4h1v1h-1zM234.6 482.2h1v1h-1zM231.0 487.2h1v1h-1zM235.0 490.3h1v1h-1zM236.7 490.6h1v1h-1zM249.2 471.3h1v1h-1zM246.5 484.5h1v1h-1zM227.7 499.2h1v1h-1zM235.6 484.6h1v1h-1zM248.2 493.8h1v1h-1zM233.2 491.5h1v1h-1zM240.1 482.2h1v1h-1zM217.4 502.1h1v1h-1zM236.9 482.1h1v1h-1zM241.8 503.0h1v1h-1zM235.9 498.5h1v1h-1zM229.3 491.2h1v1h-1zM252.5 479.2h1v1h-1zM247.7 479.5h1v1h-1zM224.1 504.9h1v1h-1zM240.6 489.7h1v1h-1zM253.4 503.8h1v1h-1zM225.3 488.1h1v1h-1zM250.7 479.6h1v1h-1zM237.5 486.9h1v1h-1zM254.0 493.9h1v1h-1zM233.3 492.8h1v1h-1zM238.7 498.0h1v1h-1zM234.7 476.9h1v1h-1zM237.2 504.1h1v1h-1zM239.7 491.9h1v1h-1zM243.4 493.7h1v1h-1zM237.5 501.6h1v1h-1zM229.8 503.9h1v1h-1zM242.1 485.6h1v1h-1zM236.4 509.5h1v1h-1zM268.1 471.9h1v1h-1zM219.4 507.6h1v1h-1zM269.6 486.3h1v1h-1zM252.1 479.8h1v1h-1zM250.6 485.1h1v1h-1zM245.7 489.5h1v1h-1zM236.5 488.7h1v1h-1zM235.9 504.8h1v1h-1zM247.6 489.8h1v1h-1zM223.8 499.2h1v1h-1zM235.3 490.2h1v1h-1zM240.7 494.8h1v1h-1zM246.6 504.9h1v1h-1zM232.1 504.0h1v1h-1zM232.5 489.7h1v1h-1zM251.3 473.5h1v1h-1zM244.0 470.3h1v1h-1zM266.3 479.6h1v1h-1zM262.3 457.9h1v1h-1zM244.6 488.0h1v1h-1zM235.6 514.9h1v1h-1zM239.6 503.6h1v1h-1zM232.5 494.7h1v1h-1zM223.3 497.6h1v1h-1zM236.4 486.3h1v1h-1zM231.5 507.5h1v1h-1zM228.6 495.3h1v1h-1zM241.5 482.0h1v1h-1zM237.1 492.6h1v1h-1zM238.3 486.0h1v1h-1zM251.2 498.9h1v1h-1zM239.3 503.5h1v1h-1zM231.1 502.8h1v1h-1zM225.6 505.2h1v1h-1zM227.2 482.8h1v1h-1zM240.1 488.3h1v1h-1zM245.4 493.8h1v1h-1zM247.9 476.9h1v1h-1zM229.7 496.0h1v1h-1zM222.8 513.1h1v1h-1zM243.2 474.7h1v1h-1zM242.6 480.4h1v1h-1zM238.6 493.9h1v1h-1zM239.3 489.5h1v1h-1zM248.2 479.3h1v1h-1zM244.6 486.5h1v1h-1zM248.0 481.3h1v1h-1zM264.5 475.4h1v1h-1zM253.1 472.4h1v1h-1zM229.6 488.3h1v1h-1zM224.5 474.2h1v1h-1zM243.2 482.3h1v1h-1zM236.5 487.1h1v1h-1zM230.2 499.0h1v1h-1zM250.6 489.3h1v1h-1zM230.8 484.1h1v1h-1zM233.7 491.5h1v1h-1zM229.7 489.1h1v1h-1zM247.5 475.4h1v1h-1zM245.6 484.9h1v1h-1zM242.8 490.7h1v1h-1zM259.0 472.2h1v1h-1zM229.2 511.9h1v1h-1zM236.7 501.0h1v1h-1zM248.8 480.1h1v1h-1zM239.7 496.8h1v1h-1zM238.6 493.0h1v1h-1zM239.1 473.5h1v1h-1zM226.4 503.9h1v1h-1zM246.8 507.9h1v1h-1zM232.0 495.2h1v1h-1zM240.8 494.9h1v1h-1zM235.4 479.7h1v1h-1zM231.4 486.0h1v1h-1zM251.2 482.9h1v1h-1zM248.5 502.7h1v1h-1zM246.5 485.2h1v1h-1zM236.1 480.2h1v1h-1zM238.9 488.1h1v1h-1zM240.1 515.2h1v1h-1zM241.3 480.2h1v1h-1zM231.6 507.1h1v1h-1zM248.3 482.5h1v1h-1zM225.0 478.1h1v1h-1zM231.8 478.6h1v1h-1zM235.5 484.8h1v1h-1zM252.7 491.8h1v1h-1zM232.9 492.8h1v1h-1zM221.4 494.5h1v1h-1zM248.2 474.8h1v1h-1zM218.3 513.8h1v1h-1zM228.3 504.5h1v1h-1zM241.4 472.8h1v1h-1zM244.6 463.3h1v1h-1zM233.0 513.8h1v1h-1zM218.7 502.7h1v1h-1zM231.3 487.8h1v1h-1zM231.0 489.6h1v1h-1zM239.1 493.0h1v1h-1zM252.0 489.4h1v1h-1zM231.2 511.2h1v1h-1zM241.3 483.8h1v1h-1zM253.7 481.1h1v1h-1zM244.0 478.1h1v1h-1zM254.3 486.5h1v1h-1zM258.6 481.5h1v1h-1zM250.9 489.5h1v1h-1zM238.3 492.3h1v1h-1zM244.6 478.2h1v1h-1zM240.6 496.5h1v1h-1zM227.4 492.7h1v1h-1zM226.9 493.3h1v1h-1zM246.4 476.8h1v1h-1zM267.5 485.1h1v1h-1zM247.4 495.2h1v1h-1zM227.8 506.6h1v1h-1zM252.3 487.9h1v1h-1zM240.0 480.6h1v1h-1zM265.7 480.6h1v1h-1zM229.8 501.1h1v1h-1zM229.3 487.7h1v1h-1zM244.6 485.2h1v1h-1zM247.3 479.1h1v1h-1zM237.0 504.4h1v1h-1zM245.1 469.3h1v1h-1zM240.5 491.8h1v1h-1zM254.9 483.1h1v1h-1zM236.5 495.9h1v1h-1zM234.3 500.2h1v1h-1zM251.1 492.6h1v1h-1zM249.7 500.0h1v1h-1zM234.8 493.6h1v1h-1zM258.1 489.0h1v1h-1zM240.0 490.3h1v1h-1zM236.1 486.8h1v1h-1zM236.9 491.4h1v1h-1zM225.6 490.1h1v1h-1zM247.4 485.1h1v1h-1zM255.4 482.1h1v1h-1zM225.1 491.0h1v1h-1zM253.1 490.3h1v1h-1zM229.1 496.3h1v1h-1zM246.9 500.8h1v1h-1zM235.5 508.7h1v1h-1zM231.1 502.3h1v1h-1zM239.7 501.3h1v1h-1zM238.9 486.8h1v1h-1zM231.5 497.4h1v1h-1zM263.3 491.0h1v1h-1zM234.5 498.2h1v1h-1zM235.7 482.7h1v1h-1zM230.5 514.3h1v1h-1zM253.3 495.9h1v1h-1zM246.2 496.2h1v1h-1zM255.5 480.5h1v1h-1zM246.2 482.6h1v1h-1zM242.7 483.5h1v1h-1zM242.1 488.9h1v1h-1zM235.0 509.1h1v1h-1zM236.1 507.7h1v1h-1zM233.5 500.8h1v1h-1zM256.5 484.3h1v1h-1zM227.4 492.4h1v1h-1zM219.7 509.7h1v1h-1zM222.7 521.0h1v1h-1zM238.8 492.8h1v1h-1zM260.3 485.0h1v1h-1zM237.4 495.6h1v1h-1zM244.5 500.8h1v1h-1zM233.2 485.9h1v1h-1zM236.4 476.1h1v1h-1zM230.1 493.0h1v1h-1zM243.8 492.5h1v1h-1zM223.0 483.3h1v1h-1zM234.9 502.3h1v1h-1zM242.8 498.9h1v1h-1zM220.6 501.5h1v1h-1zM235.5 476.0h1v1h-1zM236.8 498.9h1v1h-1zM235.5 498.4h1v1h-1zM242.0 473.7h1v1h-1zM234.6 487.1h1v1h-1zM239.6 486.8h1v1h-1zM247.9 474.4h1v1h-1zM225.1 498.0h1v1h-1zM243.1 486.5h1v1h-1zM275.2 461.4h1v1h-1zM249.2 489.7h1v1h-1zM240.9 491.5h1v1h-1zM230.2 488.5h1v1h-1zM227.9 505.6h1v1h-1zM248.5 477.8h1v1h-1zM242.1 488.3h1v1h-1zM237.0 504.6h1v1h-1zM251.3 502.3h1v1h-1zM238.1 483.8h1v1h-1zM224.6 496.1h1v1h-1zM223.6 496.6h1v1h-1zM218.6 503.4h1v1h-1zM237.4 491.3h1v1h-1zM247.7 497.5h1v1h-1zM259.0 476.2h1v1h-1zM237.7 495.0h1v1h-1zM241.7 493.2h1v1h-1zM243.0 498.6h1v1h-1zM229.0 503.1h1v1h-1zM240.5 480.9h1v1h-1zM239.0 480.3h1v1h-1zM237.4 493.5h1v1h-1zM226.3 484.1h1v1h-1zM264.1 480.7h1v1h-1zM239.2 487.4h1v1h-1zM250.3 484.5h1v1h-1zM229.8 497.5h1v1h-1zM237.5 489.7h1v1h-1zM247.7 481.6h1v1h-1zM255.1 479.2h1v1h-1zM237.1 488.2h1v1h-1zM236.6 503.7h1v1h-1zM230.2 501.4h1v1h-1zM241.2 501.9h1v1h-1zM245.8 480.9h1v1h-1zM234.2 475.1h1v1h-1zM238.2 497.5h1v1h-1zM264.3 477.9h1v1h-1zM254.0 486.4h1v1h-1zM234.5 501.6h1v1h-1zM234.2 489.7h1v1h-1zM240.1 459.9h1v1h-1zM237.5 486.3h1v1h-1zM217.0 493.2h1v1h-1zM260.6 485.7h1v1h-1zM227.7 484.6h1v1h-1zM248.0 496.6h1v1h-1z" fill="#b86cc0" stroke="none" stroke-width="1" fill-opacity="0.5"/>
<path d="M256.4 451.3h1v1h-1zM250.8 456.0h1v1h-1zM256.1 452.0h1v1h-1zM262.0 446.2h1v1h-1zM248.1 455.3h1v1h-1zM249.6 455.1h1v1h-1zM244.3 458.6h1v1h-1zM247.4 458.7h1v1h-1zM251.9 452.7h1v1h-1zM265.1 444.5h1v1h-1zM252.4 454.0h1v1h-1zM251.4 450.5h1v1h-1zM255.9 451.7h1v1h-1zM247.8 458.8h1v1h-1zM251.8 453.0h1v1h-1zM255.0 452.4h1v1h-1zM251.6 456.8h1v1h-1zM248.5 455.2h1v1h-1zM263.3 446.1h1v1h-1zM253.5 455.9h1v1h-1zM253.5 452.4h1v1h-1zM247.9 456.8h1v1h-1zM257.6 448.5h1v1h-1zM250.7 453.7h1v1h-1zM248.8 456.1h1v1h-1zM261.8 448.0h1v1h-1zM257.9 448.9h1v1h-1zM246.4 457.8h1v1h-1zM243.3 457.0h1v1h-1zM251.3 456.9h1v1h-1zM252.1 453.2h1v1h-1zM267.1 448.3h1v1h-1zM252.4 454.2h1v1h-1zM240.5 461.5h1v1h-1zM250.9 453.9h1v1h-1zM251.1 455.2h1v1h-1zM256.6 448.5h1v1h-1zM248.6 458.7h1v1h-1zM259.3 448.5h1v1h-1zM246.7 459.9h1v1h-1zM253.0 454.7h1v1h-1zM252.6 452.4h1v1h-1zM265.5 447.9h1v1h-1zM249.8 457.2h1v1h-1zM248.6 454.7h1v1h-1zM260.3 447.4h1v1h-1zM253.7 453.5h1v1h-1zM250.3 453.1h1v1h-1zM249.9 455.6h1v1h-1zM245.4 457.9h1v1h-1zM251.9 452.1h1v1h-1zM241.1 460.1h1v1h-1zM247.8 454.3h1v1h-1zM252.7 453.9h1v1h-1zM248.0 453.7h1v1h-1zM252.7 454.4h1v1h-1zM247.1 457.8h1v1h-1zM255.3 449.6h1v1h-1zM247.2 453.9h1v1h-1zM255.8 451.4h1v1h-1zM257.2 450.2h1v1h-1zM255.7 449.8h1v1h-1zM239.5 460.0h1v1h-1zM252.8 451.5h1v1h-1zM250.0 453.7h1v1h-1zM259.6 448.9h1v1h-1zM246.7 458.0h1v1h-1zM249.1 458.8h1v1h-1zM260.8 448.6h1v1h-1zM253.6 454.9h1v1h-1zM252.8 455.5h1v1h-1zM247.2 456.4h1v1h-1zM257.3 449.5h1v1h-1zM254.3 451.3h1v1h-1zM256.4 450.9h1v1h-1zM251.4 455.0h1v1h-1zM252.8 452.3h1v1h-1zM257.1 448.4h1v1h-1zM255.3 453.5h1v1h-1zM255.5 448.7h1v1h-1zM259.9 447.4h1v1h-1zM251.7 452.4h1v1h-1zM246.3 459.2h1v1h-1zM250.8 453.5h1v1h-1zM250.7 458.2h1v1h-1zM246.7 453.1h1v1h-1zM253.9 454.1h1v1h-1zM250.2 451.4h1v1h-1zM257.3 448.5h1v1h-1zM257.7 450.4h1v1h-1zM250.8 455.7h1v1h-1zM258.7 449.7h1v1h-1zM249.8 454.4h1v1h-1zM250.4 452.3h1v1h-1zM259.7 451.3h1v1h-1zM259.3 448.1h1v1h-1zM258.7 445.4h1v1h-1zM263.1 446.8h1v1h-1zM242.3 460.0h1v1h-1zM255.2 455.5h1v1h-1zM249.1 453.8h1v1h-1zM259.4 450.9h1v1h-1zM250.5 454.3h1v1h-1zM251.3 456.2h1v1h-1zM253.4 451.4h1v1h-1zM246.1 456.1h1v1h-1zM253.0 449.6h1v1h-1zM252.3 453.0h1v1h-1zM256.4 452.6h1v1h-1zM264.4 447.9h1v1h-1zM257.1 450.0h1v1h-1zM244.2 456.0h1v1h-1zM251.4 457.8h1v1h-1zM255.5 449.9h1v1h-1zM258.0 451.0h1v1h-1zM255.3 448.6h1v1h-1zM251.0 457.2h1v1h-1zM262.9 448.8h1v1h-1zM246.2 459.1h1v1h-1zM250.8 453.9h1v1h-1zM249.6 456.1h1v1h-1zM265.8 442.5h1v1h-1zM261.1 447.6h1v1h-1zM255.0 452.6h1v1h-1zM251.5 455.3h1v1h-1zM246.1 458.0h1v1h-1zM262.0 450.9h1v1h-1zM248.3 454.8h1v1h-1zM262.3 446.7h1v1h-1zM256.0 453.7h1v1h-1zM256.8 452.2h1v1h-1zM258.1 450.1h1v1h-1zM255.4 451.1h1v1h-1zM252.3 451.9h1v1h-1zM253.3 452.4h1v1h-1zM258.1 451.1h1v1h-1zM252.9 453.0h1v1h-1zM256.4 446.0h1v1h-1zM248.4 454.4h1v1h-1zM254.4 450.7h1v1h-1zM245.4 458.5h1v1h-1zM255.3 453.8h1v1h-1zM255.3 450.8h1v1h-1zM253.1 450.3h1v1h-1zM259.1 449.3h1v1h-1zM248.9 450.6h1v1h-1zM247.6 455.1h1v1h-1zM252.6 451.5h1v1h-1zM250.1 450.7h1v1h-1zM246.0 456.8h1v1h-1zM256.3 453.2h1v1h-1zM253.7 451.4h1v1h-1zM246.8 455.6h1v1h-1zM244.2 456.4h1v1h-1zM249.4 456.3h1v1h-1zM250.2 456.0h1v1h-1zM242.6 461.8h1v1h-1zM249.3 456.1h1v1h-1zM257.9 450.0h1v1h-1zM259.3 446.8h1v1h-1zM260.8 447.9h1v1h-1zM256.5 452.6h1v1h-1zM253.8 456.1h1v1h-1zM259.5 449.3h1v1h-1zM257.0 450.5h1v1h-1zM260.6 447.2h1v1h-1zM251.9 452.0h1v1h-1zM253.7 451.3h1v1h-1zM258.0 450.7h1v1h-1zM252.1 457.4h1v1h-1zM249.0 458.8h1v1h-1zM257.5 451.0h1v1h-1zM249.9 455.2h1v1h-1zM258.0 450.1h1v1h-1zM252.5 452.6h1v1h-1zM250.6 457.4h1v1h-1zM247.0 455.6h1v1h-1zM258.8 448.4h1v1h-1zM244.4 457.6h1v1h-1zM263.2 449.0h1v1h-1zM250.6 452.0h1v1h-1zM245.5 454.3h1v1h-1zM249.0 455.9h1v1h-1zM250.1 456.4h1v1h-1zM248.4 457.2h1v1h-1zM253.7 453.4h1v1h-1zM237.5 464.4h1v1h-1zM249.1 453.9h1v1h-1zM253.1 450.4h1v1h-1zM246.2 457.7h1v1h-1zM253.8 453.7h1v1h-1zM256.5 450.9h1v1h-1zM256.1 450.7h1v1h-1zM242.1 456.3h1v1h-1zM253.4 452.0h1v1h-1zM257.2 451.4h1v1h-1zM252.1 455.7h1v1h-1zM258.1 451.5h1v1h-1zM243.5 460.5h1v1h-1zM244.1 457.3h1v1h-1zM254.2 453.4h1v1h-1zM252.8 453.8h1v1h-1zM259.1 449.5h1v1h-1zM252.8 452.5h1v1h-1zM254.3 453.0h1v1h-1zM249.1 455.5h1v1h-1zM250.0 454.1h1v1h-1zM250.6 453.4h1v1h-1zM251.8 454.5h1v1h-1zM262.1 448.8h1v1h-1zM255.6 452.0h1v1h-1zM261.9 448.1h1v1h-1zM247.5 457.5h1v1h-1zM250.0 455.2h1v1h-1zM250.2 452.3h1v1h-1zM251.0 451.8h1v1h-1zM253.8 452.8h1v1h-1zM250.4 457.6h1v1h-1zM256.4 451.2h1v1h-1zM257.1 448.1h1v1h-1zM247.3 455.1h1v1h-1zM256.9 449.1h1v1h-1zM254.5 450.5h1v1h-1zM254.6 450.2h1v1h-1zM262.2 448.8h1v1h-1zM247.4 456.8h1v1h-1zM252.2 454.6h1v1h-1zM249.7 453.3h1v1h-1zM253.5 451.3h1v1h-1zM252.3 452.5h1v1h-1zM252.3 456.9h1v1h-1zM248.7 455.8h1v1h-1zM248.1 459.3h1v1h-1zM251.9 453.6h1v1h-1zM256.1 451.6h1v1h-1zM257.9 454.2h1v1h-1zM251.8 453.6h1v1h-1zM258.5 452.7h1v1h-1zM251.9 453.7h1v1h-1zM259.6 448.2h1v1h-1zM255.7 452.0h1v1h-1zM252.3 452.6h1v1h-1zM250.4 455.5h1v1h-1zM253.0 455.6h1v1h-1zM247.9 456.3h1v1h-1zM258.8 449.0h1v1h-1zM254.0 454.0h1v1h-1zM249.8 454.0h1v1h-1zM249.6 456.0h1v1h-1zM252.7 451.6h1v1h-1zM252.4 453.7h1v1h-1zM251.8 454.8h1v1h-1zM249.6 458.9h1v1h-1zM250.0 456.5h1v1h-1zM245.1 457.0h1v1h-1zM257.0 453.0h1v1h-1zM257.4 446.9h1v1h-1zM255.6 450.6h1v1h-1zM249.8 455.6h1v1h-1zM249.7 450.4h1v1h-1zM249.7 453.4h1v1h-1zM258.3 448.5h1v1h-1zM255.4 454.0h1v1h-1zM254.1 455.0h1v1h-1zM243.2 459.2h1v1h-1zM249.5 457.0h1v1h-1zM252.5 454.5h1v1h-1zM252.3 452.3h1v1h-1zM250.6 456.4h1v1h-1zM258.9 448.8h1v1h-1zM252.5 456.0h1v1h-1zM258.2 447.9h1v1h-1zM266.2 444.9h1v1h-1zM257.7 447.0h1v1h-1zM257.0 449.7h1v1h-1zM251.3 455.0h1v1h-1zM264.3 444.1h1v1h-1zM247.6 453.5h1v1h-1zM247.7 459.4h1v1h-1zM254.7 453.4h1v1h-1zM254.8 448.7h1v1h-1zM248.7 456.6h1v1h-1zM255.2 453.6h1v1h-1zM242.1 463.8h1v1h-1zM247.7 456.7h1v1h-1zM255.2 449.4h1v1h-1zM252.5 450.8h1v1h-1zM256.4 451.8h1v1h-1zM251.4 456.0h1v1h-1zM260.4 449.8h1v1h-1zM251.7 450.1h1v1h-1zM257.1 453.8h1v1h-1zM253.0 455.2h1v1h-1zM248.2 454.8h1v1h-1zM243.9 458.7h1v1h-1zM259.2 450.8h1v1h-1zM253.2 449.3h1v1h-1zM252.7 457.0h1v1h-1zM256.5 449.2h1v1h-1zM257.7 449.1h1v1h-1zM258.7 450.6h1v1h-1zM256.0 451.4h1v1h-1zM247.8 453.7h1v1h-1zM260.6 448.7h1v1h-1zM247.4 457.2h1v1h-1zM248.3 456.3h1v1h-1zM252.7 452.1h1v1h-1zM252.7 453.9h1v1h-1zM257.2 451.5h1v1h-1zM251.7 455.4h1v1h-1zM253.8 451.0h1v1h-1zM247.8 453.4h1v1h-1zM257.1 448.5h1v1h-1zM249.9 455.1h1v1h-1zM247.1 458.5h1v1h-1zM255.0 454.0h1v1h-1zM253.9 450.3h1v1h-1zM255.3 452.4h1v1h-1zM251.1 452.5h1v1h-1zM252.7 454.1h1v1h-1zM254.5 450.9h1v1h-1zM255.0 450.5h1v1h-1zM255.6 454.9h1v1h-1zM257.0 452.6h1v1h-1zM259.5 449.6h1v1h-1zM242.0 459.8h1v1h-1zM248.7 453.3h1v1h-1zM251.7 455.7h1v1h-1zM252.3 456.5h1v1h-1zM255.7 449.2h1v1h-1zM248.9 457.1h1v1h-1zM253.2 453.3h1v1h-1zM261.1 450.8h1v1h-1zM253.4 451.3h1v1h-1zM266.7 445.2h1v1h-1zM259.3 447.1h1v1h-1zM244.1 457.8h1v1h-1zM258.8 450.4h1v1h-1zM253.5 451.1h1v1h-1zM254.7 454.1h1v1h-1zM250.8 454.3h1v1h-1zM252.6 454.2h1v1h-1zM252.7 453.6h1v1h-1zM260.0 446.3h1v1h-1zM240.0 461.2h1v1h-1zM250.7 455.9h1v1h-1zM251.7 455.0h1v1h-1zM261.2 450.4h1v1h-1zM252.3 449.9h1v1h-1zM244.9 458.8h1v1h-1zM254.3 452.2h1v1h-1zM263.2 445.7h1v1h-1zM247.5 456.5h1v1h-1zM257.6 454.0h1v1h-1zM267.1 445.3h1v1h-1zM252.9 452.9h1v1h-1zM254.0 452.9h1v1h-1zM256.0 452.7h1v1h-1zM246.7 453.6h1v1h-1zM247.3 459.8h1v1h-1zM248.3 455.6h1v1h-1zM254.6 452.4h1v1h-1zM262.1 449.6h1v1h-1zM261.9 450.9h1v1h-1zM262.7 445.6h1v1h-1zM256.8 451.9h1v1h-1zM247.8 456.6h1v1h-1zM250.0 454.7h1v1h-1zM255.5 453.6h1v1h-1zM248.0 453.8h1v1h-1zM251.7 453.4h1v1h-1zM263.3 449.4h1v1h-1zM245.3 461.6h1v1h-1zM247.4 456.7h1v1h-1zM253.2 452.4h1v1h-1zM239.1 460.4h1v1h-1zM254.8 452.6h1v1h-1zM246.8 453.1h1v1h-1zM254.0 450.2h1v1h-1zM260.2 448.9h1v1h-1zM248.0 455.6h1v1h-1zM254.5 450.3h1v1h-1zM251.8 453.6h1v1h-1zM252.3 453.7h1v1h-1zM248.6 455.3h1v1h-1zM256.0 452.7h1v1h-1zM272.2 442.6h1v1h-1zM250.7 455.7h1v1h-1zM255.6 449.2h1v1h-1zM247.5 457.3h1v1h-1zM257.8 455.8h1v1h-1zM249.2 454.4h1v1h-1zM256.4 449.4h1v1h-1zM248.9 456.0h1v1h-1zM254.8 453.6h1v1h-1zM255.3 453.4h1v1h-1zM259.4 454.1h1v1h-1zM241.6 461.1h1v1h-1zM251.3 455.7h1v1h-1zM254.1 454.5h1v1h-1zM243.9 458.2h1v1h-1zM253.0 449.9h1v1h-1zM255.2 452.4h1v1h-1zM251.3 456.1h1v1h-1zM250.0 457.9h1v1h-1zM252.4 451.0h1v1h-1zM262.4 444.3h1v1h-1zM255.6 450.3h1v1h-1zM255.5 449.9h1v1h-1zM267.8 444.6h1v1h-1zM254.5 452.5h1v1h-1zM247.7 451.9h1v1h-1zM253.8 452.6h1v1h-1zM261.2 448.1h1v1h-1zM253.2 452.5h1v1h-1zM259.7 451.4h1v1h-1zM246.0 458.3h1v1h-1zM259.8 449.5h1v1h-1zM253.5 453.3h1v1h-1zM255.7 447.5h1v1h-1zM256.1 449.2h1v1h-1zM252.4 451.9h1v1h-1zM249.7 454.3h1v1h-1zM261.0 446.7h1v1h-1zM256.9 452.9h1v1h-1zM254.4 452.1h1v1h-1zM254.5 452.0h1v1h-1zM255.1 449.6h1v1h-1zM249.4 452.2h1v1h-1zM256.5 452.2h1v1h-1zM253.2 451.9h1v1h-1zM252.1 453.0h1v1h-1zM258.4 449.7h1v1h-1zM260.3 450.7h1v1h-1zM261.7 447.1h1v1h-1zM249.5 453.9h1v1h-1zM250.8 453.4h1v1h-1zM257.3 450.5h1v1h-1zM251.7 453.8h1v1h-1zM247.3 460.7h1v1h-1zM264.3 442.9h1v1h-1zM243.9 459.5h1v1h-1zM257.0 453.9h1v1h-1zM247.7 455.7h1v1h-1zM249.4 454.6h1v1h-1zM248.3 459.3h1v1h-1zM252.2 452.3h1v1h-1zM253.7 455.3h1v1h-1zM254.4 451.5h1v1h-1zM244.8 459.5h1v1h-1zM251.2 453.2h1v1h-1zM251.5 455.5h1v1h-1zM250.1 456.9h1v1h-1zM246.7 456.7h1v1h-1zM258.7 448.4h1v1h-1zM240.9 460.1h1v1h-1zM260.7 445.9h1v1h-1zM251.8 455.1h1v1h-1zM248.0 457.8h1v1h-1zM256.8 452.6h1v1h-1zM247.9 457.1h1v1h-1zM262.0 446.9h1v1h-1zM255.2 450.0h1v1h-1zM257.6 447.8h1v1h-1zM258.9 451.4h1v1h-1zM259.6 450.4h1v1h-1zM261.1 446.4h1v1h-1zM258.7 451.7h1v1h-1zM259.2 450.5h1v1h-1zM247.3 459.0h1v1h-1zM251.4 454.5h1v1h-1zM257.6 446.1h1v1h-1zM257.0 447.9h1v1h-1zM254.3 454.6h1v1h-1zM246.4 457.5h1v1h-1zM256.1 453.3h1v1h-1zM257.1 452.3h1v1h-1zM257.4 452.3h1v1h-1zM257.2 453.6h1v1h-1zM252.0 452.6h1v1h-1zM259.7 451.9h1v1h-1zM252.9 453.8h1v1h-1zM258.0 450.7h1v1h-1zM249.9 453.4h1v1h-1zM255.9 451.2h1v1h-1zM258.4 452.4h1v1h-1zM254.0 448.8h1v1h-1zM245.0 456.3h1v1h-1zM249.9 454.5h1v1h-1zM253.8 454.1h1v1h-1zM262.9 447.9h1v1h-1zM253.3 455.0h1v1h-1zM259.9 448.8h1v1h-1zM254.7 450.9h1v1h-1zM251.9 454.7h1v1h-1zM267.8 444.6h1v1h-1zM246.9 458.6h1v1h-1zM252.4 452.2h1v1h-1zM257.3 450.1h1v1h-1zM249.0 453.8h1v1h-1zM255.0 451.4h1v1h-1zM247.5 454.3h1v1h-1zM257.4 451.9h1v1h-1zM243.3 457.6h1v1h-1zM241.9 460.1h1v1h-1zM263.5 447.1h1v1h-1zM244.9 460.1h1v1h-1zM253.0 449.1h1v1h-1zM259.6 447.6h1v1h-1zM248.3 452.5h1v1h-1zM261.8 444.7h1v1h-1zM250.1 455.3h1v1h-1zM260.0 452.3h1v1h-1zM255.6 452.3h1v1h-1zM249.3 456.9h1v1h-1zM251.8 448.4h1v1h-1zM256.1 454.8h1v1h-1zM257.4 452.1h1v1h-1zM258.5 450.4h1v1h-1zM253.7 450.7h1v1h-1zM258.1 448.1h1v1h-1zM254.6 453.0h1v1h-1zM251.2 450.0h1v1h-1zM257.4 449.4h1v1h-1zM252.9 453.0h1v1h-1zM253.9 453.6h1v1h-1zM255.2 451.0h1v1h-1zM255.0 449.0h1v1h-1zM248.8 452.0h1v1h-1zM262.8 448.3h1v1h-1zM258.8 450.6h1v1h-1zM250.9 454.1h1v1h-1zM252.6 453.2h1v1h-1zM250.4 456.0h1v1h-1zM252.1 455.0h1v1h-1zM252.0 452.6h1v1h-1zM253.7 452.0h1v1h-1zM251.8 455.3h1v1h-1zM257.9 452.1h1v1h-1zM260.4 447.1h1v1h-1zM255.5 453.1h1v1h-1zM250.5 451.8h1v1h-1zM251.2 453.9h1v1h-1zM257.5 447.4h1v1h-1zM253.0 451.7h1v1h-1zM251.8 453.6h1v1h-1zM250.8 452.7h1v1h-1zM257.7 449.3h1v1h-1zM258.6 454.7h1v1h-1zM258.8 452.9h1v1h-1zM247.9 457.8h1v1h-1zM246.9 456.1h1v1h-1zM247.8 459.7h1v1h-1zM264.4 446.1h1v1h-1zM253.2 456.8h1v1h-1zM250.6 453.9h1v1h-1zM248.4 460.1h1v1h-1zM257.2 452.6h1v1h-1zM251.3 456.1h1v1h-1zM242.4 460.0h1v1h-1zM255.4 448.0h1v1h-1zM244.4 455.0h1v1h-1zM260.5 449.0h1v1h-1zM247.8 457.8h1v1h-1zM252.3 456.5h1v1h-1zM255.2 452.7h1v1h-1zM252.5 453.8h1v1h-1zM263.4 446.1h1v1h-1zM258.0 448.4h1v1h-1zM251.0 454.1h1v1h-1zM242.9 459.4h1v1h-1zM253.1 449.6h1v1h-1zM245.6 458.1h1v1h-1zM251.9 453.8h1v1h-1zM258.3 450.1h1v1h-1zM260.9 450.5h1v1h-1zM238.3 464.6h1v1h-1zM248.6 454.7h1v1h-1zM254.0 453.4h1v1h-1zM251.5 450.3h1v1h-1zM247.5 455.9h1v1h-1zM259.1 450.6h1v1h-1zM254.4 451.9h1v1h-1zM242.1 462.4h1v1h-1zM254.9 448.2h1v1h-1zM250.6 455.4h1v1h-1zM262.9 445.7h1v1h-1zM258.6 450.9h1v1h-1zM246.3 455.8h1v1h-1zM247.9 459.5h1v1h-1zM257.5 449.5h1v1h-1zM255.1 451.3h1v1h-1zM252.7 456.3h1v1h-1zM250.1 456.0h1v1h-1zM255.6 451.8h1v1h-1zM248.7 458.0h1v1h-1zM253.9 449.5h1v1h-1zM253.8 453.9h1v1h-1zM251.6 449.8h1v1h-1zM259.4 450.2h1v1h-1zM252.9 453.5h1v1h-1zM250.4 457.1h1v1h-1zM241.2 460.6h1v1h-1zM256.9 449.2h1v1h-1zM243.9 458.5h1v1h-1zM258.9 450.6h1v1h-1zM242.9 457.3h1v1h-1zM249.7 454.9h1v1h-1zM254.7 451.4h1v1h-1zM253.1 451.4h1v1h-1zM258.3 451.0h1v1h-1zM254.5 454.7h1v1h-1zM249.4 453.1h1v1h-1zM249.4 455.8h1v1h-1zM252.7 453.2h1v1h-1zM248.5 457.6h1v1h-1zM253.0 453.3h1v1h-1zM262.2 447.6h1v1h-1zM249.0 450.7h1v1h-1zM246.2 458.8h1v1h-1zM268.9 442.0h1v1h-1zM255.6 452.5h1v1h-1zM255.8 454.5h1v1h-1zM253.2 452.9h1v1h-1zM250.5 455.9h1v1h-1zM243.7 456.0h1v1h-1zM259.6 445.9h1v1h-1zM245.3 456.6h1v1h-1zM259.1 453.9h1v1h-1zM258.3 452.3h1v1h-1zM253.8 457.0h1v1h-1zM253.0 454.3h1v1h-1zM253.5 453.5h1v1h-1zM255.4 450.6h1v1h-1zM253.3 453.1h1v1h-1zM256.7 449.9h1v1h-1zM257.7 452.3h1v1h-1zM248.1 454.7h1v1h-1zM250.2 456.7h1v1h-1zM251.5 453.8h1v1h-1zM246.3 456.9h1v1h-1zM249.7 454.3h1v1h-1zM255.4 453.4h1v1h-1zM262.7 442.7h1v1h-1zM264.0 446.0h1v1h-1zM257.7 449.4h1v1h-1zM255.2 452.4h1v1h-1zM252.9 455.8h1v1h-1zM241.3 463.4h1v1h-1zM246.9 455.2h1v1h-1zM256.0 452.6h1v1h-1zM243.8 462.7h1v1h-1zM242.5 458.1h1v1h-1zM249.2 454.5h1v1h-1zM254.3 454.7h1v1h-1zM253.4 454.7h1v1h-1zM253.8 452.5h1v1h-1zM256.0 451.4h1v1h-1zM255.1 452.9h1v1h-1zM249.4 455.1h1v1h-1zM252.2 453.8h1v1h-1zM261.9 446.8h1v1h-1zM244.6 455.9h1v1h-1zM259.2 453.8h1v1h-1zM248.4 458.8h1v1h-1zM258.4 450.8h1v1h-1zM245.3 455.3h1v1h-1zM249.0 454.5h1v1h-1zM259.1 453.4h1v1h-1zM258.2 449.0h1v1h-1zM251.6 453.9h1v1h-1zM255.1 453.4h1v1h-1zM253.9 452.0h1v1h-1zM251.8 454.0h1v1h-1zM249.1 456.7h1v1h-1zM252.1 451.9h1v1h-1zM265.9 442.2h1v1h-1zM265.1 443.6h1v1h-1zM246.5 456.2h1v1h-1zM246.3 456.4h1v1h-1zM255.9 451.5h1v1h-1zM252.0 453.9h1v1h-1zM250.9 452.2h1v1h-1zM257.1 452.4h1v1h-1zM253.9 451.6h1v1h-1zM250.2 453.3h1v1h-1zM254.0 450.3h1v1h-1zM248.3 453.0h1v1h-1zM248.8 458.6h1v1h-1zM256.9 451.3h1v1h-1zM258.3 450.0h1v1h-1zM255.8 450.6h1v1h-1zM251.7 452.9h1v1h-1zM258.0 449.9h1v1h-1zM254.7 452.9h1v1h-1zM251.2 454.3h1v1h-1zM254.0 451.6h1v1h-1zM250.1 449.9h1v1h-1zM253.0 452.7h1v1h-1zM246.6 456.9h1v1h-1zM248.9 455.4h1v1h-1zM256.3 451.8h1v1h-1zM252.8 457.5h1v1h-1zM253.7 453.5h1v1h-1zM257.5 450.7h1v1h-1zM260.6 449.3h1v1h-1zM260.7 448.6h1v1h-1zM246.4 452.8h1v1h-1zM257.2 451.4h1v1h-1zM252.3 457.2h1v1h-1zM245.4 457.6h1v1h-1zM256.9 449.4h1v1h-1zM254.0 452.1h1v1h-1zM257.7 451.3h1v1h-1zM253.1 455.4h1v1h-1zM259.4 450.5h1v1h-1zM251.2 450.9h1v1h-1zM251.3 455.4h1v1h-1zM248.6 455.5h1v1h-1zM245.5 457.8h1v1h-1zM251.6 453.6h1v1h-1zM248.0 456.3h1v1h-1zM259.4 448.2h1v1h-1zM252.0 456.7h1v1h-1zM248.1 455.8h1v1h-1zM259.2 451.6h1v1h-1zM257.2 451.5h1v1h-1zM261.5 446.0h1v1h-1zM248.7 454.2h1v1h-1zM252.8 454.1h1v1h-1zM248.8 454.7h1v1h-1zM253.1 452.2h1v1h-1zM250.8 452.7h1v1h-1zM251.4 451.0h1v1h-1zM246.8 454.4h1v1h-1zM254.7 452.0h1v1h-1zM253.6 452.5h1v1h-1zM244.8 458.4h1v1h-1zM253.2 453.5h1v1h-1zM250.4 453.5h1v1h-1zM256.1 452.5h1v1h-1zM261.7 445.5h1v1h-1zM247.3 455.2h1v1h-1zM249.6 456.5h1v1h-1zM252.0 451.5h1v1h-1zM257.8 450.1h1v1h-1zM261.5 447.2h1v1h-1zM256.1 452.8h1v1h-1zM255.6 448.9h1v1h-1zM258.0 450.9h1v1h-1zM251.7 451.1h1v1h-1zM257.5 451.3h1v1h-1zM250.8 454.2h1v1h-1zM258.6 452.0h1v1h-1zM255.2 450.5h1v1h-1zM251.8 451.9h1v1h-1zM259.1 450.9h1v1h-1zM239.4 459.4h1v1h-1zM252.0 451.9h1v1h-1zM253.1 450.1h1v1h-1zM253.2 454.6h1v1h-1zM251.3 455.1h1v1h-1zM253.8 448.2h1v1h-1zM254.3 451.9h1v1h-1zM254.3 452.5h1v1h-1zM260.6 450.3h1v1h-1zM260.2 451.5h1v1h-1zM250.1 458.2h1v1h-1zM261.9 448.4h1v1h-1zM251.0 455.7h1v1h-1zM253.4 454.8h1v1h-1zM250.8 450.8h1v1h-1zM245.6 457.3h1v1h-1zM254.6 453.6h1v1h-1zM257.9 451.2h1v1h-1zM245.6 457.5h1v1h-1zM247.1 457.4h1v1h-1zM250.3 453.4h1v1h-1zM250.1 458.7h1v1h-1zM265.1 445.5h1v1h-1zM256.3 448.4h1v1h-1zM251.5 453.4h1v1h-1zM252.3 452.7h1v1h-1zM244.0 459.3h1v1h-1zM256.4 454.5h1v1h-1zM251.8 450.9h1v1h-1zM257.4 453.9h1v1h-1zM255.9 448.9h1v1h-1zM252.9 456.8h1v1h-1zM259.4 451.7h1v1h-1zM246.9 453.4h1v1h-1zM256.0 454.3h1v1h-1zM240.6 459.7h1v1h-1zM258.9 452.9h1v1h-1zM251.2 458.0h1v1h-1zM247.8 457.7h1v1h-1zM259.2 451.4h1v1h-1zM257.5 449.7h1v1h-1zM250.8 453.6h1v1h-1zM250.0 453.9h1v1h-1zM250.0 455.2h1v1h-1zM240.0 459.5h1v1h-1zM253.8 452.9h1v1h-1zM261.5 450.0h1v1h-1zM248.0 456.6h1v1h-1zM253.3 455.9h1v1h-1zM255.8 451.5h1v1h-1zM248.2 456.6h1v1h-1zM257.7 454.4h1v1h-1zM246.8 459.3h1v1h-1zM253.9 454.0h1v1h-1zM261.6 448.7h1v1h-1zM255.5 456.3h1v1h-1zM248.6 451.9h1v1h-1zM249.8 456.5h1v1h-1zM255.6 451.6h1v1h-1zM251.6 454.9h1v1h-1zM252.9 452.0h1v1h-1zM250.8 453.6h1v1h-1zM260.5 448.9h1v1h-1zM250.9 452.5h1v1h-1zM250.7 453.9h1v1h-1zM260.0 446.7h1v1h-1zM254.9 451.2h1v1h-1zM260.4 452.0h1v1h-1zM259.0 449.0h1v1h-1zM250.7 455.1h1v1h-1zM243.0 458.9h1v1h-1zM247.3 457.6h1v1h-1zM250.6 452.3h1v1h-1zM258.7 451.8h1v1h-1zM258.5 449.2h1v1h-1zM245.2 458.1h1v1h-1zM260.3 447.0h1v1h-1zM251.1 452.9h1v1h-1zM257.7 453.5h1v1h-1zM256.3 453.9h1v1h-1zM256.4 450.8h1v1h-1zM235.9 464.0h1v1h-1zM244.5 457.3h1v1h-1zM251.6 456.7h1v1h-1zM257.4 451.7h1v1h-1zM253.8 454.2h1v1h-1zM253.1 451.8h1v1h-1zM250.2 454.5h1v1h-1zM254.4 454.4h1v1h-1zM240.6 463.3h1v1h-1zM258.0 446.3h1v1h-1zM253.3 452.1h1v1h-1zM261.2 449.5h1v1h-1zM252.9 455.8h1v1h-1zM254.2 452.8h1v1h-1zM248.9 455.6h1v1h-1zM254.5 450.6h1v1h-1zM248.6 456.2h1v1h-1zM252.9 451.9h1v1h-1zM253.9 454.1h1v1h-1zM245.5 455.8h1v1h-1zM253.7 455.6h1v1h-1zM255.2 455.3h1v1h-1zM248.8 453.6h1v1h-1zM256.0 451.2h1v1h-1zM255.8 449.4h1v1h-1zM248.7 456.1h1v1h-1zM256.9 448.9h1v1h-1zM256.4 447.2h1v1h-1zM255.7 453.8h1v1h-1zM251.0 455.2h1v1h-1zM249.8 455.9h1v1h-1zM254.0 451.5h1v1h-1zM257.4 449.6h1v1h-1zM251.7 453.7h1v1h-1zM250.5 455.4h1v1h-1zM252.2 452.2h1v1h-1zM248.8 457.8h1v1h-1zM245.9 456.3h1v1h-1zM251.2 459.1h1v1h-1zM260.7 451.7h1v1h-1zM251.5 454.5h1v1h-1zM262.6 447.4h1v1h-1zM250.7 454.7h1v1h-1zM261.7 445.7h1v1h-1zM263.1 448.9h1v1h-1zM244.6 456.8h1v1h-1zM260.6 449.4h1v1h-1zM260.6 447.4h1v1h-1zM257.7 453.2h1v1h-1zM254.7 449.5h1v1h-1zM240.5 461.0h1v1h-1zM246.2 458.3h1v1h-1zM244.6 459.7h1v1h-1zM257.9 449.7h1v1h-1zM246.5 456.6h1v1h-1zM259.8 447.0h1v1h-1zM243.8 460.7h1v1h-1zM248.6 455.2h1v1h-1zM253.3 452.7h1v1h-1zM257.1 452.4h1v1h-1zM257.1 449.2h1v1h-1zM247.4 459.2h1v1h-1zM249.4 456.3h1v1h-1zM256.4 452.3h1v1h-1zM252.8 451.0h1v1h-1zM249.0 454.8h1v1h-1zM249.5 452.6h1v1h-1zM252.8 452.5h1v1h-1zM255.3 452.5h1v1h-1zM248.4 453.8h1v1h-1zM259.3 450.0h1v1h-1zM247.7 455.4h1v1h-1zM248.3 457.3h1v1h-1zM259.8 451.6h1v1h-1zM249.6 452.7h1v1h-1zM254.6 452.1h1v1h-1zM251.1 456.5h1v1h-1zM251.6 456.4h1v1h-1zM257.7 453.7h1v1h-1zM254.1 452.3h1v1h-1zM253.7 456.6h1v1h-1zM247.7 456.3h1v1h-1zM247.3 454.1h1v1h-1zM251.9 452.1h1v1h-1zM257.6 452.2h1v1h-1zM254.3 452.3h1v1h-1zM248.3 457.5h1v1h-1zM250.5 455.1h1v1h-1zM252.4 452.0h1v1h-1zM251.3 453.2h1v1h-1zM252.0 451.7h1v1h-1zM251.6 456.9h1v1h-1zM269.1 441.4h1v1h-1zM251.3 455.1h1v1h-1zM256.5 453.1h1v1h-1zM251.9 452.3h1v1h-1zM251.7 450.5h1v1h-1zM260.7 446.3h1v1h-1zM259.2 452.2h1v1h-1zM250.6 456.1h1v1h-1zM252.7 452.6h1v1h-1zM249.2 455.7h1v1h-1zM257.7 450.8h1v1h-1zM248.2 455.3h1v1h-1zM248.3 455.6h1v1h-1zM250.8 456.5h1v1h-1zM254.4 450.3h1v1h-1zM249.5 456.3h1v1h-1zM257.3 451.1h1v1h-1zM260.1 449.6h1v1h-1zM260.1 450.3h1v1h-1zM252.9 455.0h1v1h-1zM250.3 451.4h1v1h-1zM251.6 453.7h1v1h-1zM247.2 454.9h1v1h-1zM256.1 455.5h1v1h-1zM242.9 460.6h1v1h-1zM252.7 451.0h1v1h-1zM251.5 453.3h1v1h-1zM249.7 457.7h1v1h-1zM255.6 452.3h1v1h-1zM256.5 450.8h1v1h-1zM260.7 448.0h1v1h-1zM247.5 455.5h1v1h-1zM257.3 452.9h1v1h-1zM248.9 457.3h1v1h-1zM256.4 451.0h1v1h-1zM252.7 453.8h1v1h-1zM243.5 457.2h1v1h-1zM249.5 455.2h1v1h-1zM243.1 461.6h1v1h-1zM247.2 457.3h1v1h-1zM257.5 450.5h1v1h-1zM250.9 456.4h1v1h-1zM251.7 453.8h1v1h-1zM251.9 452.8h1v1h-1zM251.7 453.1h1v1h-1zM246.7 458.3h1v1h-1zM250.5 454.7h1v1h-1zM254.0 450.9h1v1h-1zM260.5 447.6h1v1h-1zM253.1 451.0h1v1h-1zM251.3 453.4h1v1h-1zM250.4 456.1h1v1h-1zM257.5 448.0h1v1h-1zM247.1 456.1h1v1h-1zM248.2 454.0h1v1h-1zM255.4 452.7h1v1h-1zM261.1 448.6h1v1h-1zM254.7 451.4h1v1h-1zM261.6 448.9h1v1h-1zM252.5 451.6h1v1h-1zM255.8 453.4h1v1h-1zM255.6 452.3h1v1h-1zM246.6 456.4h1v1h-1zM266.7 447.8h1v1h-1zM258.5 446.2h1v1h-1zM258.1 452.2h1v1h-1zM266.0 446.1h1v1h-1zM250.5 454.7h1v1h-1zM241.1 458.7h1v1h-1zM259.2 449.6h1v1h-1zM248.8 455.4h1v1h-1zM254.5 449.0h1v1h-1zM250.1 454.2h1v1h-1zM253.2 453.7h1v1h-1zM261.8 447.1h1v1h-1zM247.6 458.1h1v1h-1zM261.3 449.2h1v1h-1zM254.3 454.2h1v1h-1zM252.1 452.5h1v1h-1zM264.8 449.2h1v1h-1zM249.0 456.7h1v1h-1zM252.2 452.0h1v1h-1zM252.9 455.4h1v1h-1zM257.5 449.7h1v1h-1zM259.3 447.8h1v1h-1zM258.5 451.5h1v1h-1zM252.7 454.0h1v1h-1zM262.9 448.4h1v1h-1zM260.9 450.7h1v1h-1zM253.7 453.1h1v1h-1zM259.5 447.4h1v1h-1zM251.7 453.5h1v1h-1zM271.2 444.2h1v1h-1zM249.6 452.9h1v1h-1zM252.3 455.2h1v1h-1zM258.4 452.6h1v1h-1zM256.8 452.8h1v1h-1zM252.1 451.3h1v1h-1zM254.9 448.9h1v1h-1zM251.3 454.3h1v1h-1zM249.9 457.9h1v1h-1zM256.8 447.9h1v1h-1zM249.1 455.4h1v1h-1zM255.9 452.8h1v1h-1zM257.1 449.5h1v1h-1zM250.4 450.4h1v1h-1zM254.2 448.3h1v1h-1zM261.3 447.7h1v1h-1zM263.0 446.0h1v1h-1zM258.3 452.0h1v1h-1zM254.5 451.6h1v1h-1zM255.9 449.6h1v1h-1zM251.0 453.9h1v1h-1zM261.2 449.4h1v1h-1zM250.2 456.3h1v1h-1zM253.4 452.2h1v1h-1zM241.3 459.4h1v1h-1zM257.3 452.4h1v1h-1zM250.9 453.1h1v1h-1zM260.2 447.4h1v1h-1zM255.0 449.6h1v1h-1zM256.7 448.8h1v1h-1zM259.6 448.4h1v1h-1zM247.5 453.1h1v1h-1zM255.8 451.6h1v1h-1zM261.7 444.8h1v1h-1zM255.5 451.4h1v1h-1zM263.4 449.6h1v1h-1zM245.0 454.6h1v1h-1zM251.5 453.1h1v1h-1zM256.6 452.1h1v1h-1zM255.5 450.5h1v1h-1zM261.0 446.3h1v1h-1zM254.4 451.2h1v1h-1zM246.3 455.8h1v1h-1zM262.2 446.3h1v1h-1zM248.6 456.1h1v1h-1zM250.7 455.1h1v1h-1zM246.0 455.3h1v1h-1zM245.4 458.8h1v1h-1zM255.0 451.1h1v1h-1zM262.6 448.9h1v1h-1zM255.7 451.1h1v1h-1zM258.4 447.6h1v1h-1zM249.5 457.6h1v1h-1zM243.7 457.7h1v1h-1zM258.2 451.2h1v1h-1zM258.5 449.8h1v1h-1zM249.7 459.4h1v1h-1zM255.2 450.7h1v1h-1zM261.4 450.8h1v1h-1zM254.7 452.3h1v1h-1zM245.1 456.8h1v1h-1zM248.3 456.7h1v1h-1zM257.2 449.1h1v1h-1zM252.2 454.1h1v1h-1zM254.8 448.9h1v1h-1zM254.2 451.0h1v1h-1zM250.2 455.4h1v1h-1zM254.9 452.0h1v1h-1zM255.0 449.3h1v1h-1zM266.1 446.0h1v1h-1zM242.9 458.4h1v1h-1zM261.2 447.3h1v1h-1zM248.1 453.4h1v1h-1zM251.6 453.7h1v1h-1zM246.7 457.5h1v1h-1zM257.2 453.5h1v1h-1zM251.7 452.3h1v1h-1zM254.0 450.9h1v1h-1zM258.6 450.3h1v1h-1zM249.9 460.8h1v1h-1zM253.4 455.9h1v1h-1zM251.4 454.5h1v1h-1zM249.9 456.5h1v1h-1zM254.3 448.5h1v1h-1zM261.5 447.0h1v1h-1zM254.5 453.8h1v1h-1zM255.3 451.3h1v1h-1zM252.4 453.8h1v1h-1zM258.5 450.4h1v1h-1zM261.8 447.7h1v1h-1zM261.3 445.7h1v1h-1zM249.7 453.6h1v1h-1zM254.7 453.4h1v1h-1zM252.7 454.4h1v1h-1zM248.4 457.5h1v1h-1zM253.3 450.5h1v1h-1zM258.7 448.9h1v1h-1zM247.4 453.9h1v1h-1zM247.4 455.7h1v1h-1zM248.8 454.5h1v1h-1zM257.8 449.2h1v1h-1zM249.5 452.0h1v1h-1zM262.8 447.3h1v1h-1zM257.4 450.5h1v1h-1zM257.8 449.0h1v1h-1zM253.4 452.5h1v1h-1zM250.0 454.8h1v1h-1zM262.1 447.4h1v1h-1zM255.0 448.9h1v1h-1zM244.0 456.0h1v1h-1zM262.8 449.3h1v1h-1zM262.6 445.3h1v1h-1zM254.8 453.6h1v1h-1zM255.2 455.0h1v1h-1zM249.8 454.2h1v1h-1zM254.5 454.1h1v1h-1zM263.5 449.2h1v1h-1zM248.3 453.5h1v1h-1zM255.6 452.8h1v1h-1zM242.5 458.9h1v1h-1zM254.0 456.2h1v1h-1zM253.0 452.9h1v1h-1zM251.0 455.9h1v1h-1zM249.7 455.9h1v1h-1zM245.4 455.9h1v1h-1zM246.9 455.4h1v1h-1zM259.4 449.3h1v1h-1zM262.4 449.1h1v1h-1zM246.9 457.7h1v1h-1zM253.1 451.2h1v1h-1zM249.7 452.2h1v1h-1zM249.4 458.2h1v1h-1zM253.4 451.0h1v1h-1zM246.9 460.4h1v1h-1zM249.8 454.2h1v1h-1zM251.3 455.1h1v1h-1zM253.7 450.9h1v1h-1zM267.0 446.9h1v1h-1zM252.9 452.0h1v1h-1zM249.7 454.3h1v1h-1zM253.3 454.3h1v1h-1zM253.7 450.2h1v1h-1zM254.9 453.4h1v1h-1zM248.3 457.8h1v1h-1zM249.4 457.9h1v1h-1zM259.4 448.8h1v1h-1zM256.4 451.5h1v1h-1zM253.0 451.9h1v1h-1zM253.7 453.6h1v1h-1zM258.2 450.4h1v1h-1zM247.6 456.8h1v1h-1zM256.6 450.6h1v1h-1zM248.4 454.2h1v1h-1zM258.5 451.5h1v1h-1zM262.7 450.6h1v1h-1zM263.8 444.1h1v1h-1zM260.7 448.3h1v1h-1zM255.1 452.4h1v1h-1zM250.8 453.9h1v1h-1zM257.7 451.9h1v1h-1zM253.2 449.9h1v1h-1zM250.8 454.6h1v1h-1zM256.8 451.8h1v1h-1zM261.2 447.9h1v1h-1zM252.3 453.2h1v1h-1zM248.8 456.1h1v1h-1zM248.4 454.0h1v1h-1zM248.1 455.6h1v1h-1zM248.2 453.4h1v1h-1zM249.4 457.2h1v1h-1zM254.0 451.6h1v1h-1zM251.8 452.2h1v1h-1zM255.5 451.8h1v1h-1zM244.9 461.2h1v1h-1zM250.2 453.0h1v1h-1zM245.9 455.5h1v1h-1zM251.1 455.8h1v1h-1zM249.9 454.9h1v1h-1zM249.0 457.1h1v1h-1zM250.8 457.0h1v1h-1zM258.6 450.2h1v1h-1zM263.5 449.6h1v1h-1zM248.5 458.2h1v1h-1zM249.6 456.4h1v1h-1zM248.7 456.5h1v1h-1zM249.8 451.1h1v1h-1zM255.2 449.7h1v1h-1zM251.8 457.0h1v1h-1zM249.3 455.0h1v1h-1zM248.4 453.8h1v1h-1zM246.4 460.6h1v1h-1zM250.7 454.1h1v1h-1zM255.9 451.4h1v1h-1zM258.0 451.7h1v1h-1zM262.3 443.1h1v1h-1zM256.0 455.4h1v1h-1zM245.4 459.1h1v1h-1zM262.4 446.5h1v1h-1zM257.4 452.8h1v1h-1zM260.2 446.1h1v1h-1zM261.0 446.6h1v1h-1zM248.0 451.0h1v1h-1zM256.7 452.4h1v1h-1zM250.7 454.5h1v1h-1zM253.0 450.4h1v1h-1zM249.8 453.5h1v1h-1zM245.5 455.5h1v1h-1zM254.3 453.1h1v1h-1zM255.5 451.8h1v1h-1zM249.0 456.9h1v1h-1zM254.7 452.0h1v1h-1zM255.7 447.2h1v1h-1zM253.5 452.3h1v1h-1zM247.8 454.8h1v1h-1zM257.6 455.5h1v1h-1zM257.2 451.9h1v1h-1zM255.6 453.0h1v1h-1zM251.5 452.7h1v1h-1zM255.3 451.0h1v1h-1zM252.5 454.1h1v1h-1zM254.4 450.1h1v1h-1zM256.9 449.2h1v1h-1zM250.3 451.3h1v1h-1zM254.0 452.2h1v1h-1zM258.2 448.2h1v1h-1zM256.5 449.9h1v1h-1zM253.9 452.0h1v1h-1zM259.5 448.7h1v1h-1zM254.1 450.3h1v1h-1zM247.2 453.2h1v1h-1zM249.6 454.0h1v1h-1zM256.9 454.5h1v1h-1zM260.3 448.1h1v1h-1zM262.0 444.3h1v1h-1zM250.0 456.2h1v1h-1zM252.6 452.8h1v1h-1zM259.5 447.0h1v1h-1zM248.4 456.8h1v1h-1zM241.4 459.1h1v1h-1zM266.5 446.9h1v1h-1zM250.5 452.0h1v1h-1zM248.9 458.9h1v1h-1zM252.3 452.6h1v1h-1zM250.9 451.2h1v1h-1zM255.1 451.6h1v1h-1zM250.7 457.3h1v1h-1zM241.8 461.1h1v1h-1zM260.3 450.2h1v1h-1zM251.9 456.0h1v1h-1zM254.4 450.2h1v1h-1zM260.6 445.5h1v1h-1zM251.8 456.0h1v1h-1zM251.7 454.3h1v1h-1zM255.3 452.0h1v1h-1zM258.3 448.7h1v1h-1zM248.4 455.0h1v1h-1zM255.1 454.0h1v1h-1zM258.8 449.1h1v1h-1zM253.8 451.3h1v1h-1zM251.4 455.4h1v1h-1zM260.9 450.7h1v1h-1zM258.5 451.0h1v1h-1zM251.3 453.1h1v1h-1zM249.9 456.1h1v1h-1zM253.6 455.3h1v1h-1zM249.0 456.7h1v1h-1zM256.3 450.6h1v1h-1zM257.2 449.5h1v1h-1zM253.6 452.9h1v1h-1zM251.1 453.9h1v1h-1zM257.3 451.1h1v1h-1zM252.3 455.8h1v1h-1zM255.8 450.8h1v1h-1zM258.4 450.7h1v1h-1zM262.0 449.8h1v1h-1zM261.1 445.0h1v1h-1zM255.0 452.8h1v1h-1zM247.5 454.2h1v1h-1zM252.5 453.6h1v1h-1zM256.1 449.5h1v1h-1zM253.9 454.3h1v1h-1zM250.6 451.7h1v1h-1zM248.2 454.6h1v1h-1zM263.0 448.1h1v1h-1zM259.3 449.6h1v1h-1zM253.1 452.4h1v1h-1zM256.4 454.8h1v1h-1zM244.9 454.9h1v1h-1zM251.2 453.8h1v1h-1zM258.2 448.4h1v1h-1zM256.4 453.4h1v1h-1zM253.7 452.2h1v1h-1zM260.0 449.7h1v1h-1zM258.9 450.7h1v1h-1zM249.1 455.9h1v1h-1zM262.6 448.3h1v1h-1zM242.9 461.5h1v1h-1zM246.5 456.1h1v1h-1zM254.3 449.1h1v1h-1zM253.2 452.5h1v1h-1zM252.2 452.2h1v1h-1zM254.3 451.4h1v1h-1zM253.7 452.0h1v1h-1zM258.7 449.7h1v1h-1zM256.0 452.9h1v1h-1zM249.0 454.3h1v1h-1zM250.8 456.4h1v1h-1zM243.3 458.3h1v1h-1zM254.4 451.1h1v1h-1zM249.2 455.6h1v1h-1zM243.3 461.7h1v1h-1zM257.3 450.4h1v1h-1zM255.7 450.5h1v1h-1zM252.4 452.8h1v1h-1zM237.7 464.8h1v1h-1zM254.9 454.4h1v1h-1zM242.6 456.0h1v1h-1zM250.6 454.4h1v1h-1zM249.1 454.9h1v1h-1zM255.5 454.1h1v1h-1zM254.2 450.5h1v1h-1zM257.9 449.1h1v1h-1zM250.8 453.8h1v1h-1zM255.9 450.3h1v1h-1zM251.1 455.1h1v1h-1zM256.8 452.8h1v1h-1zM253.0 452.0h1v1h-1zM261.6 442.5h1v1h-1zM261.4 445.7h1v1h-1zM249.0 454.0h1v1h-1zM247.4 457.9h1v1h-1zM259.1 451.9h1v1h-1zM250.1 454.3h1v1h-1zM252.8 454.4h1v1h-1zM261.1 448.7h1v1h-1zM251.8 454.4h1v1h-1zM256.6 452.0h1v1h-1zM252.4 454.0h1v1h-1zM260.8 449.0h1v1h-1zM255.4 448.8h1v1h-1zM252.6 452.1h1v1h-1zM233.2 469.0h1v1h-1zM258.4 452.0h1v1h-1zM251.9 455.0h1v1h-1zM249.3 457.7h1v1h-1zM239.7 458.7h1v1h-1zM254.7 450.5h1v1h-1zM254.1 451.6h1v1h-1zM255.2 449.5h1v1h-1zM244.5 461.0h1v1h-1zM247.4 454.0h1v1h-1zM256.3 450.5h1v1h-1zM245.8 456.7h1v1h-1zM238.8 460.8h1v1h-1zM254.4 453.7h1v1h-1zM253.4 451.9h1v1h-1zM255.5 453.9h1v1h-1zM251.1 454.5h1v1h-1zM259.8 447.1h1v1h-1zM253.1 452.0h1v1h-1zM254.3 452.1h1v1h-1zM251.6 452.3h1v1h-1zM250.9 454.4h1v1h-1zM256.8 452.6h1v1h-1zM252.8 451.1h1v1h-1zM251.1 455.0h1v1h-1zM251.0 454.5h1v1h-1zM254.5 452.5h1v1h-1zM261.8 447.0h1v1h-1zM249.6 455.9h1v1h-1zM244.0 457.2h1v1h-1zM254.2 455.4h1v1h-1zM266.2 444.8h1v1h-1zM247.3 458.4h1v1h-1zM254.0 453.1h1v1h-1zM263.1 445.3h1v1h-1zM253.5 454.7h1v1h-1zM250.9 451.4h1v1h-1zM247.7 456.7h1v1h-1zM259.5 450.8h1v1h-1zM251.4 452.3h1v1h-1zM247.3 460.3h1v1h-1zM253.8 452.2h1v1h-1zM259.2 447.3h1v1h-1zM244.9 458.9h1v1h-1zM260.3 446.5h1v1h-1zM247.9 458.2h1v1h-1zM239.8 457.1h1v1h-1zM245.0 459.9h1v1h-1zM252.4 453.5h1v1h-1zM260.1 449.1h1v1h-1zM255.5 452.1h1v1h-1zM258.6 447.0h1v1h-1zM250.6 456.2h1v1h-1zM252.8 456.4h1v1h-1zM252.8 453.1h1v1h-1zM246.3 455.4h1v1h-1zM254.3 448.2h1v1h-1zM261.5 448.3h1v1h-1zM252.5 454.5h1v1h-1zM255.7 451.4h1v1h-1zM253.0 453.4h1v1h-1zM255.6 453.5h1v1h-1zM256.0 452.6h1v1h-1zM250.1 454.4h1v1h-1zM257.5 450.0h1v1h-1zM256.0 453.6h1v1h-1zM260.9 449.7h1v1h-1zM261.2 448.5h1v1h-1zM258.0 449.6h1v1h-1zM259.1 447.9h1v1h-1zM254.7 453.1h1v1h-1zM254.0 453.8h1v1h-1zM257.5 450.7h1v1h-1zM258.8 446.9h1v1h-1zM255.2 451.0h1v1h-1zM249.1 451.9h1v1h-1zM268.9 443.8h1v1h-1zM247.3 456.6h1v1h-1zM245.6 459.4h1v1h-1zM258.8 449.8h1v1h-1zM260.4 446.3h1v1h-1zM248.2 455.0h1v1h-1zM251.1 453.3h1v1h-1zM249.3 454.4h1v1h-1zM251.4 456.9h1v1h-1zM262.0 448.0h1v1h-1zM255.4 451.0h1v1h-1zM251.6 454.3h1v1h-1zM254.4 451.8h1v1h-1zM246.2 458.4h1v1h-1zM259.3 450.4h1v1h-1zM253.0 454.0h1v1h-1zM261.2 446.4h1v1h-1zM254.6 453.0h1v1h-1zM248.3 455.6h1v1h-1zM258.2 449.2h1v1h-1zM254.2 453.4h1v1h-1zM255.0 449.7h1v1h-1zM261.0 452.0h1v1h-1zM246.0 454.8h1v1h-1zM244.8 457.5h1v1h-1zM249.8 454.9h1v1h-1zM254.1 452.6h1v1h-1zM253.0 450.9h1v1h-1zM240.1 463.3h1v1h-1zM257.5 451.2h1v1h-1zM252.8 451.7h1v1h-1zM254.7 452.3h1v1h-1zM254.3 451.1h1v1h-1zM253.4 455.2h1v1h-1zM253.1 454.7h1v1h-1zM241.6 455.7h1v1h-1zM258.8 447.1h1v1h-1zM254.6 449.9h1v1h-1zM245.6 459.1h1v1h-1zM256.4 447.7h1v1h-1zM243.1 461.0h1v1h-1zM252.4 455.3h1v1h-1zM256.9 450.1h1v1h-1zM255.0 454.8h1v1h-1zM257.0 450.2h1v1h-1zM259.1 449.1h1v1h-1zM259.8 448.6h1v1h-1zM255.3 452.0h1v1h-1zM250.0 454.5h1v1h-1zM248.3 453.5h1v1h-1zM262.9 446.6h1v1h-1zM251.8 455.6h1v1h-1zM249.5 456.3h1v1h-1zM255.6 454.3h1v1h-1zM253.6 452.8h1v1h-1zM248.7 455.6h1v1h-1zM254.8 451.3h1v1h-1zM256.2 453.6h1v1h-1zM255.6 452.8h1v1h-1zM266.4 446.5h1v1h-1zM257.7 450.2h1v1h-1zM254.6 454.9h1v1h-1zM255.3 450.8h1v1h-1zM251.8 455.1h1v1h-1zM252.6 453.9h1v1h-1zM252.7 449.3h1v1h-1zM258.2 449.9h1v1h-1zM253.4 452.1h1v1h-1zM256.3 451.4h1v1h-1zM251.8 451.9h1v1h-1zM250.1 455.2h1v1h-1zM251.5 457.9h1v1h-1zM244.6 462.0h1v1h-1zM253.6 454.7h1v1h-1zM252.7 450.8h1v1h-1zM252.3 454.5h1v1h-1zM255.1 453.5h1v1h-1zM242.9 460.4h1v1h-1zM256.0 449.4h1v1h-1zM249.0 456.3h1v1h-1zM256.2 451.8h1v1h-1zM252.4 452.4h1v1h-1zM256.8 451.2h1v1h-1zM249.7 453.1h1v1h-1zM261.4 448.9h1v1h-1zM248.8 456.0h1v1h-1zM246.2 458.1h1v1h-1zM264.3 444.7h1v1h-1zM254.0 452.6h1v1h-1zM255.8 450.7h1v1h-1zM242.1 459.1h1v1h-1zM248.0 456.7h1v1h-1zM252.9 452.5h1v1h-1zM256.9 453.2h1v1h-1zM254.9 450.8h1v1h-1zM256.8 450.3h1v1h-1zM254.3 452.6h1v1h-1zM249.8 454.0h1v1h-1zM260.4 445.9h1v1h-1zM254.9 454.4h1v1h-1zM248.8 451.5h1v1h-1zM258.0 451.6h1v1h-1zM257.1 449.5h1v1h-1zM253.3 452.6h1v1h-1zM252.5 452.5h1v1h-1zM255.4 452.0h1v1h-1zM257.7 448.3h1v1h-1zM248.8 454.9h1v1h-1zM258.0 451.6h1v1h-1zM254.8 453.9h1v1h-1zM249.7 456.4h1v1h-1zM250.6 453.3h1v1h-1zM246.7 455.8h1v1h-1zM252.3 453.5h1v1h-1zM248.5 452.8h1v1h-1zM246.1 457.3h1v1h-1zM258.8 445.0h1v1h-1zM255.1 450.4h1v1h-1zM254.8 453.9h1v1h-1zM254.5 447.9h1v1h-1zM257.5 453.2h1v1h-1zM249.0 455.3h1v1h-1zM246.1 460.2h1v1h-1zM254.5 454.3h1v1h-1zM256.5 452.3h1v1h-1zM259.3 451.2h1v1h-1zM260.2 447.3h1v1h-1zM245.8 456.5h1v1h-1zM252.8 452.3h1v1h-1zM245.8 459.3h1v1h-1zM258.3 453.8h1v1h-1zM254.0 451.9h1v1h-1zM249.3 457.2h1v1h-1zM260.8 450.4h1v1h-1zM247.2 458.5h1v1h-1zM251.5 456.4h1v1h-1zM250.8 453.8h1v1h-1zM245.0 457.1h1v1h-1zM254.9 452.1h1v1h-1zM251.8 453.9h1v1h-1zM257.6 450.3h1v1h-1zM254.1 452.0h1v1h-1zM255.5 451.6h1v1h-1zM248.7 457.6h1v1h-1zM256.0 451.4h1v1h-1zM244.8 457.5h1v1h-1zM251.4 456.3h1v1h-1zM248.2 455.4h1v1h-1zM260.6 452.0h1v1h-1zM253.3 450.9h1v1h-1zM255.5 452.1h1v1h-1zM252.3 453.9h1v1h-1zM252.6 449.7h1v1h-1zM250.6 453.4h1v1h-1zM252.7 451.9h1v1h-1zM256.7 452.0h1v1h-1zM251.2 456.5h1v1h-1zM256.4 450.4h1v1h-1zM257.8 448.7h1v1h-1zM265.6 443.7h1v1h-1zM254.3 453.7h1v1h-1zM253.1 450.7h1v1h-1zM260.8 447.9h1v1h-1zM254.0 452.0h1v1h-1zM247.0 455.7h1v1h-1zM256.2 451.5h1v1h-1zM258.6 452.8h1v1h-1zM251.8 449.6h1v1h-1zM252.7 452.0h1v1h-1zM248.5 452.1h1v1h-1zM265.1 443.5h1v1h-1zM248.9 454.2h1v1h-1zM250.8 454.1h1v1h-1zM251.3 454.3h1v1h-1zM256.3 453.1h1v1h-1zM251.1 449.4h1v1h-1zM252.2 461.2h1v1h-1zM254.5 453.4h1v1h-1zM258.4 450.6h1v1h-1zM242.9 456.9h1v1h-1zM256.5 450.1h1v1h-1zM254.2 457.7h1v1h-1zM257.5 453.9h1v1h-1zM245.8 456.5h1v1h-1zM249.7 456.2h1v1h-1zM250.8 455.7h1v1h-1zM239.2 464.5h1v1h-1zM249.0 457.0h1v1h-1zM245.0 458.3h1v1h-1zM250.3 456.4h1v1h-1zM246.9 456.2h1v1h-1zM264.1 448.8h1v1h-1zM247.3 453.6h1v1h-1zM258.9 450.8h1v1h-1zM244.6 459.8h1v1h-1zM255.4 453.2h1v1h-1zM259.4 452.2h1v1h-1zM249.5 453.4h1v1h-1zM254.9 450.5h1v1h-1zM259.6 447.1h1v1h-1zM258.9 448.3h1v1h-1zM250.5 457.3h1v1h-1zM249.8 455.8h1v1h-1zM250.9 453.0h1v1h-1zM249.3 457.0h1v1h-1zM251.3 452.8h1v1h-1zM252.7 455.2h1v1h-1zM252.3 455.0h1v1h-1zM254.0 455.0h1v1h-1zM248.7 455.7h1v1h-1zM245.0 459.4h1v1h-1zM258.7 451.5h1v1h-1zM246.7 457.0h1v1h-1zM253.7 453.6h1v1h-1zM261.3 449.9h1v1h-1zM247.1 454.4h1v1h-1zM254.7 449.2h1v1h-1zM245.9 456.3h1v1h-1zM250.3 455.1h1v1h-1zM256.0 448.3h1v1h-1zM248.9 452.0h1v1h-1zM259.3 447.7h1v1h-1zM262.9 446.1h1v1h-1zM253.9 453.8h1v1h-1zM258.9 448.8h1v1h-1zM252.5 452.8h1v1h-1zM252.0 454.3h1v1h-1zM249.7 454.1h1v1h-1zM246.8 456.8h1v1h-1zM251.6 453.7h1v1h-1zM253.6 451.0h1v1h-1zM246.4 458.7h1v1h-1zM256.8 448.3h1v1h-1zM256.2 454.4h1v1h-1zM244.6 460.2h1v1h-1zM252.8 451.3h1v1h-1zM258.1 451.3h1v1h-1zM245.6 456.9h1v1h-1zM249.7 454.3h1v1h-1zM248.5 454.5h1v1h-1zM258.0 448.3h1v1h-1zM255.5 453.8h1v1h-1zM256.0 453.4h1v1h-1zM258.0 454.5h1v1h-1zM252.0 456.7h1v1h-1zM255.0 451.3h1v1h-1zM257.4 451.5h1v1h-1zM254.2 453.3h1v1h-1zM255.3 450.9h1v1h-1zM250.9 456.1h1v1h-1zM248.5 455.5h1v1h-1zM251.3 454.7h1v1h-1zM254.4 452.3h1v1h-1zM253.9 453.0h1v1h-1zM251.9 454.3h1v1h-1zM258.6 451.1h1v1h-1zM244.0 460.3h1v1h-1zM246.9 458.6h1v1h-1zM249.7 458.0h1v1h-1zM251.2 454.1h1v1h-1zM241.0 461.5h1v1h-1zM248.4 459.1h1v1h-1zM251.8 452.0h1v1h-1zM253.5 455.3h1v1h-1zM249.9 457.8h1v1h-1zM251.3 452.7h1v1h-1zM246.9 455.7h1v1h-1zM251.9 455.6h1v1h-1zM254.4 453.1h1v1h-1zM252.3 453.0h1v1h-1zM251.3 456.3h1v1h-1zM254.3 450.1h1v1h-1zM250.6 453.7h1v1h-1zM254.2 453.8h1v1h-1zM250.8 456.6h1v1h-1zM259.7 450.6h1v1h-1zM246.5 455.4h1v1h-1zM249.1 457.9h1v1h-1zM258.8 446.7h1v1h-1zM246.8 456.6h1v1h-1zM249.4 457.8h1v1h-1zM258.1 449.9h1v1h-1zM258.8 450.8h1v1h-1zM254.8 449.6h1v1h-1zM254.1 451.5h1v1h-1zM246.1 460.2h1v1h-1zM254.4 452.6h1v1h-1zM260.0 448.6h1v1h-1zM250.7 450.0h1v1h-1zM258.3 451.9h1v1h-1zM252.1 454.3h1v1h-1zM244.3 457.3h1v1h-1zM258.3 451.3h1v1h-1zM254.4 452.9h1v1h-1zM250.5 451.9h1v1h-1zM244.5 459.5h1v1h-1zM249.2 457.4h1v1h-1zM251.9 452.4h1v1h-1zM253.7 450.2h1v1h-1zM257.8 448.8h1v1h-1zM248.9 457.5h1v1h-1zM258.7 446.8h1v1h-1zM248.5 451.9h1v1h-1zM256.2 452.6h1v1h-1zM250.0 457.1h1v1h-1zM247.2 456.1h1v1h-1zM253.7 454.3h1v1h-1zM257.4 448.1h1v1h-1zM252.2 455.2h1v1h-1zM248.9 456.8h1v1h-1zM259.8 448.1h1v1h-1zM256.9 451.3h1v1h-1zM263.1 449.7h1v1h-1zM244.9 457.1h1v1h-1zM260.5 449.6h1v1h-1zM250.9 455.6h1v1h-1zM240.7 457.8h1v1h-1zM252.6 456.6h1v1h-1zM259.5 448.7h1v1h-1zM257.9 452.6h1v1h-1zM252.9 451.0h1v1h-1zM252.1 454.5h1v1h-1zM251.7 455.8h1v1h-1zM246.8 458.6h1v1h-1zM254.5 450.4h1v1h-1zM253.4 453.8h1v1h-1zM258.5 451.2h1v1h-1zM261.0 451.6h1v1h-1zM256.4 450.1h1v1h-1zM248.9 453.5h1v1h-1zM244.7 455.3h1v1h-1zM253.0 451.0h1v1h-1zM254.6 454.3h1v1h-1zM264.1 449.5h1v1h-1zM258.5 450.4h1v1h-1zM258.7 450.6h1v1h-1zM257.5 454.2h1v1h-1zM261.9 450.5h1v1h-1zM248.4 455.2h1v1h-1zM250.7 454.0h1v1h-1zM244.6 458.0h1v1h-1zM250.4 452.5h1v1h-1zM251.1 454.0h1v1h-1zM252.4 452.3h1v1h-1zM250.3 454.1h1v1h-1zM251.3 458.0h1v1h-1zM245.7 453.7h1v1h-1zM256.8 451.6h1v1h-1zM256.9 450.4h1v1h-1zM251.3 451.5h1v1h-1zM256.4 451.3h1v1h-1zM250.4 456.6h1v1h-1zM247.5 455.2h1v1h-1zM254.0 447.4h1v1h-1zM254.1 453.2h1v1h-1zM256.1 452.3h1v1h-1zM255.3 450.2h1v1h-1zM248.5 455.4h1v1h-1zM264.9 447.3h1v1h-1zM256.9 453.1h1v1h-1zM250.1 456.6h1v1h-1zM255.5 454.1h1v1h-1zM254.3 453.6h1v1h-1zM257.3 449.1h1v1h-1zM255.6 451.6h1v1h-1zM247.2 457.9h1v1h-1zM254.4 450.7h1v1h-1zM255.5 451.0h1v1h-1zM256.3 452.0h1v1h-1zM263.3 445.9h1v1h-1zM250.7 455.5h1v1h-1zM254.7 451.7h1v1h-1zM243.4 456.1h1v1h-1zM254.2 453.5h1v1h-1zM259.0 452.0h1v1h-1zM252.0 457.3h1v1h-1zM252.7 452.8h1v1h-1zM261.6 449.4h1v1h-1zM251.3 454.5h1v1h-1zM256.5 451.8h1v1h-1zM257.6 448.9h1v1h-1zM251.0 455.9h1v1h-1zM246.0 459.2h1v1h-1zM248.5 454.4h1v1h-1zM260.3 449.1h1v1h-1zM241.0 463.1h1v1h-1zM248.9 456.7h1v1h-1zM247.3 457.2h1v1h-1zM256.4 450.4h1v1h-1zM247.1 454.3h1v1h-1zM255.1 453.1h1v1h-1zM252.3 453.3h1v1h-1zM254.6 450.2h1v1h-1zM259.4 449.5h1v1h-1zM255.5 451.6h1v1h-1zM248.8 455.1h1v1h-1zM249.0 454.6h1v1h-1zM252.9 454.6h1v1h-1zM266.2 444.3h1v1h-1zM253.7 452.7h1v1h-1zM246.2 456.5h1v1h-1zM261.7 445.3h1v1h-1zM259.3 451.8h1v1h-1zM249.5 453.3h1v1h-1zM258.8 449.1h1v1h-1zM253.7 451.3h1v1h-1zM253.9 451.7h1v1h-1zM239.1 459.5h1v1h-1zM252.1 451.9h1v1h-1zM253.2 453.2h1v1h-1zM263.4 451.6h1v1h-1zM251.7 457.8h1v1h-1zM252.8 450.0h1v1h-1zM261.5 449.9h1v1h-1zM248.9 459.8h1v1h-1zM251.9 453.5h1v1h-1zM255.2 453.4h1v1h-1zM260.5 452.1h1v1h-1zM253.3 452.6h1v1h-1zM255.6 451.3h1v1h-1zM248.6 460.2h1v1h-1zM248.9 454.7h1v1h-1zM248.9 457.7h1v1h-1zM259.4 446.7h1v1h-1zM258.8 450.5h1v1h-1zM251.0 456.9h1v1h-1zM257.2 448.9h1v1h-1zM244.5 456.6h1v1h-1zM254.0 455.3h1v1h-1zM258.7 451.9h1v1h-1zM252.1 452.9h1v1h-1zM247.0 458.5h1v1h-1zM255.2 452.3h1v1h-1zM255.2 449.8h1v1h-1zM256.5 454.7h1v1h-1zM259.1 447.4h1v1h-1zM260.6 450.4h1v1h-1zM252.4 453.9h1v1h-1zM256.6 450.9h1v1h-1zM256.8 452.3h1v1h-1zM247.5 455.4h1v1h-1zM251.1 452.9h1v1h-1zM242.9 457.7h1v1h-1zM244.8 458.0h1v1h-1zM246.7 458.4h1v1h-1zM248.8 455.2h1v1h-1zM254.4 452.6h1v1h-1zM256.4 452.6h1v1h-1zM249.6 452.9h1v1h-1zM248.4 456.0h1v1h-1zM252.6 456.7h1v1h-1zM254.4 454.0h1v1h-1zM250.9 456.6h1v1h-1zM259.9 452.5h1v1h-1zM264.1 449.1h1v1h-1zM245.8 458.7h1v1h-1zM253.9 451.9h1v1h-1zM251.5 451.5h1v1h-1zM250.5 456.6h1v1h-1zM259.6 448.5h1v1h-1zM248.1 455.1h1v1h-1zM256.6 449.6h1v1h-1zM254.1 453.3h1v1h-1zM250.2 457.4h1v1h-1zM258.4 450.8h1v1h-1zM254.5 454.0h1v1h-1zM249.6 454.6h1v1h-1zM250.0 451.9h1v1h-1zM258.6 452.8h1v1h-1zM256.4 449.1h1v1h-1zM247.3 455.8h1v1h-1zM262.3 448.4h1v1h-1zM244.1 457.7h1v1h-1zM251.5 451.2h1v1h-1zM266.3 445.3h1v1h-1zM248.4 453.7h1v1h-1zM251.1 451.7h1v1h-1zM253.5 449.8h1v1h-1zM253.5 450.2h1v1h-1zM246.8 456.3h1v1h-1zM261.6 446.6h1v1h-1zM254.8 451.8h1v1h-1zM256.0 454.8h1v1h-1zM260.8 450.8h1v1h-1zM258.4 450.0h1v1h-1zM258.6 451.5h1v1h-1zM264.4 448.0h1v1h-1zM257.5 446.6h1v1h-1zM255.1 452.3h1v1h-1zM254.0 451.7h1v1h-1zM254.1 451.3h1v1h-1zM257.3 448.9h1v1h-1zM258.3 452.0h1v1h-1zM255.0 452.0h1v1h-1zM239.6 462.0h1v1h-1zM264.2 446.5h1v1h-1zM258.4 451.9h1v1h-1zM245.5 456.7h1v1h-1zM249.3 453.7h1v1h-1zM260.1 450.4h1v1h-1zM240.1 459.9h1v1h-1zM257.5 451.3h1v1h-1zM256.1 450.8h1v1h-1zM249.2 458.4h1v1h-1zM251.6 458.5h1v1h-1zM250.7 455.3h1v1h-1zM254.6 452.8h1v1h-1zM247.7 455.8h1v1h-1zM249.2 454.1h1v1h-1zM249.6 453.7h1v1h-1zM260.2 451.6h1v1h-1zM257.1 452.5h1v1h-1zM251.0 456.9h1v1h-1zM253.7 452.1h1v1h-1zM255.4 449.5h1v1h-1zM258.5 449.5h1v1h-1zM252.1 454.4h1v1h-1zM256.9 450.5h1v1h-1zM253.6 454.3h1v1h-1zM261.4 448.7h1v1h-1zM249.9 455.4h1v1h-1zM263.6 447.9h1v1h-1zM257.6 449.7h1v1h-1zM259.3 447.9h1v1h-1zM259.3 448.7h1v1h-1zM249.8 454.2h1v1h-1zM254.1 450.4h1v1h-1zM248.2 454.5h1v1h-1zM254.1 453.9h1v1h-1zM251.1 456.1h1v1h-1zM251.9 455.6h1v1h-1zM251.9 455.5h1v1h-1zM249.0 453.1h1v1h-1zM261.6 449.3h1v1h-1zM250.3 455.0h1v1h-1zM254.3 452.3h1v1h-1zM248.6 457.3h1v1h-1zM257.9 447.5h1v1h-1zM253.1 453.2h1v1h-1zM245.6 457.1h1v1h-1zM258.1 450.0h1v1h-1zM253.3 452.1h1v1h-1zM245.1 458.1h1v1h-1zM255.5 454.7h1v1h-1zM259.4 451.1h1v1h-1zM250.9 453.0h1v1h-1zM246.6 459.8h1v1h-1zM249.8 451.6h1v1h-1zM252.4 454.2h1v1h-1zM245.5 458.2h1v1h-1zM250.9 453.3h1v1h-1zM256.0 452.4h1v1h-1zM250.0 453.6h1v1h-1zM254.6 451.6h1v1h-1zM248.1 455.8h1v1h-1zM257.6 452.5h1v1h-1zM255.0 453.1h1v1h-1zM267.8 444.1h1v1h-1zM247.3 458.9h1v1h-1zM262.7 448.1h1v1h-1zM258.6 451.1h1v1h-1z" fill="#0a0a0a" stroke="none" stroke-width="1" fill-opacity="0.85"/>
<path d="M252.1 458.5h1v1h-1zM241.6 457.5h1v1h-1zM259.3 440.3h1v1h-1zM233.9 466.7h1v1h-1zM245.3 458.8h1v1h-1zM243.7 459.4h1v1h-1zM258.0 456.5h1v1h-1zM225.3 461.9h1v1h-1zM242.1 451.9h1v1h-1zM234.4 453.9h1v1h-1zM258.3 450.2h1v1h-1zM215.4 478.6h1v1h-1zM245.4 454.5h1v1h-1zM253.4 455.7h1v1h-1zM267.6 448.5h1v1h-1zM241.0 465.5h1v1h-1zM231.6 466.8h1v1h-1zM239.5 461.1h1v1h-1zM220.1 474.3h1v1h-1zM245.4 468.5h1v1h-1zM231.6 466.9h1v1h-1zM227.9 470.2h1v1h-1zM231.3 461.2h1v1h-1zM243.8 454.8h1v1h-1zM230.0 468.2h1v1h-1zM253.6 467.2h1v1h-1zM254.7 464.3h1v1h-1zM246.7 469.9h1v1h-1zM245.1 471.7h1v1h-1zM231.7 462.2h1v1h-1zM242.6 467.2h1v1h-1zM244.2 464.0h1v1h-1zM244.7 453.8h1v1h-1zM256.8 451.5h1v1h-1zM246.6 451.5h1v1h-1zM237.6 453.2h1v1h-1zM238.7 463.5h1v1h-1zM252.0 453.2h1v1h-1zM210.5 475.5h1v1h-1zM227.1 464.4h1v1h-1zM256.7 457.3h1v1h-1zM242.7 467.5h1v1h-1zM235.2 457.7h1v1h-1zM243.9 454.0h1v1h-1zM239.0 463.3h1v1h-1zM231.8 471.6h1v1h-1zM222.3 464.5h1v1h-1zM219.1 462.0h1v1h-1zM235.8 452.0h1v1h-1zM235.6 461.5h1v1h-1zM227.5 455.4h1v1h-1zM248.0 450.5h1v1h-1zM235.0 468.5h1v1h-1zM232.8 461.9h1v1h-1zM231.9 459.4h1v1h-1zM211.8 472.9h1v1h-1zM237.1 458.3h1v1h-1zM240.5 465.4h1v1h-1zM234.6 470.7h1v1h-1zM251.2 453.7h1v1h-1zM236.7 465.2h1v1h-1zM254.6 451.8h1v1h-1zM246.9 448.6h1v1h-1zM240.6 458.7h1v1h-1zM237.2 464.2h1v1h-1zM245.1 445.8h1v1h-1zM254.1 452.9h1v1h-1zM239.8 457.9h1v1h-1zM258.6 442.1h1v1h-1zM238.9 460.0h1v1h-1zM240.6 466.5h1v1h-1zM262.2 460.2h1v1h-1zM262.6 455.6h1v1h-1zM238.6 456.8h1v1h-1zM251.2 455.6h1v1h-1zM256.3 451.8h1v1h-1zM235.5 465.2h1v1h-1zM237.4 464.3h1v1h-1zM223.9 468.7h1v1h-1zM253.1 454.3h1v1h-1zM228.2 467.5h1v1h-1zM239.8 461.5h1v1h-1zM249.5 460.5h1v1h-1zM242.7 450.8h1v1h-1zM232.1 460.9h1v1h-1zM247.6 459.5h1v1h-1zM259.1 452.6h1v1h-1zM238.6 449.0h1v1h-1zM227.3 469.1h1v1h-1zM239.1 456.6h1v1h-1zM247.7 458.3h1v1h-1zM227.2 456.2h1v1h-1zM266.3 450.4h1v1h-1zM239.2 454.2h1v1h-1zM248.1 453.8h1v1h-1zM211.3 470.3h1v1h-1zM245.9 467.5h1v1h-1zM225.8 453.1h1v1h-1zM237.0 460.6h1v1h-1zM254.6 454.1h1v1h-1zM254.0 446.3h1v1h-1zM246.6 459.9h1v1h-1zM265.4 463.6h1v1h-1zM254.7 452.3h1v1h-1zM242.3 464.0h1v1h-1zM224.6 461.0h1v1h-1zM249.3 459.2h1v1h-1zM241.4 457.6h1v1h-1zM237.1 464.5h1v1h-1zM257.9 460.8h1v1h-1zM235.0 463.0h1v1h-1zM241.6 470.6h1v1h-1zM244.5 458.9h1v1h-1zM254.1 452.1h1v1h-1zM244.3 466.8h1v1h-1zM228.4 460.0h1v1h-1zM236.9 454.4h1v1h-1zM231.6 471.5h1v1h-1zM245.1 464.4h1v1h-1zM250.9 451.3h1v1h-1zM256.8 449.1h1v1h-1zM224.9 464.6h1v1h-1zM248.4 451.0h1v1h-1zM248.7 465.1h1v1h-1zM237.4 459.1h1v1h-1zM232.6 461.2h1v1h-1zM217.9 463.2h1v1h-1zM247.0 454.4h1v1h-1zM242.8 460.7h1v1h-1zM250.3 453.5h1v1h-1zM223.2 463.9h1v1h-1zM258.7 450.9h1v1h-1zM238.9 477.9h1v1h-1zM232.7 458.9h1v1h-1zM238.8 466.4h1v1h-1zM243.9 453.8h1v1h-1zM244.0 457.8h1v1h-1zM235.3 459.5h1v1h-1zM245.4 450.5h1v1h-1zM260.9 463.6h1v1h-1zM224.4 464.3h1v1h-1zM249.2 452.9h1v1h-1zM227.7 461.6h1v1h-1zM235.6 473.0h1v1h-1zM231.8 478.1h1v1h-1zM257.3 451.4h1v1h-1zM237.9 460.9h1v1h-1zM222.7 465.2h1v1h-1zM228.3 460.1h1v1h-1zM239.7 458.4h1v1h-1zM234.5 461.3h1v1h-1zM227.4 461.5h1v1h-1zM255.9 460.3h1v1h-1zM249.7 452.7h1v1h-1zM250.4 454.4h1v1h-1zM246.9 454.7h1v1h-1zM250.7 451.2h1v1h-1zM241.3 469.0h1v1h-1zM230.7 472.3h1v1h-1zM245.9 459.7h1v1h-1zM233.7 467.9h1v1h-1zM226.4 477.3h1v1h-1zM264.9 455.1h1v1h-1zM252.4 468.0h1v1h-1zM241.6 461.9h1v1h-1zM245.9 454.7h1v1h-1zM245.8 450.6h1v1h-1zM273.9 461.5h1v1h-1zM224.5 466.3h1v1h-1zM243.6 458.0h1v1h-1zM235.5 474.0h1v1h-1zM237.0 465.8h1v1h-1zM241.8 460.2h1v1h-1zM231.0 464.8h1v1h-1zM217.4 477.7h1v1h-1zM221.1 457.8h1v1h-1zM229.6 465.0h1v1h-1zM229.1 460.2h1v1h-1zM226.9 468.9h1v1h-1zM242.5 459.2h1v1h-1zM240.7 469.4h1v1h-1zM216.3 468.9h1v1h-1zM207.9 473.2h1v1h-1zM246.3 453.2h1v1h-1zM243.0 463.4h1v1h-1zM258.3 462.1h1v1h-1zM240.2 457.9h1v1h-1zM246.2 466.5h1v1h-1zM234.5 463.1h1v1h-1zM247.5 458.9h1v1h-1zM231.5 451.1h1v1h-1zM262.1 438.4h1v1h-1zM215.8 472.3h1v1h-1zM249.4 459.1h1v1h-1zM227.1 456.3h1v1h-1zM242.8 446.9h1v1h-1zM234.0 455.4h1v1h-1zM245.4 464.7h1v1h-1zM252.6 458.6h1v1h-1zM232.0 463.7h1v1h-1zM225.1 449.0h1v1h-1zM244.2 464.5h1v1h-1zM238.8 460.8h1v1h-1zM255.3 452.1h1v1h-1zM225.0 470.3h1v1h-1zM241.2 450.2h1v1h-1zM243.8 461.0h1v1h-1zM256.6 452.8h1v1h-1zM227.1 462.6h1v1h-1zM240.5 470.7h1v1h-1zM240.6 460.7h1v1h-1zM226.3 460.9h1v1h-1zM244.6 465.4h1v1h-1zM235.7 452.8h1v1h-1zM249.8 464.3h1v1h-1zM248.9 468.1h1v1h-1zM228.3 466.3h1v1h-1zM241.8 460.9h1v1h-1zM245.8 458.5h1v1h-1zM253.0 449.2h1v1h-1zM215.2 462.4h1v1h-1zM232.4 456.9h1v1h-1zM239.8 458.7h1v1h-1zM238.2 454.9h1v1h-1zM228.4 468.1h1v1h-1zM239.4 460.2h1v1h-1zM239.6 458.6h1v1h-1zM226.7 463.2h1v1h-1zM247.7 451.4h1v1h-1zM249.7 451.2h1v1h-1zM219.3 466.0h1v1h-1zM235.2 446.4h1v1h-1zM247.5 453.9h1v1h-1zM238.1 456.5h1v1h-1zM254.5 458.4h1v1h-1zM235.8 462.7h1v1h-1zM259.7 459.7h1v1h-1zM240.3 455.3h1v1h-1zM247.4 469.5h1v1h-1zM231.5 454.8h1v1h-1zM229.8 470.1h1v1h-1zM246.0 460.7h1v1h-1zM236.7 458.2h1v1h-1zM236.4 461.1h1v1h-1zM227.1 453.9h1v1h-1zM258.6 451.2h1v1h-1zM222.0 477.6h1v1h-1zM241.4 444.6h1v1h-1zM259.1 455.1h1v1h-1zM243.7 472.3h1v1h-1zM208.8 459.0h1v1h-1zM238.4 464.7h1v1h-1zM228.6 461.3h1v1h-1zM216.2 463.2h1v1h-1zM249.8 451.4h1v1h-1zM231.9 470.7h1v1h-1zM225.3 462.2h1v1h-1zM235.2 450.8h1v1h-1zM224.9 470.4h1v1h-1zM249.0 460.5h1v1h-1zM237.8 462.0h1v1h-1zM227.4 471.7h1v1h-1zM240.0 463.9h1v1h-1zM241.1 472.2h1v1h-1zM255.3 445.7h1v1h-1zM245.3 459.0h1v1h-1zM253.1 464.2h1v1h-1zM260.1 448.3h1v1h-1zM245.7 460.9h1v1h-1zM221.0 463.9h1v1h-1zM232.5 460.2h1v1h-1zM260.0 457.2h1v1h-1zM247.0 458.5h1v1h-1zM216.9 469.3h1v1h-1zM240.1 466.6h1v1h-1zM245.1 465.4h1v1h-1zM239.9 450.3h1v1h-1zM217.7 470.7h1v1h-1zM244.9 466.8h1v1h-1zM243.6 449.7h1v1h-1zM232.3 460.2h1v1h-1zM263.7 453.2h1v1h-1zM233.0 465.5h1v1h-1zM247.6 461.5h1v1h-1zM237.8 465.2h1v1h-1zM225.1 458.1h1v1h-1zM252.2 462.9h1v1h-1zM245.3 470.2h1v1h-1zM239.0 461.8h1v1h-1zM238.4 453.5h1v1h-1zM231.9 466.2h1v1h-1zM258.9 456.2h1v1h-1zM212.2 479.0h1v1h-1zM250.1 456.9h1v1h-1zM235.6 467.5h1v1h-1zM243.1 457.0h1v1h-1zM225.7 465.7h1v1h-1zM242.3 458.3h1v1h-1zM242.2 449.5h1v1h-1zM252.3 441.8h1v1h-1zM232.8 458.1h1v1h-1zM234.0 463.0h1v1h-1zM252.7 458.8h1v1h-1zM236.2 456.2h1v1h-1zM240.1 457.2h1v1h-1zM251.5 451.0h1v1h-1zM239.8 459.4h1v1h-1zM236.1 455.4h1v1h-1zM246.7 463.1h1v1h-1zM244.2 464.9h1v1h-1zM245.8 447.9h1v1h-1zM233.9 471.9h1v1h-1zM246.1 461.3h1v1h-1zM256.4 453.3h1v1h-1zM254.2 449.6h1v1h-1zM248.8 444.9h1v1h-1zM219.9 466.8h1v1h-1zM248.9 448.4h1v1h-1zM252.0 450.6h1v1h-1zM264.4 445.9h1v1h-1zM228.6 471.5h1v1h-1zM254.5 469.9h1v1h-1zM242.6 456.8h1v1h-1zM264.0 451.1h1v1h-1zM273.3 453.2h1v1h-1zM237.3 464.4h1v1h-1zM237.5 458.3h1v1h-1zM240.0 456.1h1v1h-1zM241.2 456.1h1v1h-1zM235.9 459.7h1v1h-1zM246.5 461.7h1v1h-1zM238.9 452.5h1v1h-1zM246.4 465.0h1v1h-1zM238.4 465.6h1v1h-1zM232.8 464.3h1v1h-1zM244.0 462.3h1v1h-1zM232.4 468.5h1v1h-1zM247.9 464.1h1v1h-1zM234.9 450.0h1v1h-1zM230.9 462.6h1v1h-1zM234.6 465.3h1v1h-1zM275.7 456.0h1v1h-1zM259.3 450.0h1v1h-1zM237.1 458.7h1v1h-1zM248.0 447.7h1v1h-1zM221.7 474.6h1v1h-1zM236.5 449.8h1v1h-1zM266.0 457.8h1v1h-1zM225.2 467.2h1v1h-1zM238.3 472.5h1v1h-1zM258.3 459.1h1v1h-1zM248.6 469.3h1v1h-1zM262.1 455.9h1v1h-1zM237.4 457.8h1v1h-1zM253.3 465.4h1v1h-1zM221.4 455.3h1v1h-1zM251.2 447.2h1v1h-1zM225.1 454.7h1v1h-1zM236.3 453.8h1v1h-1zM250.7 461.2h1v1h-1zM243.7 459.3h1v1h-1zM243.8 450.0h1v1h-1zM238.2 457.6h1v1h-1zM240.9 453.4h1v1h-1zM244.5 450.3h1v1h-1zM236.6 472.8h1v1h-1zM253.6 461.0h1v1h-1zM230.7 467.5h1v1h-1zM266.2 451.7h1v1h-1zM227.3 472.8h1v1h-1zM249.0 453.8h1v1h-1zM247.5 450.7h1v1h-1zM247.6 458.4h1v1h-1zM237.0 458.3h1v1h-1zM220.1 465.1h1v1h-1zM246.9 464.9h1v1h-1zM248.6 466.4h1v1h-1zM230.6 470.0h1v1h-1zM248.1 449.3h1v1h-1zM230.4 463.4h1v1h-1zM248.8 463.9h1v1h-1zM244.1 460.3h1v1h-1zM251.9 463.4h1v1h-1zM223.5 456.8h1v1h-1zM232.6 472.3h1v1h-1zM241.0 458.9h1v1h-1zM233.8 471.5h1v1h-1zM256.5 465.5h1v1h-1zM233.7 457.4h1v1h-1zM250.4 452.6h1v1h-1zM254.1 452.5h1v1h-1zM248.4 448.3h1v1h-1zM241.0 465.2h1v1h-1zM228.1 467.6h1v1h-1zM238.7 452.2h1v1h-1zM225.6 454.9h1v1h-1zM254.2 467.6h1v1h-1zM263.5 449.1h1v1h-1zM259.3 457.9h1v1h-1zM246.9 450.1h1v1h-1zM242.1 449.9h1v1h-1zM245.5 451.5h1v1h-1zM241.1 467.6h1v1h-1zM248.7 463.8h1v1h-1zM251.7 456.1h1v1h-1zM245.1 461.1h1v1h-1zM237.1 473.1h1v1h-1zM237.0 455.6h1v1h-1zM236.0 469.3h1v1h-1zM270.1 456.1h1v1h-1zM236.5 462.2h1v1h-1zM252.4 461.2h1v1h-1zM257.3 455.7h1v1h-1zM241.3 455.2h1v1h-1zM251.4 454.9h1v1h-1zM238.1 450.8h1v1h-1zM230.8 456.5h1v1h-1zM234.9 470.5h1v1h-1zM249.4 456.2h1v1h-1zM238.3 456.0h1v1h-1zM249.1 452.1h1v1h-1zM233.2 465.1h1v1h-1zM240.8 458.0h1v1h-1zM249.8 458.3h1v1h-1zM249.0 459.7h1v1h-1zM229.7 466.1h1v1h-1zM234.7 470.2h1v1h-1zM256.2 463.1h1v1h-1zM235.0 455.6h1v1h-1zM234.4 466.3h1v1h-1zM248.6 462.5h1v1h-1zM238.6 467.6h1v1h-1zM243.3 465.3h1v1h-1zM245.2 452.3h1v1h-1zM241.1 460.4h1v1h-1zM245.7 455.0h1v1h-1zM249.0 459.0h1v1h-1zM241.0 454.4h1v1h-1zM243.0 463.3h1v1h-1zM240.5 478.2h1v1h-1zM241.1 451.1h1v1h-1zM227.9 470.2h1v1h-1zM235.9 458.8h1v1h-1zM240.4 459.6h1v1h-1zM238.9 462.8h1v1h-1zM260.4 459.8h1v1h-1zM240.0 455.3h1v1h-1zM248.3 460.3h1v1h-1zM252.1 447.7h1v1h-1zM264.1 455.2h1v1h-1zM231.5 475.9h1v1h-1zM244.2 461.6h1v1h-1zM242.6 472.9h1v1h-1zM252.2 459.4h1v1h-1zM225.2 456.6h1v1h-1zM244.1 457.2h1v1h-1zM238.3 455.6h1v1h-1zM246.5 457.8h1v1h-1zM243.9 456.2h1v1h-1zM249.0 459.8h1v1h-1zM243.6 458.9h1v1h-1zM246.3 471.0h1v1h-1zM240.9 470.7h1v1h-1zM244.0 446.7h1v1h-1zM246.0 459.6h1v1h-1zM240.6 448.3h1v1h-1zM243.4 463.9h1v1h-1zM226.3 458.1h1v1h-1zM233.6 461.2h1v1h-1zM260.8 451.4h1v1h-1zM227.9 477.2h1v1h-1zM249.6 452.8h1v1h-1zM247.6 454.1h1v1h-1zM237.3 455.0h1v1h-1zM262.0 456.5h1v1h-1zM243.7 465.0h1v1h-1zM236.5 462.2h1v1h-1zM235.2 474.5h1v1h-1zM244.2 445.6h1v1h-1zM225.9 461.8h1v1h-1zM217.9 470.6h1v1h-1zM242.8 451.4h1v1h-1zM219.8 462.2h1v1h-1zM239.5 459.1h1v1h-1zM232.1 451.7h1v1h-1zM245.9 459.7h1v1h-1zM249.0 449.5h1v1h-1zM238.3 459.0h1v1h-1zM245.8 460.6h1v1h-1zM220.3 468.2h1v1h-1zM239.0 471.5h1v1h-1zM237.6 448.5h1v1h-1zM250.0 468.9h1v1h-1zM237.6 462.5h1v1h-1zM247.7 455.4h1v1h-1zM251.4 458.0h1v1h-1zM244.6 459.8h1v1h-1zM240.8 453.6h1v1h-1zM252.4 457.1h1v1h-1zM228.2 467.4h1v1h-1zM238.2 473.6h1v1h-1zM251.6 455.0h1v1h-1zM228.0 466.1h1v1h-1zM249.6 456.9h1v1h-1zM247.3 458.8h1v1h-1zM233.0 472.5h1v1h-1zM225.9 451.7h1v1h-1zM253.8 451.9h1v1h-1zM239.2 458.4h1v1h-1zM252.9 453.1h1v1h-1zM250.5 468.3h1v1h-1zM255.1 454.2h1v1h-1zM235.2 464.3h1v1h-1zM234.8 464.3h1v1h-1zM247.0 461.1h1v1h-1zM250.1 448.0h1v1h-1zM246.5 459.6h1v1h-1zM259.4 449.3h1v1h-1zM228.1 460.6h1v1h-1zM239.2 451.5h1v1h-1zM262.7 440.4h1v1h-1zM246.7 464.9h1v1h-1zM239.3 461.5h1v1h-1zM245.3 461.1h1v1h-1zM237.6 449.7h1v1h-1zM244.3 455.5h1v1h-1zM229.2 455.6h1v1h-1zM253.1 467.1h1v1h-1zM254.0 448.7h1v1h-1zM227.8 476.2h1v1h-1zM242.1 458.3h1v1h-1zM223.3 466.4h1v1h-1zM250.6 454.9h1v1h-1zM249.5 462.6h1v1h-1zM227.9 463.5h1v1h-1zM227.6 465.1h1v1h-1zM262.3 458.7h1v1h-1zM238.0 468.0h1v1h-1zM233.0 464.5h1v1h-1zM257.6 461.5h1v1h-1zM241.7 454.9h1v1h-1zM228.9 462.3h1v1h-1zM244.6 454.6h1v1h-1zM242.4 450.1h1v1h-1zM244.4 457.4h1v1h-1zM242.6 450.9h1v1h-1zM241.7 470.1h1v1h-1zM252.0 461.2h1v1h-1zM250.3 465.9h1v1h-1zM238.9 470.1h1v1h-1zM241.2 465.7h1v1h-1zM260.0 449.9h1v1h-1zM245.0 459.1h1v1h-1zM232.0 461.9h1v1h-1zM241.8 470.3h1v1h-1zM233.0 456.8h1v1h-1zM216.2 468.3h1v1h-1zM235.3 475.4h1v1h-1zM266.6 454.1h1v1h-1zM225.2 476.3h1v1h-1zM245.0 468.0h1v1h-1zM251.7 456.6h1v1h-1zM254.5 452.3h1v1h-1zM239.1 467.9h1v1h-1zM228.5 457.7h1v1h-1zM255.4 462.2h1v1h-1zM248.7 455.6h1v1h-1zM233.3 470.3h1v1h-1zM237.1 465.7h1v1h-1zM246.5 458.3h1v1h-1zM237.3 462.8h1v1h-1zM238.2 464.4h1v1h-1zM241.6 459.3h1v1h-1zM274.0 448.4h1v1h-1zM227.6 455.9h1v1h-1zM245.3 457.1h1v1h-1zM223.7 468.1h1v1h-1zM233.4 445.7h1v1h-1zM229.9 459.0h1v1h-1zM252.9 448.7h1v1h-1zM233.7 464.5h1v1h-1zM240.9 455.5h1v1h-1zM234.0 466.0h1v1h-1zM227.4 461.2h1v1h-1zM223.4 463.4h1v1h-1zM246.3 457.3h1v1h-1zM244.8 456.7h1v1h-1zM242.0 462.8h1v1h-1zM248.8 461.4h1v1h-1zM249.9 459.1h1v1h-1zM241.8 466.6h1v1h-1zM250.3 458.9h1v1h-1zM251.1 464.6h1v1h-1zM245.2 448.1h1v1h-1zM234.1 465.5h1v1h-1zM237.9 465.3h1v1h-1zM250.7 468.3h1v1h-1zM248.5 460.0h1v1h-1zM239.3 468.3h1v1h-1zM244.1 460.1h1v1h-1zM239.0 451.7h1v1h-1zM236.0 456.5h1v1h-1zM244.2 463.6h1v1h-1zM224.9 472.8h1v1h-1zM225.2 473.7h1v1h-1zM258.3 459.7h1v1h-1zM227.3 453.8h1v1h-1zM257.2 461.0h1v1h-1zM245.3 452.5h1v1h-1zM242.9 466.6h1v1h-1zM231.3 469.0h1v1h-1zM241.6 466.9h1v1h-1zM229.0 455.9h1v1h-1zM236.9 459.3h1v1h-1zM242.1 453.5h1v1h-1zM240.6 449.1h1v1h-1zM253.4 465.8h1v1h-1zM232.1 457.2h1v1h-1zM249.0 457.7h1v1h-1zM222.6 471.8h1v1h-1zM220.6 470.3h1v1h-1zM241.9 456.7h1v1h-1zM233.1 468.9h1v1h-1zM241.6 454.9h1v1h-1zM228.6 468.9h1v1h-1zM252.3 449.1h1v1h-1zM254.2 464.3h1v1h-1zM260.8 456.2h1v1h-1zM249.6 446.9h1v1h-1zM255.2 458.9h1v1h-1zM252.2 461.5h1v1h-1zM243.0 452.3h1v1h-1zM228.8 456.1h1v1h-1zM234.7 460.6h1v1h-1zM234.3 461.3h1v1h-1zM224.8 465.4h1v1h-1zM238.0 454.2h1v1h-1zM227.2 457.1h1v1h-1zM232.5 464.3h1v1h-1zM221.8 462.5h1v1h-1zM259.7 459.3h1v1h-1zM239.0 452.1h1v1h-1zM227.5 451.1h1v1h-1zM231.6 465.7h1v1h-1zM213.7 468.2h1v1h-1zM249.2 460.7h1v1h-1zM237.5 460.7h1v1h-1zM241.4 452.2h1v1h-1zM224.0 466.5h1v1h-1zM243.0 455.6h1v1h-1zM257.1 450.7h1v1h-1zM230.7 459.1h1v1h-1zM255.5 454.6h1v1h-1zM256.0 462.6h1v1h-1zM234.6 468.7h1v1h-1zM233.7 468.7h1v1h-1zM221.7 472.4h1v1h-1zM225.0 471.8h1v1h-1zM241.2 464.5h1v1h-1zM225.2 463.7h1v1h-1zM248.8 458.9h1v1h-1zM252.9 455.2h1v1h-1zM236.5 466.6h1v1h-1zM230.6 462.3h1v1h-1zM248.9 454.0h1v1h-1zM239.3 456.8h1v1h-1zM262.9 449.6h1v1h-1zM242.5 466.7h1v1h-1zM242.1 460.7h1v1h-1zM255.9 455.5h1v1h-1zM235.3 470.4h1v1h-1zM239.3 456.1h1v1h-1zM217.0 473.6h1v1h-1zM247.9 461.6h1v1h-1zM224.4 467.3h1v1h-1zM214.0 471.6h1v1h-1zM236.8 467.0h1v1h-1zM228.4 465.2h1v1h-1zM250.8 463.2h1v1h-1zM235.8 451.2h1v1h-1zM234.7 473.4h1v1h-1zM269.3 458.6h1v1h-1zM250.8 459.2h1v1h-1zM243.4 461.0h1v1h-1zM260.0 447.3h1v1h-1zM256.5 447.9h1v1h-1zM234.0 457.2h1v1h-1zM248.1 458.7h1v1h-1zM257.2 443.7h1v1h-1zM244.5 477.9h1v1h-1zM244.9 454.1h1v1h-1zM241.6 476.8h1v1h-1zM259.8 455.0h1v1h-1zM274.2 458.2h1v1h-1zM246.7 465.2h1v1h-1zM239.6 449.6h1v1h-1zM234.5 463.1h1v1h-1zM251.0 458.0h1v1h-1zM235.7 463.8h1v1h-1zM248.4 447.6h1v1h-1zM254.0 442.7h1v1h-1zM245.6 456.1h1v1h-1zM259.5 458.8h1v1h-1zM236.4 470.2h1v1h-1zM238.6 463.3h1v1h-1zM243.0 463.6h1v1h-1zM232.1 463.4h1v1h-1zM247.4 461.3h1v1h-1zM218.7 467.5h1v1h-1zM238.8 468.5h1v1h-1zM259.0 446.7h1v1h-1zM242.4 460.1h1v1h-1zM226.2 459.9h1v1h-1zM266.6 457.7h1v1h-1zM246.1 464.4h1v1h-1zM243.3 474.0h1v1h-1zM232.1 474.2h1v1h-1zM241.5 464.7h1v1h-1zM232.4 464.5h1v1h-1zM229.0 465.9h1v1h-1zM232.2 470.5h1v1h-1zM254.0 458.2h1v1h-1zM249.0 464.5h1v1h-1zM248.6 461.6h1v1h-1zM235.7 446.2h1v1h-1zM242.0 458.1h1v1h-1zM239.0 464.8h1v1h-1zM232.7 443.6h1v1h-1zM237.5 450.8h1v1h-1zM238.6 462.9h1v1h-1zM243.4 452.9h1v1h-1zM236.8 459.7h1v1h-1zM240.3 453.4h1v1h-1zM220.9 472.1h1v1h-1zM250.7 455.0h1v1h-1zM242.1 458.5h1v1h-1zM247.9 469.4h1v1h-1zM244.1 468.2h1v1h-1zM236.7 477.4h1v1h-1zM236.9 459.3h1v1h-1zM244.6 460.4h1v1h-1zM253.1 460.4h1v1h-1zM235.5 459.9h1v1h-1zM226.9 469.9h1v1h-1zM246.1 455.1h1v1h-1zM245.6 451.8h1v1h-1zM237.5 466.5h1v1h-1zM228.3 455.7h1v1h-1zM270.8 438.2h1v1h-1zM239.0 457.1h1v1h-1zM252.6 455.7h1v1h-1zM236.0 452.8h1v1h-1zM206.7 469.9h1v1h-1zM234.7 449.1h1v1h-1zM248.3 456.1h1v1h-1zM246.3 438.9h1v1h-1zM230.7 470.6h1v1h-1zM238.1 448.1h1v1h-1zM242.2 453.9h1v1h-1zM258.7 444.8h1v1h-1zM250.0 457.0h1v1h-1zM219.4 454.5h1v1h-1zM216.2 472.1h1v1h-1zM237.2 461.5h1v1h-1zM244.1 458.9h1v1h-1zM244.7 461.5h1v1h-1zM224.7 473.2h1v1h-1zM241.2 459.0h1v1h-1zM240.8 451.9h1v1h-1zM248.0 452.5h1v1h-1zM246.2 460.0h1v1h-1zM243.5 454.2h1v1h-1zM244.7 460.3h1v1h-1zM236.4 458.7h1v1h-1zM212.5 467.8h1v1h-1zM237.8 462.3h1v1h-1zM245.9 463.0h1v1h-1zM245.0 472.2h1v1h-1zM234.9 456.8h1v1h-1zM237.4 466.4h1v1h-1zM241.0 458.0h1v1h-1zM221.8 457.0h1v1h-1zM221.1 466.5h1v1h-1zM246.3 461.8h1v1h-1zM252.1 449.3h1v1h-1zM245.9 473.9h1v1h-1zM207.6 471.4h1v1h-1zM248.2 466.4h1v1h-1zM251.6 449.8h1v1h-1zM231.5 460.6h1v1h-1zM247.5 458.1h1v1h-1zM223.3 466.5h1v1h-1zM249.0 450.4h1v1h-1zM233.1 452.9h1v1h-1zM245.3 456.6h1v1h-1zM244.5 458.2h1v1h-1zM221.9 460.0h1v1h-1zM245.8 464.6h1v1h-1zM222.9 463.9h1v1h-1z" fill="#1a1a1a" stroke="none" stroke-width="1" fill-opacity="0.45"/>
<path d="M238.7 473.0h1v1h-1zM253.4 458.3h1v1h-1zM243.4 468.0h1v1h-1zM248.6 461.7h1v1h-1zM255.4 459.9h1v1h-1zM252.8 456.5h1v1h-1zM245.6 465.5h1v1h-1zM255.6 454.5h1v1h-1zM251.2 453.9h1v1h-1zM249.4 460.7h1v1h-1zM244.1 461.2h1v1h-1zM251.3 462.7h1v1h-1zM250.4 461.1h1v1h-1zM249.4 456.7h1v1h-1zM255.9 452.2h1v1h-1zM244.5 463.6h1v1h-1zM251.3 456.8h1v1h-1zM248.8 463.0h1v1h-1zM245.5 466.7h1v1h-1zM252.2 460.1h1v1h-1zM237.6 467.8h1v1h-1zM243.6 468.3h1v1h-1zM247.2 462.7h1v1h-1zM249.7 458.8h1v1h-1zM255.0 452.9h1v1h-1zM249.7 465.8h1v1h-1zM259.0 455.7h1v1h-1zM242.3 472.4h1v1h-1zM243.8 465.1h1v1h-1zM249.3 460.4h1v1h-1zM247.0 465.6h1v1h-1zM244.5 465.9h1v1h-1zM262.3 450.8h1v1h-1zM250.0 460.4h1v1h-1zM246.2 461.9h1v1h-1zM243.4 462.7h1v1h-1zM254.5 455.0h1v1h-1zM248.4 458.8h1v1h-1zM248.2 460.3h1v1h-1zM255.7 459.3h1v1h-1zM245.5 467.4h1v1h-1zM251.9 461.2h1v1h-1zM246.3 462.4h1v1h-1zM248.1 460.4h1v1h-1zM241.7 473.3h1v1h-1zM252.5 460.5h1v1h-1zM254.3 457.0h1v1h-1zM244.5 465.5h1v1h-1zM245.6 463.7h1v1h-1zM244.0 462.9h1v1h-1zM251.1 464.5h1v1h-1zM253.2 453.3h1v1h-1zM245.2 461.4h1v1h-1zM246.0 461.0h1v1h-1zM245.3 462.5h1v1h-1zM245.3 464.0h1v1h-1zM250.3 460.1h1v1h-1zM247.5 468.9h1v1h-1zM247.9 464.4h1v1h-1zM238.3 463.1h1v1h-1zM240.7 466.5h1v1h-1zM244.2 463.5h1v1h-1zM247.7 468.4h1v1h-1zM246.1 459.4h1v1h-1zM249.0 460.3h1v1h-1zM238.0 462.3h1v1h-1zM259.3 447.1h1v1h-1zM246.6 460.6h1v1h-1zM240.6 466.8h1v1h-1zM238.5 470.0h1v1h-1zM246.7 460.7h1v1h-1zM246.3 461.7h1v1h-1zM246.8 469.3h1v1h-1zM249.9 460.5h1v1h-1zM251.4 455.4h1v1h-1zM245.6 460.4h1v1h-1zM246.3 464.5h1v1h-1zM240.3 467.2h1v1h-1zM259.1 459.2h1v1h-1zM254.5 462.1h1v1h-1zM246.7 458.7h1v1h-1zM243.0 462.9h1v1h-1zM234.1 465.6h1v1h-1zM248.9 457.2h1v1h-1zM252.7 460.5h1v1h-1zM249.0 469.5h1v1h-1zM243.1 471.0h1v1h-1zM256.0 448.8h1v1h-1zM246.0 460.1h1v1h-1zM253.1 461.4h1v1h-1zM252.8 460.5h1v1h-1zM256.0 460.2h1v1h-1zM250.2 461.9h1v1h-1zM246.7 467.1h1v1h-1zM247.6 459.6h1v1h-1zM245.1 465.6h1v1h-1zM234.8 472.9h1v1h-1zM248.7 467.0h1v1h-1zM244.8 464.7h1v1h-1zM249.3 459.7h1v1h-1zM251.7 459.7h1v1h-1zM239.5 472.4h1v1h-1zM244.5 469.9h1v1h-1zM244.0 465.0h1v1h-1zM247.3 460.7h1v1h-1zM248.1 466.6h1v1h-1zM253.1 460.4h1v1h-1zM265.1 450.8h1v1h-1zM255.2 460.0h1v1h-1zM252.0 457.6h1v1h-1zM254.4 458.8h1v1h-1zM241.2 464.4h1v1h-1zM243.0 466.9h1v1h-1zM240.7 469.4h1v1h-1zM239.9 468.8h1v1h-1zM253.5 461.8h1v1h-1zM243.2 468.3h1v1h-1zM245.7 467.4h1v1h-1zM257.0 456.4h1v1h-1zM229.7 476.5h1v1h-1zM249.3 454.6h1v1h-1zM257.4 454.8h1v1h-1zM251.0 465.9h1v1h-1zM251.7 459.7h1v1h-1zM247.2 466.2h1v1h-1zM253.0 453.5h1v1h-1zM238.8 474.4h1v1h-1zM249.8 458.1h1v1h-1zM243.1 465.2h1v1h-1zM244.0 466.5h1v1h-1zM241.9 464.2h1v1h-1zM246.9 463.6h1v1h-1zM247.4 464.8h1v1h-1zM252.1 455.7h1v1h-1zM239.3 463.3h1v1h-1zM256.3 454.8h1v1h-1zM239.8 463.6h1v1h-1zM248.2 459.4h1v1h-1zM236.0 468.6h1v1h-1zM245.5 461.4h1v1h-1zM250.5 456.7h1v1h-1zM248.7 459.8h1v1h-1zM255.9 445.7h1v1h-1zM248.9 456.1h1v1h-1zM249.8 460.9h1v1h-1zM251.3 459.6h1v1h-1zM251.8 463.3h1v1h-1zM249.5 458.0h1v1h-1zM253.0 463.7h1v1h-1zM249.1 461.0h1v1h-1zM250.9 462.4h1v1h-1zM239.7 470.9h1v1h-1zM246.2 460.7h1v1h-1zM244.6 458.7h1v1h-1zM250.2 461.3h1v1h-1zM252.1 462.4h1v1h-1zM248.2 463.8h1v1h-1zM246.9 457.2h1v1h-1zM249.0 463.7h1v1h-1zM246.1 460.8h1v1h-1zM261.6 447.7h1v1h-1zM238.7 469.0h1v1h-1zM249.9 464.3h1v1h-1zM249.5 464.7h1v1h-1zM247.1 458.2h1v1h-1zM250.8 456.8h1v1h-1zM247.7 461.7h1v1h-1zM258.0 459.5h1v1h-1zM246.1 465.0h1v1h-1zM245.9 461.9h1v1h-1zM259.6 457.1h1v1h-1zM252.7 460.4h1v1h-1zM241.7 460.9h1v1h-1zM244.8 464.3h1v1h-1zM247.2 461.5h1v1h-1zM241.5 466.6h1v1h-1zM248.4 464.9h1v1h-1zM251.9 451.0h1v1h-1zM234.8 472.4h1v1h-1zM246.3 461.9h1v1h-1zM251.8 454.0h1v1h-1zM259.7 453.8h1v1h-1zM252.1 455.7h1v1h-1zM251.2 457.2h1v1h-1zM262.7 450.0h1v1h-1zM249.8 458.3h1v1h-1zM242.8 461.9h1v1h-1zM244.9 464.6h1v1h-1zM242.3 464.7h1v1h-1zM240.6 466.0h1v1h-1zM240.7 469.0h1v1h-1zM234.3 478.6h1v1h-1zM248.4 462.7h1v1h-1zM259.9 452.0h1v1h-1zM240.0 465.5h1v1h-1zM245.1 458.7h1v1h-1zM245.2 472.6h1v1h-1zM249.2 463.3h1v1h-1zM261.6 455.0h1v1h-1zM250.5 462.3h1v1h-1zM259.0 457.5h1v1h-1zM252.0 463.4h1v1h-1zM238.6 468.6h1v1h-1zM250.2 461.9h1v1h-1zM247.1 464.1h1v1h-1zM247.9 454.4h1v1h-1zM251.7 452.6h1v1h-1zM251.7 458.4h1v1h-1zM264.3 444.5h1v1h-1zM251.3 459.3h1v1h-1zM260.6 457.4h1v1h-1zM248.7 462.1h1v1h-1zM255.5 461.6h1v1h-1zM242.5 464.3h1v1h-1zM261.9 448.6h1v1h-1zM245.6 466.6h1v1h-1zM254.6 459.4h1v1h-1zM251.8 451.7h1v1h-1zM253.1 463.9h1v1h-1zM251.9 459.7h1v1h-1zM250.1 464.0h1v1h-1zM241.5 463.0h1v1h-1zM246.0 463.6h1v1h-1zM252.4 458.1h1v1h-1zM250.9 452.4h1v1h-1zM256.1 451.9h1v1h-1zM247.8 461.7h1v1h-1zM242.7 466.5h1v1h-1zM246.2 462.8h1v1h-1zM238.0 468.9h1v1h-1zM239.1 470.9h1v1h-1zM244.5 461.6h1v1h-1zM242.9 468.2h1v1h-1zM248.3 464.5h1v1h-1zM237.0 472.2h1v1h-1zM258.8 456.2h1v1h-1zM255.6 451.2h1v1h-1zM254.7 454.7h1v1h-1zM244.7 466.3h1v1h-1zM245.1 463.4h1v1h-1zM251.1 459.9h1v1h-1zM237.0 464.8h1v1h-1zM260.0 457.7h1v1h-1zM245.1 463.3h1v1h-1zM248.3 465.6h1v1h-1zM252.8 461.1h1v1h-1zM248.4 458.9h1v1h-1zM244.2 459.7h1v1h-1zM253.1 456.3h1v1h-1zM239.1 471.0h1v1h-1zM259.0 453.3h1v1h-1zM252.3 458.0h1v1h-1zM257.2 459.8h1v1h-1zM250.5 462.6h1v1h-1zM234.8 468.3h1v1h-1zM255.6 459.1h1v1h-1zM240.7 467.4h1v1h-1zM257.2 452.2h1v1h-1zM247.2 466.3h1v1h-1zM241.3 466.0h1v1h-1zM246.4 464.9h1v1h-1zM250.7 461.9h1v1h-1zM260.2 452.1h1v1h-1zM244.4 462.1h1v1h-1zM244.0 461.5h1v1h-1zM254.6 459.4h1v1h-1zM244.8 458.0h1v1h-1zM246.5 461.1h1v1h-1zM249.1 462.8h1v1h-1zM237.8 472.3h1v1h-1zM251.8 450.2h1v1h-1zM245.7 467.7h1v1h-1zM251.3 456.4h1v1h-1zM243.5 465.0h1v1h-1zM244.5 467.7h1v1h-1zM255.0 455.9h1v1h-1zM243.2 459.6h1v1h-1zM253.9 456.4h1v1h-1zM248.7 462.7h1v1h-1zM255.0 456.6h1v1h-1zM253.5 455.4h1v1h-1zM242.4 460.6h1v1h-1zM241.1 469.0h1v1h-1zM257.7 456.4h1v1h-1zM247.9 462.7h1v1h-1zM260.3 450.9h1v1h-1zM241.0 463.8h1v1h-1zM257.7 457.4h1v1h-1zM250.3 463.2h1v1h-1zM248.2 453.8h1v1h-1zM240.3 468.0h1v1h-1zM248.5 466.1h1v1h-1zM241.3 462.6h1v1h-1zM253.1 458.4h1v1h-1zM255.4 457.1h1v1h-1zM242.2 466.3h1v1h-1zM249.8 461.6h1v1h-1zM234.8 469.0h1v1h-1zM245.7 465.6h1v1h-1zM250.4 459.5h1v1h-1zM251.2 458.6h1v1h-1zM254.5 457.3h1v1h-1zM239.6 468.7h1v1h-1zM254.8 453.8h1v1h-1zM253.7 457.3h1v1h-1zM242.6 465.8h1v1h-1zM239.0 465.7h1v1h-1zM242.6 470.3h1v1h-1zM241.0 465.2h1v1h-1zM250.2 458.0h1v1h-1zM247.1 463.4h1v1h-1zM259.0 454.5h1v1h-1zM243.8 466.0h1v1h-1zM251.2 465.7h1v1h-1zM234.3 471.7h1v1h-1zM251.7 459.8h1v1h-1zM251.3 455.8h1v1h-1zM256.2 454.3h1v1h-1zM241.9 468.9h1v1h-1zM253.2 456.9h1v1h-1zM252.6 461.9h1v1h-1zM248.3 461.4h1v1h-1zM262.1 452.2h1v1h-1zM257.4 455.6h1v1h-1zM244.8 461.3h1v1h-1zM244.7 466.2h1v1h-1zM242.8 464.3h1v1h-1zM242.9 460.9h1v1h-1zM245.5 466.7h1v1h-1zM249.5 458.4h1v1h-1zM261.0 454.4h1v1h-1zM242.5 469.8h1v1h-1zM255.4 455.4h1v1h-1zM243.5 466.5h1v1h-1zM247.1 462.7h1v1h-1zM240.7 471.1h1v1h-1zM244.1 460.6h1v1h-1zM241.3 462.2h1v1h-1zM249.2 460.0h1v1h-1zM250.7 455.8h1v1h-1zM237.5 470.7h1v1h-1zM250.9 461.0h1v1h-1zM245.0 470.3h1v1h-1zM242.5 470.3h1v1h-1zM257.9 450.4h1v1h-1zM243.7 465.2h1v1h-1zM253.1 465.3h1v1h-1zM249.2 456.6h1v1h-1zM255.1 459.9h1v1h-1zM241.3 467.7h1v1h-1zM252.1 457.5h1v1h-1zM246.2 468.0h1v1h-1zM248.9 460.7h1v1h-1zM248.3 460.4h1v1h-1zM242.7 463.8h1v1h-1zM248.3 466.6h1v1h-1zM251.5 460.1h1v1h-1zM245.2 464.6h1v1h-1zM256.1 460.4h1v1h-1zM238.7 469.1h1v1h-1zM248.0 462.8h1v1h-1zM247.8 456.5h1v1h-1zM246.2 468.4h1v1h-1zM247.8 467.0h1v1h-1zM256.1 453.7h1v1h-1zM246.6 459.4h1v1h-1zM259.2 450.2h1v1h-1zM249.0 461.7h1v1h-1zM250.2 458.0h1v1h-1zM248.5 457.5h1v1h-1zM256.1 452.4h1v1h-1zM243.9 464.6h1v1h-1zM255.3 456.0h1v1h-1zM249.2 463.0h1v1h-1zM249.6 461.0h1v1h-1zM250.9 458.8h1v1h-1zM239.6 466.5h1v1h-1zM244.4 463.0h1v1h-1zM247.7 458.7h1v1h-1zM243.4 461.0h1v1h-1zM242.4 465.3h1v1h-1zM273.3 443.7h1v1h-1zM245.2 464.7h1v1h-1zM244.8 462.9h1v1h-1zM245.2 472.1h1v1h-1zM248.3 458.9h1v1h-1zM241.3 470.3h1v1h-1zM248.2 463.1h1v1h-1zM242.8 462.9h1v1h-1zM250.7 460.8h1v1h-1zM247.5 456.3h1v1h-1zM252.2 466.7h1v1h-1zM245.2 464.5h1v1h-1zM239.9 467.3h1v1h-1zM247.3 459.3h1v1h-1zM248.2 460.7h1v1h-1zM244.3 465.2h1v1h-1zM242.2 471.3h1v1h-1zM248.1 465.2h1v1h-1zM240.0 468.8h1v1h-1z" fill="#1b6a74" stroke="none" stroke-width="1" fill-opacity="0.55"/>
<line x1="195.5" y1="431" x2="195.5" y2="523.7" stroke="#231f20" stroke-width="1.25" />
<line x1="195" y1="523.2" x2="295.5" y2="523.2" stroke="#231f20" stroke-width="1.25" />
<line x1="193" y1="523.2" x2="195.5" y2="523.2" stroke="#231f20" stroke-width="0.9" />
<text x="191.3" y="526.5" font-size="7.6" text-anchor="end" fill="#231f20">10<tspan font-size="5.2" dy="-3">0</tspan></text>
<line x1="195.5" y1="523.2" x2="195.5" y2="525.7" stroke="#231f20" stroke-width="0.9" />
<text x="198.3" y="536.6" font-size="7.6" text-anchor="middle" fill="#231f20">10<tspan font-size="5.2" dy="-3">0</tspan></text>
<line x1="193" y1="505.2" x2="195.5" y2="505.2" stroke="#231f20" stroke-width="0.9" />
<text x="191.3" y="508.5" font-size="7.6" text-anchor="end" fill="#231f20">10<tspan font-size="5.2" dy="-3">1</tspan></text>
<line x1="213" y1="523.2" x2="213" y2="525.7" stroke="#231f20" stroke-width="0.9" />
<text x="215.8" y="536.6" font-size="7.6" text-anchor="middle" fill="#231f20">10<tspan font-size="5.2" dy="-3">1</tspan></text>
<line x1="193" y1="487.2" x2="195.5" y2="487.2" stroke="#231f20" stroke-width="0.9" />
<text x="191.3" y="490.5" font-size="7.6" text-anchor="end" fill="#231f20">10<tspan font-size="5.2" dy="-3">2</tspan></text>
<line x1="230.5" y1="523.2" x2="230.5" y2="525.7" stroke="#231f20" stroke-width="0.9" />
<text x="233.3" y="536.6" font-size="7.6" text-anchor="middle" fill="#231f20">10<tspan font-size="5.2" dy="-3">2</tspan></text>
<line x1="193" y1="469.2" x2="195.5" y2="469.2" stroke="#231f20" stroke-width="0.9" />
<text x="191.3" y="472.5" font-size="7.6" text-anchor="end" fill="#231f20">10<tspan font-size="5.2" dy="-3">3</tspan></text>
<line x1="248" y1="523.2" x2="248" y2="525.7" stroke="#231f20" stroke-width="0.9" />
<text x="250.8" y="536.6" font-size="7.6" text-anchor="middle" fill="#231f20">10<tspan font-size="5.2" dy="-3">3</tspan></text>
<line x1="193" y1="451.2" x2="195.5" y2="451.2" stroke="#231f20" stroke-width="0.9" />
<text x="191.3" y="454.5" font-size="7.6" text-anchor="end" fill="#231f20">10<tspan font-size="5.2" dy="-3">4</tspan></text>
<line x1="265.5" y1="523.2" x2="265.5" y2="525.7" stroke="#231f20" stroke-width="0.9" />
<text x="268.3" y="536.6" font-size="7.6" text-anchor="middle" fill="#231f20">10<tspan font-size="5.2" dy="-3">4</tspan></text>
<line x1="193" y1="433.2" x2="195.5" y2="433.2" stroke="#231f20" stroke-width="0.9" />
<text x="191.3" y="436.5" font-size="7.6" text-anchor="end" fill="#231f20">10<tspan font-size="5.2" dy="-3">5</tspan></text>
<line x1="283" y1="523.2" x2="283" y2="525.7" stroke="#231f20" stroke-width="0.9" />
<text x="285.8" y="536.6" font-size="7.6" text-anchor="middle" fill="#231f20">10<tspan font-size="5.2" dy="-3">5</tspan></text>
<text class="c" x="172.3" y="476.3" font-size="9.6" text-anchor="middle" textLength="34.8" lengthAdjust="spacingAndGlyphs" fill="#231f20" transform="rotate(-90 172.3 476.3)">PAC-1-FITC</text>
<text class="c" x="243.4" y="550.5" font-size="9.6" text-anchor="middle" textLength="35.7" lengthAdjust="spacingAndGlyphs" fill="#231f20">CD62P-APC</text>
<rect x="275.6" y="452.7" width="5.2" height="5.2" fill="#111" stroke="none" stroke-width="0.8" />
<text x="283" y="458" font-size="7.6" text-anchor="start" fill="#231f20" >ctrl</text>
<rect x="275.6" y="460.9" width="5.2" height="5.2" fill="#5cc6cc" stroke="none" stroke-width="0.8" />
<text x="283" y="466.2" font-size="7.6" text-anchor="start" fill="#231f20" >sepsis</text>
<rect x="275.6" y="469.1" width="5.2" height="5.2" fill="#c2449e" stroke="none" stroke-width="0.8" />
<text x="283" y="474.4" font-size="7.6" text-anchor="start" fill="#231f20" >COVID-19</text>
<rect x="361.75" y="507.84" width="10" height="15.41" fill="#c8c8c8" stroke="none" stroke-width="0.8" />
<rect x="361.75" y="471.63" width="10" height="36.21" fill="#3fa83b" stroke="none" stroke-width="0.8" />
<rect x="361.75" y="465.46" width="10" height="6.16" fill="#15488c" stroke="none" stroke-width="0.8" />
<rect x="361.75" y="446.2" width="10" height="19.26" fill="#f5c21b" stroke="none" stroke-width="0.8" />
<line x1="366.75" y1="510.15" x2="366.75" y2="505.53" stroke="#222" stroke-width="0.75" />
<line x1="364.15" y1="505.53" x2="369.35" y2="505.53" stroke="#222" stroke-width="0.75" />
<line x1="364.15" y1="510.15" x2="369.35" y2="510.15" stroke="#222" stroke-width="0.75" />
<line x1="366.75" y1="475.48" x2="366.75" y2="467.77" stroke="#222" stroke-width="0.75" />
<line x1="364.15" y1="467.77" x2="369.35" y2="467.77" stroke="#222" stroke-width="0.75" />
<line x1="364.15" y1="475.48" x2="369.35" y2="475.48" stroke="#222" stroke-width="0.75" />
<line x1="366.75" y1="467" x2="366.75" y2="463.92" stroke="#222" stroke-width="0.75" />
<line x1="364.15" y1="463.92" x2="369.35" y2="463.92" stroke="#222" stroke-width="0.75" />
<line x1="364.15" y1="467" x2="369.35" y2="467" stroke="#222" stroke-width="0.75" />
<line x1="366.75" y1="450.05" x2="366.75" y2="442.35" stroke="#222" stroke-width="0.75" />
<line x1="364.15" y1="442.35" x2="369.35" y2="442.35" stroke="#222" stroke-width="0.75" />
<line x1="364.15" y1="450.05" x2="369.35" y2="450.05" stroke="#222" stroke-width="0.75" />
<rect x="376.25" y="506.3" width="10" height="16.95" fill="#c8c8c8" stroke="none" stroke-width="0.8" />
<rect x="376.25" y="471.63" width="10" height="34.67" fill="#3fa83b" stroke="none" stroke-width="0.8" />
<rect x="376.25" y="463.15" width="10" height="8.48" fill="#15488c" stroke="none" stroke-width="0.8" />
<rect x="376.25" y="446.2" width="10" height="16.95" fill="#f5c21b" stroke="none" stroke-width="0.8" />
<line x1="381.25" y1="509.38" x2="381.25" y2="503.22" stroke="#222" stroke-width="0.75" />
<line x1="378.65" y1="503.22" x2="383.85" y2="503.22" stroke="#222" stroke-width="0.75" />
<line x1="378.65" y1="509.38" x2="383.85" y2="509.38" stroke="#222" stroke-width="0.75" />
<line x1="381.25" y1="475.48" x2="381.25" y2="467.77" stroke="#222" stroke-width="0.75" />
<line x1="378.65" y1="467.77" x2="383.85" y2="467.77" stroke="#222" stroke-width="0.75" />
<line x1="378.65" y1="475.48" x2="383.85" y2="475.48" stroke="#222" stroke-width="0.75" />
<line x1="381.25" y1="466.23" x2="381.25" y2="460.07" stroke="#222" stroke-width="0.75" />
<line x1="378.65" y1="460.07" x2="383.85" y2="460.07" stroke="#222" stroke-width="0.75" />
<line x1="378.65" y1="466.23" x2="383.85" y2="466.23" stroke="#222" stroke-width="0.75" />
<line x1="381.25" y1="450.05" x2="381.25" y2="442.35" stroke="#222" stroke-width="0.75" />
<line x1="378.65" y1="442.35" x2="383.85" y2="442.35" stroke="#222" stroke-width="0.75" />
<line x1="378.65" y1="450.05" x2="383.85" y2="450.05" stroke="#222" stroke-width="0.75" />
<rect x="390.75" y="489.35" width="10" height="33.9" fill="#c8c8c8" stroke="none" stroke-width="0.8" />
<rect x="390.75" y="470.09" width="10" height="19.26" fill="#3fa83b" stroke="none" stroke-width="0.8" />
<rect x="390.75" y="460.84" width="10" height="9.25" fill="#15488c" stroke="none" stroke-width="0.8" />
<rect x="390.75" y="446.2" width="10" height="14.64" fill="#f5c21b" stroke="none" stroke-width="0.8" />
<line x1="395.75" y1="493.2" x2="395.75" y2="485.5" stroke="#222" stroke-width="0.75" />
<line x1="393.15" y1="485.5" x2="398.35" y2="485.5" stroke="#222" stroke-width="0.75" />
<line x1="393.15" y1="493.2" x2="398.35" y2="493.2" stroke="#222" stroke-width="0.75" />
<line x1="395.75" y1="473.94" x2="395.75" y2="466.23" stroke="#222" stroke-width="0.75" />
<line x1="393.15" y1="466.23" x2="398.35" y2="466.23" stroke="#222" stroke-width="0.75" />
<line x1="393.15" y1="473.94" x2="398.35" y2="473.94" stroke="#222" stroke-width="0.75" />
<line x1="395.75" y1="463.15" x2="395.75" y2="458.53" stroke="#222" stroke-width="0.75" />
<line x1="393.15" y1="458.53" x2="398.35" y2="458.53" stroke="#222" stroke-width="0.75" />
<line x1="393.15" y1="463.15" x2="398.35" y2="463.15" stroke="#222" stroke-width="0.75" />
<line x1="395.75" y1="449.28" x2="395.75" y2="443.12" stroke="#222" stroke-width="0.75" />
<line x1="393.15" y1="443.12" x2="398.35" y2="443.12" stroke="#222" stroke-width="0.75" />
<line x1="393.15" y1="449.28" x2="398.35" y2="449.28" stroke="#222" stroke-width="0.75" />
<rect x="405.5" y="487.81" width="10" height="35.44" fill="#c8c8c8" stroke="none" stroke-width="0.8" />
<rect x="405.5" y="468.54" width="10" height="19.26" fill="#3fa83b" stroke="none" stroke-width="0.8" />
<rect x="405.5" y="456.22" width="10" height="12.33" fill="#15488c" stroke="none" stroke-width="0.8" />
<rect x="405.5" y="446.2" width="10" height="10.02" fill="#f5c21b" stroke="none" stroke-width="0.8" />
<line x1="410.5" y1="493.97" x2="410.5" y2="481.64" stroke="#222" stroke-width="0.75" />
<line x1="407.9" y1="481.64" x2="413.1" y2="481.64" stroke="#222" stroke-width="0.75" />
<line x1="407.9" y1="493.97" x2="413.1" y2="493.97" stroke="#222" stroke-width="0.75" />
<line x1="410.5" y1="474.71" x2="410.5" y2="462.38" stroke="#222" stroke-width="0.75" />
<line x1="407.9" y1="462.38" x2="413.1" y2="462.38" stroke="#222" stroke-width="0.75" />
<line x1="407.9" y1="474.71" x2="413.1" y2="474.71" stroke="#222" stroke-width="0.75" />
<line x1="410.5" y1="460.07" x2="410.5" y2="452.36" stroke="#222" stroke-width="0.75" />
<line x1="407.9" y1="452.36" x2="413.1" y2="452.36" stroke="#222" stroke-width="0.75" />
<line x1="407.9" y1="460.07" x2="413.1" y2="460.07" stroke="#222" stroke-width="0.75" />
<line x1="410.5" y1="450.05" x2="410.5" y2="442.35" stroke="#222" stroke-width="0.75" />
<line x1="407.9" y1="442.35" x2="413.1" y2="442.35" stroke="#222" stroke-width="0.75" />
<line x1="407.9" y1="450.05" x2="413.1" y2="450.05" stroke="#222" stroke-width="0.75" />
<rect x="420" y="494.74" width="10" height="28.51" fill="#c8c8c8" stroke="none" stroke-width="0.8" />
<rect x="420" y="471.63" width="10" height="23.12" fill="#3fa83b" stroke="none" stroke-width="0.8" />
<rect x="420" y="452.36" width="10" height="19.26" fill="#15488c" stroke="none" stroke-width="0.8" />
<rect x="420" y="446.2" width="10" height="6.16" fill="#f5c21b" stroke="none" stroke-width="0.8" />
<line x1="425" y1="498.59" x2="425" y2="490.89" stroke="#222" stroke-width="0.75" />
<line x1="422.4" y1="490.89" x2="427.6" y2="490.89" stroke="#222" stroke-width="0.75" />
<line x1="422.4" y1="498.59" x2="427.6" y2="498.59" stroke="#222" stroke-width="0.75" />
<line x1="425" y1="475.48" x2="425" y2="467.77" stroke="#222" stroke-width="0.75" />
<line x1="422.4" y1="467.77" x2="427.6" y2="467.77" stroke="#222" stroke-width="0.75" />
<line x1="422.4" y1="475.48" x2="427.6" y2="475.48" stroke="#222" stroke-width="0.75" />
<line x1="425" y1="456.99" x2="425" y2="447.74" stroke="#222" stroke-width="0.75" />
<line x1="422.4" y1="447.74" x2="427.6" y2="447.74" stroke="#222" stroke-width="0.75" />
<line x1="422.4" y1="456.99" x2="427.6" y2="456.99" stroke="#222" stroke-width="0.75" />
<line x1="425" y1="448.51" x2="425" y2="443.89" stroke="#222" stroke-width="0.75" />
<line x1="422.4" y1="443.89" x2="427.6" y2="443.89" stroke="#222" stroke-width="0.75" />
<line x1="422.4" y1="448.51" x2="427.6" y2="448.51" stroke="#222" stroke-width="0.75" />
<rect x="434.5" y="493.97" width="10" height="29.28" fill="#c8c8c8" stroke="none" stroke-width="0.8" />
<rect x="434.5" y="471.63" width="10" height="22.34" fill="#3fa83b" stroke="none" stroke-width="0.8" />
<rect x="434.5" y="454.68" width="10" height="16.95" fill="#15488c" stroke="none" stroke-width="0.8" />
<rect x="434.5" y="446.2" width="10" height="8.48" fill="#f5c21b" stroke="none" stroke-width="0.8" />
<line x1="439.5" y1="497.05" x2="439.5" y2="490.89" stroke="#222" stroke-width="0.75" />
<line x1="436.9" y1="490.89" x2="442.1" y2="490.89" stroke="#222" stroke-width="0.75" />
<line x1="436.9" y1="497.05" x2="442.1" y2="497.05" stroke="#222" stroke-width="0.75" />
<line x1="439.5" y1="475.48" x2="439.5" y2="467.77" stroke="#222" stroke-width="0.75" />
<line x1="436.9" y1="467.77" x2="442.1" y2="467.77" stroke="#222" stroke-width="0.75" />
<line x1="436.9" y1="475.48" x2="442.1" y2="475.48" stroke="#222" stroke-width="0.75" />
<line x1="439.5" y1="458.53" x2="439.5" y2="450.82" stroke="#222" stroke-width="0.75" />
<line x1="436.9" y1="450.82" x2="442.1" y2="450.82" stroke="#222" stroke-width="0.75" />
<line x1="436.9" y1="458.53" x2="442.1" y2="458.53" stroke="#222" stroke-width="0.75" />
<line x1="439.5" y1="448.51" x2="439.5" y2="443.89" stroke="#222" stroke-width="0.75" />
<line x1="436.9" y1="443.89" x2="442.1" y2="443.89" stroke="#222" stroke-width="0.75" />
<line x1="436.9" y1="448.51" x2="442.1" y2="448.51" stroke="#222" stroke-width="0.75" />
<line x1="356.8" y1="431.2" x2="356.8" y2="523.75" stroke="#231f20" stroke-width="1.25" />
<line x1="356.3" y1="523.25" x2="447.5" y2="523.25" stroke="#231f20" stroke-width="1.25" />
<line x1="353.8" y1="523.25" x2="356.8" y2="523.25" stroke="#231f20" stroke-width="0.9" />
<text x="350.3" y="526.15" font-size="8" text-anchor="end" fill="#231f20" >0</text>
<line x1="353.8" y1="484.73" x2="356.8" y2="484.73" stroke="#231f20" stroke-width="0.9" />
<text x="350.3" y="487.62" font-size="8" text-anchor="end" fill="#231f20" >50</text>
<line x1="353.8" y1="446.2" x2="356.8" y2="446.2" stroke="#231f20" stroke-width="0.9" />
<text x="350.3" y="449.1" font-size="8" text-anchor="end" fill="#231f20" >100</text>
<line x1="366.75" y1="523.25" x2="366.75" y2="525.75" stroke="#231f20" stroke-width="0.8" />
<line x1="381.25" y1="523.25" x2="381.25" y2="525.75" stroke="#231f20" stroke-width="0.8" />
<line x1="395.75" y1="523.25" x2="395.75" y2="525.75" stroke="#231f20" stroke-width="0.8" />
<line x1="410.5" y1="523.25" x2="410.5" y2="525.75" stroke="#231f20" stroke-width="0.8" />
<line x1="425" y1="523.25" x2="425" y2="525.75" stroke="#231f20" stroke-width="0.8" />
<line x1="439.5" y1="523.25" x2="439.5" y2="525.75" stroke="#231f20" stroke-width="0.8" />
<text x="366.75" y="536.5" font-size="8" text-anchor="middle" fill="#231f20" >ctrl</text>
<text x="381.25" y="536.5" font-size="8" text-anchor="middle" fill="#231f20" >inf</text>
<text x="395.55" y="536.5" font-size="8" text-anchor="middle" fill="#231f20">t<tspan font-size="5.5" dy="2">1</tspan></text>
<text x="410.3" y="536.5" font-size="8" text-anchor="middle" fill="#231f20">t<tspan font-size="5.5" dy="2">2</tspan></text>
<text x="424.8" y="536.5" font-size="8" text-anchor="middle" fill="#231f20">t<tspan font-size="5.5" dy="2">1</tspan></text>
<text x="439.3" y="536.5" font-size="8" text-anchor="middle" fill="#231f20">t<tspan font-size="5.5" dy="2">2</tspan></text>
<line x1="394.75" y1="541.2" x2="413" y2="541.2" stroke="#231f20" stroke-width="0.9" />
<line x1="424" y1="541.2" x2="442" y2="541.2" stroke="#231f20" stroke-width="0.9" />
<text x="402.82" y="551" font-size="8" text-anchor="middle" fill="#231f20" >sepsis</text>
<text x="418.6" y="551" font-size="8" text-anchor="start" fill="#231f20" >COVID-19</text>
<text class="c" x="330.6" y="477.73" font-size="9.6" text-anchor="middle" textLength="97.6" lengthAdjust="spacingAndGlyphs" fill="#231f20" transform="rotate(-90 330.6 477.73)">PLTs in respective quadrant [%]</text>
<rect x="40" y="678.62" width="10" height="3.88" fill="#c8c8c8" stroke="none" stroke-width="0.8" />
<rect x="40" y="617.4" width="10" height="61.23" fill="#3fa83b" stroke="none" stroke-width="0.8" />
<rect x="40" y="613.52" width="10" height="3.88" fill="#15488c" stroke="none" stroke-width="0.8" />
<rect x="40" y="605" width="10" height="8.52" fill="#f5c21b" stroke="none" stroke-width="0.8" />
<line x1="45" y1="680.17" x2="45" y2="677.08" stroke="#222" stroke-width="0.75" />
<line x1="42.4" y1="677.08" x2="47.6" y2="677.08" stroke="#222" stroke-width="0.75" />
<line x1="42.4" y1="680.17" x2="47.6" y2="680.17" stroke="#222" stroke-width="0.75" />
<line x1="45" y1="620.5" x2="45" y2="614.3" stroke="#222" stroke-width="0.75" />
<line x1="42.4" y1="614.3" x2="47.6" y2="614.3" stroke="#222" stroke-width="0.75" />
<line x1="42.4" y1="620.5" x2="47.6" y2="620.5" stroke="#222" stroke-width="0.75" />
<line x1="45" y1="615.08" x2="45" y2="611.98" stroke="#222" stroke-width="0.75" />
<line x1="42.4" y1="611.98" x2="47.6" y2="611.98" stroke="#222" stroke-width="0.75" />
<line x1="42.4" y1="615.08" x2="47.6" y2="615.08" stroke="#222" stroke-width="0.75" />
<line x1="45" y1="607.33" x2="45" y2="602.67" stroke="#222" stroke-width="0.75" />
<line x1="42.4" y1="602.67" x2="47.6" y2="602.67" stroke="#222" stroke-width="0.75" />
<line x1="42.4" y1="607.33" x2="47.6" y2="607.33" stroke="#222" stroke-width="0.75" />
<rect x="54.5" y="665.45" width="10" height="17.05" fill="#c8c8c8" stroke="none" stroke-width="0.8" />
<rect x="54.5" y="618.95" width="10" height="46.5" fill="#3fa83b" stroke="none" stroke-width="0.8" />
<rect x="54.5" y="614.3" width="10" height="4.65" fill="#15488c" stroke="none" stroke-width="0.8" />
<rect x="54.5" y="605" width="10" height="9.3" fill="#f5c21b" stroke="none" stroke-width="0.8" />
<line x1="59.5" y1="673.2" x2="59.5" y2="657.7" stroke="#222" stroke-width="0.75" />
<line x1="56.9" y1="657.7" x2="62.1" y2="657.7" stroke="#222" stroke-width="0.75" />
<line x1="56.9" y1="673.2" x2="62.1" y2="673.2" stroke="#222" stroke-width="0.75" />
<line x1="59.5" y1="623.6" x2="59.5" y2="614.3" stroke="#222" stroke-width="0.75" />
<line x1="56.9" y1="614.3" x2="62.1" y2="614.3" stroke="#222" stroke-width="0.75" />
<line x1="56.9" y1="623.6" x2="62.1" y2="623.6" stroke="#222" stroke-width="0.75" />
<line x1="59.5" y1="616.62" x2="59.5" y2="611.98" stroke="#222" stroke-width="0.75" />
<line x1="56.9" y1="611.98" x2="62.1" y2="611.98" stroke="#222" stroke-width="0.75" />
<line x1="56.9" y1="616.62" x2="62.1" y2="616.62" stroke="#222" stroke-width="0.75" />
<line x1="59.5" y1="608.1" x2="59.5" y2="601.9" stroke="#222" stroke-width="0.75" />
<line x1="56.9" y1="601.9" x2="62.1" y2="601.9" stroke="#222" stroke-width="0.75" />
<line x1="56.9" y1="608.1" x2="62.1" y2="608.1" stroke="#222" stroke-width="0.75" />
<rect x="69.25" y="652.27" width="10" height="30.23" fill="#c8c8c8" stroke="none" stroke-width="0.8" />
<rect x="69.25" y="621.27" width="10" height="31" fill="#3fa83b" stroke="none" stroke-width="0.8" />
<rect x="69.25" y="609.65" width="10" height="11.62" fill="#15488c" stroke="none" stroke-width="0.8" />
<rect x="69.25" y="605" width="10" height="4.65" fill="#f5c21b" stroke="none" stroke-width="0.8" />
<line x1="74.25" y1="656.92" x2="74.25" y2="647.62" stroke="#222" stroke-width="0.75" />
<line x1="71.65" y1="647.62" x2="76.85" y2="647.62" stroke="#222" stroke-width="0.75" />
<line x1="71.65" y1="656.92" x2="76.85" y2="656.92" stroke="#222" stroke-width="0.75" />
<line x1="74.25" y1="625.92" x2="74.25" y2="616.62" stroke="#222" stroke-width="0.75" />
<line x1="71.65" y1="616.62" x2="76.85" y2="616.62" stroke="#222" stroke-width="0.75" />
<line x1="71.65" y1="625.92" x2="76.85" y2="625.92" stroke="#222" stroke-width="0.75" />
<line x1="74.25" y1="612.75" x2="74.25" y2="606.55" stroke="#222" stroke-width="0.75" />
<line x1="71.65" y1="606.55" x2="76.85" y2="606.55" stroke="#222" stroke-width="0.75" />
<line x1="71.65" y1="612.75" x2="76.85" y2="612.75" stroke="#222" stroke-width="0.75" />
<line x1="74.25" y1="606.55" x2="74.25" y2="603.45" stroke="#222" stroke-width="0.75" />
<line x1="71.65" y1="603.45" x2="76.85" y2="603.45" stroke="#222" stroke-width="0.75" />
<line x1="71.65" y1="606.55" x2="76.85" y2="606.55" stroke="#222" stroke-width="0.75" />
<rect x="83.75" y="654.6" width="10" height="27.9" fill="#c8c8c8" stroke="none" stroke-width="0.8" />
<rect x="83.75" y="620.5" width="10" height="34.1" fill="#3fa83b" stroke="none" stroke-width="0.8" />
<rect x="83.75" y="609.65" width="10" height="10.85" fill="#15488c" stroke="none" stroke-width="0.8" />
<rect x="83.75" y="605" width="10" height="4.65" fill="#f5c21b" stroke="none" stroke-width="0.8" />
<line x1="88.75" y1="662.35" x2="88.75" y2="646.85" stroke="#222" stroke-width="0.75" />
<line x1="86.15" y1="646.85" x2="91.35" y2="646.85" stroke="#222" stroke-width="0.75" />
<line x1="86.15" y1="662.35" x2="91.35" y2="662.35" stroke="#222" stroke-width="0.75" />
<line x1="88.75" y1="628.25" x2="88.75" y2="612.75" stroke="#222" stroke-width="0.75" />
<line x1="86.15" y1="612.75" x2="91.35" y2="612.75" stroke="#222" stroke-width="0.75" />
<line x1="86.15" y1="628.25" x2="91.35" y2="628.25" stroke="#222" stroke-width="0.75" />
<line x1="88.75" y1="613.52" x2="88.75" y2="605.77" stroke="#222" stroke-width="0.75" />
<line x1="86.15" y1="605.77" x2="91.35" y2="605.77" stroke="#222" stroke-width="0.75" />
<line x1="86.15" y1="613.52" x2="91.35" y2="613.52" stroke="#222" stroke-width="0.75" />
<line x1="88.75" y1="607.33" x2="88.75" y2="602.67" stroke="#222" stroke-width="0.75" />
<line x1="86.15" y1="602.67" x2="91.35" y2="602.67" stroke="#222" stroke-width="0.75" />
<line x1="86.15" y1="607.33" x2="91.35" y2="607.33" stroke="#222" stroke-width="0.75" />
<rect x="98.25" y="661.58" width="10" height="20.92" fill="#c8c8c8" stroke="none" stroke-width="0.8" />
<rect x="98.25" y="632.9" width="10" height="28.68" fill="#3fa83b" stroke="none" stroke-width="0.8" />
<rect x="98.25" y="606.55" width="10" height="26.35" fill="#15488c" stroke="none" stroke-width="0.8" />
<rect x="98.25" y="605" width="10" height="1.55" fill="#f5c21b" stroke="none" stroke-width="0.8" />
<line x1="103.25" y1="667" x2="103.25" y2="656.15" stroke="#222" stroke-width="0.75" />
<line x1="100.65" y1="656.15" x2="105.85" y2="656.15" stroke="#222" stroke-width="0.75" />
<line x1="100.65" y1="667" x2="105.85" y2="667" stroke="#222" stroke-width="0.75" />
<line x1="103.25" y1="639.1" x2="103.25" y2="626.7" stroke="#222" stroke-width="0.75" />
<line x1="100.65" y1="626.7" x2="105.85" y2="626.7" stroke="#222" stroke-width="0.75" />
<line x1="100.65" y1="639.1" x2="105.85" y2="639.1" stroke="#222" stroke-width="0.75" />
<line x1="103.25" y1="611.2" x2="103.25" y2="601.9" stroke="#222" stroke-width="0.75" />
<line x1="100.65" y1="601.9" x2="105.85" y2="601.9" stroke="#222" stroke-width="0.75" />
<line x1="100.65" y1="611.2" x2="105.85" y2="611.2" stroke="#222" stroke-width="0.75" />
<line x1="103.25" y1="608.1" x2="103.25" y2="601.9" stroke="#222" stroke-width="0.75" />
<line x1="100.65" y1="601.9" x2="105.85" y2="601.9" stroke="#222" stroke-width="0.75" />
<line x1="100.65" y1="608.1" x2="105.85" y2="608.1" stroke="#222" stroke-width="0.75" />
<rect x="113" y="659.25" width="10" height="23.25" fill="#c8c8c8" stroke="none" stroke-width="0.8" />
<rect x="113" y="628.25" width="10" height="31" fill="#3fa83b" stroke="none" stroke-width="0.8" />
<rect x="113" y="607.33" width="10" height="20.92" fill="#15488c" stroke="none" stroke-width="0.8" />
<rect x="113" y="605" width="10" height="2.33" fill="#f5c21b" stroke="none" stroke-width="0.8" />
<line x1="118" y1="664.67" x2="118" y2="653.83" stroke="#222" stroke-width="0.75" />
<line x1="115.4" y1="653.83" x2="120.6" y2="653.83" stroke="#222" stroke-width="0.75" />
<line x1="115.4" y1="664.67" x2="120.6" y2="664.67" stroke="#222" stroke-width="0.75" />
<line x1="118" y1="635.23" x2="118" y2="621.27" stroke="#222" stroke-width="0.75" />
<line x1="115.4" y1="621.27" x2="120.6" y2="621.27" stroke="#222" stroke-width="0.75" />
<line x1="115.4" y1="635.23" x2="120.6" y2="635.23" stroke="#222" stroke-width="0.75" />
<line x1="118" y1="612.75" x2="118" y2="601.9" stroke="#222" stroke-width="0.75" />
<line x1="115.4" y1="601.9" x2="120.6" y2="601.9" stroke="#222" stroke-width="0.75" />
<line x1="115.4" y1="612.75" x2="120.6" y2="612.75" stroke="#222" stroke-width="0.75" />
<line x1="118" y1="606.55" x2="118" y2="603.45" stroke="#222" stroke-width="0.75" />
<line x1="115.4" y1="603.45" x2="120.6" y2="603.45" stroke="#222" stroke-width="0.75" />
<line x1="115.4" y1="606.55" x2="120.6" y2="606.55" stroke="#222" stroke-width="0.75" />
<line x1="35.4" y1="591.2" x2="35.4" y2="683" stroke="#231f20" stroke-width="1.25" />
<line x1="34.9" y1="682.5" x2="126.5" y2="682.5" stroke="#231f20" stroke-width="1.25" />
<line x1="32.4" y1="682.5" x2="35.4" y2="682.5" stroke="#231f20" stroke-width="0.9" />
<text x="28.9" y="685.4" font-size="8" text-anchor="end" fill="#231f20" >0</text>
<line x1="32.4" y1="643.75" x2="35.4" y2="643.75" stroke="#231f20" stroke-width="0.9" />
<text x="28.9" y="646.65" font-size="8" text-anchor="end" fill="#231f20" >50</text>
<line x1="32.4" y1="605" x2="35.4" y2="605" stroke="#231f20" stroke-width="0.9" />
<text x="28.9" y="607.9" font-size="8" text-anchor="end" fill="#231f20" >100</text>
<line x1="45" y1="682.5" x2="45" y2="685" stroke="#231f20" stroke-width="0.8" />
<line x1="59.5" y1="682.5" x2="59.5" y2="685" stroke="#231f20" stroke-width="0.8" />
<line x1="74.25" y1="682.5" x2="74.25" y2="685" stroke="#231f20" stroke-width="0.8" />
<line x1="88.75" y1="682.5" x2="88.75" y2="685" stroke="#231f20" stroke-width="0.8" />
<line x1="103.25" y1="682.5" x2="103.25" y2="685" stroke="#231f20" stroke-width="0.8" />
<line x1="118" y1="682.5" x2="118" y2="685" stroke="#231f20" stroke-width="0.8" />
<text x="45" y="695.3" font-size="8" text-anchor="middle" fill="#231f20" >ctrl</text>
<text x="59.5" y="695.3" font-size="8" text-anchor="middle" fill="#231f20" >inf</text>
<text x="74.05" y="695.3" font-size="8" text-anchor="middle" fill="#231f20">t<tspan font-size="5.5" dy="2">1</tspan></text>
<text x="88.55" y="695.3" font-size="8" text-anchor="middle" fill="#231f20">t<tspan font-size="5.5" dy="2">2</tspan></text>
<text x="103.05" y="695.3" font-size="8" text-anchor="middle" fill="#231f20">t<tspan font-size="5.5" dy="2">1</tspan></text>
<text x="117.8" y="695.3" font-size="8" text-anchor="middle" fill="#231f20">t<tspan font-size="5.5" dy="2">2</tspan></text>
<line x1="73.25" y1="701.3" x2="91.25" y2="701.3" stroke="#231f20" stroke-width="0.9" />
<line x1="102.25" y1="701.3" x2="120.5" y2="701.3" stroke="#231f20" stroke-width="0.9" />
<text x="81.2" y="709" font-size="8" text-anchor="middle" fill="#231f20" >sepsis</text>
<text x="96.85" y="709" font-size="8" text-anchor="start" fill="#231f20" >COVID-19</text>
<text class="c" x="7.9" y="637.35" font-size="9.6" text-anchor="middle" textLength="97.6" lengthAdjust="spacingAndGlyphs" fill="#231f20" transform="rotate(-90 7.9 637.35)">PLTs in respective quadrant [%]</text>
<rect x="453.2" y="462" width="6" height="6" fill="#f5c21b" stroke="none" stroke-width="0.8" />
<text x="462.3" y="467.9" font-size="8" fill="#231f20">CD62P<tspan font-size="5.5" dy="-3">&#8211;</tspan><tspan dy="3">/PAC-1</tspan><tspan font-size="5.5" dy="-3">+</tspan></text>
<rect x="453.2" y="470.95" width="6" height="6" fill="#15488c" stroke="none" stroke-width="0.8" />
<text x="462.3" y="476.85" font-size="8" fill="#231f20">CD62P<tspan font-size="5.5" dy="-3">+</tspan><tspan dy="3">/PAC-1</tspan><tspan font-size="5.5" dy="-3">&#8211;</tspan></text>
<rect x="453.2" y="479.9" width="6" height="6" fill="#3fa83b" stroke="none" stroke-width="0.8" />
<text x="462.3" y="485.8" font-size="8" fill="#231f20">CD62P<tspan font-size="5.5" dy="-3">+</tspan><tspan dy="3">/PAC-1</tspan><tspan font-size="5.5" dy="-3">+</tspan></text>
<rect x="453.2" y="488.85" width="6" height="6" fill="#c8c8c8" stroke="none" stroke-width="0.8" />
<text x="462.3" y="494.75" font-size="8" fill="#231f20">CD62P<tspan font-size="5.5" dy="-3">&#8211;</tspan><tspan dy="3">/PAC-1</tspan><tspan font-size="5.5" dy="-3">&#8211;</tspan></text>
<path d="M269.2 640.8h1v1h-1zM282.6 635.7h1v1h-1zM262.7 613.6h1v1h-1zM265.8 631.6h1v1h-1zM251.8 611.9h1v1h-1zM265.6 637.3h1v1h-1zM258.2 609.1h1v1h-1zM255.7 633.2h1v1h-1zM257.2 617.0h1v1h-1zM277.4 626.4h1v1h-1zM256.3 626.5h1v1h-1zM274.5 646.5h1v1h-1zM258.4 631.8h1v1h-1zM251.3 641.6h1v1h-1zM257.5 619.5h1v1h-1zM265.0 642.7h1v1h-1zM246.8 618.7h1v1h-1zM268.7 650.5h1v1h-1zM265.9 617.2h1v1h-1zM256.3 609.8h1v1h-1zM260.0 613.1h1v1h-1zM267.9 645.4h1v1h-1zM262.1 623.2h1v1h-1zM269.5 643.3h1v1h-1zM247.5 623.9h1v1h-1zM255.4 624.9h1v1h-1zM263.5 640.1h1v1h-1zM263.1 616.0h1v1h-1zM260.0 608.1h1v1h-1zM283.3 634.5h1v1h-1zM264.0 618.6h1v1h-1zM258.2 643.2h1v1h-1zM275.5 638.2h1v1h-1zM270.9 641.8h1v1h-1zM258.3 638.7h1v1h-1zM254.8 626.7h1v1h-1zM275.3 638.0h1v1h-1zM270.3 631.9h1v1h-1zM253.5 636.9h1v1h-1zM262.4 644.9h1v1h-1zM270.2 643.9h1v1h-1zM257.6 635.4h1v1h-1zM274.0 645.6h1v1h-1zM257.7 646.4h1v1h-1zM279.5 637.9h1v1h-1zM264.8 629.1h1v1h-1zM272.0 639.6h1v1h-1zM275.8 631.9h1v1h-1zM271.0 623.1h1v1h-1zM269.2 642.6h1v1h-1zM269.7 639.6h1v1h-1zM261.5 635.8h1v1h-1zM252.2 637.7h1v1h-1zM262.8 612.4h1v1h-1zM256.3 610.0h1v1h-1zM262.5 620.9h1v1h-1zM268.7 632.5h1v1h-1zM254.7 622.6h1v1h-1zM265.9 618.7h1v1h-1zM267.4 652.7h1v1h-1zM277.4 623.1h1v1h-1zM277.1 635.3h1v1h-1zM258.5 607.8h1v1h-1zM268.0 631.0h1v1h-1zM268.6 619.3h1v1h-1zM247.5 631.1h1v1h-1zM269.4 649.0h1v1h-1zM258.8 623.7h1v1h-1zM252.5 616.0h1v1h-1zM268.0 614.3h1v1h-1zM260.5 617.6h1v1h-1zM255.0 626.2h1v1h-1zM248.1 634.2h1v1h-1zM261.6 616.1h1v1h-1zM275.8 645.5h1v1h-1zM254.2 608.5h1v1h-1zM268.5 626.1h1v1h-1zM270.1 633.2h1v1h-1zM274.9 616.5h1v1h-1zM265.4 618.5h1v1h-1zM255.5 629.1h1v1h-1zM262.5 619.9h1v1h-1zM274.3 632.5h1v1h-1zM262.1 650.4h1v1h-1zM280.3 630.0h1v1h-1zM261.0 631.7h1v1h-1zM272.7 634.8h1v1h-1zM263.2 650.1h1v1h-1zM259.2 621.6h1v1h-1zM255.5 645.7h1v1h-1zM272.2 623.8h1v1h-1zM255.0 642.9h1v1h-1zM263.1 630.2h1v1h-1zM263.9 618.2h1v1h-1zM249.4 632.2h1v1h-1zM252.7 645.1h1v1h-1zM276.3 636.5h1v1h-1zM249.3 633.6h1v1h-1zM260.4 608.9h1v1h-1zM247.5 620.9h1v1h-1zM267.2 640.8h1v1h-1zM261.1 617.3h1v1h-1zM268.2 626.9h1v1h-1zM249.3 634.7h1v1h-1zM264.2 650.1h1v1h-1zM266.3 634.1h1v1h-1zM254.1 630.3h1v1h-1zM253.7 641.3h1v1h-1zM264.7 607.4h1v1h-1zM252.8 620.4h1v1h-1zM273.0 636.0h1v1h-1zM267.9 613.1h1v1h-1zM279.8 626.4h1v1h-1zM256.6 643.8h1v1h-1zM269.2 619.5h1v1h-1zM252.9 618.3h1v1h-1zM268.8 619.2h1v1h-1zM259.2 607.5h1v1h-1zM277.9 635.6h1v1h-1zM276.8 623.8h1v1h-1zM278.8 628.5h1v1h-1zM267.9 631.5h1v1h-1zM274.1 621.8h1v1h-1zM280.3 626.5h1v1h-1zM262.7 648.9h1v1h-1zM269.0 623.6h1v1h-1zM262.6 605.5h1v1h-1zM258.7 621.2h1v1h-1zM253.7 615.3h1v1h-1zM249.8 615.8h1v1h-1zM252.9 626.5h1v1h-1zM271.9 637.1h1v1h-1zM262.8 652.0h1v1h-1zM248.0 636.8h1v1h-1zM255.2 637.1h1v1h-1zM258.3 617.2h1v1h-1zM262.7 615.6h1v1h-1zM273.8 639.5h1v1h-1zM249.9 613.2h1v1h-1zM270.1 623.7h1v1h-1zM266.0 654.4h1v1h-1zM264.8 619.3h1v1h-1zM280.7 627.0h1v1h-1zM259.7 603.3h1v1h-1zM253.7 622.4h1v1h-1zM255.8 602.8h1v1h-1zM250.5 628.0h1v1h-1zM259.9 629.2h1v1h-1zM246.5 617.3h1v1h-1zM247.5 629.8h1v1h-1zM281.7 632.9h1v1h-1zM263.4 631.4h1v1h-1zM258.8 634.4h1v1h-1zM255.9 624.7h1v1h-1zM247.9 617.1h1v1h-1zM261.0 631.7h1v1h-1zM251.4 615.7h1v1h-1zM258.7 605.4h1v1h-1zM260.7 617.3h1v1h-1zM274.6 630.6h1v1h-1zM280.6 636.0h1v1h-1zM274.9 631.6h1v1h-1zM261.6 644.9h1v1h-1zM273.6 638.6h1v1h-1zM254.2 644.7h1v1h-1zM259.1 607.2h1v1h-1zM254.0 637.2h1v1h-1zM255.0 603.5h1v1h-1zM275.1 630.6h1v1h-1zM248.5 619.6h1v1h-1zM268.7 612.7h1v1h-1zM261.0 619.9h1v1h-1zM267.5 645.5h1v1h-1zM265.3 609.4h1v1h-1zM272.8 624.5h1v1h-1zM248.0 617.4h1v1h-1zM261.2 624.3h1v1h-1zM265.4 653.3h1v1h-1zM277.2 623.1h1v1h-1zM263.2 648.5h1v1h-1zM259.5 611.9h1v1h-1zM254.6 611.1h1v1h-1zM266.6 619.6h1v1h-1zM257.8 613.7h1v1h-1zM278.7 634.0h1v1h-1zM259.8 607.9h1v1h-1zM277.9 627.0h1v1h-1zM271.7 647.5h1v1h-1zM269.2 644.0h1v1h-1zM264.5 632.3h1v1h-1zM250.8 621.4h1v1h-1zM256.3 601.5h1v1h-1zM256.1 621.1h1v1h-1zM263.0 638.7h1v1h-1zM272.1 636.9h1v1h-1zM265.5 643.9h1v1h-1zM258.2 632.6h1v1h-1zM271.5 628.7h1v1h-1zM254.9 604.3h1v1h-1zM246.7 619.6h1v1h-1zM267.4 641.8h1v1h-1zM273.0 616.9h1v1h-1zM274.6 636.8h1v1h-1zM271.9 646.1h1v1h-1zM274.0 633.6h1v1h-1zM251.8 628.4h1v1h-1zM259.4 609.8h1v1h-1zM270.4 649.5h1v1h-1zM281.2 633.7h1v1h-1zM259.2 606.0h1v1h-1zM271.9 630.4h1v1h-1zM273.0 620.6h1v1h-1zM255.8 614.7h1v1h-1zM269.1 649.3h1v1h-1zM250.0 634.8h1v1h-1zM273.6 622.9h1v1h-1zM260.9 629.1h1v1h-1zM254.8 633.3h1v1h-1zM266.6 633.2h1v1h-1zM250.7 610.5h1v1h-1zM268.0 635.5h1v1h-1zM272.0 640.1h1v1h-1zM245.6 626.7h1v1h-1zM256.4 646.8h1v1h-1zM270.1 651.0h1v1h-1zM252.6 638.3h1v1h-1zM278.3 626.2h1v1h-1zM249.4 633.9h1v1h-1zM273.9 644.9h1v1h-1zM276.8 639.2h1v1h-1zM258.7 625.2h1v1h-1zM271.6 640.9h1v1h-1zM246.5 622.2h1v1h-1zM265.8 620.6h1v1h-1zM247.9 632.8h1v1h-1zM258.7 637.6h1v1h-1zM263.8 652.9h1v1h-1zM274.9 639.7h1v1h-1zM255.4 606.4h1v1h-1zM263.1 619.5h1v1h-1zM259.0 616.0h1v1h-1zM263.9 638.3h1v1h-1zM276.1 631.7h1v1h-1zM255.4 618.5h1v1h-1zM278.6 628.6h1v1h-1zM245.1 623.1h1v1h-1zM253.0 636.6h1v1h-1zM247.0 626.3h1v1h-1zM246.9 619.6h1v1h-1zM275.2 619.9h1v1h-1zM262.2 621.1h1v1h-1zM261.6 626.0h1v1h-1zM259.5 642.8h1v1h-1zM261.3 632.6h1v1h-1zM280.9 635.5h1v1h-1zM260.4 648.1h1v1h-1zM260.7 614.9h1v1h-1zM262.7 615.8h1v1h-1zM250.1 625.2h1v1h-1zM246.1 621.0h1v1h-1zM250.8 623.6h1v1h-1zM254.2 641.5h1v1h-1zM258.7 642.6h1v1h-1zM249.4 628.5h1v1h-1zM270.0 620.6h1v1h-1zM258.5 626.3h1v1h-1zM267.4 653.1h1v1h-1zM253.1 631.3h1v1h-1zM254.0 630.0h1v1h-1zM263.2 638.8h1v1h-1zM260.6 627.7h1v1h-1zM268.6 643.6h1v1h-1zM245.4 627.5h1v1h-1zM244.6 621.2h1v1h-1zM255.5 624.8h1v1h-1zM270.5 650.9h1v1h-1zM258.6 629.2h1v1h-1zM255.7 609.2h1v1h-1zM261.8 640.5h1v1h-1zM265.2 621.4h1v1h-1zM266.2 645.6h1v1h-1zM248.8 619.3h1v1h-1zM263.8 631.1h1v1h-1zM251.7 625.0h1v1h-1zM257.4 607.9h1v1h-1zM254.6 643.1h1v1h-1zM274.1 614.4h1v1h-1zM277.8 634.4h1v1h-1zM259.3 634.6h1v1h-1zM253.3 614.5h1v1h-1zM274.1 630.9h1v1h-1zM277.6 627.2h1v1h-1zM273.3 633.6h1v1h-1zM268.7 612.2h1v1h-1zM262.3 635.7h1v1h-1zM280.5 639.6h1v1h-1zM274.8 628.4h1v1h-1zM249.5 611.9h1v1h-1zM257.8 604.4h1v1h-1zM260.9 634.2h1v1h-1zM248.8 627.0h1v1h-1zM271.9 624.6h1v1h-1zM267.1 650.2h1v1h-1zM249.1 614.7h1v1h-1zM263.7 629.5h1v1h-1zM280.8 630.5h1v1h-1zM270.8 623.1h1v1h-1zM275.9 646.0h1v1h-1zM255.3 605.9h1v1h-1zM253.9 619.7h1v1h-1zM269.4 635.2h1v1h-1zM275.3 618.5h1v1h-1zM247.3 634.8h1v1h-1zM278.5 632.0h1v1h-1zM259.1 635.0h1v1h-1zM273.4 614.3h1v1h-1zM260.2 618.1h1v1h-1zM273.1 622.6h1v1h-1zM255.7 609.9h1v1h-1zM280.6 627.9h1v1h-1zM247.4 622.9h1v1h-1zM266.7 615.9h1v1h-1zM247.5 628.1h1v1h-1zM262.6 605.7h1v1h-1zM261.4 615.0h1v1h-1zM266.1 653.5h1v1h-1zM261.0 611.5h1v1h-1zM264.6 650.5h1v1h-1zM259.0 634.9h1v1h-1zM277.1 629.1h1v1h-1zM261.6 650.5h1v1h-1zM267.1 627.5h1v1h-1zM254.9 640.9h1v1h-1zM253.8 625.9h1v1h-1zM274.9 633.3h1v1h-1zM272.2 640.1h1v1h-1zM246.8 624.6h1v1h-1zM269.0 647.2h1v1h-1zM249.9 638.4h1v1h-1zM247.4 631.9h1v1h-1zM253.6 619.6h1v1h-1zM257.1 632.5h1v1h-1zM269.8 626.9h1v1h-1zM254.8 618.4h1v1h-1zM260.6 622.8h1v1h-1zM270.5 641.6h1v1h-1zM278.8 636.4h1v1h-1zM260.7 646.1h1v1h-1zM271.4 618.7h1v1h-1zM273.7 627.8h1v1h-1zM272.9 633.8h1v1h-1zM276.2 642.4h1v1h-1zM265.5 626.3h1v1h-1zM253.0 645.6h1v1h-1zM270.3 621.2h1v1h-1zM270.1 612.6h1v1h-1zM270.6 632.0h1v1h-1zM274.2 627.7h1v1h-1zM261.3 616.9h1v1h-1zM273.9 620.5h1v1h-1zM268.1 641.7h1v1h-1zM261.7 637.7h1v1h-1zM262.2 624.1h1v1h-1zM276.7 626.2h1v1h-1zM276.4 642.2h1v1h-1zM269.2 645.9h1v1h-1zM268.8 639.4h1v1h-1zM278.7 634.0h1v1h-1zM245.8 618.7h1v1h-1zM247.2 620.3h1v1h-1zM255.6 640.1h1v1h-1zM259.3 609.1h1v1h-1zM259.9 624.8h1v1h-1zM262.1 642.2h1v1h-1zM272.1 647.3h1v1h-1zM271.7 642.0h1v1h-1zM276.3 622.9h1v1h-1zM270.7 636.2h1v1h-1zM280.1 639.2h1v1h-1zM261.6 610.5h1v1h-1zM256.8 613.8h1v1h-1zM271.6 642.3h1v1h-1zM251.1 629.3h1v1h-1zM247.0 633.3h1v1h-1zM258.2 607.9h1v1h-1zM249.3 623.4h1v1h-1zM266.1 652.7h1v1h-1zM274.8 626.3h1v1h-1zM276.7 624.8h1v1h-1zM281.6 633.4h1v1h-1zM265.6 609.4h1v1h-1zM260.9 624.2h1v1h-1zM255.4 644.9h1v1h-1zM246.0 629.5h1v1h-1zM252.2 636.6h1v1h-1zM273.7 622.4h1v1h-1zM256.5 647.1h1v1h-1zM275.7 617.0h1v1h-1zM269.9 650.4h1v1h-1zM264.6 625.8h1v1h-1zM261.6 608.3h1v1h-1zM254.7 624.7h1v1h-1zM253.2 616.0h1v1h-1zM246.8 616.6h1v1h-1zM247.0 619.0h1v1h-1zM257.4 611.5h1v1h-1zM271.6 625.4h1v1h-1zM256.8 637.7h1v1h-1zM262.0 647.9h1v1h-1zM255.0 614.5h1v1h-1zM277.5 627.6h1v1h-1zM257.6 627.9h1v1h-1zM278.5 631.3h1v1h-1zM262.0 636.1h1v1h-1zM268.8 622.3h1v1h-1zM260.9 607.2h1v1h-1zM261.4 648.3h1v1h-1zM255.9 620.1h1v1h-1zM268.3 632.5h1v1h-1zM250.4 624.5h1v1h-1zM254.9 636.1h1v1h-1zM244.4 625.1h1v1h-1zM249.8 618.3h1v1h-1zM272.1 628.1h1v1h-1zM269.0 646.6h1v1h-1zM250.5 626.1h1v1h-1zM256.4 634.4h1v1h-1zM258.6 643.1h1v1h-1zM259.4 647.1h1v1h-1zM274.4 640.0h1v1h-1zM262.2 615.3h1v1h-1zM250.3 622.6h1v1h-1zM253.7 634.1h1v1h-1zM261.4 633.7h1v1h-1zM262.1 615.8h1v1h-1zM270.7 613.4h1v1h-1zM264.0 632.0h1v1h-1zM264.2 649.6h1v1h-1zM275.7 616.9h1v1h-1zM257.2 633.6h1v1h-1zM244.9 627.5h1v1h-1zM254.5 628.9h1v1h-1zM252.3 625.1h1v1h-1zM256.1 613.6h1v1h-1zM250.1 614.8h1v1h-1zM273.2 627.0h1v1h-1zM273.6 640.2h1v1h-1zM281.3 630.6h1v1h-1zM259.1 631.5h1v1h-1zM253.9 625.2h1v1h-1zM253.4 620.2h1v1h-1zM278.2 640.9h1v1h-1zM267.9 617.7h1v1h-1zM259.5 617.4h1v1h-1zM269.6 647.0h1v1h-1zM267.5 612.5h1v1h-1zM252.6 611.3h1v1h-1zM270.9 632.1h1v1h-1zM254.8 640.2h1v1h-1zM248.0 632.6h1v1h-1zM272.6 640.3h1v1h-1zM263.5 647.9h1v1h-1zM269.4 638.0h1v1h-1zM262.6 630.0h1v1h-1zM257.6 626.1h1v1h-1zM264.9 646.1h1v1h-1zM255.7 630.8h1v1h-1zM268.4 636.0h1v1h-1zM256.1 615.4h1v1h-1zM262.8 633.1h1v1h-1zM261.7 630.8h1v1h-1zM263.9 616.2h1v1h-1zM249.8 622.0h1v1h-1zM257.8 638.2h1v1h-1zM252.6 615.5h1v1h-1zM253.8 626.4h1v1h-1zM263.4 608.2h1v1h-1zM271.0 639.6h1v1h-1zM263.0 629.6h1v1h-1zM264.2 636.4h1v1h-1zM256.9 637.6h1v1h-1zM258.4 633.9h1v1h-1zM268.8 636.9h1v1h-1zM272.8 638.7h1v1h-1zM252.7 633.8h1v1h-1zM263.7 628.8h1v1h-1zM273.3 642.1h1v1h-1zM262.7 651.7h1v1h-1zM261.6 631.2h1v1h-1zM270.4 629.7h1v1h-1zM249.2 626.8h1v1h-1zM268.8 638.4h1v1h-1zM260.9 650.2h1v1h-1zM257.0 642.3h1v1h-1zM265.3 636.7h1v1h-1zM269.8 647.6h1v1h-1zM263.7 627.1h1v1h-1zM270.6 630.9h1v1h-1zM256.4 627.5h1v1h-1zM255.5 644.7h1v1h-1zM253.1 636.7h1v1h-1zM266.9 649.3h1v1h-1zM263.0 618.1h1v1h-1zM253.9 620.0h1v1h-1zM249.2 617.3h1v1h-1zM257.9 613.7h1v1h-1zM255.3 634.6h1v1h-1zM263.1 606.5h1v1h-1zM265.0 614.8h1v1h-1zM247.4 624.2h1v1h-1zM275.2 629.9h1v1h-1zM274.0 644.6h1v1h-1zM262.6 650.0h1v1h-1zM255.8 604.5h1v1h-1zM260.9 628.6h1v1h-1zM262.0 617.1h1v1h-1zM255.9 642.8h1v1h-1zM253.3 623.3h1v1h-1zM265.0 637.0h1v1h-1zM271.2 628.7h1v1h-1zM258.4 608.1h1v1h-1zM271.3 618.5h1v1h-1zM252.8 617.3h1v1h-1zM263.7 611.5h1v1h-1zM278.8 626.6h1v1h-1zM280.4 631.8h1v1h-1zM255.2 639.2h1v1h-1zM282.3 636.5h1v1h-1zM245.1 623.4h1v1h-1zM278.1 632.6h1v1h-1zM251.8 612.9h1v1h-1zM245.7 628.7h1v1h-1zM250.6 624.5h1v1h-1zM263.7 643.1h1v1h-1zM279.4 626.5h1v1h-1zM270.5 650.0h1v1h-1zM257.6 619.0h1v1h-1zM250.2 612.4h1v1h-1zM264.7 620.5h1v1h-1zM254.2 622.7h1v1h-1zM282.8 632.8h1v1h-1zM274.1 641.4h1v1h-1zM268.8 626.2h1v1h-1zM273.3 623.5h1v1h-1zM251.2 612.1h1v1h-1zM257.6 622.7h1v1h-1zM254.7 643.0h1v1h-1zM263.7 609.4h1v1h-1zM245.0 625.3h1v1h-1zM252.3 635.2h1v1h-1zM258.1 616.4h1v1h-1zM255.7 633.4h1v1h-1zM264.1 626.8h1v1h-1zM271.6 626.0h1v1h-1zM269.1 632.4h1v1h-1zM276.2 639.2h1v1h-1zM251.1 622.9h1v1h-1zM271.9 618.1h1v1h-1zM258.0 624.0h1v1h-1zM271.4 649.9h1v1h-1zM267.4 635.4h1v1h-1zM268.6 639.0h1v1h-1zM255.1 634.0h1v1h-1zM274.0 617.7h1v1h-1zM254.1 618.2h1v1h-1zM262.8 630.9h1v1h-1zM270.5 614.4h1v1h-1zM267.4 632.9h1v1h-1zM284.1 634.2h1v1h-1zM263.9 623.2h1v1h-1zM262.8 620.4h1v1h-1zM274.9 631.6h1v1h-1zM265.1 641.2h1v1h-1zM266.0 632.4h1v1h-1zM257.7 607.1h1v1h-1zM277.2 641.1h1v1h-1zM275.1 621.3h1v1h-1zM252.1 636.7h1v1h-1zM272.3 615.0h1v1h-1zM276.2 632.4h1v1h-1zM273.7 623.9h1v1h-1zM267.4 616.6h1v1h-1zM252.7 630.2h1v1h-1zM268.5 650.0h1v1h-1zM268.4 627.5h1v1h-1zM270.3 634.5h1v1h-1zM260.1 614.7h1v1h-1zM271.7 621.3h1v1h-1zM258.1 637.8h1v1h-1zM270.6 627.0h1v1h-1zM257.7 641.3h1v1h-1zM271.5 623.4h1v1h-1zM265.5 647.2h1v1h-1zM276.9 629.3h1v1h-1zM270.9 635.3h1v1h-1zM259.4 606.9h1v1h-1zM263.9 641.5h1v1h-1zM257.5 613.3h1v1h-1zM280.1 637.4h1v1h-1zM254.2 640.2h1v1h-1zM281.0 632.6h1v1h-1zM252.2 633.5h1v1h-1zM283.2 632.5h1v1h-1zM253.8 627.1h1v1h-1zM246.1 630.8h1v1h-1zM271.4 617.4h1v1h-1zM267.4 629.0h1v1h-1zM276.1 631.7h1v1h-1zM269.8 631.0h1v1h-1zM280.6 633.5h1v1h-1zM279.0 638.6h1v1h-1zM258.8 606.3h1v1h-1zM275.1 639.1h1v1h-1zM262.7 614.9h1v1h-1zM262.5 611.6h1v1h-1zM250.4 610.8h1v1h-1zM273.6 621.3h1v1h-1zM262.9 637.6h1v1h-1zM254.5 632.7h1v1h-1zM251.6 612.2h1v1h-1zM265.9 623.5h1v1h-1zM257.4 605.8h1v1h-1zM258.2 646.0h1v1h-1zM250.7 623.7h1v1h-1zM250.0 613.7h1v1h-1zM257.1 609.1h1v1h-1zM271.6 628.8h1v1h-1zM255.2 614.0h1v1h-1zM261.4 604.1h1v1h-1zM264.9 614.0h1v1h-1zM280.2 625.5h1v1h-1zM265.7 614.2h1v1h-1zM274.8 620.2h1v1h-1zM280.1 638.9h1v1h-1zM254.3 622.9h1v1h-1zM258.6 632.0h1v1h-1zM271.9 637.8h1v1h-1zM276.2 625.3h1v1h-1zM263.8 651.7h1v1h-1zM266.2 632.9h1v1h-1zM255.9 636.5h1v1h-1zM263.5 651.9h1v1h-1zM246.1 618.7h1v1h-1zM277.7 630.7h1v1h-1zM253.8 605.5h1v1h-1zM253.5 607.0h1v1h-1zM249.0 641.0h1v1h-1zM251.1 609.2h1v1h-1zM278.0 635.8h1v1h-1zM279.9 639.9h1v1h-1zM273.7 614.7h1v1h-1zM260.8 620.9h1v1h-1zM259.5 650.2h1v1h-1zM261.3 644.0h1v1h-1zM251.8 631.8h1v1h-1zM253.5 620.7h1v1h-1zM262.3 623.1h1v1h-1zM281.8 633.4h1v1h-1zM254.7 618.9h1v1h-1zM264.3 608.8h1v1h-1zM259.5 603.6h1v1h-1zM270.6 647.7h1v1h-1zM280.7 632.8h1v1h-1zM259.2 630.8h1v1h-1zM266.3 609.7h1v1h-1zM265.7 627.3h1v1h-1zM251.3 624.4h1v1h-1zM278.1 635.3h1v1h-1zM256.8 613.1h1v1h-1zM269.5 630.4h1v1h-1zM255.5 625.9h1v1h-1zM260.1 634.5h1v1h-1zM265.6 630.9h1v1h-1zM271.0 613.4h1v1h-1zM249.1 637.5h1v1h-1zM253.9 627.0h1v1h-1zM262.0 613.1h1v1h-1zM274.0 620.4h1v1h-1zM251.2 642.7h1v1h-1zM272.7 621.8h1v1h-1zM280.6 636.5h1v1h-1zM248.5 624.3h1v1h-1zM281.8 635.8h1v1h-1zM273.0 624.2h1v1h-1zM269.5 651.0h1v1h-1zM271.7 623.6h1v1h-1zM262.4 612.8h1v1h-1zM275.1 643.0h1v1h-1zM273.5 623.6h1v1h-1zM263.6 621.8h1v1h-1zM262.5 617.9h1v1h-1zM271.2 645.1h1v1h-1zM257.5 648.9h1v1h-1zM269.3 620.9h1v1h-1zM262.6 630.2h1v1h-1zM279.1 634.7h1v1h-1zM276.5 621.5h1v1h-1zM250.7 644.2h1v1h-1zM267.2 612.4h1v1h-1zM280.5 627.0h1v1h-1zM256.7 629.9h1v1h-1zM265.9 615.7h1v1h-1zM265.4 653.1h1v1h-1zM272.3 614.6h1v1h-1zM271.7 633.8h1v1h-1zM258.5 636.9h1v1h-1zM258.8 643.0h1v1h-1zM259.3 645.3h1v1h-1zM255.5 609.4h1v1h-1zM256.8 606.9h1v1h-1zM260.5 613.2h1v1h-1zM253.3 616.8h1v1h-1zM263.9 607.3h1v1h-1zM251.9 621.9h1v1h-1zM268.4 616.5h1v1h-1zM271.1 615.1h1v1h-1zM274.9 618.6h1v1h-1zM272.1 641.3h1v1h-1zM272.5 641.4h1v1h-1zM257.4 608.3h1v1h-1zM256.0 624.2h1v1h-1zM257.3 640.0h1v1h-1zM262.0 635.5h1v1h-1zM264.5 619.8h1v1h-1zM275.9 627.9h1v1h-1zM274.4 641.3h1v1h-1zM274.4 644.8h1v1h-1zM255.7 621.2h1v1h-1zM273.8 616.2h1v1h-1zM253.3 610.9h1v1h-1zM261.4 609.4h1v1h-1zM281.8 631.4h1v1h-1zM278.4 627.0h1v1h-1zM263.9 652.6h1v1h-1zM279.0 632.4h1v1h-1zM275.4 633.6h1v1h-1zM274.6 629.3h1v1h-1zM252.2 617.9h1v1h-1zM281.8 629.0h1v1h-1zM263.7 625.1h1v1h-1zM269.5 633.8h1v1h-1zM263.5 649.7h1v1h-1zM273.5 639.5h1v1h-1zM251.3 627.0h1v1h-1zM254.2 611.3h1v1h-1zM250.4 635.5h1v1h-1zM272.8 619.5h1v1h-1zM268.2 609.0h1v1h-1zM270.6 643.0h1v1h-1zM275.9 631.0h1v1h-1zM254.2 622.4h1v1h-1zM266.6 637.9h1v1h-1zM279.5 634.9h1v1h-1zM260.9 621.6h1v1h-1zM270.0 618.9h1v1h-1zM272.2 615.1h1v1h-1zM274.3 630.7h1v1h-1zM275.0 616.1h1v1h-1zM266.0 619.0h1v1h-1zM262.8 615.9h1v1h-1zM246.0 623.9h1v1h-1zM253.0 609.6h1v1h-1zM256.9 606.8h1v1h-1zM260.6 606.6h1v1h-1zM261.0 627.9h1v1h-1zM272.9 646.4h1v1h-1zM250.5 622.4h1v1h-1zM269.1 610.9h1v1h-1zM263.2 617.9h1v1h-1zM263.1 633.8h1v1h-1zM264.4 644.6h1v1h-1zM264.3 610.6h1v1h-1zM271.1 614.9h1v1h-1zM251.9 621.4h1v1h-1zM264.4 620.2h1v1h-1zM262.2 638.4h1v1h-1zM264.1 622.3h1v1h-1zM267.4 615.2h1v1h-1zM271.7 623.3h1v1h-1zM272.6 619.1h1v1h-1zM269.8 610.8h1v1h-1zM263.4 627.1h1v1h-1zM262.3 642.1h1v1h-1zM251.0 617.4h1v1h-1zM251.8 613.0h1v1h-1zM268.0 638.7h1v1h-1zM265.3 630.5h1v1h-1zM264.7 643.9h1v1h-1zM256.9 602.3h1v1h-1zM269.7 626.4h1v1h-1zM274.4 645.8h1v1h-1zM273.8 638.1h1v1h-1zM257.0 639.9h1v1h-1zM269.9 612.0h1v1h-1zM279.5 626.0h1v1h-1zM265.3 610.9h1v1h-1zM277.9 626.1h1v1h-1zM274.2 646.3h1v1h-1zM264.8 632.2h1v1h-1zM262.5 613.1h1v1h-1zM262.7 604.4h1v1h-1zM261.4 618.8h1v1h-1zM253.1 642.7h1v1h-1zM267.4 650.7h1v1h-1zM251.2 620.9h1v1h-1zM268.9 642.5h1v1h-1zM261.0 610.2h1v1h-1zM259.2 631.2h1v1h-1zM261.0 627.8h1v1h-1zM278.0 639.8h1v1h-1zM259.8 610.4h1v1h-1zM273.7 616.1h1v1h-1zM254.1 613.8h1v1h-1zM271.8 635.6h1v1h-1zM282.4 632.4h1v1h-1zM263.3 648.6h1v1h-1zM248.8 632.4h1v1h-1zM260.3 645.1h1v1h-1zM255.9 614.5h1v1h-1zM253.7 618.7h1v1h-1zM262.0 629.2h1v1h-1zM255.1 629.6h1v1h-1zM282.2 631.4h1v1h-1zM246.9 620.4h1v1h-1zM272.6 631.1h1v1h-1zM254.8 621.8h1v1h-1zM245.6 622.2h1v1h-1zM277.6 621.3h1v1h-1zM262.6 609.2h1v1h-1zM272.9 622.9h1v1h-1zM259.2 642.5h1v1h-1zM255.5 604.3h1v1h-1zM270.0 640.6h1v1h-1zM245.2 619.0h1v1h-1zM280.2 628.0h1v1h-1zM260.1 607.2h1v1h-1zM255.1 632.3h1v1h-1zM281.4 636.4h1v1h-1zM245.9 618.8h1v1h-1zM258.4 603.1h1v1h-1zM250.0 616.6h1v1h-1zM252.5 611.5h1v1h-1zM244.3 625.4h1v1h-1zM263.6 607.3h1v1h-1zM279.7 629.3h1v1h-1zM249.0 639.5h1v1h-1zM255.0 640.7h1v1h-1zM263.8 613.2h1v1h-1zM263.6 623.7h1v1h-1zM249.5 630.1h1v1h-1zM265.4 638.5h1v1h-1zM257.3 633.8h1v1h-1zM251.3 628.7h1v1h-1zM253.1 643.2h1v1h-1zM251.0 616.0h1v1h-1zM265.7 612.6h1v1h-1zM256.0 611.9h1v1h-1zM259.8 646.3h1v1h-1zM265.9 618.4h1v1h-1zM271.7 646.1h1v1h-1zM270.2 644.2h1v1h-1zM255.2 630.9h1v1h-1zM264.5 609.7h1v1h-1zM284.3 634.1h1v1h-1zM269.3 634.2h1v1h-1zM254.7 631.4h1v1h-1zM251.5 638.4h1v1h-1zM263.0 611.0h1v1h-1zM267.2 650.3h1v1h-1zM266.8 644.1h1v1h-1zM256.9 620.2h1v1h-1zM269.2 631.2h1v1h-1zM260.6 649.4h1v1h-1zM271.6 644.6h1v1h-1zM261.8 632.3h1v1h-1zM250.7 641.4h1v1h-1zM266.0 627.9h1v1h-1zM256.1 646.4h1v1h-1zM254.9 642.9h1v1h-1zM260.3 608.1h1v1h-1zM257.7 601.5h1v1h-1zM253.7 639.3h1v1h-1zM269.9 617.4h1v1h-1zM250.6 624.0h1v1h-1zM272.9 618.8h1v1h-1zM266.6 610.4h1v1h-1zM267.2 626.1h1v1h-1zM259.7 641.2h1v1h-1zM267.3 639.0h1v1h-1zM261.6 622.0h1v1h-1zM257.4 613.2h1v1h-1zM256.1 640.5h1v1h-1zM262.7 640.9h1v1h-1zM247.5 633.2h1v1h-1zM246.9 621.1h1v1h-1zM275.3 641.9h1v1h-1zM245.7 617.8h1v1h-1zM277.4 624.5h1v1h-1zM272.3 641.3h1v1h-1zM276.1 628.7h1v1h-1zM264.3 649.1h1v1h-1zM279.7 627.7h1v1h-1zM248.5 633.7h1v1h-1zM248.7 618.4h1v1h-1zM266.9 627.6h1v1h-1zM270.1 645.1h1v1h-1zM257.6 641.6h1v1h-1zM276.4 645.4h1v1h-1zM256.2 634.0h1v1h-1zM266.8 623.1h1v1h-1zM276.3 624.4h1v1h-1zM248.8 619.3h1v1h-1zM274.9 635.3h1v1h-1zM254.7 643.5h1v1h-1zM259.0 641.1h1v1h-1zM271.1 631.8h1v1h-1zM276.0 630.4h1v1h-1zM265.6 614.2h1v1h-1zM247.0 634.6h1v1h-1zM251.1 625.7h1v1h-1zM253.9 626.5h1v1h-1zM268.9 610.8h1v1h-1zM265.8 653.5h1v1h-1zM249.3 612.0h1v1h-1zM278.0 631.8h1v1h-1zM247.9 635.2h1v1h-1zM271.2 638.4h1v1h-1zM252.9 608.2h1v1h-1zM269.5 616.2h1v1h-1zM268.4 640.7h1v1h-1zM267.1 618.1h1v1h-1zM247.2 627.7h1v1h-1zM261.7 631.4h1v1h-1zM265.4 621.4h1v1h-1zM253.8 624.9h1v1h-1zM283.9 632.8h1v1h-1zM267.4 633.1h1v1h-1zM250.3 619.3h1v1h-1zM259.8 621.0h1v1h-1zM273.2 638.5h1v1h-1zM253.8 633.6h1v1h-1zM272.1 643.4h1v1h-1zM248.9 618.3h1v1h-1zM268.8 617.3h1v1h-1zM270.7 626.1h1v1h-1zM249.0 627.9h1v1h-1zM263.9 611.1h1v1h-1zM250.0 634.2h1v1h-1zM268.1 651.6h1v1h-1zM245.3 623.2h1v1h-1zM249.5 641.3h1v1h-1zM268.9 635.3h1v1h-1zM273.7 634.5h1v1h-1zM266.0 628.5h1v1h-1zM271.9 622.8h1v1h-1zM261.9 646.5h1v1h-1zM259.2 640.0h1v1h-1zM276.8 645.8h1v1h-1zM252.9 633.4h1v1h-1zM262.6 632.3h1v1h-1zM253.3 643.1h1v1h-1zM275.9 621.1h1v1h-1zM268.4 624.2h1v1h-1zM265.6 614.7h1v1h-1zM261.6 635.2h1v1h-1zM268.3 633.2h1v1h-1zM264.6 644.1h1v1h-1zM267.4 653.4h1v1h-1zM250.9 620.9h1v1h-1zM267.1 632.5h1v1h-1zM272.2 627.8h1v1h-1zM271.7 634.2h1v1h-1zM255.5 604.9h1v1h-1zM253.8 634.4h1v1h-1zM265.4 644.7h1v1h-1zM250.2 634.1h1v1h-1zM255.7 602.3h1v1h-1zM274.8 623.2h1v1h-1zM264.5 613.8h1v1h-1zM267.3 631.2h1v1h-1zM248.9 629.1h1v1h-1zM248.1 616.3h1v1h-1zM271.6 648.5h1v1h-1zM278.1 632.2h1v1h-1zM258.2 613.2h1v1h-1zM261.1 606.7h1v1h-1zM251.6 617.7h1v1h-1zM260.8 634.0h1v1h-1zM265.7 652.8h1v1h-1zM279.6 640.6h1v1h-1zM268.5 618.2h1v1h-1zM257.3 640.8h1v1h-1zM267.0 611.8h1v1h-1zM251.7 628.1h1v1h-1zM278.2 626.7h1v1h-1zM263.0 609.0h1v1h-1zM282.3 633.1h1v1h-1zM271.1 621.6h1v1h-1zM272.9 620.8h1v1h-1zM250.5 619.6h1v1h-1zM275.0 647.5h1v1h-1zM264.6 636.3h1v1h-1zM282.2 635.8h1v1h-1zM279.6 641.3h1v1h-1zM267.0 632.6h1v1h-1zM259.7 633.1h1v1h-1zM261.6 648.3h1v1h-1zM274.0 620.6h1v1h-1zM269.8 611.8h1v1h-1zM281.3 629.5h1v1h-1zM251.4 637.3h1v1h-1zM253.9 607.4h1v1h-1zM280.5 637.0h1v1h-1zM256.3 628.8h1v1h-1zM262.9 622.7h1v1h-1zM270.1 619.5h1v1h-1zM247.7 620.3h1v1h-1zM271.1 640.9h1v1h-1zM260.5 606.4h1v1h-1zM269.3 633.0h1v1h-1zM258.4 628.7h1v1h-1zM251.2 610.3h1v1h-1zM281.6 632.3h1v1h-1zM263.6 630.9h1v1h-1zM254.9 647.7h1v1h-1zM273.9 623.5h1v1h-1zM244.3 624.7h1v1h-1zM264.8 620.4h1v1h-1zM265.6 652.4h1v1h-1zM272.5 612.7h1v1h-1zM247.4 621.4h1v1h-1zM268.5 611.5h1v1h-1zM246.4 618.5h1v1h-1zM262.2 648.4h1v1h-1zM253.9 645.3h1v1h-1zM254.8 632.2h1v1h-1zM265.5 612.8h1v1h-1zM265.7 614.5h1v1h-1zM280.0 634.9h1v1h-1zM253.6 627.8h1v1h-1zM256.9 636.4h1v1h-1zM255.1 609.2h1v1h-1zM248.7 617.6h1v1h-1zM257.0 630.5h1v1h-1zM263.8 608.5h1v1h-1zM277.8 639.0h1v1h-1zM247.7 628.1h1v1h-1zM269.7 639.6h1v1h-1zM269.2 639.4h1v1h-1zM253.1 624.1h1v1h-1zM265.7 610.7h1v1h-1zM255.1 621.7h1v1h-1zM247.3 618.3h1v1h-1zM257.2 638.4h1v1h-1zM262.8 628.5h1v1h-1zM247.4 635.4h1v1h-1zM272.9 626.2h1v1h-1zM267.5 650.0h1v1h-1zM269.1 637.9h1v1h-1zM280.1 640.4h1v1h-1zM279.9 635.3h1v1h-1zM275.8 619.0h1v1h-1zM255.0 609.7h1v1h-1zM265.6 647.2h1v1h-1zM247.7 628.3h1v1h-1zM254.3 635.8h1v1h-1zM274.4 630.5h1v1h-1zM278.6 629.6h1v1h-1zM259.1 644.8h1v1h-1zM266.6 612.0h1v1h-1zM260.3 623.1h1v1h-1zM272.3 635.1h1v1h-1zM257.8 612.6h1v1h-1zM267.5 640.0h1v1h-1zM276.0 634.8h1v1h-1zM253.0 606.1h1v1h-1zM266.8 629.4h1v1h-1zM250.9 633.6h1v1h-1zM262.7 638.5h1v1h-1zM276.2 643.9h1v1h-1zM267.1 636.7h1v1h-1zM251.2 620.4h1v1h-1zM264.9 614.9h1v1h-1zM260.4 642.5h1v1h-1zM264.5 634.0h1v1h-1zM262.3 612.2h1v1h-1zM260.3 628.8h1v1h-1zM255.0 638.7h1v1h-1zM269.0 646.5h1v1h-1zM269.3 620.7h1v1h-1zM247.9 616.5h1v1h-1zM262.9 647.7h1v1h-1zM268.3 634.3h1v1h-1zM275.2 632.8h1v1h-1zM266.1 650.0h1v1h-1zM265.9 633.3h1v1h-1zM279.1 641.9h1v1h-1zM251.8 612.8h1v1h-1zM263.3 623.2h1v1h-1zM280.6 635.0h1v1h-1zM248.8 638.0h1v1h-1zM254.3 624.2h1v1h-1zM262.6 639.3h1v1h-1zM272.9 646.8h1v1h-1zM253.5 642.6h1v1h-1zM269.2 614.2h1v1h-1zM256.2 609.3h1v1h-1zM266.8 620.2h1v1h-1zM265.1 625.2h1v1h-1zM265.7 614.7h1v1h-1zM264.1 652.6h1v1h-1zM251.9 623.0h1v1h-1zM262.4 624.8h1v1h-1zM257.4 634.5h1v1h-1zM258.4 627.8h1v1h-1zM273.5 614.1h1v1h-1zM271.5 636.4h1v1h-1zM275.2 635.8h1v1h-1zM271.8 639.2h1v1h-1zM268.6 627.6h1v1h-1zM269.5 619.0h1v1h-1zM251.9 619.7h1v1h-1zM267.8 627.3h1v1h-1zM263.2 606.0h1v1h-1zM261.5 625.7h1v1h-1zM264.7 651.2h1v1h-1zM264.5 612.1h1v1h-1zM255.9 610.5h1v1h-1zM274.0 647.7h1v1h-1zM261.5 618.2h1v1h-1zM275.1 617.5h1v1h-1zM256.2 611.2h1v1h-1zM267.2 617.0h1v1h-1zM271.9 614.7h1v1h-1zM267.2 639.7h1v1h-1zM250.0 617.9h1v1h-1zM273.0 637.9h1v1h-1zM259.4 619.2h1v1h-1zM280.1 627.5h1v1h-1zM256.8 608.8h1v1h-1zM261.7 618.7h1v1h-1zM261.9 648.3h1v1h-1zM258.2 618.7h1v1h-1zM276.7 643.2h1v1h-1zM257.3 632.7h1v1h-1zM260.9 639.5h1v1h-1zM281.2 638.2h1v1h-1zM257.8 638.1h1v1h-1zM251.9 642.3h1v1h-1zM276.6 632.6h1v1h-1zM274.6 638.1h1v1h-1zM280.2 639.4h1v1h-1zM252.1 618.9h1v1h-1zM271.6 634.4h1v1h-1zM267.5 647.0h1v1h-1zM256.4 647.1h1v1h-1zM261.3 613.5h1v1h-1zM264.0 621.8h1v1h-1zM255.3 605.0h1v1h-1zM248.2 617.1h1v1h-1zM265.7 643.5h1v1h-1zM258.7 648.8h1v1h-1zM263.9 652.7h1v1h-1zM257.0 617.8h1v1h-1zM249.8 643.5h1v1h-1zM267.9 652.2h1v1h-1zM263.9 642.1h1v1h-1zM245.7 623.1h1v1h-1zM265.7 649.9h1v1h-1zM260.8 641.0h1v1h-1zM251.8 639.7h1v1h-1zM261.9 612.7h1v1h-1zM261.2 612.1h1v1h-1zM258.1 633.6h1v1h-1zM274.1 626.5h1v1h-1zM261.0 615.8h1v1h-1zM268.6 640.8h1v1h-1zM253.0 606.9h1v1h-1zM272.5 614.7h1v1h-1zM274.8 630.5h1v1h-1zM246.9 618.9h1v1h-1zM279.7 627.5h1v1h-1zM271.6 637.4h1v1h-1zM274.1 615.3h1v1h-1zM268.3 626.9h1v1h-1zM279.8 632.9h1v1h-1zM260.2 639.5h1v1h-1zM275.7 634.9h1v1h-1zM258.6 636.6h1v1h-1zM254.4 608.1h1v1h-1zM264.5 606.2h1v1h-1zM275.1 632.5h1v1h-1zM248.8 638.7h1v1h-1zM273.8 626.1h1v1h-1zM269.0 643.8h1v1h-1zM250.9 640.6h1v1h-1zM272.4 641.2h1v1h-1zM262.0 612.9h1v1h-1zM258.9 609.2h1v1h-1zM270.8 637.3h1v1h-1zM269.1 643.3h1v1h-1zM255.1 633.4h1v1h-1zM276.5 634.6h1v1h-1zM250.4 615.7h1v1h-1zM256.0 617.2h1v1h-1zM271.7 620.7h1v1h-1zM267.4 650.1h1v1h-1zM261.1 606.5h1v1h-1zM268.1 622.5h1v1h-1zM267.7 609.1h1v1h-1zM258.7 613.5h1v1h-1zM264.2 648.8h1v1h-1zM267.7 641.5h1v1h-1zM263.6 622.9h1v1h-1zM263.1 644.0h1v1h-1zM268.8 621.8h1v1h-1zM280.7 629.0h1v1h-1zM268.8 620.8h1v1h-1zM264.6 617.9h1v1h-1zM256.3 622.9h1v1h-1zM255.8 601.4h1v1h-1zM263.6 611.2h1v1h-1zM262.5 624.1h1v1h-1zM270.5 620.7h1v1h-1zM260.1 647.0h1v1h-1zM269.5 621.3h1v1h-1zM250.0 641.6h1v1h-1zM259.4 630.6h1v1h-1zM273.5 622.1h1v1h-1zM256.0 604.0h1v1h-1zM263.9 626.5h1v1h-1zM251.9 619.9h1v1h-1zM264.4 616.8h1v1h-1zM272.5 645.6h1v1h-1zM276.1 624.7h1v1h-1zM271.4 637.1h1v1h-1zM274.3 624.5h1v1h-1zM258.5 616.6h1v1h-1zM272.8 621.9h1v1h-1zM245.1 623.2h1v1h-1zM273.5 631.6h1v1h-1zM280.6 629.7h1v1h-1zM264.7 638.2h1v1h-1zM266.0 625.1h1v1h-1zM263.8 626.9h1v1h-1zM264.3 633.3h1v1h-1zM256.1 608.4h1v1h-1zM254.8 645.5h1v1h-1zM276.0 618.2h1v1h-1zM254.9 610.8h1v1h-1zM268.6 651.4h1v1h-1zM267.6 647.6h1v1h-1zM256.2 601.6h1v1h-1zM269.6 618.8h1v1h-1zM246.9 633.4h1v1h-1zM251.0 645.3h1v1h-1zM253.3 632.4h1v1h-1zM250.9 645.0h1v1h-1zM257.2 636.9h1v1h-1zM253.0 607.2h1v1h-1zM255.6 644.9h1v1h-1zM274.1 645.3h1v1h-1zM272.4 649.3h1v1h-1zM278.0 642.3h1v1h-1zM266.2 632.9h1v1h-1zM260.2 607.6h1v1h-1zM267.6 614.5h1v1h-1zM252.0 611.6h1v1h-1zM252.9 607.6h1v1h-1zM271.0 637.3h1v1h-1zM261.0 608.5h1v1h-1zM269.8 645.8h1v1h-1zM250.1 624.2h1v1h-1zM263.2 640.6h1v1h-1zM273.3 615.5h1v1h-1zM262.3 625.3h1v1h-1zM256.9 610.9h1v1h-1zM274.9 625.7h1v1h-1zM262.8 623.4h1v1h-1zM269.5 615.5h1v1h-1zM278.2 632.1h1v1h-1zM269.7 640.5h1v1h-1zM279.5 640.8h1v1h-1zM274.9 640.9h1v1h-1zM254.9 616.9h1v1h-1zM255.1 629.9h1v1h-1zM266.8 650.9h1v1h-1zM272.0 649.1h1v1h-1zM252.2 613.8h1v1h-1zM270.6 613.5h1v1h-1zM247.3 627.8h1v1h-1zM268.1 643.1h1v1h-1zM255.5 614.3h1v1h-1zM257.7 641.2h1v1h-1zM258.3 640.9h1v1h-1zM270.4 650.3h1v1h-1zM258.7 630.0h1v1h-1zM251.4 611.3h1v1h-1zM257.8 646.9h1v1h-1zM257.8 618.0h1v1h-1zM266.8 625.3h1v1h-1zM258.1 631.1h1v1h-1zM250.7 644.2h1v1h-1zM254.9 621.6h1v1h-1zM256.4 614.5h1v1h-1zM255.8 629.9h1v1h-1zM265.4 632.2h1v1h-1zM250.3 614.3h1v1h-1zM268.0 649.6h1v1h-1zM278.2 625.7h1v1h-1zM274.2 640.8h1v1h-1zM264.6 633.5h1v1h-1zM268.0 614.3h1v1h-1zM257.7 634.2h1v1h-1zM252.8 643.4h1v1h-1zM281.5 634.5h1v1h-1zM249.9 615.6h1v1h-1zM267.7 624.5h1v1h-1zM259.4 620.6h1v1h-1zM253.4 637.5h1v1h-1zM273.2 613.6h1v1h-1zM268.0 639.7h1v1h-1zM267.9 630.0h1v1h-1zM253.6 614.6h1v1h-1zM256.5 627.5h1v1h-1zM260.5 611.3h1v1h-1zM258.0 648.7h1v1h-1zM250.9 612.7h1v1h-1zM268.8 638.6h1v1h-1zM250.3 629.0h1v1h-1zM270.0 639.8h1v1h-1zM271.7 641.6h1v1h-1zM273.4 624.6h1v1h-1zM272.7 640.0h1v1h-1zM275.4 639.2h1v1h-1zM260.9 649.6h1v1h-1zM271.1 626.5h1v1h-1zM257.5 632.7h1v1h-1zM255.2 605.7h1v1h-1zM270.3 626.2h1v1h-1zM263.1 619.7h1v1h-1zM258.4 631.9h1v1h-1zM249.7 626.3h1v1h-1zM249.2 628.1h1v1h-1zM263.8 622.6h1v1h-1zM256.2 644.0h1v1h-1zM252.9 629.0h1v1h-1zM260.7 637.5h1v1h-1zM263.9 643.0h1v1h-1zM264.1 626.0h1v1h-1zM262.2 635.0h1v1h-1zM251.1 615.4h1v1h-1zM253.3 624.0h1v1h-1zM256.2 616.4h1v1h-1zM282.7 634.0h1v1h-1zM256.3 605.3h1v1h-1zM269.6 633.1h1v1h-1zM268.4 643.8h1v1h-1zM266.7 636.8h1v1h-1zM257.9 620.9h1v1h-1zM253.9 642.0h1v1h-1zM274.3 629.7h1v1h-1zM264.4 616.1h1v1h-1zM266.7 617.0h1v1h-1zM267.6 639.7h1v1h-1zM262.0 648.0h1v1h-1zM272.3 647.4h1v1h-1zM250.9 632.7h1v1h-1zM279.5 642.0h1v1h-1zM269.8 627.0h1v1h-1zM252.6 615.2h1v1h-1zM266.7 616.6h1v1h-1zM272.5 613.6h1v1h-1zM269.2 611.6h1v1h-1zM271.8 648.6h1v1h-1zM259.5 615.7h1v1h-1zM259.4 603.1h1v1h-1zM258.1 632.8h1v1h-1zM274.5 624.4h1v1h-1zM281.8 637.1h1v1h-1zM274.1 646.1h1v1h-1zM257.9 642.0h1v1h-1zM263.2 615.8h1v1h-1zM271.1 638.8h1v1h-1zM262.1 636.1h1v1h-1zM255.7 612.8h1v1h-1zM270.6 618.6h1v1h-1zM248.6 628.0h1v1h-1zM268.2 609.6h1v1h-1zM270.6 643.3h1v1h-1zM260.0 613.7h1v1h-1zM271.4 648.1h1v1h-1zM275.9 630.2h1v1h-1zM258.1 615.4h1v1h-1zM278.7 642.1h1v1h-1zM273.6 627.3h1v1h-1zM254.3 621.9h1v1h-1zM268.4 629.7h1v1h-1zM253.7 635.9h1v1h-1zM264.5 648.0h1v1h-1zM252.4 619.8h1v1h-1zM258.9 616.3h1v1h-1zM271.4 618.5h1v1h-1zM259.8 643.2h1v1h-1zM263.8 622.6h1v1h-1zM261.5 609.4h1v1h-1zM248.4 639.5h1v1h-1zM256.6 613.7h1v1h-1zM251.5 634.7h1v1h-1zM272.3 633.4h1v1h-1zM244.0 624.3h1v1h-1zM260.4 609.7h1v1h-1zM274.3 622.2h1v1h-1zM278.4 627.2h1v1h-1zM245.4 619.2h1v1h-1zM258.2 606.0h1v1h-1zM269.8 616.6h1v1h-1zM271.0 638.8h1v1h-1zM252.7 618.5h1v1h-1zM258.3 638.6h1v1h-1zM267.5 637.1h1v1h-1zM273.1 620.0h1v1h-1zM268.2 624.2h1v1h-1zM263.5 619.1h1v1h-1zM265.6 620.5h1v1h-1zM266.0 637.6h1v1h-1zM261.3 633.4h1v1h-1zM268.0 631.4h1v1h-1zM264.7 611.6h1v1h-1zM254.4 637.1h1v1h-1zM245.2 624.8h1v1h-1zM252.3 633.7h1v1h-1zM257.9 617.0h1v1h-1zM257.4 606.3h1v1h-1zM258.0 611.6h1v1h-1zM244.4 625.8h1v1h-1zM278.0 641.7h1v1h-1zM265.8 606.7h1v1h-1zM262.2 614.0h1v1h-1zM262.4 648.4h1v1h-1zM251.2 629.3h1v1h-1zM262.7 624.3h1v1h-1zM279.3 625.0h1v1h-1zM258.2 602.3h1v1h-1zM252.3 618.3h1v1h-1zM254.5 606.7h1v1h-1zM262.9 607.2h1v1h-1zM256.0 628.2h1v1h-1zM269.3 629.4h1v1h-1zM275.5 624.6h1v1h-1zM278.3 637.7h1v1h-1zM256.3 615.3h1v1h-1zM272.5 637.4h1v1h-1zM246.3 624.6h1v1h-1zM247.0 634.2h1v1h-1zM256.0 610.1h1v1h-1zM277.1 645.2h1v1h-1zM263.1 626.6h1v1h-1zM247.9 633.1h1v1h-1zM277.5 644.3h1v1h-1zM265.9 639.2h1v1h-1zM269.9 633.8h1v1h-1zM273.0 622.1h1v1h-1zM267.3 639.5h1v1h-1zM260.0 630.3h1v1h-1zM278.8 633.9h1v1h-1zM263.1 622.2h1v1h-1zM247.3 620.5h1v1h-1zM262.4 636.2h1v1h-1zM252.6 624.4h1v1h-1zM253.3 628.9h1v1h-1zM264.3 643.8h1v1h-1zM274.9 619.9h1v1h-1zM259.3 608.9h1v1h-1zM268.7 614.9h1v1h-1zM248.4 626.1h1v1h-1zM263.9 639.7h1v1h-1zM257.3 637.8h1v1h-1zM256.4 607.6h1v1h-1zM276.4 635.6h1v1h-1zM270.6 640.9h1v1h-1zM249.3 629.8h1v1h-1zM268.3 648.6h1v1h-1zM263.6 641.4h1v1h-1zM274.4 643.4h1v1h-1zM255.7 634.0h1v1h-1zM267.9 621.0h1v1h-1zM250.2 641.1h1v1h-1zM275.1 626.5h1v1h-1zM268.6 626.5h1v1h-1zM265.8 615.0h1v1h-1zM261.7 619.1h1v1h-1zM274.3 618.6h1v1h-1zM256.7 614.6h1v1h-1zM271.0 644.2h1v1h-1zM262.8 647.4h1v1h-1zM260.0 629.5h1v1h-1zM262.8 619.5h1v1h-1zM278.5 643.0h1v1h-1zM248.3 637.8h1v1h-1zM268.6 639.7h1v1h-1zM248.3 631.0h1v1h-1zM278.7 638.3h1v1h-1zM277.3 628.0h1v1h-1zM262.9 633.3h1v1h-1zM254.5 645.8h1v1h-1zM252.9 606.6h1v1h-1zM264.4 631.5h1v1h-1zM270.4 633.8h1v1h-1zM263.4 605.7h1v1h-1zM258.1 626.1h1v1h-1zM270.2 636.2h1v1h-1zM269.0 636.9h1v1h-1zM251.5 623.6h1v1h-1zM259.4 627.5h1v1h-1zM267.7 641.3h1v1h-1zM262.0 621.1h1v1h-1zM250.8 630.8h1v1h-1zM261.8 632.8h1v1h-1zM267.9 645.0h1v1h-1zM256.0 634.7h1v1h-1zM278.5 633.0h1v1h-1zM247.4 633.1h1v1h-1zM269.7 643.0h1v1h-1zM268.0 647.8h1v1h-1zM250.9 618.0h1v1h-1zM270.4 618.8h1v1h-1zM274.2 622.3h1v1h-1zM267.5 630.2h1v1h-1zM266.2 633.3h1v1h-1zM252.8 608.8h1v1h-1zM260.7 632.4h1v1h-1zM278.1 630.2h1v1h-1zM263.9 625.4h1v1h-1zM275.3 635.4h1v1h-1zM274.7 618.1h1v1h-1zM254.1 620.5h1v1h-1zM251.2 637.8h1v1h-1zM250.3 613.3h1v1h-1zM277.7 626.1h1v1h-1zM255.3 633.7h1v1h-1zM273.7 631.7h1v1h-1zM267.9 643.9h1v1h-1zM266.1 635.2h1v1h-1zM260.9 647.7h1v1h-1zM282.1 630.9h1v1h-1zM268.8 648.6h1v1h-1zM247.9 619.1h1v1h-1zM257.1 632.3h1v1h-1zM275.7 632.4h1v1h-1zM266.6 642.8h1v1h-1zM258.1 636.7h1v1h-1zM275.3 625.7h1v1h-1zM268.9 640.0h1v1h-1zM264.8 634.9h1v1h-1zM269.6 634.7h1v1h-1zM257.3 617.0h1v1h-1zM263.6 632.3h1v1h-1zM256.8 601.2h1v1h-1zM260.9 609.4h1v1h-1zM253.3 632.5h1v1h-1zM258.4 604.5h1v1h-1zM270.4 613.8h1v1h-1zM250.0 615.6h1v1h-1zM259.8 629.7h1v1h-1zM265.1 651.3h1v1h-1zM275.6 627.8h1v1h-1zM274.6 641.2h1v1h-1zM267.4 629.9h1v1h-1zM254.7 641.1h1v1h-1zM263.6 651.6h1v1h-1zM276.4 635.7h1v1h-1zM278.2 627.9h1v1h-1zM261.0 645.7h1v1h-1zM258.6 645.2h1v1h-1zM245.1 626.4h1v1h-1zM274.4 617.3h1v1h-1zM271.6 621.2h1v1h-1zM267.7 636.9h1v1h-1zM266.3 618.5h1v1h-1zM268.4 609.4h1v1h-1zM261.1 608.8h1v1h-1zM260.2 633.5h1v1h-1zM257.3 602.1h1v1h-1zM271.5 623.9h1v1h-1zM268.6 641.9h1v1h-1zM268.2 642.4h1v1h-1zM275.9 632.2h1v1h-1zM274.3 644.2h1v1h-1zM246.9 616.4h1v1h-1zM246.7 628.9h1v1h-1zM249.1 624.2h1v1h-1zM257.9 632.0h1v1h-1zM256.2 606.1h1v1h-1zM259.1 635.3h1v1h-1zM265.5 635.1h1v1h-1zM258.7 631.5h1v1h-1zM276.4 645.7h1v1h-1zM268.5 618.2h1v1h-1zM248.9 623.5h1v1h-1zM256.7 647.2h1v1h-1zM268.3 650.5h1v1h-1zM247.8 628.0h1v1h-1zM253.1 635.1h1v1h-1zM283.7 635.0h1v1h-1zM251.7 645.7h1v1h-1zM271.3 636.6h1v1h-1zM275.2 647.0h1v1h-1zM264.3 624.4h1v1h-1zM256.6 605.2h1v1h-1zM265.2 647.4h1v1h-1zM267.4 619.2h1v1h-1zM259.3 614.6h1v1h-1zM244.2 623.6h1v1h-1zM250.1 642.5h1v1h-1zM264.4 627.8h1v1h-1zM251.0 608.9h1v1h-1zM247.9 618.0h1v1h-1zM265.8 628.1h1v1h-1zM260.5 627.8h1v1h-1zM245.4 622.5h1v1h-1zM270.9 650.4h1v1h-1zM256.3 616.8h1v1h-1zM270.9 626.5h1v1h-1zM278.4 634.9h1v1h-1zM259.8 618.5h1v1h-1zM258.7 609.8h1v1h-1zM277.2 643.3h1v1h-1zM275.5 633.6h1v1h-1zM269.9 650.8h1v1h-1zM276.8 636.8h1v1h-1zM261.2 628.3h1v1h-1zM262.1 629.4h1v1h-1zM269.1 643.2h1v1h-1zM267.4 642.6h1v1h-1zM251.4 623.7h1v1h-1zM263.5 629.8h1v1h-1zM253.2 620.3h1v1h-1zM250.9 611.4h1v1h-1zM266.1 616.5h1v1h-1zM272.7 619.9h1v1h-1zM271.6 642.3h1v1h-1zM261.5 650.5h1v1h-1zM249.6 636.4h1v1h-1zM254.4 621.6h1v1h-1zM254.4 606.8h1v1h-1zM265.2 648.1h1v1h-1zM258.0 610.0h1v1h-1zM271.9 631.6h1v1h-1zM272.7 641.4h1v1h-1zM271.8 621.8h1v1h-1zM259.5 623.0h1v1h-1zM272.6 636.1h1v1h-1zM252.1 641.0h1v1h-1zM262.3 604.7h1v1h-1zM261.0 622.9h1v1h-1zM248.2 629.9h1v1h-1zM270.3 613.5h1v1h-1zM273.8 632.5h1v1h-1zM255.5 603.0h1v1h-1zM270.7 637.5h1v1h-1zM274.1 617.5h1v1h-1zM260.1 644.4h1v1h-1zM268.3 615.2h1v1h-1zM278.3 624.4h1v1h-1zM265.6 639.5h1v1h-1zM246.8 623.4h1v1h-1zM258.7 626.0h1v1h-1zM267.9 624.9h1v1h-1zM272.2 612.4h1v1h-1zM273.9 626.5h1v1h-1zM267.6 634.0h1v1h-1zM265.4 635.2h1v1h-1zM252.9 624.3h1v1h-1zM260.5 622.5h1v1h-1zM256.9 613.7h1v1h-1zM259.4 608.7h1v1h-1zM255.3 618.6h1v1h-1zM262.4 625.7h1v1h-1zM269.8 635.3h1v1h-1zM262.9 623.2h1v1h-1zM264.6 635.9h1v1h-1zM269.0 647.8h1v1h-1zM261.9 644.7h1v1h-1zM258.9 644.7h1v1h-1zM251.6 635.5h1v1h-1zM269.9 621.5h1v1h-1zM250.5 631.3h1v1h-1zM271.4 612.3h1v1h-1zM264.9 627.6h1v1h-1zM273.8 622.2h1v1h-1zM275.7 616.9h1v1h-1zM250.0 617.7h1v1h-1zM256.6 605.9h1v1h-1zM271.9 639.5h1v1h-1zM248.7 620.1h1v1h-1zM277.2 633.9h1v1h-1zM283.5 633.6h1v1h-1zM250.2 628.2h1v1h-1zM256.0 608.0h1v1h-1zM278.0 639.2h1v1h-1zM248.4 626.1h1v1h-1zM265.8 616.5h1v1h-1zM270.3 644.5h1v1h-1zM277.2 627.7h1v1h-1zM278.1 638.6h1v1h-1zM257.5 627.0h1v1h-1zM266.3 630.9h1v1h-1zM271.3 622.9h1v1h-1zM250.1 642.0h1v1h-1zM250.0 620.1h1v1h-1zM278.9 631.4h1v1h-1zM265.5 651.4h1v1h-1zM274.1 627.2h1v1h-1zM263.0 644.5h1v1h-1zM257.8 638.6h1v1h-1zM281.9 636.9h1v1h-1zM255.5 643.2h1v1h-1zM248.1 631.8h1v1h-1zM273.0 629.6h1v1h-1zM256.6 630.7h1v1h-1zM268.8 624.7h1v1h-1zM255.1 610.5h1v1h-1zM266.2 645.2h1v1h-1zM257.3 622.3h1v1h-1zM250.2 642.6h1v1h-1zM252.8 613.2h1v1h-1zM257.0 647.3h1v1h-1zM253.8 612.1h1v1h-1zM257.9 637.5h1v1h-1zM268.9 642.5h1v1h-1zM250.9 627.6h1v1h-1zM259.4 608.4h1v1h-1zM272.1 616.8h1v1h-1zM256.2 601.1h1v1h-1zM253.6 609.0h1v1h-1zM278.2 627.9h1v1h-1zM281.5 630.6h1v1h-1zM263.7 631.3h1v1h-1zM253.9 635.2h1v1h-1zM270.6 627.8h1v1h-1zM261.2 646.1h1v1h-1zM270.8 643.3h1v1h-1zM255.4 613.9h1v1h-1zM270.4 631.2h1v1h-1zM247.7 619.2h1v1h-1zM269.9 631.0h1v1h-1zM254.1 608.6h1v1h-1zM255.4 625.2h1v1h-1zM265.8 649.1h1v1h-1zM265.1 614.6h1v1h-1zM277.0 638.7h1v1h-1zM263.7 638.5h1v1h-1zM276.0 644.4h1v1h-1zM276.5 623.8h1v1h-1zM265.1 650.2h1v1h-1zM251.0 610.8h1v1h-1zM261.0 635.8h1v1h-1zM254.1 610.8h1v1h-1zM278.3 631.6h1v1h-1zM261.4 642.3h1v1h-1zM270.5 650.3h1v1h-1zM259.6 608.3h1v1h-1zM256.5 602.6h1v1h-1zM265.3 633.2h1v1h-1zM258.7 610.1h1v1h-1zM272.8 637.2h1v1h-1zM264.4 613.6h1v1h-1zM264.6 612.3h1v1h-1zM269.1 645.2h1v1h-1zM246.6 622.1h1v1h-1zM272.0 628.0h1v1h-1zM262.9 652.4h1v1h-1zM271.9 622.8h1v1h-1zM258.1 625.4h1v1h-1zM266.3 652.7h1v1h-1zM272.6 634.7h1v1h-1zM269.0 613.9h1v1h-1zM257.6 608.4h1v1h-1zM276.1 637.1h1v1h-1zM264.4 641.6h1v1h-1zM258.5 605.8h1v1h-1zM263.3 624.3h1v1h-1zM264.7 615.2h1v1h-1zM253.3 622.0h1v1h-1zM278.7 635.3h1v1h-1zM254.5 621.1h1v1h-1zM257.6 613.8h1v1h-1zM276.1 633.6h1v1h-1zM262.6 647.8h1v1h-1zM253.3 639.0h1v1h-1zM252.7 642.3h1v1h-1zM269.1 636.6h1v1h-1zM276.4 625.4h1v1h-1zM270.6 644.9h1v1h-1zM281.2 634.5h1v1h-1zM245.4 626.0h1v1h-1zM280.6 638.4h1v1h-1zM250.0 642.1h1v1h-1zM249.0 631.2h1v1h-1zM275.1 619.2h1v1h-1zM273.7 619.4h1v1h-1zM274.2 622.3h1v1h-1zM272.3 640.9h1v1h-1zM247.8 616.3h1v1h-1zM264.5 650.9h1v1h-1zM252.2 608.7h1v1h-1zM257.0 609.4h1v1h-1zM258.0 606.4h1v1h-1zM277.4 644.4h1v1h-1zM274.9 637.4h1v1h-1zM246.4 619.7h1v1h-1zM266.1 617.9h1v1h-1zM265.2 612.2h1v1h-1zM267.0 624.1h1v1h-1zM268.4 616.4h1v1h-1zM261.8 635.5h1v1h-1zM258.5 637.9h1v1h-1zM256.3 605.7h1v1h-1zM272.8 624.2h1v1h-1zM260.4 625.4h1v1h-1zM270.4 642.2h1v1h-1zM278.8 629.9h1v1h-1zM255.3 609.3h1v1h-1zM249.4 622.4h1v1h-1zM278.4 625.5h1v1h-1zM248.6 627.0h1v1h-1zM251.4 636.4h1v1h-1zM253.6 630.3h1v1h-1zM262.0 639.0h1v1h-1zM256.3 639.6h1v1h-1zM267.2 618.2h1v1h-1zM249.7 630.9h1v1h-1zM252.4 619.2h1v1h-1zM259.2 647.9h1v1h-1zM266.4 606.8h1v1h-1zM267.0 633.6h1v1h-1zM265.9 636.4h1v1h-1zM255.7 626.2h1v1h-1zM254.0 647.3h1v1h-1zM263.0 631.4h1v1h-1zM253.5 607.4h1v1h-1zM269.2 647.1h1v1h-1zM271.7 641.8h1v1h-1zM265.2 627.3h1v1h-1zM270.4 624.2h1v1h-1zM269.7 651.1h1v1h-1zM262.0 628.7h1v1h-1zM257.3 647.6h1v1h-1zM262.0 623.6h1v1h-1zM260.3 610.6h1v1h-1zM269.2 635.0h1v1h-1zM276.7 636.2h1v1h-1zM254.0 626.2h1v1h-1zM277.6 623.8h1v1h-1zM250.8 621.6h1v1h-1zM251.9 619.9h1v1h-1zM261.6 610.4h1v1h-1zM260.5 631.2h1v1h-1zM246.8 616.3h1v1h-1zM276.6 620.0h1v1h-1zM279.0 634.4h1v1h-1zM274.2 642.7h1v1h-1zM269.9 647.0h1v1h-1zM272.9 617.2h1v1h-1zM247.2 624.2h1v1h-1zM257.9 607.6h1v1h-1zM271.2 644.5h1v1h-1zM269.5 620.6h1v1h-1zM263.0 610.2h1v1h-1zM266.8 631.6h1v1h-1zM261.7 641.8h1v1h-1zM276.1 637.9h1v1h-1zM274.7 643.6h1v1h-1zM264.4 615.4h1v1h-1zM275.2 621.2h1v1h-1zM263.7 622.4h1v1h-1zM253.5 634.4h1v1h-1zM257.9 626.5h1v1h-1zM263.7 649.1h1v1h-1zM258.8 639.8h1v1h-1zM261.6 646.9h1v1h-1zM269.5 634.7h1v1h-1zM259.7 638.9h1v1h-1zM268.5 630.5h1v1h-1zM282.1 629.2h1v1h-1zM256.9 615.2h1v1h-1zM278.9 639.2h1v1h-1zM249.0 627.3h1v1h-1zM270.3 646.6h1v1h-1zM264.3 649.4h1v1h-1zM255.4 612.3h1v1h-1zM266.8 650.2h1v1h-1zM277.7 631.6h1v1h-1zM272.6 639.4h1v1h-1zM266.7 632.4h1v1h-1zM274.0 624.9h1v1h-1zM274.1 625.6h1v1h-1zM250.3 634.0h1v1h-1zM267.2 612.6h1v1h-1zM248.9 622.8h1v1h-1zM271.2 642.9h1v1h-1zM248.8 617.8h1v1h-1zM259.8 616.5h1v1h-1zM251.6 639.8h1v1h-1zM269.7 620.8h1v1h-1zM262.0 628.3h1v1h-1zM259.1 634.5h1v1h-1zM257.1 601.7h1v1h-1zM277.2 633.4h1v1h-1zM268.7 618.7h1v1h-1zM265.6 632.2h1v1h-1zM254.3 605.6h1v1h-1zM246.9 622.9h1v1h-1zM272.5 633.3h1v1h-1zM249.0 624.1h1v1h-1zM246.4 630.5h1v1h-1zM266.8 631.1h1v1h-1zM254.1 625.0h1v1h-1zM261.9 613.4h1v1h-1zM261.7 633.4h1v1h-1zM257.6 638.0h1v1h-1zM280.9 629.1h1v1h-1zM278.0 636.9h1v1h-1zM253.0 607.2h1v1h-1zM267.1 628.5h1v1h-1zM259.2 619.1h1v1h-1zM260.2 629.3h1v1h-1zM260.4 650.2h1v1h-1zM266.9 618.1h1v1h-1zM280.1 631.4h1v1h-1zM264.4 610.2h1v1h-1zM258.6 627.0h1v1h-1zM255.2 618.8h1v1h-1zM249.8 613.4h1v1h-1zM259.1 634.5h1v1h-1zM274.3 626.0h1v1h-1zM263.5 610.5h1v1h-1zM251.7 641.8h1v1h-1zM259.1 631.2h1v1h-1zM250.1 628.1h1v1h-1zM249.6 638.3h1v1h-1zM245.2 628.5h1v1h-1zM279.4 628.4h1v1h-1zM257.2 642.9h1v1h-1zM276.5 620.3h1v1h-1zM258.8 621.7h1v1h-1zM258.7 616.6h1v1h-1zM265.9 607.4h1v1h-1zM264.4 624.6h1v1h-1zM251.4 608.4h1v1h-1zM246.9 628.4h1v1h-1zM275.2 618.0h1v1h-1zM256.2 638.5h1v1h-1zM258.9 602.3h1v1h-1zM275.5 638.2h1v1h-1zM278.0 636.9h1v1h-1zM260.5 625.9h1v1h-1zM261.2 611.0h1v1h-1zM272.8 643.9h1v1h-1zM264.4 608.3h1v1h-1zM261.4 635.9h1v1h-1zM280.4 631.3h1v1h-1zM267.3 632.5h1v1h-1zM275.4 625.9h1v1h-1zM254.7 638.9h1v1h-1zM268.5 651.5h1v1h-1zM278.4 636.6h1v1h-1zM277.6 641.3h1v1h-1zM265.0 646.3h1v1h-1zM257.4 642.5h1v1h-1zM264.4 631.3h1v1h-1zM267.0 614.2h1v1h-1zM255.3 609.5h1v1h-1zM260.0 628.4h1v1h-1zM254.8 605.7h1v1h-1zM270.3 620.6h1v1h-1zM260.5 618.9h1v1h-1zM268.3 650.8h1v1h-1zM273.0 637.9h1v1h-1zM275.1 633.0h1v1h-1zM282.1 634.9h1v1h-1zM254.3 640.0h1v1h-1zM248.6 623.4h1v1h-1zM269.3 646.7h1v1h-1zM255.5 610.0h1v1h-1zM271.6 635.1h1v1h-1zM267.7 635.2h1v1h-1zM244.6 624.3h1v1h-1zM250.0 611.0h1v1h-1zM263.4 643.9h1v1h-1zM274.6 644.4h1v1h-1zM268.8 650.0h1v1h-1zM256.5 608.7h1v1h-1zM265.6 613.6h1v1h-1zM253.2 617.0h1v1h-1zM277.0 634.1h1v1h-1zM252.1 611.4h1v1h-1zM266.0 643.0h1v1h-1zM260.6 607.2h1v1h-1zM273.0 622.8h1v1h-1zM274.7 637.9h1v1h-1zM259.6 605.0h1v1h-1zM254.0 640.3h1v1h-1zM280.4 626.9h1v1h-1zM271.4 638.0h1v1h-1zM263.5 608.7h1v1h-1zM279.1 639.8h1v1h-1zM273.5 618.7h1v1h-1zM252.5 623.5h1v1h-1zM255.6 628.0h1v1h-1zM264.4 607.1h1v1h-1zM259.3 612.1h1v1h-1zM257.0 641.0h1v1h-1zM258.0 642.6h1v1h-1zM265.2 637.5h1v1h-1zM271.6 639.1h1v1h-1zM260.3 631.1h1v1h-1zM269.9 643.8h1v1h-1zM245.0 625.7h1v1h-1zM282.2 634.1h1v1h-1zM261.9 620.6h1v1h-1zM256.5 603.7h1v1h-1zM250.3 640.7h1v1h-1zM253.1 631.5h1v1h-1zM255.5 640.6h1v1h-1zM275.2 626.7h1v1h-1zM270.0 632.9h1v1h-1zM256.3 646.9h1v1h-1zM252.2 624.1h1v1h-1zM250.4 637.0h1v1h-1zM261.7 644.6h1v1h-1zM273.9 623.6h1v1h-1zM260.2 639.0h1v1h-1zM258.3 622.7h1v1h-1zM278.7 628.8h1v1h-1zM268.1 643.8h1v1h-1zM266.8 625.5h1v1h-1zM275.8 621.5h1v1h-1zM261.0 619.3h1v1h-1zM266.8 645.1h1v1h-1zM245.7 629.1h1v1h-1zM266.1 606.1h1v1h-1zM255.2 612.9h1v1h-1zM272.5 633.5h1v1h-1zM247.7 617.2h1v1h-1zM263.7 635.4h1v1h-1zM260.8 620.5h1v1h-1zM272.8 645.8h1v1h-1zM274.0 629.1h1v1h-1zM268.2 626.8h1v1h-1zM259.9 639.1h1v1h-1zM275.3 632.2h1v1h-1zM259.8 615.8h1v1h-1zM251.0 614.0h1v1h-1zM264.2 650.6h1v1h-1zM271.1 640.9h1v1h-1zM253.9 610.1h1v1h-1zM249.8 613.0h1v1h-1zM248.0 618.6h1v1h-1zM253.4 630.7h1v1h-1zM254.6 617.9h1v1h-1zM259.2 611.2h1v1h-1zM264.7 620.1h1v1h-1zM266.0 618.3h1v1h-1zM250.1 635.3h1v1h-1zM255.4 634.8h1v1h-1zM268.8 631.9h1v1h-1zM260.7 604.1h1v1h-1zM249.3 622.4h1v1h-1zM282.1 629.8h1v1h-1zM256.9 604.7h1v1h-1zM252.9 634.6h1v1h-1zM254.6 603.7h1v1h-1zM264.5 645.1h1v1h-1zM254.3 612.4h1v1h-1zM252.7 630.6h1v1h-1zM268.6 615.1h1v1h-1zM276.9 627.5h1v1h-1zM262.2 619.0h1v1h-1zM251.4 642.2h1v1h-1zM264.1 650.2h1v1h-1zM282.2 635.9h1v1h-1zM257.1 628.7h1v1h-1zM267.9 646.6h1v1h-1zM255.4 623.1h1v1h-1zM258.2 642.9h1v1h-1zM255.5 621.4h1v1h-1zM257.0 620.6h1v1h-1zM248.5 623.7h1v1h-1zM253.5 632.8h1v1h-1zM251.7 615.0h1v1h-1zM263.5 645.1h1v1h-1zM283.2 634.2h1v1h-1zM260.7 627.1h1v1h-1zM252.8 608.5h1v1h-1zM266.7 623.3h1v1h-1zM270.6 641.7h1v1h-1zM253.9 635.2h1v1h-1zM253.4 614.8h1v1h-1zM267.4 619.7h1v1h-1zM262.9 645.6h1v1h-1zM249.1 636.9h1v1h-1zM269.7 646.0h1v1h-1zM278.2 640.5h1v1h-1zM273.2 639.1h1v1h-1zM275.5 639.7h1v1h-1zM262.6 647.3h1v1h-1zM258.5 608.9h1v1h-1zM248.1 632.9h1v1h-1zM271.3 624.1h1v1h-1zM269.8 644.1h1v1h-1zM257.6 642.4h1v1h-1zM264.2 648.0h1v1h-1zM250.3 628.5h1v1h-1zM283.6 633.2h1v1h-1zM264.4 611.4h1v1h-1zM256.0 608.4h1v1h-1zM260.2 629.3h1v1h-1zM268.2 630.1h1v1h-1zM259.7 605.6h1v1h-1zM265.9 645.2h1v1h-1zM261.8 643.4h1v1h-1zM262.0 630.6h1v1h-1zM258.0 609.8h1v1h-1zM261.7 613.6h1v1h-1zM266.9 611.4h1v1h-1zM279.6 629.4h1v1h-1zM257.9 626.0h1v1h-1zM279.2 624.5h1v1h-1zM256.2 604.6h1v1h-1zM272.1 615.5h1v1h-1zM247.2 619.7h1v1h-1zM263.4 638.0h1v1h-1zM269.0 619.1h1v1h-1zM276.6 625.7h1v1h-1zM269.1 627.3h1v1h-1zM259.8 616.4h1v1h-1zM275.1 630.8h1v1h-1zM273.5 617.1h1v1h-1zM262.9 642.4h1v1h-1zM261.9 612.8h1v1h-1zM263.2 632.9h1v1h-1zM248.9 626.1h1v1h-1zM271.7 613.5h1v1h-1zM267.5 631.8h1v1h-1zM260.3 630.5h1v1h-1zM260.4 627.5h1v1h-1zM269.9 632.0h1v1h-1zM256.2 640.9h1v1h-1zM266.6 652.7h1v1h-1zM265.5 645.4h1v1h-1zM275.1 646.2h1v1h-1zM250.8 633.3h1v1h-1zM265.6 606.3h1v1h-1zM263.3 622.4h1v1h-1zM255.6 605.4h1v1h-1zM250.3 628.7h1v1h-1zM265.0 648.8h1v1h-1zM273.5 617.0h1v1h-1zM255.6 613.0h1v1h-1zM273.8 640.9h1v1h-1zM261.1 636.3h1v1h-1zM278.1 633.1h1v1h-1zM264.6 645.9h1v1h-1zM272.5 630.6h1v1h-1zM262.3 637.7h1v1h-1zM270.3 637.5h1v1h-1zM247.1 629.3h1v1h-1zM262.2 609.6h1v1h-1zM270.6 618.5h1v1h-1zM273.3 638.2h1v1h-1zM264.4 650.6h1v1h-1zM282.3 634.3h1v1h-1zM268.9 624.5h1v1h-1zM257.9 619.0h1v1h-1zM276.4 635.9h1v1h-1zM258.1 637.1h1v1h-1zM265.4 626.6h1v1h-1zM275.6 618.7h1v1h-1zM265.8 648.1h1v1h-1zM261.1 618.6h1v1h-1zM264.9 645.1h1v1h-1zM263.5 647.1h1v1h-1zM271.9 625.1h1v1h-1zM251.4 622.9h1v1h-1zM272.6 619.6h1v1h-1zM264.3 614.3h1v1h-1zM248.4 631.1h1v1h-1zM270.1 642.2h1v1h-1zM272.6 627.0h1v1h-1zM246.9 628.5h1v1h-1zM260.6 623.9h1v1h-1zM266.0 628.8h1v1h-1zM266.7 610.3h1v1h-1zM253.2 644.6h1v1h-1zM248.3 625.4h1v1h-1zM245.6 619.0h1v1h-1zM254.6 634.6h1v1h-1zM279.5 630.1h1v1h-1zM250.4 628.9h1v1h-1zM268.5 629.7h1v1h-1zM276.8 631.3h1v1h-1zM275.6 640.0h1v1h-1zM267.1 616.7h1v1h-1zM270.3 638.9h1v1h-1zM255.1 602.1h1v1h-1zM265.4 616.9h1v1h-1zM258.1 635.7h1v1h-1zM270.9 614.1h1v1h-1zM264.8 633.5h1v1h-1zM255.1 609.3h1v1h-1zM266.3 644.8h1v1h-1zM251.2 630.9h1v1h-1zM265.3 633.9h1v1h-1zM255.8 639.9h1v1h-1zM253.8 626.1h1v1h-1zM271.4 637.9h1v1h-1zM269.3 641.6h1v1h-1zM264.9 624.2h1v1h-1zM266.0 644.9h1v1h-1zM281.5 630.7h1v1h-1zM266.8 617.5h1v1h-1zM272.8 621.5h1v1h-1zM248.0 628.5h1v1h-1zM267.7 631.7h1v1h-1zM259.7 618.3h1v1h-1zM253.0 620.9h1v1h-1zM281.3 634.7h1v1h-1zM265.9 622.9h1v1h-1zM252.7 629.0h1v1h-1zM255.2 609.5h1v1h-1zM264.9 639.3h1v1h-1zM265.8 609.1h1v1h-1zM268.3 620.2h1v1h-1zM277.8 632.3h1v1h-1zM273.6 621.9h1v1h-1zM258.1 620.7h1v1h-1zM272.6 649.4h1v1h-1zM272.1 647.8h1v1h-1zM268.0 640.6h1v1h-1zM254.9 647.3h1v1h-1zM257.1 644.8h1v1h-1zM270.5 644.1h1v1h-1zM254.6 611.8h1v1h-1zM269.8 645.9h1v1h-1zM252.9 618.3h1v1h-1zM272.0 629.4h1v1h-1zM266.2 611.3h1v1h-1zM258.9 609.2h1v1h-1zM268.5 649.5h1v1h-1zM260.0 633.6h1v1h-1zM257.5 626.0h1v1h-1zM251.7 642.6h1v1h-1zM248.8 627.1h1v1h-1zM262.4 606.1h1v1h-1zM273.0 614.8h1v1h-1zM269.2 650.9h1v1h-1zM253.1 645.7h1v1h-1zM252.3 639.0h1v1h-1zM276.8 630.2h1v1h-1zM277.1 623.7h1v1h-1zM253.7 626.3h1v1h-1zM266.6 608.0h1v1h-1zM260.7 608.3h1v1h-1zM268.6 650.9h1v1h-1zM273.2 617.1h1v1h-1zM260.2 622.2h1v1h-1zM279.0 638.6h1v1h-1zM282.4 633.2h1v1h-1zM267.5 642.9h1v1h-1zM278.6 630.1h1v1h-1zM266.5 634.8h1v1h-1zM262.8 612.2h1v1h-1zM267.0 637.1h1v1h-1zM271.5 645.5h1v1h-1zM263.4 616.4h1v1h-1zM266.3 652.3h1v1h-1zM250.8 615.5h1v1h-1zM251.9 617.5h1v1h-1zM270.5 613.4h1v1h-1zM270.7 610.9h1v1h-1zM252.1 644.5h1v1h-1zM248.6 617.5h1v1h-1zM277.3 622.4h1v1h-1zM256.1 647.4h1v1h-1zM254.0 620.4h1v1h-1zM266.1 637.8h1v1h-1zM249.5 619.9h1v1h-1zM258.6 639.4h1v1h-1zM265.4 648.7h1v1h-1zM262.9 605.1h1v1h-1zM259.5 623.5h1v1h-1zM256.1 635.1h1v1h-1zM273.8 617.9h1v1h-1zM256.2 643.9h1v1h-1zM268.0 609.2h1v1h-1zM263.0 612.7h1v1h-1zM254.5 614.0h1v1h-1zM282.0 637.4h1v1h-1zM248.0 623.4h1v1h-1zM262.5 646.7h1v1h-1zM252.0 611.9h1v1h-1zM253.7 632.0h1v1h-1zM268.1 635.0h1v1h-1zM253.5 638.2h1v1h-1zM277.6 639.5h1v1h-1zM271.8 642.4h1v1h-1zM266.1 618.3h1v1h-1zM264.4 631.0h1v1h-1zM256.5 638.6h1v1h-1zM274.3 634.1h1v1h-1zM258.6 624.1h1v1h-1zM257.7 615.2h1v1h-1zM258.3 645.9h1v1h-1zM266.8 651.4h1v1h-1zM272.8 617.5h1v1h-1zM267.0 641.3h1v1h-1zM248.4 630.5h1v1h-1zM263.5 644.4h1v1h-1zM266.9 647.4h1v1h-1zM266.9 611.5h1v1h-1zM267.7 648.9h1v1h-1zM262.1 612.9h1v1h-1zM256.4 630.5h1v1h-1zM261.9 642.3h1v1h-1zM268.9 645.8h1v1h-1zM266.2 610.4h1v1h-1zM246.2 620.6h1v1h-1zM248.9 636.9h1v1h-1zM278.2 622.9h1v1h-1zM281.7 637.6h1v1h-1zM272.6 643.1h1v1h-1zM254.5 608.9h1v1h-1zM256.9 608.6h1v1h-1zM264.4 643.9h1v1h-1zM273.1 625.0h1v1h-1zM263.6 620.5h1v1h-1zM251.9 645.2h1v1h-1zM252.6 625.3h1v1h-1zM276.1 620.9h1v1h-1zM262.5 619.4h1v1h-1zM275.4 618.1h1v1h-1zM250.0 619.9h1v1h-1zM259.9 624.3h1v1h-1zM278.1 634.8h1v1h-1zM269.0 621.0h1v1h-1zM249.1 624.3h1v1h-1zM275.1 628.3h1v1h-1zM256.4 600.8h1v1h-1zM256.4 625.4h1v1h-1zM252.4 624.7h1v1h-1zM260.5 640.0h1v1h-1zM249.8 638.9h1v1h-1zM249.0 622.7h1v1h-1zM259.6 624.4h1v1h-1zM255.8 645.9h1v1h-1zM268.3 610.1h1v1h-1zM269.0 615.9h1v1h-1zM277.5 643.8h1v1h-1zM246.3 625.1h1v1h-1zM262.5 614.3h1v1h-1zM252.7 642.5h1v1h-1zM264.9 611.9h1v1h-1zM264.6 626.7h1v1h-1zM275.3 642.3h1v1h-1zM282.3 634.1h1v1h-1zM250.1 615.0h1v1h-1zM264.8 632.4h1v1h-1zM260.1 621.1h1v1h-1zM277.1 638.5h1v1h-1zM250.1 629.9h1v1h-1zM254.7 636.7h1v1h-1zM274.9 617.4h1v1h-1zM252.2 637.9h1v1h-1zM256.6 616.0h1v1h-1zM267.5 615.5h1v1h-1zM243.6 622.2h1v1h-1zM260.0 610.0h1v1h-1zM260.9 617.9h1v1h-1zM279.5 630.2h1v1h-1zM257.1 618.4h1v1h-1zM255.3 625.0h1v1h-1zM255.9 603.8h1v1h-1zM260.4 616.4h1v1h-1zM260.3 621.7h1v1h-1zM277.5 623.3h1v1h-1zM254.3 607.8h1v1h-1zM262.4 618.9h1v1h-1zM257.4 622.3h1v1h-1zM271.8 649.3h1v1h-1zM248.1 637.8h1v1h-1zM262.3 616.2h1v1h-1zM253.2 632.6h1v1h-1zM244.8 622.4h1v1h-1zM253.5 639.3h1v1h-1zM277.2 628.1h1v1h-1zM259.8 614.3h1v1h-1zM265.4 607.1h1v1h-1zM275.4 635.8h1v1h-1zM273.8 616.8h1v1h-1zM257.8 642.5h1v1h-1zM250.0 632.6h1v1h-1zM282.9 632.0h1v1h-1zM253.0 621.2h1v1h-1zM258.2 603.9h1v1h-1zM272.7 646.1h1v1h-1zM263.0 635.2h1v1h-1zM246.2 625.8h1v1h-1zM276.0 620.6h1v1h-1zM254.9 636.8h1v1h-1zM276.9 621.9h1v1h-1zM264.1 606.8h1v1h-1zM250.7 611.6h1v1h-1zM260.6 645.1h1v1h-1zM259.0 608.1h1v1h-1zM262.3 610.2h1v1h-1zM266.4 652.9h1v1h-1zM247.2 632.1h1v1h-1zM264.5 615.5h1v1h-1zM248.1 631.4h1v1h-1zM282.1 632.1h1v1h-1zM257.6 620.3h1v1h-1zM262.5 641.0h1v1h-1zM252.8 615.7h1v1h-1zM255.4 619.3h1v1h-1zM245.7 626.5h1v1h-1zM277.5 644.4h1v1h-1zM272.2 617.8h1v1h-1zM251.6 643.2h1v1h-1zM245.0 623.6h1v1h-1zM265.8 620.9h1v1h-1zM263.0 627.1h1v1h-1zM257.6 607.0h1v1h-1zM267.9 616.6h1v1h-1zM248.0 628.4h1v1h-1zM244.0 624.1h1v1h-1zM265.8 648.0h1v1h-1zM253.9 642.6h1v1h-1zM269.5 624.7h1v1h-1zM266.9 638.9h1v1h-1zM246.4 621.1h1v1h-1zM255.4 638.8h1v1h-1zM258.1 602.7h1v1h-1zM268.6 644.7h1v1h-1zM280.7 630.5h1v1h-1zM255.5 617.8h1v1h-1zM253.7 624.3h1v1h-1zM274.9 625.0h1v1h-1zM257.6 612.1h1v1h-1zM277.3 642.1h1v1h-1zM274.3 633.7h1v1h-1zM261.8 650.1h1v1h-1zM264.6 610.2h1v1h-1zM254.4 613.6h1v1h-1zM265.2 635.7h1v1h-1zM253.7 636.5h1v1h-1zM265.9 645.0h1v1h-1zM266.0 653.9h1v1h-1zM271.2 643.0h1v1h-1zM249.4 642.9h1v1h-1zM264.4 619.9h1v1h-1zM270.3 634.8h1v1h-1zM282.2 636.7h1v1h-1zM258.0 614.9h1v1h-1zM248.0 622.6h1v1h-1zM258.9 617.5h1v1h-1zM280.8 630.6h1v1h-1zM262.9 648.9h1v1h-1zM253.5 644.3h1v1h-1zM260.7 613.9h1v1h-1zM265.3 617.1h1v1h-1zM268.1 646.4h1v1h-1zM253.8 623.4h1v1h-1zM271.3 636.2h1v1h-1zM277.6 622.4h1v1h-1zM269.9 644.9h1v1h-1zM264.7 625.1h1v1h-1zM260.0 629.6h1v1h-1zM250.8 639.8h1v1h-1zM262.6 627.6h1v1h-1zM245.7 621.9h1v1h-1zM264.8 635.1h1v1h-1zM255.6 619.1h1v1h-1zM273.6 614.9h1v1h-1zM267.7 629.4h1v1h-1zM277.7 632.7h1v1h-1zM266.7 642.1h1v1h-1zM258.6 632.2h1v1h-1zM255.0 612.5h1v1h-1zM256.7 621.0h1v1h-1zM257.0 637.2h1v1h-1zM275.9 637.5h1v1h-1zM256.7 602.8h1v1h-1zM272.4 639.2h1v1h-1zM254.4 624.0h1v1h-1zM259.4 618.8h1v1h-1zM266.9 648.9h1v1h-1zM251.2 623.1h1v1h-1zM252.1 634.6h1v1h-1zM250.7 618.1h1v1h-1zM258.6 610.4h1v1h-1zM255.1 638.8h1v1h-1zM247.4 634.6h1v1h-1zM266.0 635.9h1v1h-1zM259.5 611.6h1v1h-1zM258.5 617.9h1v1h-1zM251.2 642.2h1v1h-1zM255.1 603.9h1v1h-1zM265.3 612.3h1v1h-1zM248.6 636.5h1v1h-1zM264.4 612.7h1v1h-1zM257.4 637.8h1v1h-1zM252.6 618.9h1v1h-1zM253.6 612.0h1v1h-1zM279.6 632.7h1v1h-1zM256.3 646.0h1v1h-1zM265.3 639.3h1v1h-1zM259.0 634.9h1v1h-1zM244.5 622.8h1v1h-1zM251.6 630.1h1v1h-1zM277.4 639.0h1v1h-1zM276.8 643.6h1v1h-1zM251.7 623.3h1v1h-1zM263.2 649.2h1v1h-1zM264.2 609.5h1v1h-1zM259.8 625.0h1v1h-1zM251.6 619.1h1v1h-1zM274.1 633.6h1v1h-1zM247.0 618.0h1v1h-1zM274.3 616.0h1v1h-1zM272.9 614.3h1v1h-1zM266.1 616.5h1v1h-1zM280.4 635.6h1v1h-1zM260.2 635.8h1v1h-1zM267.1 647.6h1v1h-1zM279.3 624.6h1v1h-1zM262.6 650.5h1v1h-1zM264.2 632.9h1v1h-1zM254.7 630.3h1v1h-1zM267.8 615.7h1v1h-1zM256.2 640.1h1v1h-1zM254.7 635.0h1v1h-1zM273.7 630.1h1v1h-1zM268.4 615.8h1v1h-1zM252.8 633.5h1v1h-1zM283.5 634.5h1v1h-1zM259.3 632.4h1v1h-1zM262.4 637.9h1v1h-1zM261.8 605.7h1v1h-1zM271.5 617.3h1v1h-1zM259.9 612.0h1v1h-1zM266.6 618.6h1v1h-1zM248.9 639.2h1v1h-1zM256.9 636.8h1v1h-1zM261.4 625.0h1v1h-1zM255.9 616.3h1v1h-1zM277.3 625.4h1v1h-1zM252.1 619.2h1v1h-1zM255.5 631.6h1v1h-1zM282.1 629.7h1v1h-1zM276.0 635.8h1v1h-1zM257.7 608.7h1v1h-1zM262.4 615.7h1v1h-1zM259.0 610.2h1v1h-1zM278.3 639.5h1v1h-1zM258.1 603.8h1v1h-1zM268.5 635.7h1v1h-1zM266.9 647.3h1v1h-1zM270.0 637.9h1v1h-1zM259.6 606.9h1v1h-1zM266.9 649.2h1v1h-1zM273.5 636.3h1v1h-1zM258.2 644.4h1v1h-1zM266.5 621.6h1v1h-1zM274.3 644.0h1v1h-1zM269.8 612.5h1v1h-1zM256.5 632.1h1v1h-1zM247.0 634.9h1v1h-1zM257.1 638.4h1v1h-1zM248.2 634.0h1v1h-1zM247.7 623.3h1v1h-1zM249.9 624.1h1v1h-1zM256.6 639.3h1v1h-1zM255.3 615.1h1v1h-1zM267.7 611.3h1v1h-1zM257.6 613.8h1v1h-1zM259.4 626.6h1v1h-1zM267.8 645.4h1v1h-1zM279.1 634.4h1v1h-1zM272.6 617.6h1v1h-1zM275.9 643.5h1v1h-1zM258.9 639.5h1v1h-1zM272.0 640.0h1v1h-1zM264.3 612.2h1v1h-1zM275.6 616.3h1v1h-1zM263.8 624.3h1v1h-1zM275.2 638.0h1v1h-1zM275.0 616.6h1v1h-1zM264.4 649.2h1v1h-1z" fill="#1656aa" stroke="none" stroke-width="1" fill-opacity="0.62"/>
<path d="M267.1 646.8h1v1h-1zM270.9 625.9h1v1h-1zM266.5 617.9h1v1h-1zM266.4 617.9h1v1h-1zM256.1 647.6h1v1h-1zM277.1 640.3h1v1h-1zM268.8 624.4h1v1h-1zM261.3 638.6h1v1h-1zM263.6 636.5h1v1h-1zM253.7 628.9h1v1h-1zM264.0 618.4h1v1h-1zM253.2 627.2h1v1h-1zM251.4 638.5h1v1h-1zM273.1 629.7h1v1h-1zM265.6 639.0h1v1h-1zM259.8 637.3h1v1h-1zM265.9 642.1h1v1h-1zM270.8 622.1h1v1h-1zM267.9 643.2h1v1h-1zM279.7 627.3h1v1h-1zM258.4 625.4h1v1h-1zM264.8 642.6h1v1h-1zM253.3 629.4h1v1h-1zM262.8 624.9h1v1h-1zM254.5 636.3h1v1h-1zM280.6 627.8h1v1h-1zM257.1 622.3h1v1h-1zM253.0 620.9h1v1h-1zM255.4 617.6h1v1h-1zM254.4 634.2h1v1h-1zM256.9 621.6h1v1h-1zM257.2 639.7h1v1h-1zM275.6 626.1h1v1h-1zM261.9 635.9h1v1h-1zM260.1 623.4h1v1h-1zM264.1 629.7h1v1h-1zM266.0 625.8h1v1h-1zM262.2 616.6h1v1h-1zM263.8 640.0h1v1h-1zM267.2 629.7h1v1h-1zM256.5 627.9h1v1h-1zM260.8 628.7h1v1h-1zM262.3 623.8h1v1h-1zM261.4 624.2h1v1h-1zM250.5 632.2h1v1h-1zM253.7 645.5h1v1h-1zM259.8 622.7h1v1h-1zM264.2 638.2h1v1h-1zM263.2 624.2h1v1h-1zM259.0 622.8h1v1h-1zM252.0 640.1h1v1h-1zM260.1 625.2h1v1h-1zM271.8 624.2h1v1h-1zM252.2 632.5h1v1h-1zM264.8 609.2h1v1h-1zM261.0 632.9h1v1h-1zM267.9 639.3h1v1h-1zM260.9 635.3h1v1h-1zM264.2 644.1h1v1h-1zM262.4 625.3h1v1h-1zM254.5 631.2h1v1h-1zM263.9 643.0h1v1h-1zM264.4 614.0h1v1h-1zM258.5 622.3h1v1h-1zM256.0 647.7h1v1h-1zM248.6 621.6h1v1h-1zM269.7 622.9h1v1h-1zM266.7 631.0h1v1h-1zM264.2 640.5h1v1h-1zM260.8 628.5h1v1h-1zM266.4 631.5h1v1h-1zM271.0 628.5h1v1h-1zM259.2 629.6h1v1h-1zM268.9 643.5h1v1h-1zM262.1 624.4h1v1h-1zM272.0 639.2h1v1h-1zM250.4 643.5h1v1h-1zM263.8 623.6h1v1h-1zM261.9 629.9h1v1h-1zM262.8 638.9h1v1h-1zM259.2 610.1h1v1h-1zM268.1 620.4h1v1h-1zM266.7 636.6h1v1h-1zM257.3 641.3h1v1h-1zM262.2 627.8h1v1h-1zM257.3 638.6h1v1h-1zM253.3 637.9h1v1h-1zM268.2 628.6h1v1h-1zM262.8 626.9h1v1h-1zM257.1 643.3h1v1h-1zM256.1 624.1h1v1h-1zM255.6 621.4h1v1h-1zM261.2 618.1h1v1h-1zM258.3 634.7h1v1h-1zM272.7 615.8h1v1h-1zM262.0 639.9h1v1h-1zM260.1 613.7h1v1h-1zM265.4 618.4h1v1h-1zM261.3 631.0h1v1h-1zM269.3 642.9h1v1h-1zM264.6 617.4h1v1h-1zM266.9 628.5h1v1h-1zM274.4 638.6h1v1h-1zM254.2 633.9h1v1h-1zM249.8 632.0h1v1h-1zM261.5 642.4h1v1h-1zM271.6 624.9h1v1h-1zM263.7 627.5h1v1h-1zM257.8 624.0h1v1h-1zM262.7 620.3h1v1h-1zM259.9 641.3h1v1h-1zM260.0 631.4h1v1h-1zM268.4 625.4h1v1h-1zM273.7 632.2h1v1h-1zM258.8 633.7h1v1h-1zM261.8 625.6h1v1h-1zM274.5 632.1h1v1h-1zM267.2 636.3h1v1h-1zM262.8 611.1h1v1h-1zM267.1 623.6h1v1h-1zM269.9 623.3h1v1h-1zM263.0 630.0h1v1h-1zM253.0 630.5h1v1h-1zM265.7 631.0h1v1h-1zM253.7 628.3h1v1h-1zM256.3 633.6h1v1h-1zM267.9 628.9h1v1h-1zM263.5 628.6h1v1h-1zM257.6 626.5h1v1h-1zM270.8 633.9h1v1h-1zM255.4 627.9h1v1h-1zM254.5 615.1h1v1h-1zM259.1 641.3h1v1h-1zM259.8 642.1h1v1h-1zM272.3 623.9h1v1h-1zM262.9 627.3h1v1h-1zM260.5 647.1h1v1h-1zM259.2 629.4h1v1h-1zM262.5 626.9h1v1h-1zM266.4 640.5h1v1h-1zM268.6 620.5h1v1h-1zM272.4 618.9h1v1h-1zM259.1 633.3h1v1h-1zM263.7 638.6h1v1h-1zM254.7 630.7h1v1h-1zM254.6 623.7h1v1h-1zM259.4 635.7h1v1h-1zM263.5 624.2h1v1h-1zM265.9 651.0h1v1h-1zM272.3 626.6h1v1h-1zM264.1 620.8h1v1h-1zM253.2 624.3h1v1h-1zM263.5 646.9h1v1h-1zM263.8 648.7h1v1h-1zM274.2 631.2h1v1h-1zM262.7 636.5h1v1h-1zM261.9 630.7h1v1h-1zM262.2 634.2h1v1h-1zM251.2 628.4h1v1h-1zM261.0 642.7h1v1h-1zM265.2 634.9h1v1h-1zM262.0 627.4h1v1h-1zM269.0 616.8h1v1h-1zM267.3 619.7h1v1h-1zM263.6 621.6h1v1h-1zM259.8 627.6h1v1h-1zM260.9 636.6h1v1h-1zM267.5 624.5h1v1h-1zM261.8 623.2h1v1h-1zM266.4 629.3h1v1h-1zM265.4 621.3h1v1h-1zM257.2 638.1h1v1h-1zM257.8 637.9h1v1h-1zM265.2 642.6h1v1h-1zM261.3 632.8h1v1h-1zM260.2 617.6h1v1h-1zM259.9 621.4h1v1h-1zM265.1 637.9h1v1h-1zM258.5 637.9h1v1h-1zM270.6 626.7h1v1h-1zM261.2 617.6h1v1h-1zM267.2 630.7h1v1h-1zM263.9 636.7h1v1h-1zM267.3 630.7h1v1h-1zM254.9 638.7h1v1h-1zM268.7 637.9h1v1h-1zM264.8 639.2h1v1h-1zM261.3 616.5h1v1h-1zM253.7 646.4h1v1h-1zM268.6 634.7h1v1h-1zM265.3 630.8h1v1h-1zM258.6 635.7h1v1h-1zM259.2 633.9h1v1h-1zM268.4 623.5h1v1h-1zM256.4 637.2h1v1h-1zM261.7 627.0h1v1h-1zM268.5 637.7h1v1h-1zM252.6 621.8h1v1h-1zM272.1 616.6h1v1h-1zM274.4 641.3h1v1h-1zM267.6 636.6h1v1h-1zM268.3 628.3h1v1h-1zM258.2 604.1h1v1h-1zM268.4 630.6h1v1h-1zM253.7 638.1h1v1h-1zM250.7 624.8h1v1h-1zM253.3 621.2h1v1h-1zM260.5 632.4h1v1h-1zM266.0 627.7h1v1h-1zM260.2 618.8h1v1h-1zM257.2 632.1h1v1h-1zM249.1 625.2h1v1h-1zM271.3 635.9h1v1h-1zM273.2 624.8h1v1h-1zM267.2 629.5h1v1h-1zM261.0 632.3h1v1h-1zM268.9 625.4h1v1h-1zM274.1 617.9h1v1h-1zM263.6 644.0h1v1h-1zM254.7 636.7h1v1h-1zM279.3 631.4h1v1h-1zM250.7 624.0h1v1h-1zM263.2 628.8h1v1h-1zM266.8 643.1h1v1h-1zM264.2 629.2h1v1h-1zM252.0 619.0h1v1h-1zM255.8 626.1h1v1h-1zM262.6 636.2h1v1h-1zM258.1 639.4h1v1h-1zM268.2 633.5h1v1h-1zM258.8 622.8h1v1h-1zM254.0 630.6h1v1h-1zM251.0 621.3h1v1h-1zM252.1 625.8h1v1h-1zM261.4 638.4h1v1h-1zM253.8 632.7h1v1h-1zM267.5 639.9h1v1h-1zM263.7 628.1h1v1h-1zM263.1 639.5h1v1h-1zM267.2 620.7h1v1h-1zM256.3 629.0h1v1h-1zM263.5 634.4h1v1h-1zM273.3 619.0h1v1h-1zM268.9 643.5h1v1h-1zM253.3 629.3h1v1h-1zM254.1 635.9h1v1h-1zM264.1 625.4h1v1h-1zM258.2 625.8h1v1h-1zM250.9 625.6h1v1h-1zM265.4 636.6h1v1h-1zM255.7 632.7h1v1h-1zM262.8 628.6h1v1h-1zM270.0 633.9h1v1h-1zM255.3 637.7h1v1h-1zM255.6 634.6h1v1h-1zM264.8 634.2h1v1h-1zM260.3 631.2h1v1h-1zM252.9 627.3h1v1h-1zM270.5 631.4h1v1h-1zM264.6 638.6h1v1h-1zM266.8 626.6h1v1h-1zM263.6 619.7h1v1h-1zM261.0 629.8h1v1h-1zM264.0 644.9h1v1h-1zM258.9 624.0h1v1h-1zM268.5 616.9h1v1h-1zM273.3 628.0h1v1h-1zM257.1 629.2h1v1h-1zM255.8 633.3h1v1h-1zM270.1 630.9h1v1h-1zM268.0 628.1h1v1h-1zM266.5 641.5h1v1h-1zM260.8 625.2h1v1h-1zM268.3 626.6h1v1h-1zM258.5 644.3h1v1h-1zM262.2 633.4h1v1h-1zM263.3 637.0h1v1h-1zM273.5 615.7h1v1h-1zM252.8 630.2h1v1h-1zM262.2 629.0h1v1h-1zM263.0 624.9h1v1h-1zM264.5 637.1h1v1h-1zM256.7 632.1h1v1h-1zM250.8 622.1h1v1h-1zM253.5 620.2h1v1h-1zM252.2 630.2h1v1h-1zM265.4 628.1h1v1h-1zM254.3 632.7h1v1h-1zM254.2 633.6h1v1h-1zM272.7 637.1h1v1h-1zM268.4 621.3h1v1h-1zM259.5 633.5h1v1h-1zM268.6 632.5h1v1h-1zM260.2 622.0h1v1h-1zM273.8 628.1h1v1h-1zM269.9 634.2h1v1h-1zM268.1 618.4h1v1h-1zM260.8 630.1h1v1h-1zM267.8 625.2h1v1h-1zM263.7 632.5h1v1h-1zM277.6 630.4h1v1h-1zM264.8 626.1h1v1h-1zM260.6 634.0h1v1h-1zM261.5 617.2h1v1h-1zM260.5 640.5h1v1h-1zM260.0 629.3h1v1h-1zM258.0 634.1h1v1h-1zM249.4 627.6h1v1h-1zM262.1 617.3h1v1h-1zM263.3 626.3h1v1h-1zM271.0 638.3h1v1h-1zM260.3 615.5h1v1h-1zM268.1 639.4h1v1h-1zM261.9 627.2h1v1h-1zM260.3 626.5h1v1h-1zM262.4 641.5h1v1h-1zM269.7 636.1h1v1h-1zM265.2 620.8h1v1h-1zM259.3 635.6h1v1h-1zM268.3 627.5h1v1h-1zM269.5 631.0h1v1h-1zM266.0 646.7h1v1h-1zM270.1 631.2h1v1h-1zM250.0 624.6h1v1h-1zM270.1 634.5h1v1h-1zM260.5 613.1h1v1h-1zM267.0 629.6h1v1h-1zM260.7 624.0h1v1h-1zM269.5 649.8h1v1h-1zM254.0 622.0h1v1h-1zM261.1 646.3h1v1h-1zM264.1 624.5h1v1h-1zM260.7 626.4h1v1h-1zM259.4 624.2h1v1h-1zM261.0 629.1h1v1h-1zM268.8 626.2h1v1h-1zM253.0 643.0h1v1h-1zM271.0 624.5h1v1h-1zM261.2 630.4h1v1h-1zM273.5 630.0h1v1h-1zM255.3 633.9h1v1h-1zM270.8 633.2h1v1h-1zM258.9 628.5h1v1h-1zM258.8 632.0h1v1h-1zM273.8 628.1h1v1h-1zM268.6 629.9h1v1h-1zM270.1 631.5h1v1h-1zM269.6 635.3h1v1h-1zM250.8 622.9h1v1h-1zM274.7 629.5h1v1h-1zM262.2 627.9h1v1h-1zM269.7 626.3h1v1h-1zM265.1 628.0h1v1h-1zM265.7 627.1h1v1h-1zM261.9 625.9h1v1h-1zM252.0 627.6h1v1h-1zM268.7 632.1h1v1h-1zM263.8 637.7h1v1h-1zM279.7 631.9h1v1h-1zM262.0 628.4h1v1h-1zM255.4 637.7h1v1h-1zM263.6 637.4h1v1h-1zM271.5 624.3h1v1h-1zM267.6 627.3h1v1h-1zM268.4 627.5h1v1h-1zM264.3 632.0h1v1h-1zM259.2 636.3h1v1h-1zM276.7 620.0h1v1h-1zM259.6 630.5h1v1h-1zM254.8 633.6h1v1h-1zM263.0 628.5h1v1h-1zM264.7 649.4h1v1h-1zM257.0 644.6h1v1h-1zM275.7 634.4h1v1h-1zM265.4 619.6h1v1h-1zM260.6 637.7h1v1h-1zM252.1 635.7h1v1h-1zM261.0 626.8h1v1h-1zM266.5 618.0h1v1h-1zM260.3 637.8h1v1h-1zM255.0 643.2h1v1h-1zM254.4 641.2h1v1h-1zM256.1 620.3h1v1h-1zM262.5 622.3h1v1h-1zM255.9 628.3h1v1h-1zM252.4 623.2h1v1h-1zM261.0 637.0h1v1h-1zM263.7 640.4h1v1h-1zM264.0 633.7h1v1h-1zM267.4 628.7h1v1h-1zM259.5 628.7h1v1h-1zM256.6 627.3h1v1h-1zM253.7 616.4h1v1h-1zM251.3 632.8h1v1h-1zM264.7 640.9h1v1h-1zM255.4 639.1h1v1h-1zM264.1 633.4h1v1h-1zM266.2 625.7h1v1h-1zM264.0 630.6h1v1h-1zM256.8 617.8h1v1h-1zM273.7 624.6h1v1h-1zM269.2 617.2h1v1h-1zM278.9 623.5h1v1h-1zM275.0 633.6h1v1h-1zM254.8 635.9h1v1h-1zM263.7 625.2h1v1h-1zM263.1 627.7h1v1h-1zM260.4 637.7h1v1h-1zM255.6 626.3h1v1h-1zM274.3 629.4h1v1h-1zM270.4 614.1h1v1h-1zM254.1 645.5h1v1h-1zM257.8 627.5h1v1h-1zM263.5 646.3h1v1h-1zM269.9 641.4h1v1h-1zM271.2 634.7h1v1h-1zM257.8 619.8h1v1h-1zM272.6 638.8h1v1h-1zM263.7 624.0h1v1h-1zM263.2 639.3h1v1h-1zM263.8 623.2h1v1h-1zM272.0 615.6h1v1h-1zM267.6 626.2h1v1h-1zM258.5 635.0h1v1h-1zM267.7 628.0h1v1h-1zM256.3 635.5h1v1h-1zM266.9 634.6h1v1h-1zM259.8 628.2h1v1h-1zM266.2 632.3h1v1h-1zM261.4 629.1h1v1h-1zM265.4 619.2h1v1h-1zM261.7 630.6h1v1h-1zM272.2 637.2h1v1h-1zM267.7 644.0h1v1h-1zM268.7 628.3h1v1h-1zM254.8 642.4h1v1h-1zM257.1 616.9h1v1h-1zM266.2 608.9h1v1h-1zM271.5 626.1h1v1h-1zM253.3 620.4h1v1h-1zM259.2 635.5h1v1h-1zM255.9 627.1h1v1h-1zM261.2 638.1h1v1h-1zM265.1 627.4h1v1h-1zM253.0 632.5h1v1h-1zM254.5 604.9h1v1h-1zM271.6 614.8h1v1h-1zM258.3 632.9h1v1h-1zM271.0 620.7h1v1h-1zM270.3 635.8h1v1h-1zM258.0 640.9h1v1h-1zM261.3 622.9h1v1h-1zM253.9 627.7h1v1h-1zM268.5 642.4h1v1h-1zM253.0 646.2h1v1h-1zM263.9 635.4h1v1h-1zM268.3 613.7h1v1h-1zM260.0 642.7h1v1h-1zM255.7 629.3h1v1h-1zM259.6 622.7h1v1h-1zM257.2 633.4h1v1h-1zM263.5 641.4h1v1h-1zM274.1 626.8h1v1h-1zM274.7 634.5h1v1h-1zM264.8 623.0h1v1h-1zM262.1 643.1h1v1h-1zM260.3 624.3h1v1h-1zM257.4 630.0h1v1h-1zM265.9 621.2h1v1h-1zM256.1 629.9h1v1h-1zM264.1 637.2h1v1h-1zM263.8 638.8h1v1h-1zM262.3 639.7h1v1h-1zM270.1 614.9h1v1h-1zM265.6 638.9h1v1h-1zM265.3 625.6h1v1h-1zM258.4 624.8h1v1h-1zM267.6 632.9h1v1h-1zM251.9 621.2h1v1h-1zM257.9 626.6h1v1h-1zM266.6 636.3h1v1h-1zM256.2 633.3h1v1h-1zM258.8 640.0h1v1h-1zM260.6 638.3h1v1h-1zM275.0 628.7h1v1h-1zM267.8 626.5h1v1h-1zM258.8 632.5h1v1h-1zM265.8 632.4h1v1h-1zM279.9 625.2h1v1h-1zM259.5 643.1h1v1h-1zM262.5 624.2h1v1h-1zM258.6 635.0h1v1h-1zM260.2 615.7h1v1h-1zM260.4 623.2h1v1h-1zM261.4 625.8h1v1h-1zM274.0 618.8h1v1h-1zM268.4 621.5h1v1h-1zM261.9 612.5h1v1h-1zM266.3 621.4h1v1h-1zM261.6 621.4h1v1h-1zM257.2 638.0h1v1h-1zM263.3 621.9h1v1h-1zM257.0 635.0h1v1h-1zM263.9 643.1h1v1h-1zM257.3 637.2h1v1h-1zM267.4 627.9h1v1h-1zM266.2 629.5h1v1h-1zM261.8 620.3h1v1h-1zM265.7 646.1h1v1h-1zM267.3 639.0h1v1h-1zM264.3 638.5h1v1h-1zM270.8 618.5h1v1h-1zM263.8 635.1h1v1h-1zM270.7 623.9h1v1h-1zM257.6 618.7h1v1h-1zM253.6 625.9h1v1h-1zM260.8 623.9h1v1h-1zM266.5 632.0h1v1h-1zM262.7 636.9h1v1h-1zM263.1 632.3h1v1h-1zM274.5 635.7h1v1h-1zM260.1 617.1h1v1h-1zM267.6 628.6h1v1h-1zM265.3 627.6h1v1h-1zM254.8 635.5h1v1h-1zM264.7 625.9h1v1h-1zM261.2 621.0h1v1h-1zM262.4 611.5h1v1h-1zM247.7 616.5h1v1h-1zM278.2 624.2h1v1h-1zM263.7 627.4h1v1h-1zM256.9 638.5h1v1h-1zM262.4 634.9h1v1h-1zM270.9 620.5h1v1h-1zM256.3 618.9h1v1h-1zM261.5 624.2h1v1h-1zM264.7 631.3h1v1h-1zM266.3 643.5h1v1h-1zM257.9 617.6h1v1h-1zM265.9 633.4h1v1h-1zM257.7 630.7h1v1h-1zM254.9 617.5h1v1h-1zM275.3 634.5h1v1h-1zM258.0 625.8h1v1h-1zM263.6 637.8h1v1h-1zM263.4 637.8h1v1h-1zM269.6 631.3h1v1h-1zM269.1 623.7h1v1h-1zM269.2 637.6h1v1h-1zM263.9 618.2h1v1h-1zM254.0 632.7h1v1h-1zM265.1 649.2h1v1h-1zM267.9 640.3h1v1h-1zM266.7 628.8h1v1h-1zM262.8 641.9h1v1h-1zM258.6 634.7h1v1h-1zM259.0 626.1h1v1h-1zM264.1 620.1h1v1h-1zM257.9 627.2h1v1h-1zM264.9 619.3h1v1h-1zM267.5 635.9h1v1h-1zM273.2 635.7h1v1h-1zM257.7 615.4h1v1h-1zM275.2 644.3h1v1h-1zM258.0 617.2h1v1h-1zM252.7 626.3h1v1h-1zM260.5 628.2h1v1h-1zM268.8 625.6h1v1h-1zM257.6 641.8h1v1h-1zM257.3 636.8h1v1h-1zM256.3 637.1h1v1h-1zM265.9 629.1h1v1h-1zM267.2 633.6h1v1h-1zM262.2 620.8h1v1h-1zM269.1 622.9h1v1h-1zM268.1 622.9h1v1h-1zM273.1 629.0h1v1h-1zM272.4 624.8h1v1h-1zM273.7 618.8h1v1h-1zM256.2 618.2h1v1h-1zM256.1 609.1h1v1h-1zM258.0 645.4h1v1h-1zM271.1 614.6h1v1h-1zM268.5 614.0h1v1h-1zM260.0 622.2h1v1h-1zM258.3 624.3h1v1h-1zM270.9 635.4h1v1h-1zM266.1 636.5h1v1h-1zM270.1 624.5h1v1h-1zM252.9 637.9h1v1h-1zM256.8 623.3h1v1h-1zM258.1 614.4h1v1h-1zM271.0 628.0h1v1h-1zM272.6 630.0h1v1h-1zM257.2 647.6h1v1h-1zM261.7 646.1h1v1h-1zM262.9 635.7h1v1h-1zM270.8 641.4h1v1h-1zM257.6 617.1h1v1h-1zM269.2 634.7h1v1h-1zM264.3 620.5h1v1h-1zM265.1 623.6h1v1h-1zM260.4 628.8h1v1h-1zM258.2 625.8h1v1h-1zM261.1 633.6h1v1h-1zM260.5 635.4h1v1h-1zM262.0 635.4h1v1h-1zM251.3 641.8h1v1h-1zM255.3 627.9h1v1h-1zM269.5 615.4h1v1h-1zM258.6 625.7h1v1h-1zM268.0 621.3h1v1h-1zM267.5 624.8h1v1h-1zM260.7 618.3h1v1h-1zM250.0 633.7h1v1h-1zM255.8 622.3h1v1h-1zM266.7 624.0h1v1h-1zM265.0 641.1h1v1h-1zM270.1 625.9h1v1h-1zM252.3 611.8h1v1h-1zM274.0 622.0h1v1h-1zM262.6 624.5h1v1h-1zM273.2 627.1h1v1h-1zM257.9 632.0h1v1h-1zM257.8 617.7h1v1h-1zM254.3 634.0h1v1h-1zM255.3 636.5h1v1h-1zM275.2 639.0h1v1h-1zM262.9 637.6h1v1h-1zM254.3 622.9h1v1h-1zM259.4 636.4h1v1h-1zM266.6 626.8h1v1h-1zM257.6 638.9h1v1h-1zM263.0 624.8h1v1h-1zM261.2 639.9h1v1h-1zM259.2 639.6h1v1h-1zM266.2 628.5h1v1h-1zM253.5 633.4h1v1h-1zM259.6 629.0h1v1h-1zM266.4 631.1h1v1h-1zM275.0 641.4h1v1h-1zM268.3 641.2h1v1h-1zM254.7 639.2h1v1h-1zM277.8 623.1h1v1h-1zM259.0 642.2h1v1h-1zM267.8 608.9h1v1h-1zM262.0 635.1h1v1h-1zM256.5 642.3h1v1h-1zM267.7 632.8h1v1h-1zM272.4 625.4h1v1h-1zM267.3 628.4h1v1h-1zM265.0 636.5h1v1h-1zM263.9 632.2h1v1h-1zM266.1 628.1h1v1h-1zM272.7 626.9h1v1h-1zM269.7 625.6h1v1h-1zM259.0 619.3h1v1h-1zM265.1 617.4h1v1h-1zM260.6 636.4h1v1h-1zM263.6 634.3h1v1h-1zM261.6 645.2h1v1h-1zM263.9 635.4h1v1h-1zM257.6 629.5h1v1h-1zM274.0 631.0h1v1h-1zM258.7 638.5h1v1h-1zM269.4 641.5h1v1h-1zM264.6 623.6h1v1h-1zM258.9 629.4h1v1h-1zM261.4 619.4h1v1h-1zM256.8 628.6h1v1h-1zM256.4 634.4h1v1h-1zM266.9 639.3h1v1h-1zM259.1 617.8h1v1h-1zM267.6 628.4h1v1h-1zM268.7 623.3h1v1h-1zM265.1 627.0h1v1h-1zM260.8 623.6h1v1h-1zM258.5 642.5h1v1h-1zM255.9 632.0h1v1h-1zM266.9 639.2h1v1h-1zM270.6 643.6h1v1h-1zM262.3 640.2h1v1h-1zM268.5 618.4h1v1h-1zM262.6 624.8h1v1h-1zM270.4 625.5h1v1h-1zM281.3 632.1h1v1h-1zM254.0 631.9h1v1h-1zM252.0 644.1h1v1h-1zM263.5 611.5h1v1h-1zM254.7 627.7h1v1h-1zM264.3 625.5h1v1h-1zM259.4 613.7h1v1h-1zM265.4 622.3h1v1h-1zM269.3 645.9h1v1h-1zM251.8 620.1h1v1h-1zM248.6 637.2h1v1h-1zM272.0 631.5h1v1h-1zM262.0 625.1h1v1h-1zM262.1 627.2h1v1h-1zM265.7 617.8h1v1h-1zM277.0 626.3h1v1h-1zM258.7 633.8h1v1h-1zM258.4 638.2h1v1h-1zM256.1 636.1h1v1h-1zM263.8 625.5h1v1h-1zM260.9 633.7h1v1h-1zM268.6 619.1h1v1h-1zM259.4 643.8h1v1h-1zM261.7 627.9h1v1h-1zM269.0 623.9h1v1h-1zM257.4 618.5h1v1h-1zM271.6 629.6h1v1h-1zM262.4 632.5h1v1h-1zM262.8 636.3h1v1h-1zM261.8 627.2h1v1h-1zM264.1 622.9h1v1h-1zM267.3 640.2h1v1h-1zM261.7 624.9h1v1h-1zM257.2 630.7h1v1h-1zM258.0 621.5h1v1h-1zM262.3 622.0h1v1h-1zM270.2 637.6h1v1h-1zM263.5 621.9h1v1h-1zM257.2 642.6h1v1h-1zM267.0 618.2h1v1h-1zM263.7 651.1h1v1h-1zM256.5 632.2h1v1h-1zM257.2 615.8h1v1h-1zM259.2 633.9h1v1h-1zM263.7 627.5h1v1h-1zM271.6 640.8h1v1h-1zM264.7 624.8h1v1h-1zM274.8 635.9h1v1h-1zM266.9 623.2h1v1h-1zM247.3 624.6h1v1h-1zM253.3 625.0h1v1h-1zM266.2 620.7h1v1h-1zM252.2 631.6h1v1h-1zM273.9 640.1h1v1h-1zM269.6 621.0h1v1h-1zM259.8 642.3h1v1h-1zM271.9 625.1h1v1h-1zM261.7 636.8h1v1h-1zM266.9 610.2h1v1h-1zM266.4 634.1h1v1h-1zM266.2 622.8h1v1h-1zM269.2 630.5h1v1h-1zM265.7 642.5h1v1h-1zM259.5 635.4h1v1h-1zM254.0 621.1h1v1h-1zM256.6 620.0h1v1h-1zM273.8 645.7h1v1h-1zM254.6 627.4h1v1h-1zM268.2 627.5h1v1h-1zM262.8 644.3h1v1h-1zM259.2 623.0h1v1h-1zM259.0 639.2h1v1h-1zM269.6 630.2h1v1h-1zM265.6 626.7h1v1h-1zM272.6 612.7h1v1h-1zM256.8 638.7h1v1h-1zM257.6 637.4h1v1h-1zM256.2 632.4h1v1h-1zM267.8 623.0h1v1h-1zM271.5 648.9h1v1h-1zM251.4 633.5h1v1h-1zM259.7 635.6h1v1h-1zM256.9 637.0h1v1h-1zM268.1 640.6h1v1h-1zM265.0 615.4h1v1h-1zM256.0 630.7h1v1h-1zM263.4 621.2h1v1h-1zM264.3 633.1h1v1h-1zM269.2 618.0h1v1h-1zM255.3 640.8h1v1h-1zM257.5 640.4h1v1h-1zM257.1 604.0h1v1h-1zM268.5 621.4h1v1h-1zM269.7 636.5h1v1h-1zM270.8 636.1h1v1h-1zM272.6 624.5h1v1h-1zM252.4 630.2h1v1h-1zM270.1 640.4h1v1h-1zM254.0 623.1h1v1h-1zM268.3 621.5h1v1h-1zM255.6 620.6h1v1h-1zM279.8 625.5h1v1h-1zM267.0 637.0h1v1h-1zM254.6 634.3h1v1h-1zM259.3 628.3h1v1h-1zM267.1 633.2h1v1h-1zM266.4 609.9h1v1h-1zM264.0 635.7h1v1h-1zM275.1 625.9h1v1h-1zM268.9 637.3h1v1h-1zM261.5 640.3h1v1h-1zM264.5 645.5h1v1h-1zM271.6 622.8h1v1h-1zM253.9 622.3h1v1h-1zM254.2 634.1h1v1h-1zM250.9 624.4h1v1h-1zM268.1 647.8h1v1h-1zM262.2 613.6h1v1h-1zM265.1 634.7h1v1h-1zM258.5 625.3h1v1h-1zM263.8 622.9h1v1h-1zM267.8 615.3h1v1h-1zM276.6 628.8h1v1h-1zM260.4 630.4h1v1h-1zM251.1 628.4h1v1h-1zM266.4 628.3h1v1h-1zM261.2 629.9h1v1h-1zM265.1 622.6h1v1h-1zM259.0 633.5h1v1h-1zM254.4 643.0h1v1h-1zM264.8 639.6h1v1h-1zM269.3 637.4h1v1h-1zM260.0 633.1h1v1h-1zM272.0 623.9h1v1h-1zM259.2 628.2h1v1h-1zM256.1 640.1h1v1h-1zM264.5 627.6h1v1h-1zM264.4 622.0h1v1h-1zM265.6 617.7h1v1h-1zM265.7 637.3h1v1h-1zM254.2 629.8h1v1h-1zM261.3 614.8h1v1h-1zM277.1 620.5h1v1h-1zM249.6 623.5h1v1h-1zM262.9 616.8h1v1h-1zM267.9 639.7h1v1h-1zM258.1 627.2h1v1h-1zM264.4 629.2h1v1h-1zM260.4 629.9h1v1h-1zM268.8 624.2h1v1h-1zM258.7 631.3h1v1h-1zM264.6 639.7h1v1h-1zM278.5 627.2h1v1h-1zM257.0 647.2h1v1h-1zM261.7 624.8h1v1h-1zM255.4 617.5h1v1h-1zM264.3 621.2h1v1h-1zM261.6 629.4h1v1h-1zM264.3 624.6h1v1h-1zM256.2 621.6h1v1h-1zM266.3 620.6h1v1h-1zM270.3 638.7h1v1h-1zM259.4 644.5h1v1h-1zM268.5 640.1h1v1h-1zM254.8 636.1h1v1h-1zM267.4 626.1h1v1h-1zM268.2 642.6h1v1h-1zM262.9 630.3h1v1h-1zM265.8 623.5h1v1h-1zM263.8 633.2h1v1h-1zM264.6 628.0h1v1h-1zM261.3 616.5h1v1h-1zM258.5 632.2h1v1h-1zM268.6 615.7h1v1h-1zM252.2 621.3h1v1h-1zM260.0 625.6h1v1h-1zM249.2 622.8h1v1h-1zM266.6 628.5h1v1h-1zM261.1 619.4h1v1h-1zM258.4 622.9h1v1h-1zM267.6 623.5h1v1h-1zM261.8 621.7h1v1h-1zM254.1 634.0h1v1h-1zM269.8 625.9h1v1h-1zM267.7 633.8h1v1h-1zM258.3 633.4h1v1h-1zM262.8 630.3h1v1h-1zM254.7 622.4h1v1h-1zM265.5 635.2h1v1h-1zM261.9 628.1h1v1h-1zM275.1 630.9h1v1h-1zM276.0 636.1h1v1h-1zM259.6 640.4h1v1h-1zM246.5 630.2h1v1h-1zM259.6 627.6h1v1h-1zM264.0 623.9h1v1h-1zM268.7 628.5h1v1h-1zM258.7 638.3h1v1h-1zM259.5 623.3h1v1h-1zM265.3 637.0h1v1h-1zM265.6 622.0h1v1h-1zM264.8 624.6h1v1h-1zM267.2 642.9h1v1h-1zM269.3 650.1h1v1h-1zM268.0 620.5h1v1h-1zM259.9 631.1h1v1h-1zM251.7 630.9h1v1h-1zM263.7 645.6h1v1h-1zM263.4 632.9h1v1h-1zM276.7 626.0h1v1h-1zM268.2 612.7h1v1h-1zM270.1 626.7h1v1h-1zM253.6 630.0h1v1h-1zM257.0 635.2h1v1h-1zM265.9 632.0h1v1h-1zM271.6 625.5h1v1h-1zM262.6 614.8h1v1h-1zM258.0 633.1h1v1h-1zM265.9 618.9h1v1h-1zM263.5 624.4h1v1h-1zM268.6 634.8h1v1h-1zM250.5 630.8h1v1h-1zM264.6 633.5h1v1h-1zM260.1 630.3h1v1h-1zM261.7 614.2h1v1h-1zM259.3 629.0h1v1h-1zM260.7 643.2h1v1h-1zM254.6 633.7h1v1h-1zM264.8 631.8h1v1h-1zM258.2 621.6h1v1h-1zM274.3 628.2h1v1h-1zM271.7 633.0h1v1h-1zM261.0 639.9h1v1h-1zM261.9 627.3h1v1h-1zM272.7 629.6h1v1h-1zM255.2 630.7h1v1h-1zM263.3 619.2h1v1h-1zM265.6 637.3h1v1h-1zM251.1 617.7h1v1h-1zM259.0 636.5h1v1h-1zM255.9 647.4h1v1h-1zM272.0 623.8h1v1h-1zM268.2 632.0h1v1h-1zM252.3 633.1h1v1h-1zM274.9 623.1h1v1h-1zM255.5 625.1h1v1h-1zM263.6 626.0h1v1h-1zM261.4 636.0h1v1h-1zM258.1 621.7h1v1h-1zM249.1 635.6h1v1h-1zM276.9 621.4h1v1h-1zM257.8 631.8h1v1h-1zM264.2 642.5h1v1h-1zM253.9 630.3h1v1h-1zM254.7 631.5h1v1h-1zM269.8 636.0h1v1h-1zM255.3 614.0h1v1h-1zM260.9 642.2h1v1h-1zM257.5 623.4h1v1h-1zM258.0 612.8h1v1h-1zM270.9 638.9h1v1h-1zM264.0 631.1h1v1h-1zM263.1 629.5h1v1h-1zM264.4 643.0h1v1h-1zM251.3 625.6h1v1h-1zM259.0 625.6h1v1h-1zM265.6 632.2h1v1h-1zM259.2 635.7h1v1h-1zM270.2 628.8h1v1h-1zM265.3 616.3h1v1h-1zM256.8 633.8h1v1h-1zM261.0 628.9h1v1h-1zM256.4 625.4h1v1h-1zM264.9 639.4h1v1h-1zM260.4 613.9h1v1h-1zM269.8 626.2h1v1h-1zM264.8 644.8h1v1h-1zM274.2 618.8h1v1h-1zM259.2 632.7h1v1h-1zM266.9 628.7h1v1h-1zM274.1 636.2h1v1h-1zM274.2 636.0h1v1h-1zM266.4 622.0h1v1h-1zM266.7 617.9h1v1h-1zM262.1 630.9h1v1h-1zM254.4 629.8h1v1h-1zM268.1 624.8h1v1h-1zM256.2 638.4h1v1h-1zM258.0 641.9h1v1h-1zM275.0 633.9h1v1h-1zM262.9 625.9h1v1h-1zM266.2 639.0h1v1h-1zM262.7 623.9h1v1h-1zM255.3 640.9h1v1h-1zM255.2 620.4h1v1h-1zM267.7 635.1h1v1h-1zM273.1 642.4h1v1h-1zM259.6 629.1h1v1h-1zM271.4 634.4h1v1h-1zM265.9 621.6h1v1h-1zM269.7 622.1h1v1h-1zM259.5 622.6h1v1h-1zM272.7 629.8h1v1h-1zM260.1 632.8h1v1h-1zM265.1 631.4h1v1h-1zM253.7 622.2h1v1h-1zM261.7 623.9h1v1h-1zM252.1 642.0h1v1h-1zM264.5 632.2h1v1h-1zM257.0 624.1h1v1h-1zM257.8 638.3h1v1h-1zM253.0 635.8h1v1h-1zM261.7 622.5h1v1h-1zM264.8 625.7h1v1h-1zM258.1 621.9h1v1h-1z" fill="#0b4898" stroke="none" stroke-width="1" fill-opacity="0.7"/>
<path d="M256.9 597.4 L279.1 606.8 L287.9 631 L285.9 644.5 L256.2 660 L244.1 646.5 L240.8 618.9 Z" fill="none" stroke="#3a3a3a" stroke-width="0.9" />
<ellipse cx="232.6" cy="638.5" rx="4.6" ry="8" transform="rotate(-14 232.6 638.5)" fill="none" stroke="#2f6b2f" stroke-width="0.9"/>
<path d="M234.12 634.82h0.9v0.9h-0.9zM231.77 639.62h0.9v0.9h-0.9zM233.71 638.64h0.9v0.9h-0.9zM231.14 639.31h0.9v0.9h-0.9zM234.23 638.91h0.9v0.9h-0.9zM230.52 636.01h0.9v0.9h-0.9zM231.87 635.35h0.9v0.9h-0.9zM231.79 638.12h0.9v0.9h-0.9zM234.12 639.68h0.9v0.9h-0.9zM230.43 641.14h0.9v0.9h-0.9zM232.24 638.38h0.9v0.9h-0.9zM232.56 640.56h0.9v0.9h-0.9zM230.57 634.71h0.9v0.9h-0.9zM230.56 636.71h0.9v0.9h-0.9zM234.17 634.52h0.9v0.9h-0.9zM232.56 640.46h0.9v0.9h-0.9zM233.33 640.57h0.9v0.9h-0.9zM231.66 640.04h0.9v0.9h-0.9zM233.64 639.85h0.9v0.9h-0.9zM234.15 641.36h0.9v0.9h-0.9zM231.39 635.41h0.9v0.9h-0.9zM234.07 635.66h0.9v0.9h-0.9zM232.43 637.25h0.9v0.9h-0.9zM231.37 635.23h0.9v0.9h-0.9zM234.21 634.79h0.9v0.9h-0.9z" fill="#58b058" stroke="none" stroke-width="1" fill-opacity="0.8"/>
<path d="M233.39 672.91h0.8v0.8h-0.8zM233.66 673.28h0.8v0.8h-0.8zM244.09 679.32h0.8v0.8h-0.8zM228.64 663.74h0.8v0.8h-0.8zM232.31 669.43h0.8v0.8h-0.8zM241.08 675.57h0.8v0.8h-0.8zM253.41 672.58h0.8v0.8h-0.8zM224.93 666.86h0.8v0.8h-0.8zM255.33 667.21h0.8v0.8h-0.8zM224 671.09h0.8v0.8h-0.8zM222.79 663.07h0.8v0.8h-0.8zM239.12 681.67h0.8v0.8h-0.8zM256.98 666.04h0.8v0.8h-0.8zM225.96 667.92h0.8v0.8h-0.8zM256.16 662.52h0.8v0.8h-0.8zM219.98 662.32h0.8v0.8h-0.8zM257.03 669.14h0.8v0.8h-0.8zM224.97 661.46h0.8v0.8h-0.8zM257.19 665.88h0.8v0.8h-0.8zM234.32 674.41h0.8v0.8h-0.8zM223.36 662.73h0.8v0.8h-0.8zM258.99 663.7h0.8v0.8h-0.8zM258.86 667.23h0.8v0.8h-0.8zM237.16 677.82h0.8v0.8h-0.8zM227.37 672.1h0.8v0.8h-0.8zM254.85 670.55h0.8v0.8h-0.8zM244.79 671.79h0.8v0.8h-0.8zM233.86 679.98h0.8v0.8h-0.8zM260.73 664.89h0.8v0.8h-0.8zM222.23 672.26h0.8v0.8h-0.8zM244.57 672.95h0.8v0.8h-0.8zM238.7 672.91h0.8v0.8h-0.8zM245.59 670.22h0.8v0.8h-0.8zM256.32 667.47h0.8v0.8h-0.8zM235.76 672.28h0.8v0.8h-0.8zM236.41 674.34h0.8v0.8h-0.8zM226.94 671.9h0.8v0.8h-0.8zM226.38 667.93h0.8v0.8h-0.8zM244.58 675.24h0.8v0.8h-0.8zM234.45 677.62h0.8v0.8h-0.8zM238.73 679.1h0.8v0.8h-0.8zM242.21 678.35h0.8v0.8h-0.8zM238.14 678.94h0.8v0.8h-0.8zM255.73 671.33h0.8v0.8h-0.8zM249.83 675.22h0.8v0.8h-0.8zM241.42 675.91h0.8v0.8h-0.8zM235.82 665.93h0.8v0.8h-0.8zM260.47 669.05h0.8v0.8h-0.8zM258.37 669.15h0.8v0.8h-0.8zM250.98 675.9h0.8v0.8h-0.8zM244.58 677.45h0.8v0.8h-0.8zM226.09 671.26h0.8v0.8h-0.8zM217.59 659.84h0.8v0.8h-0.8zM249.33 680h0.8v0.8h-0.8zM250.94 670.66h0.8v0.8h-0.8zM243.82 675.37h0.8v0.8h-0.8zM241.92 671.57h0.8v0.8h-0.8zM258.42 668.9h0.8v0.8h-0.8zM237.07 673.06h0.8v0.8h-0.8zM241.84 670.81h0.8v0.8h-0.8zM252.91 676.24h0.8v0.8h-0.8zM253.55 668.76h0.8v0.8h-0.8zM254.26 668.99h0.8v0.8h-0.8zM248.5 679.03h0.8v0.8h-0.8zM227.98 672.19h0.8v0.8h-0.8zM226.97 669.13h0.8v0.8h-0.8zM239.73 680.88h0.8v0.8h-0.8zM254.09 674.06h0.8v0.8h-0.8zM255.11 665.24h0.8v0.8h-0.8zM223.62 666.65h0.8v0.8h-0.8zM246.92 682.85h0.8v0.8h-0.8zM231.04 670.21h0.8v0.8h-0.8zM257.42 664.12h0.8v0.8h-0.8zM257.12 664.96h0.8v0.8h-0.8zM252.19 673.05h0.8v0.8h-0.8zM234.81 672.11h0.8v0.8h-0.8zM221.44 666.22h0.8v0.8h-0.8zM260.53 667.45h0.8v0.8h-0.8zM224.65 666.8h0.8v0.8h-0.8zM225.84 672.18h0.8v0.8h-0.8zM230.38 673.97h0.8v0.8h-0.8zM255.38 671.41h0.8v0.8h-0.8zM234.98 670.41h0.8v0.8h-0.8zM253 673.55h0.8v0.8h-0.8zM245.9 676.64h0.8v0.8h-0.8zM259.62 664.28h0.8v0.8h-0.8zM250.08 675.56h0.8v0.8h-0.8zM237.25 679.63h0.8v0.8h-0.8zM233.39 671.47h0.8v0.8h-0.8zM241.54 672.49h0.8v0.8h-0.8zM221.26 663.21h0.8v0.8h-0.8zM235.53 676.61h0.8v0.8h-0.8zM255.98 666.48h0.8v0.8h-0.8zM256.49 668.78h0.8v0.8h-0.8zM243.63 677.04h0.8v0.8h-0.8zM230.81 670.2h0.8v0.8h-0.8zM238.27 673.59h0.8v0.8h-0.8zM254.38 671.51h0.8v0.8h-0.8zM236.26 671.06h0.8v0.8h-0.8zM261.6 663.58h0.8v0.8h-0.8zM226.96 673.97h0.8v0.8h-0.8zM258.85 668.5h0.8v0.8h-0.8zM258.22 671.85h0.8v0.8h-0.8zM223.8 664.94h0.8v0.8h-0.8zM233.99 678.13h0.8v0.8h-0.8zM225.55 668.45h0.8v0.8h-0.8zM229.51 665.68h0.8v0.8h-0.8zM221.27 661.36h0.8v0.8h-0.8zM251.84 666.81h0.8v0.8h-0.8zM242.58 675.32h0.8v0.8h-0.8zM255.24 669h0.8v0.8h-0.8zM250.58 669.44h0.8v0.8h-0.8zM244.34 676.08h0.8v0.8h-0.8zM256.87 670.89h0.8v0.8h-0.8zM245.54 679.79h0.8v0.8h-0.8zM246.06 675.7h0.8v0.8h-0.8zM226.39 668.63h0.8v0.8h-0.8zM255.17 667.32h0.8v0.8h-0.8zM261.87 664.91h0.8v0.8h-0.8zM236.92 677.47h0.8v0.8h-0.8z" fill="#e8dc90" stroke="none" stroke-width="1" fill-opacity="0.45"/>
<path d="M244.6 655.4 C243 662 241 668 240.8 672.6 L239.3 672.2" fill="none" stroke="#8aaed6" stroke-width="0.9" />
<path d="M237.7 654.2 C233 660 231 666 232.5 671 C234 676 240 679 248 678.5" fill="none" stroke="#d8dcc0" stroke-width="0.9" />
<line x1="195.7" y1="593" x2="195.7" y2="682.8" stroke="#231f20" stroke-width="1.25" />
<line x1="195.2" y1="682.3" x2="295.4" y2="682.3" stroke="#231f20" stroke-width="1.25" />
<text x="219.2" y="594.8" font-size="5.2" text-anchor="middle" fill="#231f20" >CD62P+ PAC-1+</text>
<text x="221.5" y="600.8" font-size="5.2" text-anchor="middle" fill="#231f20" >74,0</text>
<text x="219.2" y="621.8" font-size="5.2" text-anchor="middle" fill="#231f20" >CD62P+ PAC-1&#8211;</text>
<text x="220.4" y="627.6" font-size="5.2" text-anchor="middle" fill="#231f20" >10,6</text>
<text class="c" x="189.3" y="637.6" font-size="9.8" text-anchor="middle" textLength="26" lengthAdjust="spacingAndGlyphs" fill="#231f20" transform="rotate(-90 189.3 637.6)">t-SNE 2</text>
<text class="c" x="248" y="695.2" font-size="9.8" text-anchor="middle" textLength="23.5" lengthAdjust="spacingAndGlyphs" fill="#231f20">t-SNE 1</text>
<rect x="371.25" y="661.99" width="25" height="20.51" fill="#f7cbcb" stroke="none" stroke-width="0.8" />
<rect x="410.5" y="640.35" width="26.25" height="42.15" fill="#dcc4c8" stroke="none" stroke-width="0.8" />
<line x1="383.75" y1="661.99" x2="383.75" y2="635.13" stroke="#333" stroke-width="0.9" />
<line x1="378.2" y1="635.13" x2="389.3" y2="635.13" stroke="#333" stroke-width="0.9" />
<line x1="423.6" y1="640.35" x2="423.6" y2="609.76" stroke="#333" stroke-width="0.9" />
<line x1="418" y1="609.76" x2="429.2" y2="609.76" stroke="#333" stroke-width="0.9" />
<line x1="357" y1="588" x2="357" y2="683" stroke="#231f20" stroke-width="1.25" />
<line x1="356.5" y1="682.5" x2="454" y2="682.5" stroke="#231f20" stroke-width="1.25" />
<line x1="354" y1="682.5" x2="357" y2="682.5" stroke="#231f20" stroke-width="0.9" />
<text x="350.5" y="685.4" font-size="8" text-anchor="end" fill="#231f20" >0</text>
<line x1="354" y1="663.85" x2="357" y2="663.85" stroke="#231f20" stroke-width="0.9" />
<text x="350.5" y="666.75" font-size="8" text-anchor="end" fill="#231f20" >5</text>
<line x1="354" y1="645.2" x2="357" y2="645.2" stroke="#231f20" stroke-width="0.9" />
<text x="350.5" y="648.1" font-size="8" text-anchor="end" fill="#231f20" >10</text>
<line x1="354" y1="626.55" x2="357" y2="626.55" stroke="#231f20" stroke-width="0.9" />
<text x="350.5" y="629.45" font-size="8" text-anchor="end" fill="#231f20" >15</text>
<line x1="354" y1="607.9" x2="357" y2="607.9" stroke="#231f20" stroke-width="0.9" />
<text x="350.5" y="610.8" font-size="8" text-anchor="end" fill="#231f20" >20</text>
<line x1="354" y1="589.25" x2="357" y2="589.25" stroke="#231f20" stroke-width="0.9" />
<text x="350.5" y="592.15" font-size="8" text-anchor="end" fill="#231f20" >25</text>
<line x1="383.75" y1="682.5" x2="383.75" y2="685" stroke="#231f20" stroke-width="0.9" />
<line x1="423.6" y1="682.5" x2="423.6" y2="685" stroke="#231f20" stroke-width="0.9" />
<text x="383.75" y="696.2" font-size="8" text-anchor="middle" fill="#231f20" >sepsis</text>
<text x="423.6" y="696.2" font-size="8" text-anchor="middle" fill="#231f20" >COVID-19</text>
<path d="M384 600 V597.5 H423.4 V600" fill="none" stroke="#333" stroke-width="0.8" />
<text x="403.7" y="597.5" font-size="9.5" text-anchor="middle" fill="#231f20" >*</text>
<text class="c" x="333.6" y="635.5" font-size="8" text-anchor="middle" textLength="5.5" lengthAdjust="spacingAndGlyphs" fill="#231f20" transform="rotate(-90 333.6 635.5)">%</text>
</svg>
</body></html>
